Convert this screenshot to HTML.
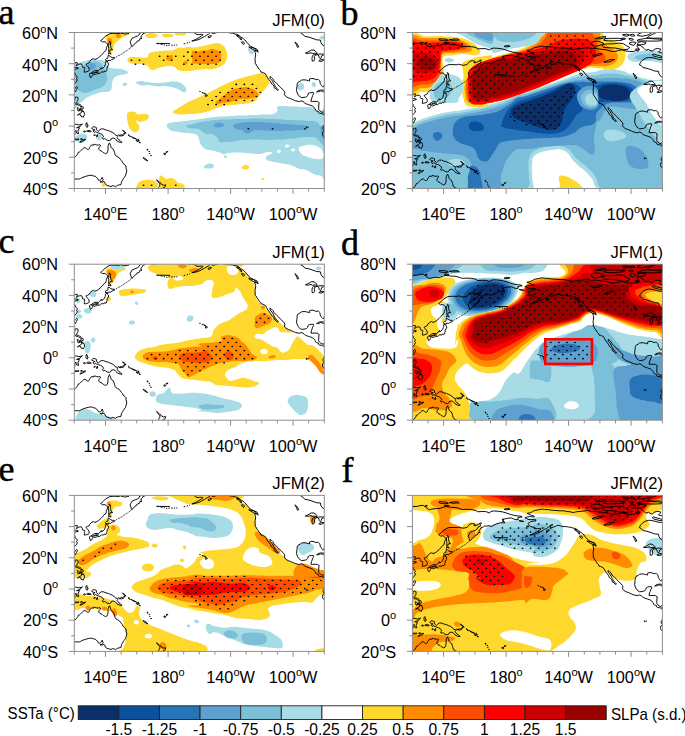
<!DOCTYPE html><html><head><meta charset="utf-8"><style>html,body{margin:0;padding:0;background:#fff;overflow:hidden}</style></head><body><svg width="685" height="736" viewBox="0 0 685 736" style="display:block">
<rect width="685" height="736" fill="#fff"/>
<defs>
<clipPath id="cpa"><rect x="74.3" y="32.5" width="250.0" height="156.0"/></clipPath>
<clipPath id="cpb"><rect x="412.4" y="32.5" width="250.0" height="156.0"/></clipPath>
<clipPath id="cpc"><rect x="74.3" y="264.2" width="250.0" height="156.0"/></clipPath>
<clipPath id="cpd"><rect x="412.4" y="264.2" width="250.0" height="156.0"/></clipPath>
<clipPath id="cpe"><rect x="74.3" y="495.4" width="250.0" height="156.0"/></clipPath>
<clipPath id="cpf"><rect x="412.4" y="495.4" width="250.0" height="156.0"/></clipPath>
</defs>
<g clip-path="url(#cpa)">
<path fill-rule="evenodd" fill="#ffd82e" d="M111.0,53.3L110.5,53.3L109.8,52.5L107.6,43.0L106.2,40.2L105.7,38.5L105.7,36.5L106.5,35.2L107.3,35.0L109.3,33.9L110.3,33.8L111.0,33.4L118.0,32.4L127.8,32.4L129.4,32.8L129.7,33.2L129.7,34.0L128.9,35.0L127.8,35.2L126.3,35.8L125.0,35.9L123.5,36.7L120.7,38.5L120.3,39.0L115.2,43.0L114.3,44.5L113.1,50.0L112.6,51.5L112.2,52.2L111.0,53.3ZM182.1,35.6L178.1,35.6L176.3,35.3L175.3,34.9L174.7,34.2L174.6,33.8L175.3,33.2L178.1,32.6L184.6,32.6L185.8,33.0L186.3,33.5L186.2,34.2L185.1,35.1L182.1,35.6ZM151.8,38.1L149.6,38.1L148.8,37.9L147.6,37.9L146.8,37.6L146.1,37.0L145.7,36.5L145.3,35.0L145.5,34.5L146.1,34.0L148.1,33.4L149.8,33.1L152.1,33.1L153.1,33.4L154.3,33.4L156.6,33.9L157.6,34.8L157.7,35.2L157.4,36.0L156.3,37.1L155.3,37.6L154.1,37.9L152.3,37.9L151.8,38.1ZM169.3,37.3L165.1,37.4L163.8,37.0L162.2,35.8L161.8,34.8L162.3,34.2L163.6,33.9L166.1,33.9L167.1,33.6L167.8,33.9L170.3,33.9L171.8,34.2L172.8,34.5L173.6,35.2L173.6,36.0L173.1,36.3L169.3,37.3ZM189.8,71.1L183.1,71.1L179.6,70.6L178.8,70.2L177.7,70.0L175.1,67.2L174.1,66.7L171.8,66.1L166.8,66.1L165.8,66.4L164.6,66.4L162.1,67.1L159.6,67.4L158.3,68.1L157.3,68.2L155.1,69.5L153.8,70.1L151.8,70.3L150.6,69.8L148.8,67.2L147.1,65.5L144.3,64.4L142.6,64.1L140.1,64.1L139.1,63.9L134.1,64.1L131.3,63.6L129.8,63.0L127.7,60.8L127.4,60.0L127.4,59.0L127.9,58.2L129.1,57.4L129.8,57.1L131.6,56.9L135.1,56.9L135.8,57.1L141.1,57.4L143.8,57.9L146.6,57.6L147.8,57.0L148.3,56.5L148.4,55.0L148.9,53.5L151.3,52.2L155.8,51.4L158.6,51.4L159.3,51.1L161.1,51.1L164.1,50.6L172.3,50.6L176.1,48.8L177.2,47.8L178.1,47.4L179.6,47.4L180.3,47.6L182.3,47.6L183.3,47.9L188.1,47.1L190.8,47.1L191.8,47.4L196.3,47.4L197.1,47.1L198.3,47.1L203.1,45.9L204.3,45.9L205.8,45.2L211.3,43.9L212.3,43.9L213.6,43.4L215.6,43.1L217.6,43.1L219.1,43.4L221.3,44.2L223.1,45.4L224.4,46.8L225.4,48.5L226.9,52.2L227.2,53.8L227.2,56.2L226.9,58.2L226.1,60.5L224.9,63.0L223.7,64.5L222.1,65.8L220.1,66.8L217.3,67.8L214.3,68.8L212.6,69.1L210.6,69.4L208.3,69.4L207.3,69.1L203.8,69.1L202.6,69.4L200.3,69.4L199.6,69.6L196.3,69.9L189.8,71.1ZM187.8,114.3L179.1,114.4L178.1,114.1L176.1,114.1L173.3,113.2L173.0,113.0L172.7,112.2L173.8,110.7L175.6,109.8L177.8,108.2L187.3,102.4L189.6,101.6L191.6,100.4L197.1,98.3L201.6,95.9L203.8,95.1L211.8,91.1L213.6,89.9L224.1,84.7L226.3,83.8L227.8,82.9L237.8,78.9L238.8,78.8L240.3,78.2L241.6,78.1L243.1,77.4L245.3,77.1L247.8,76.2L257.8,73.7L259.1,73.6L261.1,73.1L262.8,73.2L265.3,74.2L267.4,76.8L268.4,78.8L269.1,81.0L269.2,82.2L268.8,83.8L266.9,86.8L265.2,89.0L260.4,94.0L258.9,96.5L256.4,99.8L255.1,100.8L252.8,102.0L251.3,102.6L250.1,102.6L247.6,103.4L246.3,103.4L243.8,103.9L242.6,103.9L241.8,104.1L239.3,104.1L238.6,104.4L236.3,104.4L233.6,104.9L231.3,104.9L230.6,105.1L223.3,105.9L220.1,106.7L218.8,107.3L214.1,108.9L213.1,109.5L211.1,110.2L210.3,110.8L204.1,112.6L202.3,112.6L200.6,113.1L199.3,113.1L194.6,113.9L188.3,114.1L187.8,114.3ZM135.6,132.3L134.1,132.3L132.6,131.6L130.6,129.6L129.7,128.5L129.0,127.0L127.9,123.5L127.2,119.8L126.9,116.2L126.7,115.5L127.0,114.0L127.5,112.9L128.1,112.4L129.3,111.9L131.8,111.4L132.8,111.4L135.1,112.0L135.7,112.5L136.7,114.0L137.6,114.4L139.6,114.4L141.8,113.9L145.6,113.9L147.1,114.2L148.1,114.8L148.9,115.8L148.6,117.8L146.8,119.9L145.6,120.6L142.1,121.6L139.3,121.9L138.3,121.6L137.1,120.4L136.8,120.3L136.3,120.5L136.0,121.0L136.0,121.5L137.4,123.5L138.9,125.0L139.4,126.2L139.4,127.8L138.7,130.0L137.6,131.3L135.6,132.3ZM246.3,169.6L244.8,169.6L242.8,169.1L241.8,168.0L241.8,167.0L242.3,166.4L244.8,165.0L246.1,164.9L247.3,165.2L248.6,166.0L249.1,167.0L249.2,167.8L248.9,168.2L248.1,169.0L246.3,169.6ZM184.8,188.3L160.6,188.4L159.8,188.2L159.7,188.0L159.9,187.2L159.2,184.0L159.2,182.0L158.9,181.0L158.9,179.0L159.5,176.5L160.3,175.4L161.3,175.5L163.6,177.0L165.3,178.6L165.8,178.9L167.6,178.8L169.6,177.9L171.6,177.9L172.8,178.2L174.6,179.1L176.2,180.8L176.8,181.8L178.1,182.8L181.8,183.4L183.4,184.2L184.4,185.8L184.9,188.0L184.8,188.3ZM263.1,180.3L262.6,180.3L262.1,180.0L261.5,179.2L261.5,178.5L262.1,178.0L263.1,177.9L263.6,178.2L263.9,178.8L263.8,179.5L263.1,180.3ZM157.1,188.3L136.3,188.4L135.8,188.2L135.7,188.0L136.9,185.8L137.5,183.5L138.6,182.4L140.3,181.2L144.1,179.9L148.6,179.6L149.6,179.9L151.1,179.9L153.8,180.4L155.3,181.2L156.8,182.2L157.6,183.0L158.2,184.8L157.6,187.2L157.1,188.3ZM104.0,187.0L103.0,187.0L102.3,186.5L101.7,185.0L101.7,184.2L102.0,183.8L102.8,182.9L103.3,182.6L103.8,182.7L104.3,183.2L104.8,184.0L105.2,185.0L105.1,185.8L104.9,186.2L104.0,187.0ZM127.5,188.3L126.8,188.3L126.4,188.2L126.5,188.0L127.3,187.9L127.6,188.0L127.7,188.2L127.5,188.3Z"/>
<path fill-rule="evenodd" fill="#ff8c00" d="M119.3,38.1L117.8,38.1L117.0,37.8L115.5,35.8L115.5,34.8L116.0,34.4L117.3,34.1L118.5,34.1L120.3,34.5L121.0,35.0L121.3,35.5L120.8,37.0L120.1,37.8L119.3,38.1ZM111.0,45.0L110.0,45.1L109.5,44.9L108.7,44.0L108.0,42.5L107.4,40.2L107.4,39.2L107.7,38.8L108.5,38.0L109.8,37.9L110.8,38.2L112.1,39.8L112.4,41.0L112.4,43.0L111.8,44.3L111.0,45.0ZM213.8,64.1L202.3,64.1L201.3,63.9L194.3,63.6L192.1,63.3L191.8,62.8L192.4,62.0L192.6,61.2L191.7,56.8L191.7,52.2L192.0,51.5L192.6,50.9L193.3,50.6L194.3,50.7L195.1,51.5L196.1,51.9L196.8,51.6L198.1,51.6L202.8,50.6L207.3,50.4L209.3,49.8L210.8,49.0L211.3,48.9L213.1,48.9L214.3,49.2L215.6,49.8L218.6,50.7L219.6,51.5L220.6,52.8L221.2,55.2L221.2,58.2L220.9,59.8L219.6,62.0L218.3,62.8L216.3,63.6L215.1,63.6L213.8,64.1ZM170.3,61.1L169.3,61.1L167.1,60.1L165.8,59.1L165.7,58.5L166.6,57.2L167.3,56.4L169.3,55.4L170.6,55.1L172.1,55.2L172.7,55.8L172.9,56.2L172.8,58.8L171.6,60.3L170.3,61.1ZM185.8,64.8L185.3,64.9L184.0,64.5L183.5,64.0L183.2,63.0L183.2,62.5L183.7,61.8L184.6,61.2L185.6,60.9L187.3,61.7L187.7,62.5L186.9,64.0L185.8,64.8ZM218.8,104.3L217.8,104.4L216.3,103.8L215.8,103.0L215.7,102.5L216.3,101.4L220.6,98.2L226.8,92.9L228.6,91.7L230.6,90.8L232.3,89.7L236.1,88.4L240.1,87.9L241.6,87.4L243.1,87.4L243.8,87.1L246.3,87.1L249.1,87.7L253.3,89.2L255.4,90.5L257.3,92.2L258.4,94.5L258.4,95.8L258.1,96.2L257.3,96.8L253.8,98.1L252.6,98.1L250.8,98.6L249.3,98.6L247.6,99.1L239.6,99.1L232.3,101.6L226.8,102.6L225.3,102.6L221.8,103.1L219.3,104.0L218.8,104.3Z"/>
<path fill-rule="evenodd" fill="#a7dbe5" d="M323.6,39.3L321.6,39.4L320.8,39.1L320.0,38.2L319.8,37.0L320.8,36.2L321.6,35.9L322.6,35.8L323.8,36.0L324.2,36.5L324.2,38.8L323.6,39.3ZM252.1,54.3L251.3,54.4L250.3,54.0L249.2,52.8L248.0,50.2L247.7,49.2L248.0,48.5L248.6,48.0L250.3,47.6L252.1,48.2L253.2,49.0L254.1,50.2L254.2,52.0L253.8,53.2L253.3,53.8L252.1,54.3ZM75.0,109.0L74.5,109.0L74.2,108.0L74.3,59.8L74.6,60.0L75.2,63.0L75.5,63.6L76.0,63.8L78.3,63.3L79.3,62.7L81.5,62.1L82.8,61.4L89.0,59.9L90.3,59.9L91.3,59.6L96.5,59.6L97.5,59.9L100.8,59.9L102.0,60.1L104.2,61.2L105.4,62.5L108.2,66.2L110.0,68.0L113.3,68.6L116.8,68.4L121.5,69.1L123.5,69.8L124.5,69.9L126.8,70.9L127.6,71.5L128.1,72.2L127.9,73.0L126.3,74.1L120.3,74.9L117.5,75.7L115.5,76.7L113.9,78.0L113.0,79.8L112.4,81.5L111.7,85.5L111.7,88.0L111.4,89.5L110.6,90.8L109.9,91.2L107.5,92.1L102.5,91.9L100.5,92.2L96.8,93.4L95.8,94.0L94.5,94.2L90.3,95.7L87.0,97.4L84.8,99.1L81.9,102.0L77.8,104.4L75.9,108.0L75.0,109.0ZM184.8,92.5L183.6,92.3L182.3,91.8L178.3,89.2L177.1,88.7L174.1,87.7L172.1,87.1L171.1,87.1L169.1,86.4L165.1,85.9L164.1,86.1L161.8,86.1L161.1,86.4L157.1,86.4L156.3,86.1L154.1,86.1L148.6,85.1L147.1,85.1L144.6,85.6L142.6,85.6L140.8,85.3L139.8,84.9L138.8,84.8L136.5,83.5L135.7,82.5L136.1,82.0L137.3,81.4L139.8,81.1L141.6,81.1L145.6,81.9L147.6,81.9L149.3,82.4L150.6,82.4L153.6,82.9L162.3,82.9L163.1,82.6L166.3,82.4L168.1,81.9L170.3,81.9L171.3,81.6L176.6,81.6L178.3,81.9L179.3,82.2L182.1,83.8L185.4,87.0L186.4,89.0L186.4,90.2L185.8,91.6L184.8,92.5ZM314.3,87.3L313.8,87.3L312.6,86.6L311.7,84.5L311.8,83.5L312.3,82.5L313.6,81.9L314.3,81.9L314.8,82.1L315.9,83.8L315.9,85.2L315.6,86.2L315.1,87.0L314.3,87.3ZM125.0,86.1L123.8,86.0L123.2,85.5L122.7,84.8L123.0,83.5L124.0,82.7L125.8,82.7L127.1,83.5L127.1,84.5L126.5,85.3L125.0,86.1ZM301.6,90.3L299.8,90.4L299.0,90.0L297.8,89.1L297.6,88.5L297.0,87.8L296.7,86.8L296.7,85.5L297.2,84.8L298.6,83.4L300.6,82.6L302.6,83.3L303.6,84.2L303.9,84.8L304.4,87.2L303.8,89.1L301.6,90.3ZM324.1,180.1L323.8,180.0L323.2,179.0L322.6,176.8L322.1,176.2L320.1,175.6L315.8,175.1L311.8,173.0L309.3,171.4L307.1,170.4L304.6,169.6L299.8,169.0L298.8,168.4L296.8,167.8L294.3,166.4L288.6,164.4L285.6,163.9L282.1,163.6L280.3,163.1L279.1,163.1L275.3,162.1L273.8,162.1L270.8,161.2L269.6,161.1L267.1,160.2L265.8,158.5L265.7,157.2L265.9,156.8L266.6,156.2L272.1,153.6L272.5,153.2L272.6,153.0L271.8,152.4L270.3,152.1L266.8,152.1L264.3,153.1L260.3,153.9L257.8,154.0L254.6,153.9L253.8,153.6L249.3,153.4L248.6,153.1L246.8,153.1L246.1,152.9L244.3,152.9L241.1,152.4L234.6,152.4L233.6,152.6L231.8,152.6L231.1,152.9L227.6,153.1L224.8,154.3L223.8,154.4L222.6,154.0L221.8,153.5L220.6,153.0L219.6,152.4L217.8,152.1L216.6,151.4L209.6,150.1L208.1,150.1L206.3,149.6L203.7,148.0L201.7,146.0L199.5,141.5L199.2,140.5L199.1,139.2L198.4,137.0L197.6,135.7L196.6,134.7L192.6,133.6L191.3,133.6L188.6,133.1L186.1,133.1L185.3,132.9L178.1,132.1L175.8,131.6L174.1,131.6L173.1,131.2L171.8,131.0L171.1,130.5L170.0,130.0L167.8,128.0L167.0,126.8L166.7,125.8L166.7,125.0L167.2,124.2L167.8,123.7L169.3,122.9L171.8,122.4L175.3,122.1L176.1,121.9L178.3,121.9L179.1,121.6L180.3,121.6L181.1,121.4L182.3,121.4L183.1,121.1L184.3,121.1L185.1,120.9L186.3,120.9L187.1,120.6L188.3,120.6L189.1,120.4L190.3,120.4L191.1,120.1L192.3,120.1L201.1,118.9L202.6,118.9L205.6,118.1L207.1,118.1L209.1,117.6L211.3,117.6L213.8,117.1L217.1,117.1L219.8,116.6L223.3,116.6L224.1,116.4L227.3,116.4L228.1,116.1L231.3,116.1L232.1,115.9L235.6,115.9L236.3,115.6L241.3,115.6L242.3,115.4L247.1,115.4L247.8,115.1L252.3,115.1L253.3,114.9L259.1,114.9L260.3,114.6L266.6,114.6L267.6,114.4L271.3,114.4L273.1,114.1L275.1,113.2L276.3,112.3L277.3,111.0L277.7,109.5L276.5,107.5L276.6,107.2L277.8,106.4L279.6,106.1L286.8,106.1L287.8,106.4L293.6,106.4L294.3,106.6L297.8,106.6L298.8,106.9L307.6,106.9L308.6,107.1L310.6,107.1L314.1,108.2L316.1,110.1L319.8,111.9L320.3,111.8L320.7,111.5L322.7,109.0L323.6,108.8L324.1,109.2L324.2,109.8L324.2,179.0L324.1,180.1ZM81.8,143.1L80.5,143.1L79.3,142.8L77.5,141.9L75.5,139.5L74.8,138.0L75.0,137.0L76.3,135.7L77.8,134.9L80.8,133.9L83.0,133.6L85.0,134.0L86.7,135.2L87.1,136.2L86.6,139.0L85.7,140.2L84.3,141.6L83.0,142.5L81.8,143.1ZM99.3,140.3L98.5,140.4L97.5,140.0L96.8,139.2L96.2,137.2L96.3,135.5L97.2,134.5L98.3,133.9L99.8,134.0L101.0,134.7L101.8,135.5L102.2,136.5L101.9,138.2L101.3,139.3L100.3,140.1L99.3,140.3ZM287.4,147.5L288.1,147.2L288.9,146.5L289.2,146.0L289.1,145.2L288.8,145.0L287.6,144.4L286.6,144.4L285.8,144.9L284.9,145.8L284.8,146.5L285.8,147.3L287.4,147.5ZM319.2,159.2L321.1,159.1L323.1,158.0L323.7,156.2L323.7,155.0L323.1,152.5L322.1,150.2L320.9,148.5L318.6,146.9L317.6,146.4L316.1,146.1L315.1,145.5L314.1,145.2L309.3,144.6L307.1,144.9L301.3,146.2L299.3,147.2L298.7,147.8L298.6,148.2L298.7,149.2L299.5,151.2L300.7,153.2L303.1,155.3L308.8,157.6L314.8,159.1L317.6,159.1L318.3,159.4L319.2,159.2ZM293.7,151.2L294.3,150.9L295.1,150.0L295.1,149.2L294.6,148.9L293.6,148.6L292.3,148.7L291.3,149.4L290.8,150.0L290.9,150.8L291.8,151.3L293.7,151.2ZM279.2,153.0L279.9,152.8L280.6,152.1L280.9,151.2L280.8,150.8L280.3,150.2L279.6,149.9L278.6,149.8L277.8,150.0L277.2,150.5L276.7,151.2L276.9,152.2L277.6,152.8L278.8,153.1L279.2,153.0ZM226.1,158.3L225.1,158.1L224.3,157.5L223.8,156.8L223.9,156.2L225.1,155.5L226.1,155.5L226.8,156.0L227.1,156.5L226.8,157.8L226.1,158.3ZM211.3,168.6L207.6,168.6L205.3,168.3L204.6,168.0L204.1,167.6L203.8,166.2L204.6,165.4L207.3,163.9L209.6,163.6L212.3,163.9L213.1,164.4L213.8,165.2L213.9,166.2L213.1,167.6L211.3,168.6Z"/>
<path fill-rule="evenodd" fill="#7bbfd8" d="M87.3,92.8L85.8,93.0L84.5,92.9L79.8,91.3L78.8,90.8L77.8,90.0L77.0,88.8L74.2,80.2L74.3,69.2L76.0,68.2L78.3,67.8L83.5,66.1L88.3,62.7L89.8,61.9L92.0,61.4L95.0,61.4L98.5,61.9L99.5,62.4L100.8,63.4L101.9,65.0L103.0,66.2L105.6,71.0L106.7,74.0L106.9,77.2L107.2,78.0L106.9,81.0L105.5,83.6L103.6,86.0L102.5,86.8L101.0,87.6L100.3,87.7L99.3,88.3L94.0,89.9L89.8,92.1L87.3,92.8ZM324.1,146.8L323.6,146.6L321.4,143.5L320.6,142.8L319.7,141.5L317.1,138.6L314.8,137.4L313.6,137.1L303.6,137.1L301.6,137.6L299.6,137.6L297.6,138.1L295.8,138.1L295.1,138.4L293.3,138.4L292.6,138.6L290.8,138.6L287.6,139.1L284.6,139.1L283.6,139.4L279.6,139.4L278.6,139.6L274.8,139.6L273.8,139.9L267.8,140.0L262.3,139.9L261.3,139.6L248.6,139.6L247.8,139.9L244.3,139.9L243.6,140.1L242.1,140.1L241.3,140.4L238.3,140.6L236.6,141.1L235.3,141.1L230.6,141.9L228.3,141.9L227.3,142.1L224.1,142.1L223.1,142.4L220.1,142.1L219.6,141.9L219.0,141.2L218.3,138.8L217.2,137.2L213.3,134.4L211.3,133.9L208.6,133.9L207.6,134.1L205.8,134.1L204.2,133.0L200.8,130.2L198.8,129.2L196.6,128.6L194.1,128.6L193.3,128.4L189.8,128.1L186.8,127.1L186.2,126.8L185.8,126.2L186.1,125.8L187.1,125.4L192.6,124.3L193.6,124.1L194.8,123.4L201.1,121.9L202.3,121.9L203.3,121.4L206.3,120.9L208.6,120.9L210.3,120.4L214.8,120.1L215.6,119.9L222.8,119.6L223.8,119.4L231.3,119.4L232.3,119.1L239.3,119.1L240.6,118.9L249.6,118.9L250.8,118.6L264.8,118.6L265.8,118.9L272.6,118.9L273.3,119.1L282.6,119.4L285.8,119.9L290.3,119.9L291.1,120.1L301.1,120.4L301.8,120.6L305.8,120.6L306.8,120.9L311.8,120.9L313.6,121.1L315.1,121.5L317.6,122.6L318.8,123.9L320.0,126.0L320.6,126.6L321.5,125.8L322.8,125.0L323.8,124.9L324.2,125.2L324.2,146.0L324.1,146.8Z"/>
<path fill-rule="evenodd" fill="#5ea1d0" d="M91.5,70.1L90.3,69.8L89.3,69.2L88.2,67.5L87.9,65.5L88.7,64.2L89.8,63.4L91.0,62.9L93.0,62.9L94.5,63.4L95.5,64.2L95.7,66.5L94.8,68.8L93.0,69.8L91.5,70.1ZM248.8,133.3L247.1,133.4L245.8,133.1L245.1,132.6L242.9,130.5L241.1,129.7L239.1,129.4L237.3,129.4L235.3,128.8L234.3,128.1L233.5,127.2L233.0,126.2L233.2,125.5L234.2,124.5L235.6,123.9L239.1,122.9L240.3,122.9L241.8,122.4L245.1,122.4L246.1,122.1L262.3,122.1L263.3,122.4L267.1,122.4L267.8,122.6L270.1,122.6L270.8,122.9L274.6,122.9L275.3,123.1L280.6,123.4L282.8,123.9L288.3,124.1L289.1,124.4L291.3,124.4L292.1,124.6L294.3,124.6L295.1,124.9L302.6,125.1L305.1,125.7L307.1,126.4L307.6,127.0L308.1,128.2L307.8,129.1L307.1,129.6L306.1,129.9L304.3,129.9L303.6,130.1L297.6,130.1L296.3,130.4L289.6,130.4L288.6,130.6L284.8,130.6L284.1,130.9L280.3,130.9L279.3,131.1L268.1,131.1L265.8,130.6L263.3,130.6L259.6,129.9L256.3,129.9L254.6,130.2L253.3,130.7L249.8,133.0L248.8,133.3ZM220.6,127.6L217.6,127.6L214.8,127.0L213.8,125.8L213.8,124.2L215.1,123.4L217.1,122.9L218.8,122.6L222.6,123.2L224.1,124.4L224.1,125.5L223.3,126.6L221.8,126.9L220.6,127.6ZM324.1,140.3L323.6,140.1L322.5,138.5L321.5,136.2L321.2,134.2L321.2,132.5L320.4,129.8L320.3,127.8L320.5,127.0L321.2,126.0L323.1,124.9L324.0,125.0L324.2,125.5L324.1,140.3Z"/>
<path d="M74.0,84.8L74.6,83.7L75.9,82.3L76.8,81.3L77.3,79.5L76.2,78.7L77.3,77.7L77.3,76.8L75.9,75.6L75.2,74.3L74.8,72.7L73.4,71.8L73.7,70.6L74.8,69.8L75.9,69.0L78.2,68.4L78.2,67.8L76.6,67.4L75.1,67.3L74.0,67.9L72.7,68.1M74.0,63.9L75.9,62.5L77.6,62.9L76.8,64.6L76.2,65.6L77.1,65.3L78.2,64.5L79.9,64.0L81.0,63.9L81.8,64.3L82.4,65.4L82.0,66.4L83.0,67.3L84.5,67.4L84.8,68.4L84.3,69.6L84.6,70.6L84.1,72.1L85.5,72.1L86.8,71.7L88.4,71.3L89.0,70.7L89.1,69.3L89.0,68.2L87.9,66.8L87.3,65.9L86.0,64.8L86.2,64.0L87.6,63.5L89.5,62.5L89.6,61.4L91.0,60.1L92.0,59.2L93.5,58.7L94.9,59.5L97.0,58.7L98.7,57.5L100.9,55.6L102.7,53.7L103.7,52.3L105.9,50.6L106.3,48.9L106.3,47.5L107.7,45.3L107.6,44.0L106.6,43.0L104.9,41.7L102.4,41.9L101.2,41.1L100.6,40.5L101.8,40.0L102.9,38.7L105.4,36.2L108.0,34.7L109.9,33.6L112.9,33.4L115.7,33.4L118.8,33.6L120.5,33.0L123.2,33.7L124.8,34.1L127.7,33.6L129.0,33.3L129.6,32.5L131.8,30.0L134.5,29.5L137.1,30.2L137.0,30.9L135.7,31.4L137.6,31.6L140.7,30.0L142.3,28.8L143.5,29.2L141.8,30.3L142.7,31.6L139.9,33.1L139.1,34.8L137.4,36.1L134.5,37.2L132.1,38.3L130.9,40.3L130.1,42.0L131.0,44.5L131.6,46.7L133.0,45.8L134.6,43.7L136.5,42.6L136.8,41.5L139.6,40.3L139.9,38.7L142.0,38.4L140.9,37.5L141.2,35.9L142.4,35.0L142.7,33.9L145.4,32.7L146.5,31.9L148.5,32.0L151.6,31.6L153.2,32.5L156.0,30.9L158.7,29.7L162.6,28.6L166.8,28.8L166.5,27.8L164.1,26.9L165.9,25.8L164.1,25.2L166.2,24.9L168.1,24.5L170.4,24.1L173.5,23.9L176.6,25.3L179.0,25.6L180.6,25.0L179.3,23.9L181.8,23.1L184.1,23.0L182.9,22.2L179.0,21.7L175.1,21.1L171.2,19.9L168.1,18.8L164.1,17.7L159.5,17.1L155.6,16.9L152.9,17.4L151.5,18.8L147.7,17.5L143.8,17.4L139.1,17.7L138.2,16.4L133.7,15.5L129.0,15.2L124.3,15.5L121.6,14.6L118.0,13.5L113.4,13.2L107.9,12.5L105.5,13.0L100.9,14.6L97.7,14.4L93.8,15.0L91.5,15.7L89.1,14.6L88.4,13.0L86.8,12.4L85.2,11.4L82.1,11.4L79.8,12.2L75.9,12.4L73.5,12.2M89.5,74.2L90.2,77.3L91.0,77.7L91.6,77.1L92.3,75.6L93.0,74.3L92.6,73.7L91.5,73.2L90.6,73.2L89.6,73.7ZM93.8,74.3L94.6,75.1L95.5,74.0L96.6,74.2L97.3,73.4L97.0,72.7L95.4,72.4L94.5,72.9L93.7,73.8ZM91.3,73.1L91.8,72.4L93.5,71.3L94.9,70.6L97.0,70.6L98.4,70.7L99.3,70.1L100.6,68.5L101.3,67.6L101.2,68.7L102.9,68.2L104.5,66.5L105.2,64.8L105.5,63.4L105.4,62.8L106.0,61.8L107.1,61.8L107.7,61.5L107.9,62.8L108.7,64.2L108.2,65.4L107.9,66.4L107.1,66.8L107.1,68.4L106.6,69.5L107.0,70.4L106.0,71.2L105.4,71.7L105.1,71.0L104.3,71.2L103.7,72.1L102.9,72.0L101.5,72.0L100.6,72.6L99.8,73.2L99.0,73.8L98.0,73.4L97.9,72.6L98.4,72.0L96.8,71.8L95.2,72.3L93.7,72.6L92.9,73.2L91.8,73.2ZM105.5,61.4L106.2,60.7L107.0,60.9L107.4,60.9L109.1,60.3L110.7,60.6L111.6,59.5L113.2,59.0L114.3,58.6L113.8,58.1L113.8,57.3L112.3,57.5L110.7,56.8L109.1,55.6L108.2,55.3L108.0,56.8L107.7,58.1L107.4,58.7L106.3,58.6L105.4,59.6L105.9,60.3ZM108.5,54.3L108.8,53.4L109.6,53.4L111.0,54.2L110.5,52.9L109.5,52.0L110.2,49.7L112.6,49.7L111.0,47.8L110.5,45.6L110.5,43.9L110.7,42.6L109.8,41.4L109.1,41.5L109.6,42.5L108.4,43.9L108.2,45.9L108.8,48.1L108.7,49.7L108.7,51.5L108.8,52.8ZM114.1,58.1L115.3,57.5M116.2,57.0L117.1,56.4M117.9,55.9L118.7,55.6M119.3,55.3L120.3,54.8M121.2,54.3L122.0,53.7M122.7,53.2L123.6,52.7M124.3,52.3L125.3,51.5M126.2,50.9L126.9,50.5M127.6,50.1L128.4,49.5M129.0,49.0L129.7,48.3M130.2,47.8L130.8,47.4M74.5,90.2L74.8,91.0L75.5,91.9L75.9,90.8L76.6,89.6L77.3,87.9L77.4,87.1L76.6,86.6L75.9,87.1L75.2,87.9L74.6,89.1ZM75.2,97.2L76.2,97.1L77.7,97.2L78.1,99.3L77.7,100.8L76.8,101.5L76.8,103.3L77.3,104.3L78.4,103.9L79.5,104.4L80.4,104.6L80.9,105.8L80.5,106.4L79.6,105.8L78.4,105.2L77.4,104.7L76.5,104.7L75.7,104.4L75.2,103.5L75.1,102.9L74.1,101.5L74.0,100.7L74.9,100.2L74.9,98.6ZM81.0,106.6L82.1,106.4L83.2,107.1L83.2,108.8L82.4,108.9L81.6,110.2L82.1,110.5L82.7,110.8L81.8,111.7L81.0,109.4L81.2,108.0ZM77.3,107.5L78.4,108.2L79.3,108.8L79.1,109.7L78.8,111.1L77.9,110.7L77.4,109.7L77.4,108.5ZM79.6,109.1L80.5,108.6L80.5,109.9L79.8,111.1L79.3,110.2ZM77.4,115.2L78.7,114.2L79.9,113.9L80.4,113.0L81.8,112.2L82.9,111.1L84.0,111.7L84.3,113.2L84.6,114.7L83.8,116.0L83.0,117.4L82.4,116.6L81.0,116.4L80.7,114.9L79.6,114.4L78.7,114.7ZM73.5,134.7L74.9,134.7L74.8,131.6L75.9,130.3L76.6,133.1L78.7,133.7L77.9,131.2L79.5,127.7L76.6,127.7L79.0,126.9L81.2,125.5L82.4,123.8L81.3,124.5L78.7,124.9L75.7,124.1L74.3,125.2L74.6,127.7L73.5,126.9L74.0,125.6L72.7,130.0L72.4,130.8L73.5,131.6ZM86.0,123.3L86.8,122.5L86.8,123.9L87.9,124.4L87.1,125.2L88.2,125.6L87.1,127.5L86.3,126.7L85.9,125.2ZM86.6,131.2L87.7,130.5L89.6,130.5L91.3,131.4L90.7,131.7L87.7,131.6ZM83.7,131.1L84.9,130.9L85.5,131.7L84.6,132.0L83.7,131.9ZM79.8,142.2L81.2,140.9L82.4,140.1L85.1,139.2L85.7,139.4L84.0,140.5L82.3,141.5L80.5,142.3ZM74.0,139.8L75.5,139.0L77.4,139.2L79.0,139.0L78.5,139.7L76.6,139.8L75.1,140.0ZM72.4,139.8L73.0,139.4L72.7,138.9L71.6,139.2ZM80.5,139.2L82.1,138.6L82.3,139.2ZM93.7,135.3L94.9,134.5L95.5,135.1L94.3,135.5ZM96.5,135.5L97.4,134.5L97.6,136.4L96.5,136.7ZM91.5,128.1L92.4,127.3L93.8,126.7L95.4,127.2L96.3,127.5L96.5,129.5L97.1,130.3L98.2,131.4L99.3,130.3L101.2,128.9L103.4,128.9L105.2,129.7L107.0,130.2L108.5,130.6L110.2,131.4L112.1,132.2L113.7,133.1L114.6,134.2L115.9,135.3L117.4,135.5L117.7,136.6L116.8,137.5L118.0,138.6L119.0,140.1L120.1,140.5L120.9,141.7L122.1,142.3L120.7,142.5L119.0,142.0L117.1,141.1L116.3,140.0L115.1,138.7L113.1,138.0L111.3,138.6L110.7,140.1L109.5,140.6L107.1,140.3L105.5,139.0L104.3,138.7L103.2,139.2L102.4,137.8L103.7,136.7L102.4,134.7L100.6,133.7L98.5,133.0L96.5,132.2L95.5,131.6L94.3,132.5L93.2,130.6L95.1,129.8L93.7,129.5L92.0,128.6ZM118.5,134.8L119.6,135.3L121.6,134.7L122.6,134.7L123.7,133.7L124.9,132.8L124.1,134.4L123.5,135.5L121.2,135.9L119.1,135.8ZM122.4,130.3L124.1,131.1L125.2,132.0L126.0,133.3L125.4,133.1L124.6,132.2L123.4,131.2ZM128.4,134.5L129.9,135.9L130.4,136.7L129.3,136.2L128.5,135.3ZM131.3,136.4L132.9,137.5L134.1,138.0L136.5,139.0L136.6,139.4L135.2,138.7L133.2,138.0L131.5,136.9ZM136.2,140.5L137.4,140.5L138.1,141.4L136.8,141.4ZM137.7,139.2L138.4,139.2L139.1,140.9L138.7,141.1ZM138.8,142.0L140.1,142.3L140.4,142.9L139.1,142.5ZM147.1,149.0L148.0,149.7L147.9,150.4L147.3,150.1ZM149.0,151.1L149.6,151.5L149.3,152.0ZM149.5,153.4L150.1,153.6L149.8,154.0ZM150.9,155.1L151.3,155.6L151.0,156.1ZM143.1,157.6L144.6,158.2L146.8,159.8L147.7,160.9L146.8,160.7L145.1,159.6L143.5,158.4ZM163.8,153.4L164.9,153.1L165.9,153.9L165.4,154.5L164.0,154.3ZM165.9,152.0L167.3,151.5L168.1,151.4L167.0,152.3L166.2,152.5ZM73.5,157.5L75.1,157.0L76.6,155.4L77.9,153.6L78.2,152.3L79.5,152.0L80.2,151.4L81.2,150.3L82.6,148.9L83.8,147.9L85.1,147.6L86.5,148.6L87.1,149.3L88.4,149.3L89.3,148.7L89.5,147.6L90.2,146.7L90.9,145.4L92.0,145.0L94.0,145.1L94.0,144.2L95.4,144.5L96.8,145.0L98.2,145.1L99.3,144.8L100.6,145.3L99.9,146.7L99.1,147.5L98.7,149.2L99.8,150.4L102.0,151.4L103.1,152.5L104.5,153.2L105.5,153.7L106.8,153.2L107.7,151.4L108.0,149.5L108.0,147.2L108.2,145.6L108.8,143.9L109.5,142.8L109.9,143.9L110.5,145.3L111.2,147.6L112.0,148.4L113.5,149.3L114.0,150.9L114.5,152.5L115.2,154.8L115.9,155.9L117.4,156.7L119.1,157.6L120.4,159.3L121.6,160.9L122.4,161.7L123.0,163.4L124.9,164.8L126.0,166.0L126.0,168.2L126.8,170.6L126.2,173.4L125.4,175.9L124.3,177.3L123.2,178.8L122.6,180.1L121.5,181.6L121.2,183.5L121.0,184.6L118.4,185.1L117.1,185.5L115.4,186.9L114.1,185.8L113.1,186.0L112.4,185.7L111.0,186.6L109.1,186.0L107.1,185.5L105.5,184.4L105.1,183.2L104.5,181.9L103.2,181.6L102.7,180.7L103.1,179.6L102.1,177.3L101.5,179.1L100.7,179.9L99.1,180.4L98.2,179.8L98.0,178.7L96.5,177.6L95.4,176.3L93.4,176.0L91.8,175.2L88.4,175.6L85.2,176.5L82.1,177.6L80.5,178.5L79.5,179.0L77.4,179.0L75.1,179.0L73.5,179.1M100.2,181.8L101.8,181.6L102.6,181.9L101.5,182.3L100.2,182.1ZM156.6,179.8L157.7,180.7L159.1,181.8L159.9,182.7L161.0,183.2L161.6,184.4L163.4,185.2L165.7,184.9L165.4,186.2L164.8,187.3L163.2,187.7L162.7,189.0L162.0,190.1L160.7,191.0L159.8,190.5L160.2,189.1L159.0,187.9L158.4,187.3L159.6,186.3L159.9,184.8L159.5,183.5L159.0,182.7L157.3,181.2ZM156.6,189.3L157.4,190.1L159.1,190.4L158.7,191.5L157.1,193.2M205.7,96.5L207.4,95.7L207.0,95.1L205.7,94.6L205.4,95.4ZM204.5,93.5L205.6,93.8L204.8,94.0ZM202.0,92.4L202.9,92.9L202.3,92.9ZM199.6,91.6L200.4,91.5L200.1,91.9ZM203.5,93.0L204.5,93.2L203.8,93.2ZM324.3,112.4L323.7,113.2L324.3,114.2L323.7,114.7L322.7,114.1L321.6,113.6L319.8,113.5L318.5,112.7L318.7,111.6L317.0,111.1L316.3,110.7L315.2,109.9L315.4,108.9L314.1,107.7L312.6,106.0L311.0,105.5L309.5,105.0L307.7,104.4L305.9,103.8L304.6,102.9L303.0,101.5L301.2,100.8L299.3,101.6L297.0,101.1L295.4,100.7L293.4,99.9L290.7,98.6L288.8,98.0L287.1,97.2L285.4,96.0L284.3,94.3L284.9,92.9L284.3,91.3L282.9,89.8L281.3,88.0L279.3,86.3L278.4,85.1L276.6,83.4L275.4,82.4L274.0,80.9L272.9,78.8L271.5,77.4L269.9,76.6L270.2,78.4L272.0,80.4L273.0,82.1L274.3,84.6L275.6,86.8L276.8,88.3L278.4,89.9L277.4,90.4L275.9,88.7L274.1,87.7L274.0,85.9L272.4,84.3L271.0,83.2L270.7,81.8L268.5,79.1L267.3,77.3L266.3,75.4L265.4,73.8L264.0,73.1L262.6,72.4L260.9,72.1L260.5,70.7L258.8,69.0L257.9,67.1L257.1,66.4L255.9,64.0L254.9,63.1L255.4,61.2L254.9,59.3L255.2,57.8L255.6,55.1L255.6,53.9L255.2,52.3L254.5,50.6L255.9,50.9L257.4,51.2L258.1,52.3L257.4,49.8L256.8,49.0L254.8,48.3L253.1,47.5L250.6,46.5L249.5,45.3L248.5,43.9L246.5,42.2L245.9,40.8L244.6,39.8L243.1,38.4L240.7,36.9L238.7,35.3L237.1,34.2L235.2,34.1L232.4,33.1L230.6,33.0L228.2,32.5L225.1,32.5L222.7,31.9L220.4,31.3L218.4,31.6L217.1,32.5L215.2,33.0L213.4,33.6L212.1,33.3L212.6,31.6L214.8,30.6L213.1,30.9L211.0,32.2L209.5,33.4L208.4,34.4L206.3,35.3L204.3,36.7L202.0,37.8L200.1,38.9L197.7,39.8L195.4,40.5L193.1,40.9L191.8,41.1L193.8,40.3L196.2,39.1L198.5,37.8L201.3,36.2L203.1,34.8L201.6,34.4L199.3,34.5L196.6,34.7L195.9,33.3L193.1,32.5L191.2,31.6L190.7,30.5L189.9,29.4L191.8,28.1L192.6,27.5L195.4,27.0L197.7,26.9L197.7,25.6L194.9,25.6L192.3,25.5L189.6,25.3L189.0,24.2L186.8,23.8L189.1,22.8L192.3,22.4L194.6,22.8L196.5,22.7L195.4,21.7L193.4,21.3L190.7,20.0L188.8,19.4L192.3,18.6L194.6,17.5L196.3,16.4L200.1,15.7L204.0,14.9L206.3,15.3L210.2,15.5L214.1,16.1L218.1,16.4L222.0,16.7L225.9,16.7L229.0,17.4L232.1,17.7L235.2,18.5L237.6,17.8L239.9,17.5L242.3,17.4L244.6,17.1L247.0,16.7L249.3,16.3L250.9,16.6L253.2,17.8L254.8,17.4L257.9,17.2L261.0,17.8L264.9,18.3L268.1,18.6L271.2,19.6L274.3,20.3L277.4,20.0L280.6,19.4L283.7,18.6L286.8,19.6L291.5,20.3L295.4,20.3L297.7,19.4L300.1,19.9L301.6,18.5L300.1,16.4L298.5,15.0L300.9,13.9L302.7,14.6L304.8,16.1L306.3,17.5L307.9,19.2L310.2,18.1L311.8,19.2L314.1,20.0L316.5,18.0L319.6,17.2L322.7,18.0L322.0,19.2L320.4,20.8L324.3,21.9M324.3,28.1L321.2,28.4L318.1,27.4L314.9,26.7L312.6,26.3L310.2,26.3L307.6,27.0L304.8,28.6L303.2,30.2L302.1,31.7L301.3,33.6L303.2,34.4L304.8,36.4L307.9,36.9L311.0,37.8L314.1,38.9L316.5,39.8L320.4,40.1L320.9,42.6L322.0,44.5L324.3,46.1M324.3,84.4L324.1,85.9L323.5,86.8L322.6,86.8L321.6,85.7L321.0,84.6L320.1,83.2L320.1,82.0L319.6,80.7L318.5,79.5L317.3,79.3L315.9,79.8L314.1,78.7L311.8,78.5L309.8,78.8L309.3,80.1L309.8,80.9L308.4,80.7L306.3,80.1L304.0,79.8L301.6,80.1L300.1,81.2L298.1,82.3L297.3,83.5L297.1,85.5L296.8,87.9L296.5,90.5L297.0,92.1L297.7,94.0L298.8,95.7L300.1,96.8L301.6,97.7L304.0,97.4L305.6,97.1L306.6,96.8L307.6,95.7L308.1,93.7L309.5,92.9L311.8,92.6L313.4,92.6L313.7,93.7L312.6,95.5L312.1,97.2L311.5,98.8L310.9,101.3L312.6,101.5L314.9,101.3L317.3,101.5L319.1,102.7L318.8,105.0L318.7,108.2L318.5,109.1L319.6,110.5L320.9,111.7L322.0,112.4L323.5,111.9L324.3,111.6M324.3,90.4L322.7,90.1L320.6,90.1L318.8,90.4L316.6,91.9L317.4,91.9L319.3,91.6L320.7,90.8L322.4,91.3L323.5,91.8L324.3,91.9M305.4,53.2L307.9,53.4L311.0,52.8L312.6,53.6L314.9,53.2L317.1,53.6L316.8,52.5L315.7,51.4L314.0,50.1L311.3,50.0L309.5,51.2L307.4,52.2ZM312.1,61.0L313.7,61.0L314.5,59.8L314.6,58.2L314.1,56.5L315.5,55.4L316.8,54.7L315.7,54.5L313.4,54.8L312.4,56.1L312.0,57.8L312.1,59.6ZM320.6,59.0L321.2,57.5L321.6,55.9L323.5,55.1L324.3,54.3L322.0,54.0L318.7,54.2L317.1,54.5L319.0,55.9L319.1,57.5ZM318.8,61.0L321.2,61.4L323.5,60.4L324.3,59.8L322.0,59.6L319.6,60.3ZM297.4,47.3L298.8,46.9L297.9,45.0L296.5,43.1L294.9,42.0L296.2,44.2L297.0,46.1ZM265.7,30.9L268.1,31.1L272.0,30.5L274.3,29.1L276.6,28.3L273.5,28.4L270.4,28.8L268.1,30.0ZM327.4,114.4L328.2,116.0L328.5,117.5L328.4,119.9L328.5,120.6L327.4,122.0L326.0,123.6L324.6,124.5L324.1,125.6L323.7,126.9L322.9,127.8L323.2,129.1L324.0,130.2L324.6,130.0L323.8,131.4L322.9,131.7L322.3,133.3L322.7,134.4L322.6,135.3L323.5,135.9L324.8,137.3L325.9,139.0M306.2,126.6L306.8,127.0L307.1,127.7L306.5,127.7L306.2,127.2ZM307.7,126.9L308.4,127.0L308.1,127.3ZM177.4,45.0L176.3,45.1M175.1,45.1L173.9,45.2M172.7,45.3L171.2,45.2M169.6,45.1L168.4,45.4M167.3,45.8L166.1,45.4M164.9,45.1L163.8,44.8M162.6,44.5L160.6,44.1M158.7,43.7L157.5,43.6M156.3,43.4L170.0,43.7M183.7,43.9L185.2,43.5M186.8,43.1L188.0,42.8M189.1,42.5L189.9,42.1M208.7,37.8L211.0,36.7L211.3,35.6L209.5,35.9L207.9,36.9ZM188.5,32.3L190.6,32.7L190.4,31.9L189.0,31.9ZM243.1,41.9L244.6,43.0L243.5,44.7L242.3,43.4L241.5,42.0ZM256.5,50.6L254.5,50.3L252.6,49.3L250.6,48.1L248.7,46.9L250.6,47.2L253.2,47.8L255.6,49.2ZM239.1,37.2L237.1,36.4L236.5,35.3L238.7,35.6ZM241.5,40.0L240.1,39.1L239.6,37.5L241.2,38.3Z" fill="none" stroke="#000" stroke-width="0.95" stroke-linejoin="round"/>
<path fill="#000" d="M186.87,52.15a1,.8 0 1,0 2,0a1,.8 0 1,0 -2,0M194.94,52.15a1,.8 0 1,0 2,0a1,.8 0 1,0 -2,0M203.00,52.15a1,.8 0 1,0 2,0a1,.8 0 1,0 -2,0M211.06,52.15a1,.8 0 1,0 2,0a1,.8 0 1,0 -2,0M219.13,52.15a1,.8 0 1,0 2,0a1,.8 0 1,0 -2,0M158.64,56.18a1,.8 0 1,0 2,0a1,.8 0 1,0 -2,0M166.71,56.18a1,.8 0 1,0 2,0a1,.8 0 1,0 -2,0M174.78,56.18a1,.8 0 1,0 2,0a1,.8 0 1,0 -2,0M182.84,56.18a1,.8 0 1,0 2,0a1,.8 0 1,0 -2,0M190.91,56.18a1,.8 0 1,0 2,0a1,.8 0 1,0 -2,0M198.97,56.18a1,.8 0 1,0 2,0a1,.8 0 1,0 -2,0M207.03,56.18a1,.8 0 1,0 2,0a1,.8 0 1,0 -2,0M215.10,56.18a1,.8 0 1,0 2,0a1,.8 0 1,0 -2,0M130.41,60.22a1,.8 0 1,0 2,0a1,.8 0 1,0 -2,0M138.48,60.22a1,.8 0 1,0 2,0a1,.8 0 1,0 -2,0M162.67,60.22a1,.8 0 1,0 2,0a1,.8 0 1,0 -2,0M170.74,60.22a1,.8 0 1,0 2,0a1,.8 0 1,0 -2,0M186.87,60.22a1,.8 0 1,0 2,0a1,.8 0 1,0 -2,0M194.94,60.22a1,.8 0 1,0 2,0a1,.8 0 1,0 -2,0M203.00,60.22a1,.8 0 1,0 2,0a1,.8 0 1,0 -2,0M211.06,60.22a1,.8 0 1,0 2,0a1,.8 0 1,0 -2,0M219.13,60.22a1,.8 0 1,0 2,0a1,.8 0 1,0 -2,0M134.45,64.25a1,.8 0 1,0 2,0a1,.8 0 1,0 -2,0M142.51,64.25a1,.8 0 1,0 2,0a1,.8 0 1,0 -2,0M182.84,64.25a1,.8 0 1,0 2,0a1,.8 0 1,0 -2,0M190.91,64.25a1,.8 0 1,0 2,0a1,.8 0 1,0 -2,0M198.97,64.25a1,.8 0 1,0 2,0a1,.8 0 1,0 -2,0M207.03,64.25a1,.8 0 1,0 2,0a1,.8 0 1,0 -2,0M215.10,64.25a1,.8 0 1,0 2,0a1,.8 0 1,0 -2,0M235.26,84.42a1,.8 0 1,0 2,0a1,.8 0 1,0 -2,0M243.32,84.42a1,.8 0 1,0 2,0a1,.8 0 1,0 -2,0M251.39,84.42a1,.8 0 1,0 2,0a1,.8 0 1,0 -2,0M231.23,88.45a1,.8 0 1,0 2,0a1,.8 0 1,0 -2,0M239.29,88.45a1,.8 0 1,0 2,0a1,.8 0 1,0 -2,0M247.36,88.45a1,.8 0 1,0 2,0a1,.8 0 1,0 -2,0M255.43,88.45a1,.8 0 1,0 2,0a1,.8 0 1,0 -2,0M219.13,92.48a1,.8 0 1,0 2,0a1,.8 0 1,0 -2,0M227.19,92.48a1,.8 0 1,0 2,0a1,.8 0 1,0 -2,0M235.26,92.48a1,.8 0 1,0 2,0a1,.8 0 1,0 -2,0M243.32,92.48a1,.8 0 1,0 2,0a1,.8 0 1,0 -2,0M251.39,92.48a1,.8 0 1,0 2,0a1,.8 0 1,0 -2,0M259.45,92.48a1,.8 0 1,0 2,0a1,.8 0 1,0 -2,0M215.10,96.51a1,.8 0 1,0 2,0a1,.8 0 1,0 -2,0M223.16,96.51a1,.8 0 1,0 2,0a1,.8 0 1,0 -2,0M231.23,96.51a1,.8 0 1,0 2,0a1,.8 0 1,0 -2,0M239.29,96.51a1,.8 0 1,0 2,0a1,.8 0 1,0 -2,0M247.36,96.51a1,.8 0 1,0 2,0a1,.8 0 1,0 -2,0M255.43,96.51a1,.8 0 1,0 2,0a1,.8 0 1,0 -2,0M211.06,100.55a1,.8 0 1,0 2,0a1,.8 0 1,0 -2,0M219.13,100.55a1,.8 0 1,0 2,0a1,.8 0 1,0 -2,0M227.19,100.55a1,.8 0 1,0 2,0a1,.8 0 1,0 -2,0M235.26,100.55a1,.8 0 1,0 2,0a1,.8 0 1,0 -2,0M243.32,100.55a1,.8 0 1,0 2,0a1,.8 0 1,0 -2,0M251.39,100.55a1,.8 0 1,0 2,0a1,.8 0 1,0 -2,0M207.03,104.58a1,.8 0 1,0 2,0a1,.8 0 1,0 -2,0M215.10,104.58a1,.8 0 1,0 2,0a1,.8 0 1,0 -2,0M223.16,104.58a1,.8 0 1,0 2,0a1,.8 0 1,0 -2,0M247.36,128.78a1,.8 0 1,0 2,0a1,.8 0 1,0 -2,0M271.56,128.78a1,.8 0 1,0 2,0a1,.8 0 1,0 -2,0M303.81,128.78a1,.8 0 1,0 2,0a1,.8 0 1,0 -2,0M142.51,185.24a1,.8 0 1,0 2,0a1,.8 0 1,0 -2,0M150.58,185.24a1,.8 0 1,0 2,0a1,.8 0 1,0 -2,0M174.78,185.24a1,.8 0 1,0 2,0a1,.8 0 1,0 -2,0"/>
</g>
<rect x="74.3" y="32.5" width="250.0" height="156.0" fill="none" stroke="#8e8e8e" stroke-width="1.0"/>
<path d="M68.8,32.5H74.3M71.1,48.1H74.3M68.8,63.7H74.3M71.1,79.3H74.3M68.8,94.9H74.3M71.1,110.5H74.3M68.8,126.1H74.3M71.1,141.7H74.3M68.8,157.3H74.3M71.1,172.9H74.3M68.8,188.5H74.3M74.3,188.5V191.7M89.9,188.5V191.7M105.5,188.5V194.0M121.2,188.5V191.7M136.8,188.5V191.7M152.4,188.5V191.7M168.1,188.5V194.0M183.7,188.5V191.7M199.3,188.5V191.7M214.9,188.5V191.7M230.6,188.5V194.0M246.2,188.5V191.7M261.8,188.5V191.7M277.4,188.5V191.7M293.1,188.5V194.0M308.7,188.5V191.7M324.3,188.5V191.7" stroke="#8e8e8e" stroke-width="1.0" fill="none"/>
<text x="58.1" y="39.4" text-anchor="end" font-size="16.3" font-family="Liberation Sans, sans-serif">60<tspan font-size="11" dy="-6.9">o</tspan><tspan dy="6.9">N</tspan></text>
<text x="58.1" y="70.6" text-anchor="end" font-size="16.3" font-family="Liberation Sans, sans-serif">40<tspan font-size="11" dy="-6.9">o</tspan><tspan dy="6.9">N</tspan></text>
<text x="58.1" y="101.8" text-anchor="end" font-size="16.3" font-family="Liberation Sans, sans-serif">20<tspan font-size="11" dy="-6.9">o</tspan><tspan dy="6.9">N</tspan></text>
<text x="58.1" y="133.0" text-anchor="end" font-size="16.3" font-family="Liberation Sans, sans-serif">0<tspan font-size="11" dy="-6.9">o</tspan></text>
<text x="58.1" y="164.2" text-anchor="end" font-size="16.3" font-family="Liberation Sans, sans-serif">20<tspan font-size="11" dy="-6.9">o</tspan><tspan dy="6.9">S</tspan></text>
<text x="58.1" y="195.4" text-anchor="end" font-size="16.3" font-family="Liberation Sans, sans-serif">40<tspan font-size="11" dy="-6.9">o</tspan><tspan dy="6.9">S</tspan></text>
<text x="105.5" y="220.1" text-anchor="middle" font-size="16.3" font-family="Liberation Sans, sans-serif">140<tspan font-size="11" dy="-6.9">o</tspan><tspan dy="6.9">E</tspan></text>
<text x="168.1" y="220.1" text-anchor="middle" font-size="16.3" font-family="Liberation Sans, sans-serif">180<tspan font-size="11" dy="-6.9">o</tspan></text>
<text x="230.6" y="220.1" text-anchor="middle" font-size="16.3" font-family="Liberation Sans, sans-serif">140<tspan font-size="11" dy="-6.9">o</tspan><tspan dy="6.9">W</tspan></text>
<text x="293.1" y="220.1" text-anchor="middle" font-size="16.3" font-family="Liberation Sans, sans-serif">100<tspan font-size="11" dy="-6.9">o</tspan><tspan dy="6.9">W</tspan></text>
<text x="324.9" y="26.3" text-anchor="end" font-size="16.6" font-family="Liberation Sans, sans-serif">JFM(0)</text>
<g clip-path="url(#cpb)">
<path fill-rule="evenodd" fill="#ffd82e" d="M482.1,107.8L478.9,107.9L477.1,107.4L472.4,107.1L467.1,105.8L466.4,105.4L465.8,104.8L464.3,101.8L462.0,93.0L462.7,91.2L463.3,89.0L463.3,87.2L463.5,86.5L463.2,84.5L462.5,82.5L462.5,81.0L463.7,77.0L463.5,76.5L463.5,73.8L463.0,71.8L463.0,70.2L461.8,65.0L461.8,64.2L462.4,62.7L463.9,61.5L475.4,57.6L476.6,57.6L478.1,57.1L479.1,57.1L480.4,56.7L483.4,56.1L489.4,55.6L490.9,54.9L491.6,55.2L492.4,57.0L492.9,57.2L498.6,55.4L505.1,54.1L506.9,53.4L510.4,52.8L511.6,52.2L515.4,51.3L516.6,50.7L518.1,50.3L519.1,49.7L520.6,49.3L521.6,48.7L522.4,48.6L524.4,47.6L525.3,46.8L526.4,46.2L527.4,45.9L531.9,45.3L533.9,44.4L535.4,44.0L537.5,42.2L538.7,40.8L539.5,39.2L544.3,34.5L544.9,33.5L545.1,32.5L545.4,32.4L601.9,32.4L602.5,32.8L603.2,33.8L603.8,35.8L603.8,36.8L604.1,37.2L608.1,38.7L609.6,39.6L617.1,42.2L620.9,44.4L622.6,45.9L624.0,47.5L624.7,49.0L625.3,51.0L625.3,56.8L624.7,59.5L624.0,61.5L622.1,64.6L620.8,66.0L618.9,67.3L616.9,68.3L612.9,69.1L607.4,69.4L606.4,69.1L604.4,69.1L602.4,68.6L600.4,68.6L599.6,68.4L597.9,68.4L597.1,68.1L595.6,68.1L594.9,67.9L593.4,67.9L592.6,67.6L589.6,67.4L588.4,67.7L585.1,69.1L583.6,69.1L582.6,68.5L576.9,71.3L573.6,72.4L566.1,75.8L541.4,86.2L538.9,87.6L534.4,89.3L526.6,91.9L519.4,94.8L517.6,95.2L512.1,97.3L499.6,100.8L498.4,100.9L492.4,102.4L491.1,102.4L489.9,102.7L489.1,103.1L486.1,106.1L485.1,106.8L484.1,107.3L482.1,107.8ZM414.6,96.1L414.1,96.2L412.9,96.0L412.3,95.0L412.3,94.5L412.3,35.0L412.5,34.2L413.8,33.2L415.6,33.0L417.6,33.4L419.9,34.2L422.1,35.6L424.4,36.4L442.6,36.1L443.6,36.4L448.6,36.4L449.4,36.6L451.4,36.6L452.1,36.9L455.1,36.9L457.1,37.4L458.9,37.4L466.4,39.5L468.9,40.8L471.1,41.7L472.1,42.6L473.2,43.0L476.4,45.6L477.1,46.8L479.4,49.4L480.3,51.0L480.3,52.0L479.7,53.5L479.1,54.1L478.1,54.6L476.4,55.1L475.1,55.4L473.4,55.4L471.6,54.9L470.4,54.9L466.1,54.1L460.4,54.1L451.9,55.4L446.9,55.6L445.4,55.9L444.1,56.5L442.8,57.8L442.5,58.8L442.5,62.2L444.0,68.2L443.9,74.2L441.9,74.7L440.6,75.2L438.8,77.2L436.1,81.1L434.3,83.2L433.4,83.9L431.8,86.0L430.6,88.5L429.9,91.2L429.7,91.5L426.6,91.6L425.9,91.9L421.6,91.9L419.9,92.2L417.0,94.5L414.6,96.1ZM582.9,188.3L559.9,188.4L559.6,188.2L559.5,187.8L559.5,186.8L559.8,186.0L559.8,183.8L558.8,180.0L558.6,177.5L559.4,176.0L560.4,175.4L563.1,175.4L567.4,176.7L568.4,177.3L569.6,177.7L571.1,178.5L574.6,180.8L575.6,181.2L579.1,183.9L581.4,186.4L582.5,187.2L583.0,188.0L582.9,188.3Z"/>
<path fill-rule="evenodd" fill="#ff8c00" d="M482.1,105.1L476.9,105.1L476.1,104.9L474.6,104.9L470.4,103.8L468.6,102.8L467.4,101.8L466.3,99.5L465.5,96.5L465.5,95.5L465.0,93.8L465.0,92.5L464.8,91.8L464.8,89.8L464.5,89.0L464.8,88.2L464.8,86.2L465.5,83.5L465.6,82.0L466.2,80.8L466.8,78.5L468.5,75.2L469.1,72.5L470.8,69.0L471.5,68.0L473.6,65.9L474.6,65.2L480.9,62.2L482.6,61.8L488.6,59.7L491.4,59.0L493.1,58.2L496.4,57.3L498.6,56.4L504.6,55.1L508.6,53.7L514.6,52.2L516.1,52.1L519.1,51.3L525.4,49.1L527.4,47.9L529.1,47.3L532.6,45.0L535.4,44.0L537.1,42.6L538.6,40.8L539.5,39.2L544.3,34.5L544.9,33.5L545.1,32.5L545.4,32.4L600.4,32.4L600.7,32.8L600.0,34.5L600.0,36.5L600.5,38.8L600.6,42.6L610.7,47.8L614.1,50.4L616.4,52.6L617.7,55.0L617.8,57.2L617.0,60.2L616.2,61.8L615.4,62.6L613.6,63.8L610.6,65.3L605.1,66.4L603.1,66.4L601.6,66.1L599.6,66.1L598.4,66.4L596.6,65.9L587.6,65.7L584.6,67.6L576.9,71.3L573.6,72.4L566.1,75.8L541.4,86.2L538.9,87.6L534.4,89.3L526.6,91.9L519.4,94.8L517.6,95.2L512.1,97.3L499.6,100.8L498.4,100.9L492.4,102.4L491.1,102.4L488.6,103.1L487.4,103.1L486.1,103.4L483.1,104.8L482.1,105.1ZM414.6,91.8L414.1,92.0L412.9,91.8L412.3,91.0L412.3,90.5L412.3,37.0L412.4,36.5L413.1,35.4L413.6,35.1L414.9,35.0L416.6,35.4L420.9,37.6L422.4,38.1L439.1,38.1L440.1,38.4L444.9,38.4L445.9,38.6L449.6,38.6L450.4,38.9L452.9,38.9L455.1,39.4L457.1,39.4L460.6,40.2L461.9,40.8L463.4,41.2L467.6,43.5L468.6,44.1L469.8,45.2L470.7,46.5L471.2,47.5L471.7,48.8L471.8,49.5L471.7,50.0L471.2,51.0L469.6,51.8L465.9,52.6L464.1,52.6L463.1,52.4L460.1,52.4L459.1,52.6L455.6,52.6L454.9,52.9L449.9,52.9L448.9,53.1L446.6,53.1L443.9,53.7L442.4,54.4L441.6,55.5L441.3,56.8L441.3,61.2L441.0,62.2L441.3,63.5L441.3,70.5L441.5,71.5L441.6,74.8L440.6,75.2L440.0,75.8L438.6,77.4L436.1,81.1L434.3,83.2L433.4,83.9L431.1,87.0L427.1,87.9L421.1,88.1L419.6,88.5L415.5,91.5L414.6,91.8Z"/>
<path fill-rule="evenodd" fill="#ff4d00" d="M482.1,104.6L474.6,104.6L472.4,104.1L470.9,103.3L469.3,102.0L468.4,100.8L467.8,99.2L466.8,93.8L466.5,89.8L466.3,89.0L466.5,88.2L466.8,82.5L467.3,80.5L467.5,78.2L468.2,76.2L468.8,73.2L470.6,69.5L471.5,68.0L473.6,65.9L474.6,65.2L480.9,62.2L482.6,61.8L488.6,59.7L491.4,59.1L499.1,56.7L501.6,56.3L510.4,53.9L519.6,52.1L525.9,50.3L531.6,48.3L537.4,45.3L540.2,43.2L542.2,41.5L544.4,38.8L546.2,36.0L547.3,32.8L547.6,32.4L591.9,32.5L594.7,37.0L596.2,40.0L597.0,42.2L598.0,46.8L598.0,48.8L598.4,50.0L598.9,50.6L603.1,53.4L604.0,54.2L605.5,56.8L605.8,58.5L605.5,60.0L604.4,61.6L602.9,62.6L601.9,62.7L600.1,63.4L595.6,64.1L593.6,64.1L588.1,65.4L584.6,67.6L576.9,71.3L573.6,72.4L566.1,75.8L541.4,86.2L538.9,87.6L536.4,88.6L526.6,91.9L519.4,94.8L517.6,95.2L515.6,96.1L514.1,96.4L512.1,97.3L499.6,100.8L498.4,100.9L495.9,101.6L494.9,101.6L492.4,102.4L491.1,102.4L488.6,103.1L487.4,103.1L482.1,104.6ZM414.4,87.3L412.6,87.4L412.4,87.2L412.3,86.8L412.3,39.2L412.4,38.5L414.9,38.0L418.6,39.8L422.4,40.6L430.4,40.6L431.6,40.4L447.1,40.4L449.1,40.1L450.4,40.4L455.6,40.6L460.4,41.7L461.6,42.2L463.9,43.4L465.4,44.8L466.7,46.8L467.0,48.0L466.5,48.8L464.6,49.8L456.6,51.1L451.4,51.4L450.6,51.6L444.1,52.1L442.4,52.7L441.9,53.2L441.0,55.2L441.0,57.0L440.8,57.8L440.8,61.2L440.5,62.2L440.8,63.5L440.5,64.2L440.5,67.5L440.3,68.2L440.0,72.2L439.5,75.5L439.0,77.0L435.9,81.4L433.1,82.8L429.4,83.9L428.4,83.9L426.6,84.4L421.1,84.6L420.4,84.9L418.6,84.9L417.4,85.2L414.4,87.3Z"/>
<path fill-rule="evenodd" fill="#ff0000" d="M481.4,104.3L473.4,104.3L471.6,103.3L470.8,102.5L469.3,99.5L468.3,92.5L468.3,90.2L468.0,89.5L468.0,77.2L469.1,72.5L470.8,69.0L472.3,67.2L473.6,65.9L474.6,65.2L480.9,62.2L482.6,61.8L488.6,59.7L495.9,57.7L497.1,57.6L499.6,56.9L500.6,56.9L504.9,55.7L506.4,55.6L511.1,54.4L512.4,54.4L517.4,53.1L518.6,53.1L521.4,52.4L523.9,52.1L529.9,50.6L531.1,50.6L538.4,48.8L549.6,45.1L551.6,44.1L554.4,42.2L556.6,41.2L563.6,39.6L565.1,39.6L565.9,39.4L567.4,39.4L570.4,38.9L573.9,38.9L574.9,38.6L578.4,38.6L579.1,38.9L582.9,38.9L583.6,39.1L585.1,39.1L589.1,40.2L591.1,41.2L592.3,42.0L593.7,44.0L595.2,47.5L596.0,52.0L595.8,54.8L595.2,56.5L593.5,60.0L591.0,63.2L589.6,64.6L584.6,67.6L576.9,71.3L573.6,72.4L566.1,75.8L541.4,86.2L538.9,87.6L534.4,89.3L526.6,91.9L519.4,94.8L517.6,95.2L512.1,97.3L499.6,100.8L498.4,100.9L495.9,101.6L494.9,101.6L492.4,102.4L491.1,102.4L488.6,103.1L487.4,103.1L484.9,103.9L483.6,103.9L481.4,104.3ZM412.9,83.6L412.4,83.6L412.3,83.0L412.3,41.8L412.6,40.7L413.6,40.6L417.4,42.6L418.4,42.9L431.4,42.9L432.4,42.6L437.4,42.6L438.4,42.4L442.1,42.4L442.9,42.1L445.1,42.1L445.9,41.9L448.1,41.9L448.9,41.6L452.4,41.6L453.1,41.9L454.9,41.9L459.4,42.9L460.9,43.5L462.1,44.2L463.1,45.2L463.5,45.8L463.5,46.5L462.9,47.5L460.6,48.2L459.4,48.8L455.9,49.6L454.4,49.6L452.4,50.1L450.6,50.1L445.6,50.9L443.1,50.9L441.9,51.2L441.0,52.0L440.5,53.5L440.5,56.0L440.8,56.8L440.5,57.5L440.5,60.2L440.3,61.0L440.3,63.0L440.0,63.8L439.7,67.2L439.3,68.0L439.2,69.2L438.7,71.2L438.3,72.0L438.2,73.0L437.5,74.5L436.6,75.6L434.9,77.4L431.4,79.6L426.4,80.9L424.4,80.9L423.6,81.1L421.6,81.1L420.9,81.4L414.9,81.5L412.9,83.6Z"/>
<path fill-rule="evenodd" fill="#cc0000" d="M480.1,101.8L478.9,101.9L478.1,101.6L476.4,101.6L475.1,101.3L473.4,100.5L472.3,99.8L471.1,97.2L470.3,94.2L470.3,93.0L470.0,92.0L470.0,86.0L469.8,85.0L470.0,83.0L470.0,79.0L470.3,78.2L470.3,76.8L471.3,74.0L473.3,70.0L473.8,69.2L475.3,67.8L477.9,65.9L479.9,64.9L481.4,64.6L485.1,62.9L487.6,62.3L492.1,60.7L494.1,60.1L495.4,60.1L499.6,58.9L500.9,58.8L505.1,57.6L506.4,57.6L511.1,56.4L512.4,56.4L517.4,55.1L518.6,55.1L521.4,54.4L522.6,54.4L525.6,53.6L526.9,53.6L529.6,52.9L533.1,52.6L535.9,51.9L538.9,51.6L541.4,50.9L542.6,50.9L545.1,50.1L547.9,49.9L550.4,49.1L555.6,48.4L556.9,48.4L559.4,47.6L562.9,47.1L565.6,47.1L566.6,46.9L572.6,46.9L573.4,47.1L575.6,47.1L577.4,47.8L578.4,47.9L580.4,48.9L582.6,50.9L583.2,51.5L584.7,54.2L584.8,57.2L584.5,58.2L582.7,62.0L581.1,64.6L578.4,67.3L576.9,68.3L572.9,70.3L562.9,74.2L551.4,79.1L549.1,79.7L546.6,80.7L541.9,83.1L527.6,89.1L525.1,90.1L522.9,90.7L519.1,92.3L517.6,92.7L515.6,93.6L512.1,94.4L510.1,95.3L503.1,97.3L499.1,98.4L498.1,98.4L496.9,98.7L494.1,99.6L492.6,99.6L490.4,100.4L485.6,100.9L483.1,101.6L480.6,101.6L480.1,101.8ZM426.6,72.8L420.4,72.9L417.6,72.3L416.1,71.5L415.1,70.8L414.3,69.8L413.3,67.2L413.0,65.2L413.0,57.0L413.3,55.5L413.8,54.2L414.9,53.4L416.6,52.9L418.6,52.6L419.6,52.9L423.6,52.9L424.6,53.1L426.1,53.1L429.4,53.9L430.6,54.6L433.4,55.5L436.0,57.0L437.2,58.2L438.0,59.8L438.3,61.0L438.3,63.5L436.9,67.6L435.1,69.6L433.1,71.0L428.4,72.6L426.6,72.8Z"/>
<path fill-rule="evenodd" fill="#990000" d="M480.9,99.8L479.6,99.9L477.1,99.3L475.6,98.8L474.1,97.6L473.1,95.2L472.8,94.2L472.0,88.2L472.0,79.5L472.8,77.0L475.3,71.8L476.4,70.2L478.1,68.5L480.6,66.9L481.9,66.6L485.4,64.9L495.6,61.9L496.9,61.9L499.4,61.1L502.4,60.9L505.1,60.1L506.4,60.1L509.1,59.4L510.4,59.4L515.1,58.1L516.6,58.1L519.4,57.4L522.6,57.1L525.6,56.4L526.9,56.4L529.6,55.6L535.1,55.1L537.9,54.4L551.4,52.6L558.6,51.4L560.9,51.4L561.6,51.1L564.1,51.0L567.4,51.1L570.6,51.7L571.6,52.3L572.5,52.5L574.5,54.5L575.2,55.5L576.5,58.0L577.0,59.8L577.0,62.0L576.5,63.5L575.5,64.8L574.4,65.9L573.3,66.5L572.4,67.3L569.4,69.1L566.1,70.6L564.6,70.9L562.9,71.8L561.4,72.2L559.6,73.1L558.1,73.4L556.4,74.3L549.1,77.2L542.4,80.3L520.1,89.6L515.4,91.3L513.6,91.7L511.6,92.6L505.4,94.2L498.1,96.6L496.9,96.7L495.1,97.3L491.1,97.9L488.6,98.6L484.4,99.1L480.9,99.8ZM428.6,70.1L425.9,69.9L422.4,69.1L420.6,68.3L419.5,67.2L419.1,66.5L418.5,64.5L418.5,60.8L419.1,59.2L420.1,58.5L422.1,57.7L426.1,57.1L429.4,57.7L431.6,58.5L434.1,59.9L435.0,60.8L436.5,63.8L436.5,65.5L435.7,67.0L435.1,67.8L433.6,68.8L431.6,69.6L428.6,70.1Z"/>
<path fill-rule="evenodd" fill="#a7dbe5" d="M496.4,52.8L494.6,53.0L493.1,52.8L491.8,51.8L490.1,49.1L487.6,47.4L486.4,46.9L484.9,46.8L478.1,44.8L473.6,42.5L471.9,41.2L470.9,40.8L468.9,39.4L467.9,39.0L463.1,35.9L460.6,34.7L456.4,33.3L455.3,32.8L455.2,32.5L456.6,32.4L544.1,32.4L544.6,32.4L545.0,32.8L544.9,33.5L544.3,34.5L539.5,39.2L538.7,40.8L537.5,42.2L535.4,44.0L533.9,44.4L531.6,45.4L522.4,46.6L519.9,47.4L514.9,47.9L512.4,48.6L507.4,49.1L502.9,50.4L496.4,52.8ZM661.9,63.1L654.6,61.4L653.1,61.4L650.1,60.9L645.4,60.9L644.6,61.1L642.9,61.1L637.6,61.9L633.1,61.6L630.6,60.8L628.6,59.2L627.6,57.2L627.4,56.5L627.5,55.8L628.4,54.5L629.1,53.9L630.4,53.2L631.9,52.8L632.9,52.2L634.1,51.9L635.9,51.9L637.6,51.4L639.4,51.4L641.4,50.9L642.9,50.9L643.6,50.6L645.1,50.6L648.1,50.1L651.6,50.1L660.9,51.4L661.9,51.7L662.3,52.2L662.3,62.5L662.1,63.0L661.9,63.1ZM450.4,62.3L448.1,62.4L446.9,62.1L444.9,60.8L444.6,60.2L444.6,59.8L444.9,59.2L446.4,58.2L448.1,57.9L448.9,57.9L452.4,58.7L453.8,59.8L453.9,60.0L453.8,60.5L453.0,61.5L451.6,62.1L450.4,62.3ZM661.9,188.4L596.9,188.4L596.6,188.2L594.3,185.0L594.0,184.2L593.7,182.0L592.5,179.5L591.4,177.9L589.0,175.2L587.8,173.5L586.9,172.9L585.1,170.9L583.4,169.4L579.9,166.9L572.6,159.9L571.1,158.1L569.0,154.5L567.6,152.9L565.4,151.2L562.6,149.9L558.1,149.1L556.6,149.4L554.4,149.4L552.4,149.9L550.9,149.9L542.9,151.4L541.6,152.1L539.9,152.4L536.1,154.4L535.1,155.1L533.3,157.0L532.6,158.5L532.3,159.8L532.3,161.2L532.0,162.0L532.0,164.8L531.8,165.8L532.3,179.0L533.0,182.5L533.0,183.8L533.8,186.0L533.7,187.0L533.3,187.8L532.6,188.3L412.6,188.4L412.3,188.0L412.3,187.5L412.3,123.8L412.4,123.5L413.6,123.1L416.1,121.5L419.1,120.3L421.1,119.2L430.4,116.2L431.6,116.1L434.9,114.9L436.1,114.8L440.9,113.4L443.4,113.1L445.6,112.4L454.6,110.9L456.9,110.9L477.1,107.4L478.9,107.9L481.6,107.9L484.1,107.3L486.0,106.2L487.4,105.0L488.6,104.8L490.6,104.1L491.6,104.1L493.1,103.4L494.4,103.3L495.9,102.7L499.4,101.8L500.6,101.2L501.6,101.1L502.9,100.4L503.9,100.3L507.1,98.9L507.9,98.8L508.9,98.2L512.1,97.3L517.6,95.2L519.4,94.8L522.6,93.4L530.9,90.4L552.6,83.3L554.4,82.4L562.4,79.8L569.6,76.9L574.1,75.4L575.9,75.1L577.1,74.4L579.1,73.9L580.1,73.9L581.6,73.4L584.6,72.9L586.4,72.9L588.9,72.4L594.4,71.9L597.6,71.1L598.9,70.4L601.1,69.9L602.4,69.9L605.1,69.1L607.9,69.4L609.1,69.4L610.1,69.1L614.6,69.1L617.4,69.9L618.9,69.9L624.9,71.4L628.6,73.6L632.6,74.4L637.6,76.6L641.9,78.1L645.6,78.6L648.1,79.4L651.1,79.9L653.4,79.9L654.1,80.1L658.6,80.1L661.1,79.6L662.0,79.2L662.3,79.8L662.1,81.8L660.6,81.1L657.6,81.0L654.1,81.4L649.1,82.7L645.9,83.9L641.9,85.9L638.1,88.6L637.3,90.2L637.6,92.0L638.3,93.5L640.8,96.8L643.5,99.8L645.2,102.0L648.0,106.8L650.6,112.0L653.6,116.8L655.0,118.2L658.9,123.4L660.1,124.3L661.4,124.7L661.9,124.7L662.3,125.0L662.3,187.8L662.1,188.2L661.9,188.4ZM451.9,103.1L443.1,103.1L442.1,102.9L437.6,102.9L436.6,102.6L435.4,102.6L432.1,101.8L431.6,101.2L430.6,99.2L429.8,96.5L429.8,92.8L430.0,90.5L430.5,89.5L430.6,88.5L431.9,85.9L433.4,83.9L434.3,83.2L436.1,81.1L438.8,77.2L440.4,75.4L441.9,74.7L443.4,74.4L445.1,74.6L445.9,74.4L448.1,74.4L449.1,74.6L451.4,74.6L454.4,75.2L456.9,76.2L458.9,77.4L461.4,80.2L462.5,82.2L463.2,84.5L463.5,86.5L463.3,87.2L463.3,89.0L462.5,92.0L461.5,94.2L459.1,97.8L458.6,98.8L458.4,101.5L457.1,102.4L451.9,103.1Z"/>
<path fill-rule="evenodd" fill="#7bbfd8" d="M491.4,44.0L490.6,44.2L488.6,43.8L485.1,42.3L484.1,41.7L482.4,41.3L481.4,40.7L478.9,39.8L477.9,39.2L474.1,37.6L470.9,35.7L470.1,35.5L468.4,34.4L465.1,33.1L464.6,32.8L464.5,32.5L467.1,32.4L535.6,32.4L536.5,32.5L536.2,33.5L535.2,34.5L530.9,37.6L528.9,38.6L524.6,40.1L522.4,40.4L519.9,41.1L514.9,41.6L514.1,41.9L503.9,41.9L499.6,41.1L497.4,39.9L496.0,38.5L494.6,36.7L494.4,36.7L493.2,41.5L492.1,43.3L491.4,44.0ZM647.6,59.8L639.4,59.9L637.4,59.6L635.1,58.5L634.7,57.2L635.9,56.0L638.1,55.2L643.4,53.9L645.1,53.9L648.1,53.4L650.9,53.6L653.9,54.5L655.9,55.5L656.2,56.0L656.2,56.8L655.5,57.8L653.9,58.8L651.9,59.4L647.6,59.8ZM661.9,188.4L601.6,188.4L599.1,186.1L598.3,185.0L597.8,183.8L597.7,182.2L597.0,180.0L595.7,177.2L594.5,175.0L591.5,171.2L589.9,169.9L588.1,167.9L584.5,164.8L581.1,162.4L575.8,157.8L574.6,156.6L570.5,151.0L568.7,149.2L566.6,147.9L564.1,146.9L559.6,145.9L558.9,145.9L554.4,145.9L551.4,146.4L547.1,146.6L543.1,147.4L541.6,148.1L539.4,148.4L534.6,150.5L533.6,151.1L531.1,153.7L529.3,157.2L528.5,161.0L528.5,171.0L528.8,171.8L529.0,179.5L529.5,181.5L529.8,184.2L529.0,185.8L526.4,188.4L412.6,188.4L412.4,188.2L412.3,187.8L412.3,126.2L412.4,126.0L414.6,125.1L416.9,123.7L421.9,121.4L429.6,118.9L441.1,115.9L447.1,114.6L454.6,113.4L456.9,113.4L477.9,109.9L496.1,105.3L502.9,103.1L508.6,100.5L513.1,97.7L515.6,96.5L518.9,95.4L525.6,93.8L530.9,91.9L532.9,91.6L553.1,84.8L557.1,83.2L568.9,79.6L570.1,78.9L571.4,78.8L575.1,77.7L576.4,77.6L577.9,77.1L581.1,76.6L582.4,76.6L584.6,76.1L590.1,75.9L590.9,75.6L592.4,75.6L593.1,75.4L598.6,74.9L601.4,74.1L603.1,74.1L605.6,73.6L614.9,73.6L617.4,74.1L619.4,74.1L621.4,74.6L623.6,74.9L625.1,75.4L626.6,75.4L634.1,77.6L636.1,77.9L641.9,79.7L644.9,80.9L647.1,82.2L647.1,82.5L646.4,82.8L643.6,83.4L638.6,85.9L634.1,89.4L631.6,91.6L630.6,93.0L629.8,94.8L629.5,96.8L630.1,98.8L631.3,101.2L637.2,110.0L640.0,114.8L641.6,118.0L645.6,124.8L649.8,130.5L655.1,136.4L658.8,142.0L660.1,143.3L661.4,143.7L662.0,143.5L662.2,143.8L662.3,187.8L662.1,188.2L661.9,188.4ZM441.6,99.6L439.4,99.7L437.1,99.3L436.3,98.8L435.1,97.2L434.3,95.5L434.0,93.8L434.0,89.8L434.3,88.2L435.1,86.8L436.3,85.0L438.6,83.2L441.1,82.0L444.9,80.9L447.1,80.9L448.4,81.4L449.6,82.2L451.2,84.5L451.8,86.8L451.8,87.5L451.8,89.0L451.2,91.8L450.2,93.8L448.9,95.5L447.4,96.9L444.6,98.6L441.6,99.6ZM594.3,105.5L595.1,105.3L596.4,104.6L597.5,102.5L597.5,98.8L597.0,96.5L596.0,94.5L595.4,93.9L593.9,93.4L590.6,93.4L589.1,93.7L587.4,94.4L586.1,95.8L585.3,97.2L585.1,98.2L585.3,100.2L585.8,102.0L586.3,103.0L588.1,104.9L589.1,105.3L590.9,105.6L594.3,105.5ZM613.5,141.2L619.9,140.1L624.4,138.3L625.5,137.5L626.2,136.5L626.2,136.0L625.5,134.2L624.5,133.2L621.9,131.7L620.4,131.3L619.1,130.7L618.1,130.6L616.6,129.9L615.4,129.9L613.6,129.4L610.1,129.4L606.4,130.2L604.5,131.8L603.6,133.5L603.5,134.5L603.8,136.2L604.6,137.8L605.6,139.1L607.4,140.5L610.1,141.4L613.5,141.2ZM458.8,167.2L460.4,167.1L462.4,166.3L463.8,165.0L464.2,164.2L464.4,163.2L464.2,162.5L463.4,161.2L462.1,160.2L460.6,159.5L458.6,158.9L453.9,158.9L451.9,159.2L450.4,159.7L449.3,160.2L448.4,161.0L448.1,161.5L447.8,162.2L447.9,163.2L448.8,164.8L450.4,166.0L454.4,167.4L458.8,167.2Z"/>
<path fill-rule="evenodd" fill="#5ea1d0" d="M491.6,41.0L489.9,41.1L487.1,40.2L485.9,40.1L478.1,37.3L475.6,35.8L474.4,34.3L474.4,33.8L474.9,33.2L475.9,32.9L478.6,32.9L479.4,32.6L486.9,32.6L487.9,32.4L489.1,32.4L491.4,32.9L492.2,33.5L492.7,34.5L493.0,36.0L492.7,39.5L492.2,40.5L491.6,41.0ZM500.6,188.4L466.9,188.3L466.8,188.0L467.5,186.2L468.0,184.0L467.8,177.0L468.8,173.2L469.5,172.0L469.5,171.0L470.0,169.5L470.0,166.5L471.1,165.9L471.5,165.5L471.5,164.8L470.7,162.5L469.0,159.8L466.9,157.6L465.4,156.7L464.4,156.2L461.1,155.1L460.1,155.1L458.4,154.6L455.4,154.4L454.6,154.1L452.1,154.1L451.4,153.9L449.4,153.9L448.6,153.6L446.6,153.6L445.9,153.4L440.1,153.1L437.6,152.6L430.4,151.9L427.1,151.1L424.1,151.1L423.4,150.9L421.9,150.9L418.9,149.7L416.1,148.9L413.4,148.9L412.4,149.3L412.3,148.2L412.4,129.0L416.9,126.2L419.1,125.3L421.1,124.2L427.1,122.2L430.4,121.2L431.6,121.1L434.9,119.9L436.1,119.8L441.1,118.4L443.6,118.1L445.6,117.4L454.6,115.9L456.9,115.9L479.4,112.1L484.4,110.7L485.6,110.6L487.4,109.9L488.6,109.8L490.4,109.2L491.6,109.1L493.1,108.4L494.4,108.3L495.9,107.7L499.4,106.8L500.6,106.2L501.6,106.1L503.4,105.3L508.4,102.8L514.9,98.2L515.6,98.1L516.9,97.4L522.6,96.4L524.4,95.7L525.6,95.6L555.6,85.6L557.4,84.7L558.6,84.6L563.1,82.9L564.4,82.8L565.9,82.2L569.4,81.6L570.9,80.9L572.4,80.9L575.1,80.1L580.6,79.9L581.4,79.6L586.6,79.4L587.4,79.1L591.4,79.1L592.1,78.9L594.6,78.9L595.4,78.6L600.1,78.6L600.9,78.4L603.6,78.4L604.6,78.1L619.4,78.1L620.4,78.4L623.1,78.4L623.9,78.6L626.9,78.6L632.4,79.4L634.1,80.1L635.4,80.2L639.6,81.7L641.4,82.4L643.0,83.5L642.5,84.0L637.9,86.4L632.6,90.6L630.6,93.0L629.8,94.8L629.5,96.8L630.1,98.8L632.1,102.5L636.0,108.0L636.2,109.0L635.6,109.1L634.9,108.9L632.1,108.9L629.6,108.4L624.1,107.9L615.4,106.6L611.6,106.6L608.1,107.4L606.6,108.4L605.1,110.0L603.8,112.5L602.7,115.8L602.2,116.8L601.1,118.2L599.8,121.0L599.4,121.2L598.4,120.9L597.9,120.9L596.8,121.8L596.3,123.2L596.0,126.2L595.3,128.8L595.3,130.0L594.3,134.0L594.3,136.0L594.0,137.0L594.0,142.2L594.5,144.8L594.5,146.5L595.0,148.5L595.0,150.8L594.5,152.8L594.0,153.8L593.5,154.2L591.9,155.0L590.6,154.6L588.3,153.0L584.7,150.0L580.9,147.4L578.9,146.4L578.1,146.3L577.1,145.7L575.1,145.1L572.1,145.1L571.4,144.9L564.6,145.1L563.9,145.4L560.4,145.4L557.6,145.9L554.4,145.9L553.6,146.1L550.9,146.1L550.1,146.4L543.9,146.6L541.6,147.1L539.6,147.1L536.9,148.1L531.6,149.1L528.6,149.1L527.6,148.9L518.6,148.9L516.1,149.4L513.9,150.9L509.4,155.7L506.6,159.8L504.6,164.0L503.1,168.5L502.7,170.2L501.8,172.5L500.8,177.2L500.8,180.8L501.3,183.8L501.3,186.5L501.0,188.0L500.6,188.4ZM593.8,107.5L595.9,106.6L597.4,105.1L598.0,103.8L598.0,98.2L597.2,93.8L595.3,90.8L594.1,90.2L592.6,89.9L588.4,89.9L586.4,90.4L584.9,91.2L583.6,92.1L582.4,93.4L581.3,95.2L581.0,98.2L581.6,100.8L582.1,102.0L582.8,103.5L583.9,104.9L585.1,105.8L587.4,107.1L589.6,107.6L593.8,107.5ZM643.9,169.1L640.1,169.1L639.4,168.9L638.1,168.9L633.6,167.8L631.6,166.9L629.9,165.4L628.6,163.8L627.3,161.0L626.5,158.0L625.8,153.5L625.8,149.0L626.1,148.0L626.8,146.8L628.4,145.9L630.6,145.8L635.9,146.9L639.6,148.7L642.9,151.4L646.5,156.8L647.0,157.8L648.3,161.8L648.3,164.8L647.7,166.8L647.2,167.8L646.4,168.3L643.9,169.1Z"/>
<path fill-rule="evenodd" fill="#2874b9" d="M486.4,161.6L484.4,161.6L483.1,161.2L481.9,161.0L480.6,160.2L479.1,158.9L478.1,157.5L477.6,156.5L475.9,151.2L475.0,149.8L472.7,147.5L470.9,146.4L467.1,145.2L465.9,145.1L459.9,143.0L457.6,141.5L456.9,141.1L454.6,138.8L453.3,136.2L453.0,135.2L452.8,133.5L452.8,128.8L453.6,125.5L454.3,123.5L457.1,120.2L460.6,118.2L465.9,116.6L467.1,116.6L468.9,116.1L470.1,116.1L470.9,115.9L472.6,115.9L474.4,115.4L477.6,115.4L478.4,115.1L482.6,114.9L485.9,114.1L487.6,114.1L493.9,112.8L495.1,112.2L496.9,111.8L498.9,110.7L499.6,110.6L501.6,109.6L505.1,107.2L506.1,106.8L511.5,103.2L513.9,101.1L515.1,99.6L516.3,98.8L518.6,97.5L521.6,96.9L523.1,96.9L526.9,96.1L532.9,94.1L534.9,93.2L561.9,84.2L562.9,84.1L564.9,83.4L569.9,82.4L571.4,82.4L574.1,81.9L580.4,81.9L581.6,81.6L583.6,81.6L584.6,81.9L592.9,81.9L593.9,81.6L599.9,81.6L601.1,81.4L616.1,81.4L618.6,81.9L621.1,81.9L624.6,82.4L627.6,82.9L629.6,83.6L630.6,83.7L632.9,84.7L634.9,85.9L636.3,87.2L636.3,87.5L636.1,87.9L632.6,90.6L631.5,91.8L630.6,93.0L629.8,94.8L629.5,96.2L629.6,97.0L630.1,98.8L631.7,101.8L631.6,102.0L629.4,102.4L612.6,102.4L608.1,103.4L606.6,103.9L604.6,104.9L600.9,107.9L597.6,111.5L596.3,114.0L595.8,115.8L595.8,117.2L596.3,119.5L596.2,120.5L595.5,122.0L594.6,123.1L591.9,125.0L589.4,125.6L587.6,125.6L586.1,125.9L582.6,126.7L580.3,128.0L578.1,129.6L576.1,131.6L574.4,132.8L571.4,133.9L569.9,134.8L565.1,136.3L563.9,136.4L561.6,137.1L559.9,137.4L556.9,137.4L556.1,137.6L552.9,137.6L552.1,137.9L546.6,137.9L545.6,138.1L535.9,138.4L535.1,138.6L530.9,138.6L529.9,138.9L523.1,139.1L522.4,139.4L520.6,139.4L515.6,140.1L513.1,140.1L501.9,141.9L499.6,143.2L498.6,144.2L495.7,149.5L490.8,156.8L488.7,160.2L487.9,161.0L486.4,161.6ZM592.3,109.8L594.4,109.3L596.7,108.0L597.7,106.8L598.5,105.2L598.8,104.0L598.8,99.0L598.5,98.0L598.5,93.2L598.0,90.0L597.3,88.5L595.1,87.0L592.9,86.4L591.6,86.4L590.9,86.1L586.9,86.1L585.6,86.4L583.1,87.4L580.9,88.9L578.1,91.8L577.3,93.2L576.8,95.2L577.0,98.5L577.6,100.8L579.1,104.0L580.0,105.5L581.3,106.8L583.6,108.3L588.4,109.6L590.4,109.9L592.3,109.8ZM437.1,140.8L436.6,140.9L435.9,140.6L434.6,139.3L433.1,136.5L432.8,135.2L433.3,133.8L433.8,133.2L434.9,132.5L437.4,131.8L440.4,132.7L441.6,133.5L442.2,134.5L442.3,135.5L442.0,137.2L440.9,139.0L439.9,139.8L437.1,140.8ZM482.4,188.4L468.9,188.4L468.4,188.3L468.2,188.0L467.8,185.0L468.0,184.0L468.0,181.5L467.8,180.2L467.8,177.0L468.8,173.2L469.5,172.0L469.5,171.0L470.0,169.5L470.0,166.5L470.3,166.2L472.4,165.6L475.1,166.2L477.1,167.6L478.1,168.7L479.2,170.2L480.0,172.0L480.5,174.2L480.5,175.8L482.5,186.2L482.7,188.0L482.4,188.4Z"/>
<path fill-rule="evenodd" fill="#0b519d" d="M551.9,133.8L547.4,133.9L546.6,133.6L543.4,133.6L540.9,133.1L538.6,133.1L535.4,132.4L533.6,132.4L526.9,131.1L525.1,131.1L521.1,130.4L519.4,130.4L516.9,129.9L513.4,129.6L511.6,129.1L509.4,128.9L505.6,128.1L501.6,126.8L501.2,126.5L501.1,126.2L502.3,121.8L503.8,117.5L505.6,113.5L507.1,110.8L510.4,106.9L517.9,101.4L521.1,100.2L524.4,99.6L531.1,97.6L538.9,94.8L549.1,91.1L554.1,89.1L556.1,88.0L557.9,87.3L561.6,85.4L567.4,83.4L568.6,83.1L571.1,83.1L574.4,83.6L575.9,84.2L578.5,85.8L581.4,88.2L581.2,88.8L580.5,89.2L578.1,91.8L577.1,94.0L576.8,95.2L576.8,96.2L577.0,97.0L577.0,98.5L577.6,100.8L579.3,104.5L581.0,106.5L583.1,108.0L583.2,108.2L581.3,111.5L578.6,113.2L575.8,115.8L570.4,124.6L567.0,128.0L565.4,129.4L561.9,131.6L558.9,132.8L554.4,133.6L552.4,133.6L551.9,133.8ZM599.9,102.6L599.1,102.6L598.8,102.2L598.8,98.8L598.5,97.8L598.5,93.2L598.0,90.0L597.1,88.4L594.8,86.8L594.9,86.5L599.1,84.7L602.9,83.6L606.4,83.4L607.1,83.1L615.9,83.1L618.6,83.6L620.4,83.6L626.9,85.2L629.9,86.7L631.5,87.8L632.8,89.0L633.3,89.8L633.2,90.2L631.5,91.8L630.3,93.5L629.8,94.8L629.5,96.5L630.2,99.2L630.0,99.8L628.9,100.3L625.6,101.1L623.9,101.1L620.6,101.6L608.6,101.6L607.4,101.9L605.9,101.6L599.9,102.6ZM479.9,131.1L475.1,131.1L474.1,130.9L472.9,130.9L471.9,130.6L470.4,129.8L469.4,128.2L468.5,126.2L468.6,125.2L469.6,123.4L471.4,122.0L473.4,121.4L475.9,121.4L478.6,122.0L480.4,123.1L481.5,123.5L483.2,125.2L484.2,127.5L484.2,128.0L483.9,129.0L483.0,130.0L481.9,130.6L479.9,131.1Z"/>
<path fill-rule="evenodd" fill="#0a2f6b" d="M551.4,129.8L548.9,129.9L546.9,129.6L540.6,128.1L537.4,126.7L535.6,126.3L531.1,124.4L528.9,123.7L527.9,123.6L524.6,122.2L522.9,121.8L521.1,120.9L517.6,119.8L515.1,118.5L513.6,117.5L511.9,115.6L511.0,113.0L511.1,110.8L512.4,108.4L513.9,107.2L515.6,106.3L517.6,105.0L522.1,103.2L525.9,102.1L527.9,101.2L531.4,100.3L535.6,98.7L537.4,98.3L551.1,92.8L556.1,90.3L557.1,89.4L558.9,88.6L559.9,87.7L565.6,84.7L568.6,83.6L571.6,84.2L572.6,84.7L574.0,85.8L574.7,87.0L575.0,88.2L575.0,90.8L574.0,95.2L572.2,99.0L571.0,100.2L569.8,102.0L568.6,102.9L567.6,104.2L566.2,106.8L565.3,107.8L564.3,109.8L563.0,113.0L563.0,114.8L562.8,115.5L562.5,120.0L561.5,122.8L559.7,126.0L558.2,127.8L556.4,128.8L553.1,129.6L551.4,129.8ZM617.9,101.1L615.6,101.1L614.9,100.9L613.1,100.9L609.6,100.1L608.1,100.1L606.4,99.4L603.4,98.8L599.9,97.0L598.5,95.2L598.3,90.8L598.6,89.8L601.1,87.2L603.6,85.9L607.9,84.9L610.6,84.9L611.4,84.6L614.4,84.6L615.4,84.9L617.1,84.9L621.9,85.9L624.6,87.1L625.4,87.2L627.2,88.2L629.2,90.2L629.7,91.2L630.0,92.8L630.0,94.2L629.7,95.5L628.9,97.1L627.6,98.6L625.1,99.8L620.1,100.9L618.4,100.9L617.9,101.1Z"/>
<path d="M412.1,116.0L412.7,114.9L414.0,113.5L414.9,112.5L415.4,110.7L414.3,109.9L415.4,108.9L415.4,108.0L414.0,106.8L413.3,105.5L412.9,103.9L411.5,103.0L411.8,101.8L412.9,101.0L414.0,100.2L416.3,99.6L416.3,99.0L414.7,98.6L413.2,98.5L412.1,99.1L410.8,99.3M412.1,95.1L414.0,93.7L415.7,94.1L414.9,95.8L414.3,96.8L415.2,96.5L416.3,95.7L418.0,95.2L419.1,95.1L419.9,95.5L420.5,96.6L420.1,97.6L421.1,98.5L422.6,98.6L422.9,99.6L422.4,100.8L422.7,101.8L422.2,103.3L423.6,103.3L424.9,102.9L426.5,102.5L427.1,101.9L427.2,100.5L427.1,99.4L426.0,98.0L425.4,97.1L424.1,96.0L424.3,95.2L425.7,94.7L427.6,93.7L427.7,92.6L429.1,91.3L430.1,90.4L431.6,89.9L433.0,90.7L435.1,89.9L436.8,88.7L439.0,86.8L440.8,84.9L441.8,83.5L444.0,81.8L444.4,80.1L444.4,78.7L445.8,76.5L445.7,75.2L444.7,74.2L443.0,72.9L440.5,73.1L439.3,72.3L438.6,71.7L439.9,71.2L441.0,69.9L443.5,67.4L446.1,65.9L448.0,64.8L451.0,64.6L453.8,64.6L456.9,64.8L458.6,64.2L461.3,64.9L462.9,65.3L465.8,64.8L467.1,64.5L467.7,63.7L469.9,61.2L472.6,60.7L475.2,61.4L475.1,62.1L473.8,62.6L475.7,62.8L478.8,61.2L480.4,60.0L481.6,60.4L479.9,61.5L480.8,62.8L478.0,64.3L477.2,66.0L475.5,67.3L472.6,68.4L470.2,69.5L469.0,71.5L468.2,73.2L469.1,75.7L469.7,77.9L471.1,77.0L472.7,74.9L474.6,73.8L474.9,72.7L477.7,71.5L478.0,69.9L480.1,69.6L479.0,68.7L479.3,67.1L480.5,66.2L480.8,65.1L483.5,63.9L484.6,63.1L486.6,63.2L489.7,62.8L491.3,63.7L494.1,62.1L496.8,60.9L500.7,59.8L504.9,60.0L504.6,59.0L502.2,58.1L504.0,57.0L502.2,56.4L504.3,56.1L506.1,55.7L508.5,55.3L511.6,55.1L514.7,56.5L517.1,56.8L518.6,56.2L517.4,55.1L519.9,54.3L522.2,54.2L521.0,53.4L517.1,52.9L513.2,52.3L509.3,51.1L506.1,50.0L502.2,48.9L497.6,48.3L493.6,48.1L491.0,48.6L489.6,50.0L485.8,48.7L481.9,48.6L477.2,48.9L476.3,47.6L471.8,46.7L467.1,46.4L462.4,46.7L459.7,45.8L456.1,44.7L451.5,44.4L446.0,43.7L443.6,44.2L439.0,45.8L435.8,45.6L431.9,46.2L429.6,46.9L427.2,45.8L426.5,44.2L424.9,43.6L423.3,42.6L420.2,42.6L417.9,43.4L414.0,43.6L411.6,43.4M427.6,105.4L428.3,108.5L429.1,108.9L429.7,108.3L430.4,106.8L431.1,105.5L430.7,104.9L429.6,104.4L428.6,104.4L427.7,104.9ZM431.9,105.5L432.7,106.3L433.6,105.2L434.7,105.4L435.4,104.6L435.1,103.9L433.5,103.6L432.6,104.1L431.8,105.0ZM429.4,104.3L429.9,103.6L431.6,102.5L433.0,101.8L435.1,101.8L436.5,101.9L437.4,101.3L438.6,99.7L439.4,98.8L439.3,99.9L441.0,99.4L442.6,97.7L443.3,96.0L443.6,94.6L443.5,94.0L444.1,93.0L445.2,93.0L445.8,92.7L446.0,94.0L446.8,95.4L446.3,96.6L446.0,97.6L445.2,98.0L445.2,99.6L444.7,100.7L445.1,101.6L444.1,102.4L443.5,102.9L443.2,102.2L442.4,102.4L441.8,103.3L441.0,103.2L439.6,103.2L438.6,103.8L437.9,104.4L437.1,105.0L436.1,104.6L436.0,103.8L436.5,103.2L434.9,103.0L433.3,103.5L431.8,103.8L431.0,104.4L429.9,104.4ZM443.6,92.6L444.3,91.9L445.1,92.1L445.5,92.1L447.2,91.5L448.8,91.8L449.7,90.7L451.3,90.2L452.4,89.8L451.9,89.3L451.9,88.5L450.4,88.7L448.8,88.0L447.2,86.8L446.3,86.5L446.1,88.0L445.8,89.3L445.5,89.9L444.4,89.8L443.5,90.8L444.0,91.5ZM446.6,85.5L446.9,84.6L447.7,84.6L449.1,85.4L448.6,84.1L447.6,83.2L448.3,80.9L450.7,80.9L449.1,79.0L448.6,76.8L448.6,75.1L448.8,73.8L447.9,72.6L447.2,72.7L447.7,73.7L446.5,75.1L446.3,77.1L446.9,79.3L446.8,80.9L446.8,82.7L446.9,84.0ZM452.2,89.3L453.4,88.7M454.3,88.2L455.2,87.6M456.0,87.1L456.8,86.8M457.4,86.5L458.4,86.0M459.3,85.5L460.1,84.9M460.8,84.4L461.7,83.9M462.4,83.5L463.4,82.7M464.3,82.1L465.0,81.7M465.7,81.3L466.5,80.7M467.1,80.2L467.8,79.5M468.3,79.0L468.9,78.6M412.6,121.4L412.9,122.2L413.6,123.1L414.0,122.0L414.7,120.8L415.4,119.1L415.5,118.3L414.7,117.8L414.0,118.3L413.3,119.1L412.7,120.3ZM413.3,128.4L414.3,128.3L415.8,128.4L416.1,130.5L415.8,132.0L414.9,132.7L414.9,134.5L415.4,135.5L416.5,135.1L417.6,135.6L418.5,135.8L419.0,137.0L418.6,137.6L417.7,137.0L416.5,136.4L415.5,135.9L414.6,135.9L413.8,135.6L413.3,134.7L413.2,134.1L412.2,132.7L412.1,131.9L413.0,131.4L413.0,129.8ZM419.1,137.8L420.2,137.6L421.3,138.3L421.3,140.0L420.5,140.1L419.7,141.4L420.2,141.7L420.8,142.0L419.9,142.9L419.1,140.6L419.3,139.2ZM415.4,138.7L416.5,139.4L417.4,140.0L417.2,140.9L416.9,142.3L416.0,141.9L415.5,140.9L415.5,139.7ZM417.7,140.3L418.6,139.8L418.6,141.1L417.9,142.3L417.4,141.4ZM415.5,146.4L416.8,145.4L418.0,145.1L418.5,144.2L419.9,143.4L421.0,142.3L422.1,142.9L422.4,144.4L422.7,145.9L421.9,147.2L421.1,148.6L420.5,147.8L419.1,147.6L418.8,146.1L417.7,145.6L416.8,145.9ZM411.6,165.9L413.0,165.9L412.9,162.8L414.0,161.5L414.7,164.3L416.8,164.9L416.0,162.4L417.6,158.9L414.7,158.9L417.1,158.1L419.3,156.7L420.5,155.0L419.4,155.7L416.8,156.1L413.8,155.3L412.4,156.4L412.7,158.9L411.6,158.1L412.1,156.8L410.8,161.2L410.5,162.0L411.6,162.8ZM424.1,154.5L424.9,153.7L424.9,155.1L426.0,155.6L425.2,156.4L426.3,156.8L425.2,158.7L424.4,157.9L424.0,156.4ZM424.7,162.4L425.8,161.7L427.7,161.7L429.4,162.6L428.8,162.9L425.8,162.8ZM421.8,162.3L423.0,162.1L423.6,162.9L422.7,163.2L421.8,163.1ZM417.9,173.4L419.3,172.1L420.5,171.3L423.2,170.4L423.8,170.6L422.1,171.7L420.4,172.7L418.6,173.5ZM412.1,171.0L413.6,170.2L415.5,170.4L417.1,170.2L416.6,170.9L414.7,171.0L413.2,171.2ZM410.5,171.0L411.1,170.6L410.8,170.1L409.7,170.4ZM418.6,170.4L420.2,169.8L420.4,170.4ZM431.8,166.5L433.0,165.7L433.6,166.3L432.4,166.7ZM434.6,166.7L435.5,165.7L435.7,167.6L434.6,167.9ZM429.6,159.3L430.5,158.5L431.9,157.9L433.5,158.4L434.4,158.7L434.6,160.7L435.2,161.5L436.3,162.6L437.4,161.5L439.3,160.1L441.5,160.1L443.3,160.9L445.1,161.4L446.6,161.8L448.3,162.6L450.2,163.4L451.8,164.3L452.7,165.4L454.0,166.5L455.5,166.7L455.8,167.8L454.9,168.7L456.1,169.8L457.1,171.3L458.2,171.7L459.0,172.9L460.2,173.5L458.8,173.7L457.1,173.2L455.2,172.3L454.4,171.2L453.2,169.9L451.1,169.2L449.4,169.8L448.8,171.3L447.6,171.8L445.2,171.5L443.6,170.2L442.4,169.9L441.3,170.4L440.5,169.0L441.8,167.9L440.5,165.9L438.6,164.9L436.6,164.2L434.6,163.4L433.6,162.8L432.4,163.7L431.3,161.8L433.2,161.0L431.8,160.7L430.1,159.8ZM456.6,166.0L457.7,166.5L459.7,165.9L460.7,165.9L461.8,164.9L463.0,164.0L462.2,165.6L461.6,166.7L459.3,167.1L457.2,167.0ZM460.5,161.5L462.2,162.3L463.3,163.2L464.1,164.5L463.5,164.3L462.7,163.4L461.5,162.4ZM466.5,165.7L468.0,167.1L468.5,167.9L467.4,167.4L466.6,166.5ZM469.4,167.6L471.0,168.7L472.2,169.2L474.6,170.2L474.7,170.6L473.3,169.9L471.3,169.2L469.6,168.1ZM474.3,171.7L475.5,171.7L476.1,172.6L474.9,172.6ZM475.8,170.4L476.5,170.4L477.2,172.1L476.8,172.3ZM476.9,173.2L478.2,173.5L478.5,174.1L477.2,173.7ZM485.2,180.2L486.1,180.9L486.0,181.6L485.4,181.3ZM487.1,182.3L487.7,182.7L487.4,183.2ZM487.6,184.6L488.2,184.8L487.9,185.2ZM489.0,186.3L489.4,186.8L489.1,187.3ZM481.1,188.8L482.7,189.4L484.9,191.0L485.8,192.1L484.9,191.9L483.2,190.8L481.6,189.6ZM501.9,184.6L503.0,184.3L504.0,185.1L503.5,185.7L502.1,185.5ZM504.0,183.2L505.4,182.7L506.1,182.6L505.1,183.5L504.3,183.7ZM411.6,188.7L413.2,188.2L414.7,186.6L416.0,184.8L416.3,183.5L417.6,183.2L418.3,182.6L419.3,181.5L420.7,180.1L421.9,179.1L423.2,178.8L424.6,179.8L425.2,180.5L426.5,180.5L427.4,179.9L427.6,178.8L428.3,177.9L429.0,176.6L430.1,176.2L432.1,176.3L432.1,175.4L433.5,175.7L434.9,176.2L436.3,176.3L437.4,176.0L438.6,176.5L438.0,177.9L437.2,178.7L436.8,180.4L437.9,181.6L440.1,182.6L441.1,183.7L442.6,184.4L443.6,184.9L444.9,184.4L445.8,182.6L446.1,180.7L446.1,178.4L446.3,176.8L446.9,175.1L447.6,174.0L448.0,175.1L448.6,176.5L449.3,178.8L450.1,179.6L451.6,180.5L452.1,182.1L452.6,183.7L453.3,186.0L454.0,187.1L455.5,187.9L457.2,188.8L458.5,190.5L459.7,192.1L460.5,192.9L461.1,194.6L463.0,196.0L464.1,197.2L464.1,199.4L464.9,201.8L464.3,204.6L463.5,207.1L462.4,208.5L461.3,210.0L460.7,211.3L459.6,212.8L459.3,214.7L459.1,215.8L456.5,216.3L455.2,216.7L453.5,218.1L452.2,217.0L451.1,217.2L450.5,216.9L449.1,217.8L447.2,217.2L445.2,216.7L443.6,215.6L443.2,214.4L442.6,213.1L441.3,212.8L440.8,211.9L441.1,210.8L440.2,208.5L439.6,210.3L438.8,211.1L437.2,211.6L436.3,211.0L436.1,209.9L434.6,208.8L433.5,207.5L431.5,207.2L429.9,206.4L426.5,206.8L423.3,207.7L420.2,208.8L418.6,209.7L417.6,210.2L415.5,210.2L413.2,210.2L411.6,210.3M543.8,127.7L545.5,126.9L545.1,126.3L543.8,125.8L543.5,126.6ZM542.6,124.7L543.6,125.0L542.9,125.2ZM540.1,123.6L541.0,124.1L540.4,124.1ZM537.7,122.8L538.5,122.7L538.2,123.1ZM541.6,124.2L542.6,124.4L541.9,124.4ZM662.4,143.6L661.8,144.4L662.4,145.4L661.8,145.9L660.8,145.3L659.7,144.8L657.9,144.7L656.6,143.9L656.8,142.8L655.1,142.3L654.4,141.9L653.3,141.1L653.5,140.1L652.2,138.9L650.7,137.2L649.1,136.7L647.6,136.2L645.8,135.6L644.0,135.0L642.7,134.1L641.1,132.7L639.3,132.0L637.4,132.8L635.1,132.3L633.5,131.9L631.5,131.1L628.8,129.8L626.9,129.2L625.2,128.4L623.5,127.2L622.4,125.5L623.0,124.1L622.4,122.5L621.0,121.0L619.4,119.2L617.4,117.5L616.5,116.3L614.7,114.6L613.5,113.6L612.1,112.1L611.0,110.0L609.6,108.6L608.0,107.8L608.3,109.6L610.1,111.6L611.1,113.3L612.4,115.8L613.6,118.0L614.9,119.5L616.5,121.1L615.5,121.6L614.0,119.9L612.2,118.9L612.1,117.1L610.5,115.5L609.1,114.4L608.8,113.0L606.6,110.3L605.4,108.5L604.4,106.6L603.5,105.0L602.1,104.3L600.7,103.6L599.0,103.3L598.6,101.9L596.9,100.2L596.0,98.3L595.2,97.6L594.0,95.2L593.0,94.3L593.5,92.4L593.0,90.5L593.3,89.0L593.6,86.3L593.6,85.1L593.3,83.5L592.6,81.8L594.0,82.1L595.5,82.4L596.1,83.5L595.5,81.0L594.9,80.2L592.9,79.5L591.1,78.7L588.6,77.7L587.6,76.5L586.6,75.1L584.6,73.4L584.0,72.0L582.7,71.0L581.1,69.6L578.8,68.1L576.8,66.5L575.2,65.4L573.3,65.3L570.5,64.3L568.6,64.2L566.3,63.7L563.2,63.7L560.8,63.1L558.5,62.5L556.5,62.8L555.2,63.7L553.3,64.2L551.5,64.8L550.2,64.5L550.7,62.8L552.9,61.8L551.1,62.1L549.1,63.4L547.6,64.6L546.5,65.6L544.4,66.5L542.4,67.9L540.1,69.0L538.2,70.1L535.8,71.0L533.5,71.7L531.1,72.1L529.9,72.3L531.9,71.5L534.3,70.3L536.6,69.0L539.4,67.4L541.1,66.0L539.7,65.6L537.4,65.7L534.7,65.9L534.0,64.5L531.1,63.7L529.3,62.8L528.8,61.7L528.0,60.6L529.9,59.3L530.7,58.7L533.5,58.2L535.8,58.1L535.8,56.8L533.0,56.8L530.4,56.7L527.7,56.5L527.1,55.4L524.9,55.0L527.2,54.0L530.4,53.6L532.7,54.0L534.6,53.9L533.5,52.9L531.5,52.5L528.8,51.2L526.9,50.6L530.4,49.8L532.7,48.7L534.4,47.6L538.2,46.9L542.1,46.1L544.4,46.5L548.3,46.7L552.2,47.3L556.1,47.6L560.1,47.9L564.0,47.9L567.1,48.6L570.2,48.9L573.3,49.7L575.7,49.0L578.0,48.7L580.4,48.6L582.7,48.3L585.1,47.9L587.4,47.5L589.0,47.8L591.3,49.0L592.9,48.6L596.0,48.4L599.1,49.0L603.0,49.5L606.1,49.8L609.3,50.8L612.4,51.5L615.5,51.2L618.6,50.6L621.8,49.8L624.9,50.8L629.6,51.5L633.5,51.5L635.8,50.6L638.2,51.1L639.7,49.7L638.2,47.6L636.6,46.2L639.0,45.1L640.8,45.8L642.9,47.3L644.4,48.7L646.0,50.4L648.3,49.3L649.9,50.4L652.2,51.2L654.6,49.2L657.7,48.4L660.8,49.2L660.1,50.4L658.5,52.0L662.4,53.1M662.4,59.3L659.3,59.6L656.1,58.6L653.0,57.9L650.7,57.5L648.3,57.5L645.7,58.2L642.9,59.8L641.3,61.4L640.2,62.9L639.4,64.8L641.3,65.6L642.9,67.6L646.0,68.1L649.1,69.0L652.2,70.1L654.6,71.0L658.5,71.3L659.0,73.8L660.1,75.7L662.4,77.3M662.4,57.5L660.1,57.8L657.7,57.1L653.8,56.1L652.2,54.7L653.8,54.0L656.9,55.1L660.1,55.9L662.4,56.7ZM662.4,115.6L662.2,117.1L661.6,118.0L660.7,118.0L659.7,116.9L659.1,115.8L658.2,114.4L658.2,113.2L657.7,111.9L656.6,110.7L655.4,110.5L654.0,111.0L652.2,109.9L649.9,109.7L647.9,110.0L647.4,111.3L647.9,112.1L646.5,111.9L644.4,111.3L642.1,111.0L639.7,111.3L638.2,112.4L636.1,113.5L635.4,114.7L635.2,116.7L634.9,119.1L634.6,121.7L635.1,123.3L635.8,125.2L636.9,126.9L638.2,128.0L639.7,128.9L642.1,128.6L643.6,128.3L644.7,128.0L645.7,126.9L646.2,124.9L647.6,124.1L649.9,123.8L651.5,123.8L651.8,124.9L650.7,126.7L650.2,128.4L649.6,130.0L649.0,132.5L650.7,132.7L653.0,132.5L655.4,132.7L657.2,133.9L656.9,136.2L656.8,139.4L656.6,140.3L657.7,141.7L659.0,142.9L660.1,143.6L661.6,143.1L662.4,142.8M662.4,121.6L660.8,121.3L658.7,121.3L656.9,121.6L654.7,123.1L655.5,123.1L657.4,122.8L658.8,122.0L660.5,122.5L661.6,123.0L662.4,123.1M643.5,84.4L646.0,84.6L649.1,84.0L650.7,84.8L653.0,84.4L655.2,84.8L654.9,83.7L653.8,82.6L652.1,81.3L649.4,81.2L647.6,82.4L645.5,83.4ZM650.2,92.2L651.8,92.2L652.6,91.0L652.7,89.4L652.2,87.7L653.6,86.6L654.9,85.9L653.8,85.7L651.5,86.0L650.5,87.3L650.1,89.0L650.2,90.8ZM658.7,90.2L659.3,88.7L659.7,87.1L661.6,86.3L662.4,85.5L660.1,85.2L656.8,85.4L655.2,85.7L657.1,87.1L657.2,88.7ZM656.9,92.2L659.3,92.6L661.6,91.6L662.4,91.0L660.1,90.8L657.7,91.5ZM635.5,78.5L636.9,78.1L636.0,76.2L634.6,74.3L633.0,73.2L634.3,75.4L635.1,77.3ZM603.8,62.1L606.1,62.3L610.1,61.7L612.4,60.3L614.7,59.5L611.6,59.6L608.5,60.0L606.1,61.2ZM592.1,55.9L595.2,56.1L599.9,55.1L602.2,54.0L599.1,53.4L596.8,54.3L593.6,54.7ZM665.5,145.6L666.3,147.2L666.6,148.7L666.5,151.1L666.6,151.8L665.5,153.2L664.1,154.8L662.7,155.7L662.2,156.8L661.8,158.1L661.0,159.0L661.3,160.3L662.1,161.4L662.7,161.2L661.9,162.6L661.0,162.9L660.4,164.5L660.8,165.6L660.7,166.5L661.6,167.1L662.9,168.5L664.0,170.2M644.3,157.8L644.9,158.2L645.2,158.9L644.6,158.9L644.3,158.4ZM645.8,158.1L646.5,158.2L646.2,158.5ZM592.1,45.1L594.4,46.2L598.3,45.9L602.2,44.5L603.8,43.4L600.7,42.0L597.6,41.2L592.9,41.5L591.3,43.4ZM602.2,45.8L603.8,47.3L606.1,47.6L610.8,47.8L615.5,48.1L623.3,49.7L628.0,49.3L629.6,47.3L626.5,45.8L623.3,43.7L618.6,43.1L614.7,43.7L610.1,43.9L606.1,44.0L603.0,44.7ZM603.8,40.3L608.5,40.9L614.0,40.9L618.6,40.5L621.8,40.3L623.3,39.1L618.6,38.3L614.0,38.4L608.5,38.3L604.6,38.7ZM595.2,38.7L599.9,38.9L604.6,37.8L606.1,36.7L603.0,36.6L597.6,37.8ZM629.6,44.2L633.5,45.3L635.1,44.2L635.8,42.3L632.7,42.0L629.6,42.8ZM637.4,45.0L641.3,44.7L645.2,44.0L646.0,42.3L641.3,41.7L638.2,42.3ZM637.4,41.1L643.6,40.9L649.9,41.1L656.1,41.1L660.8,40.8L662.4,39.8L659.3,39.1L654.6,38.9L648.3,38.0L643.6,38.7L640.5,39.4L637.4,40.0ZM631.1,40.3L633.5,39.7L631.9,38.4L628.8,38.7L629.6,39.8ZM621.0,39.2L624.9,39.5L625.7,38.4L622.6,38.0ZM630.4,35.6L632.7,36.2L635.1,35.6L632.7,34.2L630.4,34.7ZM624.1,35.8L627.2,36.1L629.6,35.0L626.5,34.1L622.6,34.8ZM637.4,35.6L642.1,36.2L646.8,35.3L649.9,34.1L652.2,32.0L646.8,31.7L641.3,32.8L638.2,34.1ZM635.8,49.7L637.4,50.3L639.0,49.7L638.2,48.9L635.8,48.9ZM646.8,38.0L653.0,38.3L657.7,38.1L662.4,38.3L662.4,32.5L657.7,32.0L654.6,33.3L651.5,34.8L648.3,36.4ZM439.4,40.1L441.3,40.5L444.4,40.8L448.3,40.5L446.8,39.4L443.6,38.9L439.0,38.9ZM449.1,39.7L453.0,40.3L459.3,40.0L457.7,38.9L453.0,39.1ZM444.1,42.8L445.5,42.2L449.1,42.8L447.6,43.3ZM504.1,46.5L506.9,46.9L510.1,46.2L507.7,45.6L505.4,45.8ZM424.9,43.4L427.2,43.1L426.5,42.2ZM515.5,76.2L514.4,76.3M513.2,76.3L512.0,76.4M510.8,76.5L509.3,76.4M507.7,76.3L506.5,76.6M505.4,77.0L504.2,76.6M503.0,76.3L501.9,76.0M500.7,75.7L498.7,75.3M496.8,74.9L495.6,74.8M494.4,74.6L508.1,74.9M521.8,75.1L523.3,74.7M524.9,74.3L526.1,74.0M527.2,73.7L528.0,73.3M546.8,69.0L549.1,67.9L549.4,66.8L547.6,67.1L546.0,68.1ZM519.1,57.8L521.8,58.6L523.8,58.6L521.8,57.9ZM526.6,63.5L528.6,63.9L528.5,63.1L527.1,63.1ZM581.1,73.1L582.7,74.2L581.6,75.9L580.4,74.6L579.6,73.2ZM594.6,81.8L592.6,81.5L590.7,80.5L588.6,79.3L586.8,78.1L588.6,78.4L591.3,79.0L593.6,80.4ZM577.2,68.4L575.2,67.6L574.6,66.5L576.8,66.8ZM579.6,71.2L578.2,70.3L577.7,68.7L579.3,69.5Z" fill="none" stroke="#000" stroke-width="0.95" stroke-linejoin="round"/>
<path fill="#000" d="M549.79,36.02a1,.8 0 1,0 2,0a1,.8 0 1,0 -2,0M557.86,36.02a1,.8 0 1,0 2,0a1,.8 0 1,0 -2,0M565.92,36.02a1,.8 0 1,0 2,0a1,.8 0 1,0 -2,0M573.99,36.02a1,.8 0 1,0 2,0a1,.8 0 1,0 -2,0M582.05,36.02a1,.8 0 1,0 2,0a1,.8 0 1,0 -2,0M553.83,40.05a1,.8 0 1,0 2,0a1,.8 0 1,0 -2,0M561.89,40.05a1,.8 0 1,0 2,0a1,.8 0 1,0 -2,0M569.96,40.05a1,.8 0 1,0 2,0a1,.8 0 1,0 -2,0M578.02,40.05a1,.8 0 1,0 2,0a1,.8 0 1,0 -2,0M586.09,40.05a1,.8 0 1,0 2,0a1,.8 0 1,0 -2,0M412.69,44.08a1,.8 0 1,0 2,0a1,.8 0 1,0 -2,0M420.75,44.08a1,.8 0 1,0 2,0a1,.8 0 1,0 -2,0M428.82,44.08a1,.8 0 1,0 2,0a1,.8 0 1,0 -2,0M436.88,44.08a1,.8 0 1,0 2,0a1,.8 0 1,0 -2,0M444.95,44.08a1,.8 0 1,0 2,0a1,.8 0 1,0 -2,0M453.01,44.08a1,.8 0 1,0 2,0a1,.8 0 1,0 -2,0M461.08,44.08a1,.8 0 1,0 2,0a1,.8 0 1,0 -2,0M549.79,44.08a1,.8 0 1,0 2,0a1,.8 0 1,0 -2,0M557.86,44.08a1,.8 0 1,0 2,0a1,.8 0 1,0 -2,0M565.92,44.08a1,.8 0 1,0 2,0a1,.8 0 1,0 -2,0M573.99,44.08a1,.8 0 1,0 2,0a1,.8 0 1,0 -2,0M582.05,44.08a1,.8 0 1,0 2,0a1,.8 0 1,0 -2,0M590.12,44.08a1,.8 0 1,0 2,0a1,.8 0 1,0 -2,0M416.73,48.12a1,.8 0 1,0 2,0a1,.8 0 1,0 -2,0M424.79,48.12a1,.8 0 1,0 2,0a1,.8 0 1,0 -2,0M432.86,48.12a1,.8 0 1,0 2,0a1,.8 0 1,0 -2,0M440.92,48.12a1,.8 0 1,0 2,0a1,.8 0 1,0 -2,0M448.99,48.12a1,.8 0 1,0 2,0a1,.8 0 1,0 -2,0M457.05,48.12a1,.8 0 1,0 2,0a1,.8 0 1,0 -2,0M545.76,48.12a1,.8 0 1,0 2,0a1,.8 0 1,0 -2,0M553.83,48.12a1,.8 0 1,0 2,0a1,.8 0 1,0 -2,0M561.89,48.12a1,.8 0 1,0 2,0a1,.8 0 1,0 -2,0M569.96,48.12a1,.8 0 1,0 2,0a1,.8 0 1,0 -2,0M578.02,48.12a1,.8 0 1,0 2,0a1,.8 0 1,0 -2,0M586.09,48.12a1,.8 0 1,0 2,0a1,.8 0 1,0 -2,0M594.15,48.12a1,.8 0 1,0 2,0a1,.8 0 1,0 -2,0M412.69,52.15a1,.8 0 1,0 2,0a1,.8 0 1,0 -2,0M420.75,52.15a1,.8 0 1,0 2,0a1,.8 0 1,0 -2,0M428.82,52.15a1,.8 0 1,0 2,0a1,.8 0 1,0 -2,0M436.88,52.15a1,.8 0 1,0 2,0a1,.8 0 1,0 -2,0M541.73,52.15a1,.8 0 1,0 2,0a1,.8 0 1,0 -2,0M549.79,52.15a1,.8 0 1,0 2,0a1,.8 0 1,0 -2,0M557.86,52.15a1,.8 0 1,0 2,0a1,.8 0 1,0 -2,0M565.92,52.15a1,.8 0 1,0 2,0a1,.8 0 1,0 -2,0M573.99,52.15a1,.8 0 1,0 2,0a1,.8 0 1,0 -2,0M582.05,52.15a1,.8 0 1,0 2,0a1,.8 0 1,0 -2,0M590.12,52.15a1,.8 0 1,0 2,0a1,.8 0 1,0 -2,0M416.73,56.18a1,.8 0 1,0 2,0a1,.8 0 1,0 -2,0M424.79,56.18a1,.8 0 1,0 2,0a1,.8 0 1,0 -2,0M432.86,56.18a1,.8 0 1,0 2,0a1,.8 0 1,0 -2,0M529.63,56.18a1,.8 0 1,0 2,0a1,.8 0 1,0 -2,0M537.70,56.18a1,.8 0 1,0 2,0a1,.8 0 1,0 -2,0M545.76,56.18a1,.8 0 1,0 2,0a1,.8 0 1,0 -2,0M553.83,56.18a1,.8 0 1,0 2,0a1,.8 0 1,0 -2,0M561.89,56.18a1,.8 0 1,0 2,0a1,.8 0 1,0 -2,0M569.96,56.18a1,.8 0 1,0 2,0a1,.8 0 1,0 -2,0M578.02,56.18a1,.8 0 1,0 2,0a1,.8 0 1,0 -2,0M586.09,56.18a1,.8 0 1,0 2,0a1,.8 0 1,0 -2,0M594.15,56.18a1,.8 0 1,0 2,0a1,.8 0 1,0 -2,0M412.69,60.22a1,.8 0 1,0 2,0a1,.8 0 1,0 -2,0M420.75,60.22a1,.8 0 1,0 2,0a1,.8 0 1,0 -2,0M428.82,60.22a1,.8 0 1,0 2,0a1,.8 0 1,0 -2,0M436.88,60.22a1,.8 0 1,0 2,0a1,.8 0 1,0 -2,0M517.53,60.22a1,.8 0 1,0 2,0a1,.8 0 1,0 -2,0M525.60,60.22a1,.8 0 1,0 2,0a1,.8 0 1,0 -2,0M533.66,60.22a1,.8 0 1,0 2,0a1,.8 0 1,0 -2,0M541.73,60.22a1,.8 0 1,0 2,0a1,.8 0 1,0 -2,0M549.79,60.22a1,.8 0 1,0 2,0a1,.8 0 1,0 -2,0M557.86,60.22a1,.8 0 1,0 2,0a1,.8 0 1,0 -2,0M565.92,60.22a1,.8 0 1,0 2,0a1,.8 0 1,0 -2,0M573.99,60.22a1,.8 0 1,0 2,0a1,.8 0 1,0 -2,0M582.05,60.22a1,.8 0 1,0 2,0a1,.8 0 1,0 -2,0M416.73,64.25a1,.8 0 1,0 2,0a1,.8 0 1,0 -2,0M424.79,64.25a1,.8 0 1,0 2,0a1,.8 0 1,0 -2,0M432.86,64.25a1,.8 0 1,0 2,0a1,.8 0 1,0 -2,0M497.38,64.25a1,.8 0 1,0 2,0a1,.8 0 1,0 -2,0M505.44,64.25a1,.8 0 1,0 2,0a1,.8 0 1,0 -2,0M513.50,64.25a1,.8 0 1,0 2,0a1,.8 0 1,0 -2,0M521.57,64.25a1,.8 0 1,0 2,0a1,.8 0 1,0 -2,0M529.63,64.25a1,.8 0 1,0 2,0a1,.8 0 1,0 -2,0M537.70,64.25a1,.8 0 1,0 2,0a1,.8 0 1,0 -2,0M545.76,64.25a1,.8 0 1,0 2,0a1,.8 0 1,0 -2,0M553.83,64.25a1,.8 0 1,0 2,0a1,.8 0 1,0 -2,0M561.89,64.25a1,.8 0 1,0 2,0a1,.8 0 1,0 -2,0M412.69,68.28a1,.8 0 1,0 2,0a1,.8 0 1,0 -2,0M420.75,68.28a1,.8 0 1,0 2,0a1,.8 0 1,0 -2,0M428.82,68.28a1,.8 0 1,0 2,0a1,.8 0 1,0 -2,0M485.27,68.28a1,.8 0 1,0 2,0a1,.8 0 1,0 -2,0M493.34,68.28a1,.8 0 1,0 2,0a1,.8 0 1,0 -2,0M501.40,68.28a1,.8 0 1,0 2,0a1,.8 0 1,0 -2,0M509.47,68.28a1,.8 0 1,0 2,0a1,.8 0 1,0 -2,0M517.53,68.28a1,.8 0 1,0 2,0a1,.8 0 1,0 -2,0M525.60,68.28a1,.8 0 1,0 2,0a1,.8 0 1,0 -2,0M533.66,68.28a1,.8 0 1,0 2,0a1,.8 0 1,0 -2,0M541.73,68.28a1,.8 0 1,0 2,0a1,.8 0 1,0 -2,0M549.79,68.28a1,.8 0 1,0 2,0a1,.8 0 1,0 -2,0M416.73,72.32a1,.8 0 1,0 2,0a1,.8 0 1,0 -2,0M424.79,72.32a1,.8 0 1,0 2,0a1,.8 0 1,0 -2,0M432.86,72.32a1,.8 0 1,0 2,0a1,.8 0 1,0 -2,0M473.18,72.32a1,.8 0 1,0 2,0a1,.8 0 1,0 -2,0M481.25,72.32a1,.8 0 1,0 2,0a1,.8 0 1,0 -2,0M489.31,72.32a1,.8 0 1,0 2,0a1,.8 0 1,0 -2,0M497.38,72.32a1,.8 0 1,0 2,0a1,.8 0 1,0 -2,0M505.44,72.32a1,.8 0 1,0 2,0a1,.8 0 1,0 -2,0M513.50,72.32a1,.8 0 1,0 2,0a1,.8 0 1,0 -2,0M521.57,72.32a1,.8 0 1,0 2,0a1,.8 0 1,0 -2,0M529.63,72.32a1,.8 0 1,0 2,0a1,.8 0 1,0 -2,0M537.70,72.32a1,.8 0 1,0 2,0a1,.8 0 1,0 -2,0M545.76,72.32a1,.8 0 1,0 2,0a1,.8 0 1,0 -2,0M412.69,76.35a1,.8 0 1,0 2,0a1,.8 0 1,0 -2,0M420.75,76.35a1,.8 0 1,0 2,0a1,.8 0 1,0 -2,0M477.21,76.35a1,.8 0 1,0 2,0a1,.8 0 1,0 -2,0M485.27,76.35a1,.8 0 1,0 2,0a1,.8 0 1,0 -2,0M493.34,76.35a1,.8 0 1,0 2,0a1,.8 0 1,0 -2,0M501.40,76.35a1,.8 0 1,0 2,0a1,.8 0 1,0 -2,0M509.47,76.35a1,.8 0 1,0 2,0a1,.8 0 1,0 -2,0M517.53,76.35a1,.8 0 1,0 2,0a1,.8 0 1,0 -2,0M525.60,76.35a1,.8 0 1,0 2,0a1,.8 0 1,0 -2,0M533.66,76.35a1,.8 0 1,0 2,0a1,.8 0 1,0 -2,0M473.18,80.38a1,.8 0 1,0 2,0a1,.8 0 1,0 -2,0M481.25,80.38a1,.8 0 1,0 2,0a1,.8 0 1,0 -2,0M489.31,80.38a1,.8 0 1,0 2,0a1,.8 0 1,0 -2,0M497.38,80.38a1,.8 0 1,0 2,0a1,.8 0 1,0 -2,0M505.44,80.38a1,.8 0 1,0 2,0a1,.8 0 1,0 -2,0M513.50,80.38a1,.8 0 1,0 2,0a1,.8 0 1,0 -2,0M521.57,80.38a1,.8 0 1,0 2,0a1,.8 0 1,0 -2,0M469.14,84.42a1,.8 0 1,0 2,0a1,.8 0 1,0 -2,0M477.21,84.42a1,.8 0 1,0 2,0a1,.8 0 1,0 -2,0M485.27,84.42a1,.8 0 1,0 2,0a1,.8 0 1,0 -2,0M493.34,84.42a1,.8 0 1,0 2,0a1,.8 0 1,0 -2,0M501.40,84.42a1,.8 0 1,0 2,0a1,.8 0 1,0 -2,0M509.47,84.42a1,.8 0 1,0 2,0a1,.8 0 1,0 -2,0M473.18,88.45a1,.8 0 1,0 2,0a1,.8 0 1,0 -2,0M481.25,88.45a1,.8 0 1,0 2,0a1,.8 0 1,0 -2,0M489.31,88.45a1,.8 0 1,0 2,0a1,.8 0 1,0 -2,0M497.38,88.45a1,.8 0 1,0 2,0a1,.8 0 1,0 -2,0M569.96,88.45a1,.8 0 1,0 2,0a1,.8 0 1,0 -2,0M469.14,92.48a1,.8 0 1,0 2,0a1,.8 0 1,0 -2,0M477.21,92.48a1,.8 0 1,0 2,0a1,.8 0 1,0 -2,0M485.27,92.48a1,.8 0 1,0 2,0a1,.8 0 1,0 -2,0M493.34,92.48a1,.8 0 1,0 2,0a1,.8 0 1,0 -2,0M565.92,92.48a1,.8 0 1,0 2,0a1,.8 0 1,0 -2,0M573.99,92.48a1,.8 0 1,0 2,0a1,.8 0 1,0 -2,0M473.18,96.51a1,.8 0 1,0 2,0a1,.8 0 1,0 -2,0M481.25,96.51a1,.8 0 1,0 2,0a1,.8 0 1,0 -2,0M553.83,96.51a1,.8 0 1,0 2,0a1,.8 0 1,0 -2,0M561.89,96.51a1,.8 0 1,0 2,0a1,.8 0 1,0 -2,0M569.96,96.51a1,.8 0 1,0 2,0a1,.8 0 1,0 -2,0M469.14,100.55a1,.8 0 1,0 2,0a1,.8 0 1,0 -2,0M477.21,100.55a1,.8 0 1,0 2,0a1,.8 0 1,0 -2,0M485.27,100.55a1,.8 0 1,0 2,0a1,.8 0 1,0 -2,0M541.73,100.55a1,.8 0 1,0 2,0a1,.8 0 1,0 -2,0M549.79,100.55a1,.8 0 1,0 2,0a1,.8 0 1,0 -2,0M557.86,100.55a1,.8 0 1,0 2,0a1,.8 0 1,0 -2,0M565.92,100.55a1,.8 0 1,0 2,0a1,.8 0 1,0 -2,0M521.57,104.58a1,.8 0 1,0 2,0a1,.8 0 1,0 -2,0M529.63,104.58a1,.8 0 1,0 2,0a1,.8 0 1,0 -2,0M537.70,104.58a1,.8 0 1,0 2,0a1,.8 0 1,0 -2,0M545.76,104.58a1,.8 0 1,0 2,0a1,.8 0 1,0 -2,0M553.83,104.58a1,.8 0 1,0 2,0a1,.8 0 1,0 -2,0M561.89,104.58a1,.8 0 1,0 2,0a1,.8 0 1,0 -2,0M517.53,108.61a1,.8 0 1,0 2,0a1,.8 0 1,0 -2,0M525.60,108.61a1,.8 0 1,0 2,0a1,.8 0 1,0 -2,0M533.66,108.61a1,.8 0 1,0 2,0a1,.8 0 1,0 -2,0M541.73,108.61a1,.8 0 1,0 2,0a1,.8 0 1,0 -2,0M549.79,108.61a1,.8 0 1,0 2,0a1,.8 0 1,0 -2,0M557.86,108.61a1,.8 0 1,0 2,0a1,.8 0 1,0 -2,0M513.50,112.65a1,.8 0 1,0 2,0a1,.8 0 1,0 -2,0M521.57,112.65a1,.8 0 1,0 2,0a1,.8 0 1,0 -2,0M529.63,112.65a1,.8 0 1,0 2,0a1,.8 0 1,0 -2,0M537.70,112.65a1,.8 0 1,0 2,0a1,.8 0 1,0 -2,0M545.76,112.65a1,.8 0 1,0 2,0a1,.8 0 1,0 -2,0M553.83,112.65a1,.8 0 1,0 2,0a1,.8 0 1,0 -2,0M561.89,112.65a1,.8 0 1,0 2,0a1,.8 0 1,0 -2,0M509.47,116.68a1,.8 0 1,0 2,0a1,.8 0 1,0 -2,0M517.53,116.68a1,.8 0 1,0 2,0a1,.8 0 1,0 -2,0M525.60,116.68a1,.8 0 1,0 2,0a1,.8 0 1,0 -2,0M533.66,116.68a1,.8 0 1,0 2,0a1,.8 0 1,0 -2,0M541.73,116.68a1,.8 0 1,0 2,0a1,.8 0 1,0 -2,0M549.79,116.68a1,.8 0 1,0 2,0a1,.8 0 1,0 -2,0M557.86,116.68a1,.8 0 1,0 2,0a1,.8 0 1,0 -2,0M513.50,120.71a1,.8 0 1,0 2,0a1,.8 0 1,0 -2,0M521.57,120.71a1,.8 0 1,0 2,0a1,.8 0 1,0 -2,0M529.63,120.71a1,.8 0 1,0 2,0a1,.8 0 1,0 -2,0M537.70,120.71a1,.8 0 1,0 2,0a1,.8 0 1,0 -2,0M545.76,120.71a1,.8 0 1,0 2,0a1,.8 0 1,0 -2,0M553.83,120.71a1,.8 0 1,0 2,0a1,.8 0 1,0 -2,0M525.60,124.75a1,.8 0 1,0 2,0a1,.8 0 1,0 -2,0M533.66,124.75a1,.8 0 1,0 2,0a1,.8 0 1,0 -2,0M541.73,124.75a1,.8 0 1,0 2,0a1,.8 0 1,0 -2,0M549.79,124.75a1,.8 0 1,0 2,0a1,.8 0 1,0 -2,0M557.86,124.75a1,.8 0 1,0 2,0a1,.8 0 1,0 -2,0M545.76,128.78a1,.8 0 1,0 2,0a1,.8 0 1,0 -2,0M553.83,128.78a1,.8 0 1,0 2,0a1,.8 0 1,0 -2,0"/>
</g>
<rect x="412.4" y="32.5" width="250.0" height="156.0" fill="none" stroke="#8e8e8e" stroke-width="1.0"/>
<path d="M406.9,32.5H412.4M409.2,48.1H412.4M406.9,63.7H412.4M409.2,79.3H412.4M406.9,94.9H412.4M409.2,110.5H412.4M406.9,126.1H412.4M409.2,141.7H412.4M406.9,157.3H412.4M409.2,172.9H412.4M406.9,188.5H412.4M412.4,188.5V191.7M428.0,188.5V191.7M443.6,188.5V194.0M459.3,188.5V191.7M474.9,188.5V191.7M490.5,188.5V191.7M506.1,188.5V194.0M521.8,188.5V191.7M537.4,188.5V191.7M553.0,188.5V191.7M568.6,188.5V194.0M584.3,188.5V191.7M599.9,188.5V191.7M615.5,188.5V191.7M631.1,188.5V194.0M646.8,188.5V191.7M662.4,188.5V191.7" stroke="#8e8e8e" stroke-width="1.0" fill="none"/>
<text x="396.2" y="39.4" text-anchor="end" font-size="16.3" font-family="Liberation Sans, sans-serif">80<tspan font-size="11" dy="-6.9">o</tspan><tspan dy="6.9">N</tspan></text>
<text x="396.2" y="70.6" text-anchor="end" font-size="16.3" font-family="Liberation Sans, sans-serif">60<tspan font-size="11" dy="-6.9">o</tspan><tspan dy="6.9">N</tspan></text>
<text x="396.2" y="101.8" text-anchor="end" font-size="16.3" font-family="Liberation Sans, sans-serif">40<tspan font-size="11" dy="-6.9">o</tspan><tspan dy="6.9">N</tspan></text>
<text x="396.2" y="133.0" text-anchor="end" font-size="16.3" font-family="Liberation Sans, sans-serif">20<tspan font-size="11" dy="-6.9">o</tspan><tspan dy="6.9">N</tspan></text>
<text x="396.2" y="164.2" text-anchor="end" font-size="16.3" font-family="Liberation Sans, sans-serif">0<tspan font-size="11" dy="-6.9">o</tspan></text>
<text x="396.2" y="195.4" text-anchor="end" font-size="16.3" font-family="Liberation Sans, sans-serif">20<tspan font-size="11" dy="-6.9">o</tspan><tspan dy="6.9">S</tspan></text>
<text x="443.6" y="220.1" text-anchor="middle" font-size="16.3" font-family="Liberation Sans, sans-serif">140<tspan font-size="11" dy="-6.9">o</tspan><tspan dy="6.9">E</tspan></text>
<text x="506.1" y="220.1" text-anchor="middle" font-size="16.3" font-family="Liberation Sans, sans-serif">180<tspan font-size="11" dy="-6.9">o</tspan></text>
<text x="568.6" y="220.1" text-anchor="middle" font-size="16.3" font-family="Liberation Sans, sans-serif">140<tspan font-size="11" dy="-6.9">o</tspan><tspan dy="6.9">W</tspan></text>
<text x="631.1" y="220.1" text-anchor="middle" font-size="16.3" font-family="Liberation Sans, sans-serif">100<tspan font-size="11" dy="-6.9">o</tspan><tspan dy="6.9">W</tspan></text>
<text x="663.0" y="26.3" text-anchor="end" font-size="16.6" font-family="Liberation Sans, sans-serif">JFM(0)</text>
<g clip-path="url(#cpc)">
<path fill-rule="evenodd" fill="#ffd82e" d="M249.1,387.5L243.3,387.6L242.6,387.3L240.6,387.3L239.8,387.1L238.1,387.1L237.3,386.8L235.6,386.8L234.8,386.6L230.8,386.3L230.1,386.1L228.1,386.1L227.3,385.8L223.6,385.8L222.8,385.6L217.3,385.3L215.1,384.7L213.5,383.7L212.1,382.4L209.6,381.6L202.1,381.1L201.3,380.8L200.1,380.8L191.3,379.6L187.8,379.3L182.8,378.5L181.8,378.0L180.6,377.1L176.9,373.2L176.1,371.8L174.6,370.3L173.1,369.4L169.3,368.1L165.8,367.8L165.1,367.6L163.3,367.6L162.6,367.3L158.1,367.1L149.8,365.0L137.8,361.0L135.9,359.2L135.0,357.9L134.8,356.7L135.5,354.7L136.7,352.9L137.6,352.1L139.8,350.4L141.1,350.0L142.1,349.4L144.8,348.8L146.1,348.1L149.1,347.6L150.8,347.6L152.3,347.3L156.8,346.3L158.1,345.6L159.8,345.1L161.3,345.1L164.1,344.3L165.3,344.3L166.1,344.1L168.3,344.1L169.1,343.8L178.3,342.8L189.1,340.1L190.3,340.1L195.1,339.1L200.3,338.6L202.1,338.1L209.1,337.6L210.6,337.0L211.6,336.0L212.1,334.9L213.0,331.4L213.5,330.2L214.9,328.2L218.1,325.1L219.8,323.9L222.8,322.4L225.8,321.8L229.1,320.3L238.3,313.7L239.3,313.3L240.6,312.4L241.3,312.3L244.8,310.5L245.6,309.9L246.9,308.7L247.7,306.9L247.6,304.7L242.7,296.9L240.4,291.7L237.8,288.8L236.6,288.1L235.5,288.2L235.2,288.7L234.9,290.4L234.4,291.4L233.8,292.0L232.8,292.5L227.3,294.1L220.8,296.8L216.6,297.8L214.6,298.1L212.7,297.9L212.0,297.2L211.7,296.2L211.7,293.2L212.7,287.7L213.7,284.7L213.9,282.4L213.1,280.9L211.3,280.1L207.6,280.1L205.6,281.1L203.1,283.2L201.8,284.0L193.6,286.1L183.3,286.1L182.6,286.3L179.3,286.6L174.8,287.6L173.6,288.3L170.3,289.1L169.8,289.0L168.7,288.4L168.2,287.7L167.7,285.7L167.4,283.7L167.7,280.9L168.4,279.7L169.6,278.7L169.6,277.4L166.8,276.1L159.8,275.0L153.8,273.0L151.6,272.0L149.8,271.0L148.2,268.7L147.8,266.9L148.1,266.4L148.7,265.7L150.6,264.9L150.7,264.7L150.4,264.2L151.6,264.1L244.1,264.2L244.2,264.4L243.8,265.1L240.3,267.2L240.0,267.9L241.2,269.4L243.1,270.8L244.1,272.1L247.9,275.4L252.6,280.9L253.6,282.9L254.7,286.7L254.7,290.2L254.9,290.9L254.9,292.2L255.4,293.9L255.4,295.2L256.0,297.4L256.7,299.4L257.8,301.3L261.8,305.7L263.1,305.4L264.6,306.1L265.2,307.2L265.0,308.2L265.1,308.5L269.7,312.4L271.6,314.6L280.1,323.1L286.2,328.2L290.6,330.9L292.6,332.4L292.6,332.7L286.8,332.6L285.8,332.3L280.3,332.2L279.5,331.4L278.8,328.9L277.8,327.9L277.1,327.4L275.1,327.1L273.3,327.7L272.3,328.3L271.6,328.4L267.8,330.4L265.6,332.1L264.1,333.4L262.8,334.2L260.3,334.3L258.3,333.8L257.3,333.8L255.7,334.4L254.8,335.4L254.5,336.2L254.5,336.7L254.9,337.7L256.1,338.5L257.6,338.8L259.8,338.8L261.3,339.4L263.1,340.4L266.8,343.2L268.8,344.1L270.8,345.5L272.3,346.2L276.3,347.4L277.8,348.1L278.9,349.4L280.1,351.5L282.3,352.8L283.1,352.8L286.3,351.7L289.1,349.7L289.9,348.4L291.1,345.9L291.7,344.2L293.0,341.9L296.8,336.4L297.3,336.3L300.3,338.3L306.6,344.1L307.6,344.8L308.3,345.1L311.3,345.1L313.1,345.4L315.4,346.9L317.7,349.2L319.8,351.8L321.6,353.3L322.6,354.6L323.4,355.2L324.1,356.2L324.2,374.2L324.1,375.0L323.8,375.0L322.8,374.1L321.3,373.5L320.7,372.9L319.0,370.7L316.4,366.7L315.1,365.1L312.5,362.7L311.6,361.7L310.6,360.9L308.8,360.1L303.6,359.1L294.6,359.1L293.8,359.3L292.1,359.3L290.1,359.8L288.3,359.8L287.3,360.1L275.8,360.1L275.1,360.3L273.3,360.3L272.6,360.6L270.8,360.6L270.1,360.8L268.3,360.8L267.3,361.1L254.6,361.1L253.8,361.3L249.6,361.6L247.6,362.1L246.1,362.1L240.3,363.6L238.0,365.2L237.1,366.2L235.8,367.0L234.1,367.8L232.1,368.1L230.8,368.8L229.8,368.9L228.3,369.6L225.7,372.2L224.9,373.9L224.9,374.9L225.3,375.9L227.7,379.2L228.8,380.3L229.6,380.8L232.3,380.8L234.3,380.1L236.3,379.8L238.1,378.9L241.1,377.9L243.8,377.8L245.6,378.1L248.1,379.0L249.1,379.1L251.1,379.7L252.1,380.3L255.6,381.5L257.1,381.6L258.3,382.2L258.8,382.9L258.8,383.7L258.3,384.4L255.8,386.0L251.1,387.3L249.6,387.3L249.1,387.5ZM234.9,274.9L236.3,274.3L237.9,272.4L238.2,271.2L238.2,269.2L237.3,267.2L235.8,266.1L232.3,265.7L229.6,265.9L227.3,266.9L226.7,267.9L226.7,269.2L227.2,271.2L228.4,273.7L230.1,274.5L232.1,275.1L234.9,274.9ZM111.3,284.2L110.8,284.1L109.8,282.9L109.7,279.2L109.3,277.7L108.1,275.7L107.0,274.4L106.2,272.9L106.1,271.9L105.7,270.9L105.7,269.9L106.0,269.4L106.8,268.6L108.3,267.9L110.5,267.4L111.8,268.8L113.3,269.8L115.0,270.1L117.5,270.1L118.3,269.8L119.8,269.8L121.5,269.5L122.8,269.0L123.4,268.4L124.0,266.9L124.5,266.7L125.0,266.9L125.4,267.7L125.4,268.9L124.8,270.0L124.0,270.5L119.5,272.1L117.7,273.9L116.5,275.4L113.1,282.4L112.0,283.8L111.3,284.2ZM179.2,280.4L181.8,280.0L182.4,279.7L183.2,278.4L182.9,277.4L181.6,276.6L178.1,276.1L174.1,277.1L172.8,277.9L173.3,279.0L175.3,280.3L176.8,280.6L179.2,280.4ZM123.8,296.3L122.0,296.3L121.0,296.1L120.0,295.2L119.0,293.4L118.7,292.4L118.7,291.9L119.2,290.9L120.5,290.1L123.8,289.3L127.3,289.1L128.1,288.8L130.3,288.8L131.3,288.6L136.3,288.6L137.3,288.8L139.8,288.8L140.6,289.1L143.3,289.1L145.3,289.6L146.1,290.2L146.2,290.7L145.8,291.4L144.4,292.7L143.3,293.3L140.1,293.8L138.3,293.8L123.8,296.3ZM109.8,301.2L108.5,301.3L107.8,301.0L107.0,300.3L106.7,299.4L106.8,297.9L107.7,296.7L108.5,296.2L109.8,296.6L110.9,298.2L110.9,299.2L110.6,300.2L109.8,301.2ZM263.9,354.2L265.8,354.0L267.2,353.2L267.6,352.4L267.9,351.2L267.4,349.9L266.3,349.4L264.1,349.0L262.6,349.1L260.3,350.4L260.3,351.7L261.3,353.3L262.3,354.0L263.6,354.3L263.9,354.2Z"/>
<path fill-rule="evenodd" fill="#ff8c00" d="M183.3,268.5L180.8,268.0L178.8,266.9L178.0,265.9L177.7,265.4L177.8,264.9L178.6,264.4L179.8,264.1L184.6,264.1L186.1,264.7L186.9,265.7L186.8,266.2L186.3,266.9L184.8,268.0L183.3,268.5ZM194.1,272.8L191.6,272.6L190.6,272.2L189.3,271.3L188.8,270.4L188.8,269.9L189.6,269.4L192.6,268.4L194.1,268.1L197.6,268.6L198.3,268.9L198.8,269.4L198.8,270.2L197.6,271.4L195.3,272.5L194.1,272.8ZM112.3,280.0L111.8,280.0L111.0,279.4L109.5,278.0L108.7,276.9L107.0,273.2L106.7,272.2L107.0,271.4L107.5,270.7L108.5,270.1L109.5,269.8L110.3,269.8L111.5,269.8L112.5,270.1L114.9,271.4L116.1,272.9L116.4,274.7L115.6,276.9L114.3,278.7L113.0,279.7L112.3,280.0ZM132.6,293.5L131.3,293.2L130.3,292.2L130.3,291.4L131.6,290.2L132.1,290.1L132.6,290.4L133.8,291.7L133.8,292.5L133.1,293.2L132.6,293.5ZM263.8,309.2L262.1,309.3L261.5,308.9L261.0,308.2L260.9,307.2L261.2,306.4L262.8,305.4L263.3,305.4L264.3,305.9L265.1,306.9L265.2,307.4L264.9,308.2L263.8,309.2ZM257.6,328.3L256.6,328.3L255.3,327.5L254.2,325.2L254.2,324.7L255.2,322.7L254.7,320.2L254.7,318.2L255.4,316.7L256.3,315.7L258.6,314.4L261.6,313.1L262.8,312.8L264.8,312.8L266.1,313.4L268.1,315.0L269.1,315.4L271.3,316.9L272.0,318.2L271.9,319.4L270.9,321.9L269.6,323.6L267.8,324.5L266.8,324.6L264.3,325.8L263.3,325.9L259.8,327.5L257.6,328.3ZM189.1,377.0L187.8,377.0L187.2,376.4L186.7,375.7L186.6,374.9L185.4,373.4L181.6,369.8L179.1,365.1L177.1,363.4L175.3,363.1L172.1,363.1L166.6,362.1L156.1,362.1L155.3,361.8L150.8,361.6L149.1,361.1L148.1,361.1L146.6,360.5L143.8,359.0L143.0,357.7L142.7,356.7L142.7,355.9L143.8,354.2L144.8,353.4L146.6,352.6L148.8,352.1L151.3,352.1L152.3,351.8L162.1,351.8L163.1,351.6L165.3,351.6L166.1,351.3L167.3,351.3L169.1,350.8L170.3,350.8L180.1,348.3L181.3,348.3L182.1,348.1L184.3,348.1L185.1,347.8L186.3,347.8L193.1,346.8L194.6,346.8L195.3,346.6L200.6,346.5L201.5,346.2L201.5,345.9L197.8,344.5L197.6,344.2L197.8,343.9L200.6,343.3L205.3,343.3L206.3,343.1L209.6,343.1L210.6,342.8L212.8,342.8L221.1,341.3L221.8,340.8L222.1,340.2L221.6,339.2L220.8,338.2L221.0,337.4L221.8,336.6L223.3,335.9L224.8,335.6L226.6,335.3L230.3,335.3L235.6,336.7L238.8,338.3L242.0,341.9L243.9,342.9L245.3,344.2L247.6,347.2L251.9,353.9L253.1,354.8L254.8,355.4L256.3,356.3L256.9,356.9L256.9,357.7L256.1,358.8L254.6,359.7L252.8,360.3L249.6,360.6L248.8,360.8L246.3,360.8L245.3,361.1L234.8,361.1L231.6,361.6L229.6,361.6L227.6,362.1L225.8,362.1L219.3,363.4L217.8,364.0L216.1,364.4L212.3,365.9L210.3,367.0L208.6,367.6L195.8,373.9L193.6,375.3L190.1,376.8L189.1,377.0ZM323.8,374.5L321.3,373.5L320.8,373.1L319.0,370.7L316.6,366.9L315.2,365.2L312.5,362.7L311.8,361.8L310.8,361.1L308.4,358.4L307.8,357.2L308.3,355.9L309.3,355.2L310.3,354.8L311.6,354.8L312.6,355.2L315.2,357.4L316.8,359.8L318.2,361.2L318.8,362.3L319.9,363.4L322.4,367.7L323.4,369.7L324.2,372.7L324.2,373.9L323.8,374.5ZM273.3,358.3L270.8,358.4L269.3,358.3L268.3,357.7L268.2,357.4L268.8,356.6L270.8,355.6L272.1,355.3L274.6,355.3L276.0,355.9L275.9,356.7L275.3,357.3L274.3,358.0L273.3,358.3Z"/>
<path fill-rule="evenodd" fill="#ff4d00" d="M199.8,363.0L192.6,363.0L192.2,362.9L192.3,362.7L194.6,362.6L195.0,362.2L186.1,362.1L183.6,361.5L181.8,360.8L180.8,359.9L179.8,358.2L179.4,356.7L179.5,355.4L180.1,354.6L181.6,353.7L185.3,352.8L187.6,352.6L189.6,352.6L190.6,352.8L194.3,352.8L195.1,352.6L196.3,352.6L197.1,352.3L204.7,351.4L204.6,351.2L201.6,350.5L201.4,350.2L201.6,350.1L203.3,350.1L206.6,350.6L209.8,350.6L210.5,350.9L210.1,351.3L208.3,351.3L207.0,351.7L207.1,352.0L207.8,352.5L208.9,352.9L211.1,354.8L211.9,356.2L212.0,357.4L211.8,358.4L210.3,360.5L207.8,362.0L206.1,362.5L204.6,362.6L203.8,362.8L200.3,362.8L199.8,363.0ZM230.6,360.0L228.1,360.1L226.8,359.5L226.2,358.9L224.7,356.9L224.4,355.7L224.5,353.2L226.1,351.6L227.8,350.9L229.1,350.8L230.6,351.4L232.6,353.4L233.4,354.9L233.7,356.4L233.4,357.9L232.9,358.9L232.1,359.5L230.6,360.0ZM156.3,360.0L154.6,360.1L153.6,359.6L152.7,358.4L152.7,357.7L152.9,357.2L154.3,356.4L155.3,356.1L156.3,356.4L157.3,357.1L157.8,357.7L157.8,358.4L156.3,360.0Z"/>
<path fill-rule="evenodd" fill="#a7dbe5" d="M117.8,270.0L114.8,270.1L112.8,269.5L111.8,268.8L111.0,267.9L110.8,266.9L111.0,266.2L112.0,265.4L113.3,264.9L115.0,264.6L116.8,264.6L117.8,264.8L122.0,265.1L123.3,265.7L123.8,266.4L123.9,267.4L123.4,268.4L122.8,269.0L121.3,269.6L117.8,270.0ZM318.8,270.3L318.1,270.3L316.6,269.8L315.8,268.7L315.7,268.2L315.9,267.7L317.1,266.9L318.3,266.6L319.3,266.6L320.8,267.3L321.6,268.2L321.4,268.9L320.6,269.7L318.8,270.3ZM94.8,297.0L92.5,297.1L90.5,296.1L89.7,294.4L89.7,293.2L89.9,292.7L90.5,292.1L91.8,291.6L93.3,291.3L94.9,291.7L96.0,292.9L96.4,294.4L95.6,296.4L94.8,297.0ZM78.8,303.2L78.0,303.3L77.0,302.9L76.0,301.9L75.7,300.9L75.8,299.4L76.5,298.6L77.8,298.1L78.3,298.2L79.4,298.9L80.4,300.4L80.4,300.9L79.9,302.2L78.8,303.2ZM137.1,305.1L136.6,305.1L135.8,304.6L135.0,303.4L134.8,302.9L135.2,302.2L136.3,301.3L136.8,301.4L137.6,301.9L138.4,303.4L137.8,304.5L137.1,305.1ZM89.3,313.5L86.8,313.6L85.3,313.1L84.2,311.9L83.7,311.2L83.7,310.2L84.0,309.4L86.0,308.4L87.5,308.1L89.5,308.6L90.5,309.2L91.6,310.2L91.6,311.4L91.3,312.3L90.5,313.1L89.3,313.5ZM79.5,313.3L78.3,313.3L77.5,313.0L77.2,312.4L76.9,311.7L76.9,310.4L77.8,309.7L78.8,309.3L79.5,309.4L80.3,309.9L81.1,311.2L81.1,311.7L80.8,312.3L79.5,313.3ZM80.3,318.5L78.8,318.6L76.3,317.8L76.0,317.4L75.7,316.4L75.6,315.9L75.7,315.4L77.0,314.6L78.0,314.5L79.0,314.1L80.9,314.4L82.3,315.9L82.4,316.7L82.2,317.2L81.3,318.1L80.3,318.5ZM189.3,321.8L187.8,321.5L186.8,320.4L186.7,318.9L187.3,317.9L187.8,316.2L188.6,315.6L189.6,315.3L190.3,315.4L192.6,316.1L193.7,317.7L193.6,318.2L192.6,320.2L191.6,321.2L189.3,321.8ZM133.1,324.5L130.6,324.6L129.6,324.2L128.7,323.2L128.8,322.2L130.1,321.1L131.8,320.6L132.6,320.6L134.3,321.1L135.1,321.9L134.8,323.2L133.8,324.2L133.1,324.5ZM93.5,342.5L92.5,342.5L91.5,341.9L91.0,341.4L90.7,340.4L90.8,339.4L91.5,338.4L93.3,337.3L93.8,337.4L94.6,337.9L95.1,338.7L95.6,339.9L94.8,341.7L93.5,342.5ZM88.5,353.2L87.5,353.4L86.5,353.3L86.0,353.0L85.5,351.9L84.9,349.9L84.4,347.2L84.4,342.7L84.9,341.7L86.0,340.8L87.8,340.8L89.5,341.4L90.7,343.7L90.4,348.7L90.2,349.9L89.6,351.4L88.5,353.2ZM219.1,413.0L216.8,413.1L216.1,412.8L211.8,412.6L209.8,412.1L205.3,411.8L204.6,411.6L202.3,411.6L201.6,411.3L199.6,411.3L198.1,411.0L197.9,410.7L201.3,410.0L201.3,409.7L199.6,409.1L192.3,407.6L191.1,407.6L190.3,407.3L188.1,407.3L187.3,407.1L186.1,407.1L185.3,406.8L184.1,406.8L183.3,406.6L182.1,406.6L181.3,406.3L180.1,406.3L179.3,406.1L178.1,406.1L177.3,405.8L176.1,405.8L175.3,405.6L162.1,404.1L159.6,403.3L156.8,402.0L156.0,400.9L155.7,399.9L155.7,399.2L156.2,397.2L157.3,395.2L159.1,394.1L160.1,393.8L161.3,393.8L163.1,393.3L164.1,392.8L168.7,387.9L169.3,387.6L169.9,387.9L170.4,388.7L171.0,391.2L171.7,392.7L172.1,393.0L173.3,393.5L175.8,393.6L176.8,393.8L181.1,393.8L182.1,393.6L184.3,393.6L185.1,393.3L187.3,393.3L188.1,393.1L190.3,393.1L191.1,392.8L196.3,392.8L197.6,393.1L199.8,393.1L200.6,393.3L204.6,393.6L206.6,394.1L208.8,394.3L211.6,395.3L214.1,395.6L218.1,397.0L220.3,397.4L221.8,398.0L224.1,398.4L225.6,399.0L231.6,400.1L233.6,400.8L236.8,401.4L238.1,402.0L238.8,402.2L239.6,402.6L241.2,403.9L241.6,404.7L241.9,406.2L241.3,407.5L239.6,409.0L237.8,410.0L227.6,412.1L225.8,412.1L223.8,412.6L222.1,412.6L219.1,413.0ZM153.3,396.8L152.3,396.8L151.1,396.5L149.9,395.7L149.0,394.2L149.0,393.4L149.8,392.4L151.8,391.4L152.6,391.3L154.3,391.9L155.4,392.4L156.1,393.4L155.9,394.7L155.2,395.9L154.3,396.5L153.3,396.8ZM302.3,415.0L300.1,415.1L299.1,414.7L298.1,414.1L296.6,412.8L292.9,409.2L290.1,405.8L288.7,403.9L287.7,401.7L287.7,399.9L288.9,397.9L291.1,396.2L293.8,395.3L295.3,395.3L296.1,395.1L297.6,395.1L298.3,395.3L301.6,395.6L305.6,396.7L306.4,397.2L307.1,398.2L307.6,399.2L308.2,401.4L308.2,404.4L307.9,405.7L307.9,407.7L307.1,410.9L306.6,411.9L305.6,413.3L304.6,414.0L302.3,415.0ZM115.0,420.0L75.8,420.1L75.3,420.0L75.2,419.7L76.0,416.9L77.2,413.9L78.2,412.4L79.5,411.1L81.8,409.8L84.0,409.3L87.3,409.3L90.3,410.2L92.8,411.8L94.5,412.4L95.5,413.0L97.5,413.4L100.0,414.3L107.8,416.1L109.0,416.8L111.8,417.6L114.4,418.9L115.2,419.7L115.2,419.9L115.0,420.0Z"/>
<path fill-rule="evenodd" fill="#7bbfd8" d="M208.6,409.5L206.3,409.6L205.6,409.3L204.1,409.3L201.6,408.8L199.6,407.8L199.0,406.9L198.9,405.9L199.3,405.5L200.3,405.1L202.6,404.8L204.3,404.3L207.3,404.1L208.3,404.3L212.6,404.6L213.3,404.8L219.1,404.8L220.1,405.1L222.8,405.1L224.3,405.6L224.7,406.2L224.6,406.8L223.6,407.7L221.8,408.3L220.6,408.3L218.8,408.8L216.8,408.8L213.6,409.3L209.3,409.3L208.6,409.5Z"/>
<path d="M74.0,316.5L74.6,315.4L75.9,314.0L76.8,313.0L77.3,311.2L76.2,310.4L77.3,309.4L77.3,308.5L75.9,307.3L75.2,306.0L74.8,304.4L73.4,303.5L73.7,302.3L74.8,301.5L75.9,300.7L78.2,300.1L78.2,299.5L76.6,299.1L75.1,299.0L74.0,299.6L72.7,299.8M74.0,295.6L75.9,294.2L77.6,294.6L76.8,296.3L76.2,297.3L77.1,297.0L78.2,296.2L79.9,295.7L81.0,295.6L81.8,296.0L82.4,297.1L82.0,298.1L83.0,299.0L84.5,299.1L84.8,300.1L84.3,301.3L84.6,302.3L84.1,303.8L85.5,303.8L86.8,303.4L88.4,303.0L89.0,302.4L89.1,301.0L89.0,299.9L87.9,298.5L87.3,297.6L86.0,296.5L86.2,295.7L87.6,295.2L89.5,294.2L89.6,293.1L91.0,291.8L92.0,290.9L93.5,290.4L94.9,291.2L97.0,290.4L98.7,289.2L100.9,287.3L102.7,285.4L103.7,284.0L105.9,282.3L106.3,280.6L106.3,279.2L107.7,277.0L107.6,275.7L106.6,274.7L104.9,273.4L102.4,273.6L101.2,272.8L100.6,272.2L101.8,271.7L102.9,270.4L105.4,267.9L108.0,266.4L109.9,265.3L112.9,265.1L115.7,265.1L118.8,265.3L120.5,264.7L123.2,265.4L124.8,265.8L127.7,265.3L129.0,265.0L129.6,264.2L131.8,261.7L134.5,261.2L137.1,261.9L137.0,262.6L135.7,263.1L137.6,263.3L140.7,261.7L142.3,260.5L143.5,260.9L141.8,262.0L142.7,263.3L139.9,264.8L139.1,266.5L137.4,267.8L134.5,268.9L132.1,270.0L130.9,272.0L130.1,273.7L131.0,276.2L131.6,278.4L133.0,277.5L134.6,275.4L136.5,274.3L136.8,273.2L139.6,272.0L139.9,270.4L142.0,270.1L140.9,269.2L141.2,267.6L142.4,266.7L142.7,265.6L145.4,264.4L146.5,263.6L148.5,263.7L151.6,263.3L153.2,264.2L156.0,262.6L158.7,261.4L162.6,260.3L166.8,260.5L166.5,259.5L164.1,258.6L165.9,257.5L164.1,256.9L166.2,256.6L168.1,256.2L170.4,255.8L173.5,255.6L176.6,257.0L179.0,257.3L180.6,256.7L179.3,255.6L181.8,254.8L184.1,254.7L182.9,253.9L179.0,253.4L175.1,252.8L171.2,251.6L168.1,250.5L164.1,249.4L159.5,248.8L155.6,248.6L152.9,249.1L151.5,250.5L147.7,249.2L143.8,249.1L139.1,249.4L138.2,248.1L133.7,247.2L129.0,246.9L124.3,247.2L121.6,246.3L118.0,245.2L113.4,244.9L107.9,244.2L105.5,244.7L100.9,246.3L97.7,246.1L93.8,246.7L91.5,247.4L89.1,246.3L88.4,244.7L86.8,244.1L85.2,243.1L82.1,243.1L79.8,243.9L75.9,244.1L73.5,243.9M89.5,305.9L90.2,309.0L91.0,309.4L91.6,308.8L92.3,307.3L93.0,306.0L92.6,305.4L91.5,304.9L90.6,304.9L89.6,305.4ZM93.8,306.0L94.6,306.8L95.5,305.7L96.6,305.9L97.3,305.1L97.0,304.4L95.4,304.1L94.5,304.6L93.7,305.5ZM91.3,304.8L91.8,304.1L93.5,303.0L94.9,302.3L97.0,302.3L98.4,302.4L99.3,301.8L100.6,300.2L101.3,299.3L101.2,300.4L102.9,299.9L104.5,298.2L105.2,296.5L105.5,295.1L105.4,294.5L106.0,293.5L107.1,293.5L107.7,293.2L107.9,294.5L108.7,295.9L108.2,297.1L107.9,298.1L107.1,298.5L107.1,300.1L106.6,301.2L107.0,302.1L106.0,302.9L105.4,303.4L105.1,302.7L104.3,302.9L103.7,303.8L102.9,303.7L101.5,303.7L100.6,304.3L99.8,304.9L99.0,305.5L98.0,305.1L97.9,304.3L98.4,303.7L96.8,303.5L95.2,304.0L93.7,304.3L92.9,304.9L91.8,304.9ZM105.5,293.1L106.2,292.4L107.0,292.6L107.4,292.6L109.1,292.0L110.7,292.3L111.6,291.2L113.2,290.7L114.3,290.3L113.8,289.8L113.8,289.0L112.3,289.2L110.7,288.5L109.1,287.3L108.2,287.0L108.0,288.5L107.7,289.8L107.4,290.4L106.3,290.3L105.4,291.3L105.9,292.0ZM108.5,286.0L108.8,285.1L109.6,285.1L111.0,285.9L110.5,284.6L109.5,283.7L110.2,281.4L112.6,281.4L111.0,279.5L110.5,277.3L110.5,275.6L110.7,274.3L109.8,273.1L109.1,273.2L109.6,274.2L108.4,275.6L108.2,277.6L108.8,279.8L108.7,281.4L108.7,283.2L108.8,284.5ZM114.1,289.8L115.3,289.2M116.2,288.7L117.1,288.1M117.9,287.6L118.7,287.3M119.3,287.0L120.3,286.5M121.2,286.0L122.0,285.4M122.7,284.9L123.6,284.4M124.3,284.0L125.3,283.2M126.2,282.6L126.9,282.2M127.6,281.8L128.4,281.2M129.0,280.7L129.7,280.0M130.2,279.5L130.8,279.1M74.5,321.9L74.8,322.7L75.5,323.6L75.9,322.5L76.6,321.3L77.3,319.6L77.4,318.8L76.6,318.3L75.9,318.8L75.2,319.6L74.6,320.8ZM75.2,328.9L76.2,328.8L77.7,328.9L78.1,331.0L77.7,332.5L76.8,333.2L76.8,335.0L77.3,336.0L78.4,335.6L79.5,336.1L80.4,336.3L80.9,337.5L80.5,338.1L79.6,337.5L78.4,336.9L77.4,336.4L76.5,336.4L75.7,336.1L75.2,335.2L75.1,334.6L74.1,333.2L74.0,332.4L74.9,331.9L74.9,330.3ZM81.0,338.3L82.1,338.1L83.2,338.8L83.2,340.5L82.4,340.6L81.6,341.9L82.1,342.2L82.7,342.5L81.8,343.4L81.0,341.1L81.2,339.7ZM77.3,339.2L78.4,339.9L79.3,340.5L79.1,341.4L78.8,342.8L77.9,342.4L77.4,341.4L77.4,340.2ZM79.6,340.8L80.5,340.3L80.5,341.6L79.8,342.8L79.3,341.9ZM77.4,346.9L78.7,345.9L79.9,345.6L80.4,344.7L81.8,343.9L82.9,342.8L84.0,343.4L84.3,344.9L84.6,346.4L83.8,347.7L83.0,349.1L82.4,348.3L81.0,348.1L80.7,346.6L79.6,346.1L78.7,346.4ZM73.5,366.4L74.9,366.4L74.8,363.3L75.9,362.0L76.6,364.8L78.7,365.4L77.9,362.9L79.5,359.4L76.6,359.4L79.0,358.6L81.2,357.2L82.4,355.5L81.3,356.2L78.7,356.6L75.7,355.8L74.3,356.9L74.6,359.4L73.5,358.6L74.0,357.3L72.7,361.7L72.4,362.5L73.5,363.3ZM86.0,355.0L86.8,354.2L86.8,355.6L87.9,356.1L87.1,356.9L88.2,357.3L87.1,359.2L86.3,358.4L85.9,356.9ZM86.6,362.9L87.7,362.2L89.6,362.2L91.3,363.1L90.7,363.4L87.7,363.3ZM83.7,362.8L84.9,362.6L85.5,363.4L84.6,363.7L83.7,363.6ZM79.8,373.9L81.2,372.6L82.4,371.8L85.1,370.9L85.7,371.1L84.0,372.2L82.3,373.2L80.5,374.0ZM74.0,371.5L75.5,370.7L77.4,370.9L79.0,370.7L78.5,371.4L76.6,371.5L75.1,371.7ZM72.4,371.5L73.0,371.1L72.7,370.6L71.6,370.9ZM80.5,370.9L82.1,370.3L82.3,370.9ZM93.7,367.0L94.9,366.2L95.5,366.8L94.3,367.2ZM96.5,367.2L97.4,366.2L97.6,368.1L96.5,368.4ZM91.5,359.8L92.4,359.0L93.8,358.4L95.4,358.9L96.3,359.2L96.5,361.2L97.1,362.0L98.2,363.1L99.3,362.0L101.2,360.6L103.4,360.6L105.2,361.4L107.0,361.9L108.5,362.3L110.2,363.1L112.1,363.9L113.7,364.8L114.6,365.9L115.9,367.0L117.4,367.2L117.7,368.3L116.8,369.2L118.0,370.3L119.0,371.8L120.1,372.2L120.9,373.4L122.1,374.0L120.7,374.2L119.0,373.7L117.1,372.8L116.3,371.7L115.1,370.4L113.1,369.7L111.3,370.3L110.7,371.8L109.5,372.3L107.1,372.0L105.5,370.7L104.3,370.4L103.2,370.9L102.4,369.5L103.7,368.4L102.4,366.4L100.6,365.4L98.5,364.7L96.5,363.9L95.5,363.3L94.3,364.2L93.2,362.3L95.1,361.5L93.7,361.2L92.0,360.3ZM118.5,366.5L119.6,367.0L121.6,366.4L122.6,366.4L123.7,365.4L124.9,364.5L124.1,366.1L123.5,367.2L121.2,367.6L119.1,367.5ZM122.4,362.0L124.1,362.8L125.2,363.7L126.0,365.0L125.4,364.8L124.6,363.9L123.4,362.9ZM128.4,366.2L129.9,367.6L130.4,368.4L129.3,367.9L128.5,367.0ZM131.3,368.1L132.9,369.2L134.1,369.7L136.5,370.7L136.6,371.1L135.2,370.4L133.2,369.7L131.5,368.6ZM136.2,372.2L137.4,372.2L138.1,373.1L136.8,373.1ZM137.7,370.9L138.4,370.9L139.1,372.6L138.7,372.8ZM138.8,373.7L140.1,374.0L140.4,374.6L139.1,374.2ZM147.1,380.7L148.0,381.4L147.9,382.1L147.3,381.8ZM149.0,382.8L149.6,383.2L149.3,383.7ZM149.5,385.1L150.1,385.3L149.8,385.7ZM150.9,386.8L151.3,387.3L151.0,387.8ZM143.1,389.3L144.6,389.9L146.8,391.5L147.7,392.6L146.8,392.4L145.1,391.3L143.5,390.1ZM163.8,385.1L164.9,384.8L165.9,385.6L165.4,386.2L164.0,386.0ZM165.9,383.7L167.3,383.2L168.1,383.1L167.0,384.0L166.2,384.2ZM73.5,389.2L75.1,388.7L76.6,387.1L77.9,385.3L78.2,384.0L79.5,383.7L80.2,383.1L81.2,382.0L82.6,380.6L83.8,379.6L85.1,379.3L86.5,380.3L87.1,381.0L88.4,381.0L89.3,380.4L89.5,379.3L90.2,378.4L90.9,377.1L92.0,376.7L94.0,376.8L94.0,375.9L95.4,376.2L96.8,376.7L98.2,376.8L99.3,376.5L100.6,377.0L99.9,378.4L99.1,379.2L98.7,380.9L99.8,382.1L102.0,383.1L103.1,384.2L104.5,384.9L105.5,385.4L106.8,384.9L107.7,383.1L108.0,381.2L108.0,378.9L108.2,377.3L108.8,375.6L109.5,374.5L109.9,375.6L110.5,377.0L111.2,379.3L112.0,380.1L113.5,381.0L114.0,382.6L114.5,384.2L115.2,386.5L115.9,387.6L117.4,388.4L119.1,389.3L120.4,391.0L121.6,392.6L122.4,393.4L123.0,395.1L124.9,396.5L126.0,397.7L126.0,399.9L126.8,402.3L126.2,405.1L125.4,407.6L124.3,409.0L123.2,410.5L122.6,411.8L121.5,413.3L121.2,415.2L121.0,416.3L118.4,416.8L117.1,417.2L115.4,418.6L114.1,417.5L113.1,417.7L112.4,417.4L111.0,418.3L109.1,417.7L107.1,417.2L105.5,416.1L105.1,414.9L104.5,413.6L103.2,413.3L102.7,412.4L103.1,411.3L102.1,409.0L101.5,410.8L100.7,411.6L99.1,412.1L98.2,411.5L98.0,410.4L96.5,409.3L95.4,408.0L93.4,407.7L91.8,406.9L88.4,407.3L85.2,408.2L82.1,409.3L80.5,410.2L79.5,410.7L77.4,410.7L75.1,410.7L73.5,410.8M100.2,413.5L101.8,413.3L102.6,413.6L101.5,414.0L100.2,413.8ZM156.6,411.5L157.7,412.4L159.1,413.5L159.9,414.4L161.0,414.9L161.6,416.1L163.4,416.9L165.7,416.6L165.4,417.9L164.8,419.0L163.2,419.4L162.7,420.7L162.0,421.8L160.7,422.7L159.8,422.2L160.2,420.8L159.0,419.6L158.4,419.0L159.6,418.0L159.9,416.5L159.5,415.2L159.0,414.4L157.3,412.9ZM156.6,421.0L157.4,421.8L159.1,422.1L158.7,423.2L157.1,424.9M205.7,328.2L207.4,327.4L207.0,326.8L205.7,326.3L205.4,327.1ZM204.5,325.2L205.6,325.5L204.8,325.7ZM202.0,324.1L202.9,324.6L202.3,324.6ZM199.6,323.3L200.4,323.2L200.1,323.6ZM203.5,324.7L204.5,324.9L203.8,324.9ZM324.3,344.1L323.7,344.9L324.3,345.9L323.7,346.4L322.7,345.8L321.6,345.3L319.8,345.2L318.5,344.4L318.7,343.3L317.0,342.8L316.3,342.4L315.2,341.6L315.4,340.6L314.1,339.4L312.6,337.7L311.0,337.2L309.5,336.7L307.7,336.1L305.9,335.5L304.6,334.6L303.0,333.2L301.2,332.5L299.3,333.3L297.0,332.8L295.4,332.4L293.4,331.6L290.7,330.3L288.8,329.7L287.1,328.9L285.4,327.7L284.3,326.0L284.9,324.6L284.3,323.0L282.9,321.5L281.3,319.7L279.3,318.0L278.4,316.8L276.6,315.1L275.4,314.1L274.0,312.6L272.9,310.5L271.5,309.1L269.9,308.3L270.2,310.1L272.0,312.1L273.0,313.8L274.3,316.3L275.6,318.5L276.8,320.0L278.4,321.6L277.4,322.1L275.9,320.4L274.1,319.4L274.0,317.6L272.4,316.0L271.0,314.9L270.7,313.5L268.5,310.8L267.3,309.0L266.3,307.1L265.4,305.5L264.0,304.8L262.6,304.1L260.9,303.8L260.5,302.4L258.8,300.7L257.9,298.8L257.1,298.1L255.9,295.7L254.9,294.8L255.4,292.9L254.9,291.0L255.2,289.5L255.6,286.8L255.6,285.6L255.2,284.0L254.5,282.3L255.9,282.6L257.4,282.9L258.1,284.0L257.4,281.5L256.8,280.7L254.8,280.0L253.1,279.2L250.6,278.2L249.5,277.0L248.5,275.6L246.5,273.9L245.9,272.5L244.6,271.5L243.1,270.1L240.7,268.6L238.7,267.0L237.1,265.9L235.2,265.8L232.4,264.8L230.6,264.7L228.2,264.2L225.1,264.2L222.7,263.6L220.4,263.0L218.4,263.3L217.1,264.2L215.2,264.7L213.4,265.3L212.1,265.0L212.6,263.3L214.8,262.3L213.1,262.6L211.0,263.9L209.5,265.1L208.4,266.1L206.3,267.0L204.3,268.4L202.0,269.5L200.1,270.6L197.7,271.5L195.4,272.2L193.1,272.6L191.8,272.8L193.8,272.0L196.2,270.8L198.5,269.5L201.3,267.9L203.1,266.5L201.6,266.1L199.3,266.2L196.6,266.4L195.9,265.0L193.1,264.2L191.2,263.3L190.7,262.2L189.9,261.1L191.8,259.8L192.6,259.2L195.4,258.7L197.7,258.6L197.7,257.3L194.9,257.3L192.3,257.2L189.6,257.0L189.0,255.9L186.8,255.5L189.1,254.5L192.3,254.1L194.6,254.5L196.5,254.4L195.4,253.4L193.4,253.0L190.7,251.7L188.8,251.1L192.3,250.3L194.6,249.2L196.3,248.1L200.1,247.4L204.0,246.6L206.3,247.0L210.2,247.2L214.1,247.8L218.1,248.1L222.0,248.4L225.9,248.4L229.0,249.1L232.1,249.4L235.2,250.2L237.6,249.5L239.9,249.2L242.3,249.1L244.6,248.8L247.0,248.4L249.3,248.0L250.9,248.3L253.2,249.5L254.8,249.1L257.9,248.9L261.0,249.5L264.9,250.0L268.1,250.3L271.2,251.3L274.3,252.0L277.4,251.7L280.6,251.1L283.7,250.3L286.8,251.3L291.5,252.0L295.4,252.0L297.7,251.1L300.1,251.6L301.6,250.2L300.1,248.1L298.5,246.7L300.9,245.6L302.7,246.3L304.8,247.8L306.3,249.2L307.9,250.9L310.2,249.8L311.8,250.9L314.1,251.7L316.5,249.7L319.6,248.9L322.7,249.7L322.0,250.9L320.4,252.5L324.3,253.6M324.3,259.8L321.2,260.1L318.1,259.1L314.9,258.4L312.6,258.0L310.2,258.0L307.6,258.7L304.8,260.3L303.2,261.9L302.1,263.4L301.3,265.3L303.2,266.1L304.8,268.1L307.9,268.6L311.0,269.5L314.1,270.6L316.5,271.5L320.4,271.8L320.9,274.3L322.0,276.2L324.3,277.8M324.3,316.1L324.1,317.6L323.5,318.5L322.6,318.5L321.6,317.4L321.0,316.3L320.1,314.9L320.1,313.7L319.6,312.4L318.5,311.2L317.3,311.0L315.9,311.5L314.1,310.4L311.8,310.2L309.8,310.5L309.3,311.8L309.8,312.6L308.4,312.4L306.3,311.8L304.0,311.5L301.6,311.8L300.1,312.9L298.1,314.0L297.3,315.2L297.1,317.2L296.8,319.6L296.5,322.2L297.0,323.8L297.7,325.7L298.8,327.4L300.1,328.5L301.6,329.4L304.0,329.1L305.6,328.8L306.6,328.5L307.6,327.4L308.1,325.4L309.5,324.6L311.8,324.3L313.4,324.3L313.7,325.4L312.6,327.2L312.1,328.9L311.5,330.5L310.9,333.0L312.6,333.2L314.9,333.0L317.3,333.2L319.1,334.4L318.8,336.7L318.7,339.9L318.5,340.8L319.6,342.2L320.9,343.4L322.0,344.1L323.5,343.6L324.3,343.3M324.3,322.1L322.7,321.8L320.6,321.8L318.8,322.1L316.6,323.6L317.4,323.6L319.3,323.3L320.7,322.5L322.4,323.0L323.5,323.5L324.3,323.6M305.4,284.9L307.9,285.1L311.0,284.5L312.6,285.3L314.9,284.9L317.1,285.3L316.8,284.2L315.7,283.1L314.0,281.8L311.3,281.7L309.5,282.9L307.4,283.9ZM312.1,292.7L313.7,292.7L314.5,291.5L314.6,289.9L314.1,288.2L315.5,287.1L316.8,286.4L315.7,286.2L313.4,286.5L312.4,287.8L312.0,289.5L312.1,291.3ZM320.6,290.7L321.2,289.2L321.6,287.6L323.5,286.8L324.3,286.0L322.0,285.7L318.7,285.9L317.1,286.2L319.0,287.6L319.1,289.2ZM318.8,292.7L321.2,293.1L323.5,292.1L324.3,291.5L322.0,291.3L319.6,292.0ZM297.4,279.0L298.8,278.6L297.9,276.7L296.5,274.8L294.9,273.7L296.2,275.9L297.0,277.8ZM265.7,262.6L268.1,262.8L272.0,262.2L274.3,260.8L276.6,260.0L273.5,260.1L270.4,260.5L268.1,261.7ZM327.4,346.1L328.2,347.7L328.5,349.2L328.4,351.6L328.5,352.3L327.4,353.7L326.0,355.3L324.6,356.2L324.1,357.3L323.7,358.6L322.9,359.5L323.2,360.8L324.0,361.9L324.6,361.7L323.8,363.1L322.9,363.4L322.3,365.0L322.7,366.1L322.6,367.0L323.5,367.6L324.8,369.0L325.9,370.7M306.2,358.3L306.8,358.7L307.1,359.4L306.5,359.4L306.2,358.9ZM307.7,358.6L308.4,358.7L308.1,359.0ZM177.4,276.7L176.3,276.8M175.1,276.8L173.9,276.9M172.7,277.0L171.2,276.9M169.6,276.8L168.4,277.1M167.3,277.5L166.1,277.1M164.9,276.8L163.8,276.5M162.6,276.2L160.6,275.8M158.7,275.4L157.5,275.3M156.3,275.1L170.0,275.4M183.7,275.6L185.2,275.2M186.8,274.8L188.0,274.5M189.1,274.2L189.9,273.8M208.7,269.5L211.0,268.4L211.3,267.3L209.5,267.6L207.9,268.6ZM188.5,264.0L190.6,264.4L190.4,263.6L189.0,263.6ZM243.1,273.6L244.6,274.7L243.5,276.4L242.3,275.1L241.5,273.7ZM256.5,282.3L254.5,282.0L252.6,281.0L250.6,279.8L248.7,278.6L250.6,278.9L253.2,279.5L255.6,280.9ZM239.1,268.9L237.1,268.1L236.5,267.0L238.7,267.3ZM241.5,271.7L240.1,270.8L239.6,269.2L241.2,270.0Z" fill="none" stroke="#000" stroke-width="0.95" stroke-linejoin="round"/>
<path fill="#000" d="M263.49,314.30a1,.8 0 1,0 2,0a1,.8 0 1,0 -2,0M259.45,318.33a1,.8 0 1,0 2,0a1,.8 0 1,0 -2,0M267.52,318.33a1,.8 0 1,0 2,0a1,.8 0 1,0 -2,0M255.43,322.36a1,.8 0 1,0 2,0a1,.8 0 1,0 -2,0M263.49,322.36a1,.8 0 1,0 2,0a1,.8 0 1,0 -2,0M223.16,338.49a1,.8 0 1,0 2,0a1,.8 0 1,0 -2,0M231.23,338.49a1,.8 0 1,0 2,0a1,.8 0 1,0 -2,0M219.13,342.53a1,.8 0 1,0 2,0a1,.8 0 1,0 -2,0M227.19,342.53a1,.8 0 1,0 2,0a1,.8 0 1,0 -2,0M235.26,342.53a1,.8 0 1,0 2,0a1,.8 0 1,0 -2,0M207.03,346.56a1,.8 0 1,0 2,0a1,.8 0 1,0 -2,0M215.10,346.56a1,.8 0 1,0 2,0a1,.8 0 1,0 -2,0M223.16,346.56a1,.8 0 1,0 2,0a1,.8 0 1,0 -2,0M231.23,346.56a1,.8 0 1,0 2,0a1,.8 0 1,0 -2,0M239.29,346.56a1,.8 0 1,0 2,0a1,.8 0 1,0 -2,0M178.81,350.59a1,.8 0 1,0 2,0a1,.8 0 1,0 -2,0M186.87,350.59a1,.8 0 1,0 2,0a1,.8 0 1,0 -2,0M194.94,350.59a1,.8 0 1,0 2,0a1,.8 0 1,0 -2,0M203.00,350.59a1,.8 0 1,0 2,0a1,.8 0 1,0 -2,0M211.06,350.59a1,.8 0 1,0 2,0a1,.8 0 1,0 -2,0M219.13,350.59a1,.8 0 1,0 2,0a1,.8 0 1,0 -2,0M227.19,350.59a1,.8 0 1,0 2,0a1,.8 0 1,0 -2,0M235.26,350.59a1,.8 0 1,0 2,0a1,.8 0 1,0 -2,0M243.32,350.59a1,.8 0 1,0 2,0a1,.8 0 1,0 -2,0M150.58,354.63a1,.8 0 1,0 2,0a1,.8 0 1,0 -2,0M158.64,354.63a1,.8 0 1,0 2,0a1,.8 0 1,0 -2,0M166.71,354.63a1,.8 0 1,0 2,0a1,.8 0 1,0 -2,0M174.78,354.63a1,.8 0 1,0 2,0a1,.8 0 1,0 -2,0M182.84,354.63a1,.8 0 1,0 2,0a1,.8 0 1,0 -2,0M190.91,354.63a1,.8 0 1,0 2,0a1,.8 0 1,0 -2,0M198.97,354.63a1,.8 0 1,0 2,0a1,.8 0 1,0 -2,0M207.03,354.63a1,.8 0 1,0 2,0a1,.8 0 1,0 -2,0M215.10,354.63a1,.8 0 1,0 2,0a1,.8 0 1,0 -2,0M223.16,354.63a1,.8 0 1,0 2,0a1,.8 0 1,0 -2,0M231.23,354.63a1,.8 0 1,0 2,0a1,.8 0 1,0 -2,0M239.29,354.63a1,.8 0 1,0 2,0a1,.8 0 1,0 -2,0M247.36,354.63a1,.8 0 1,0 2,0a1,.8 0 1,0 -2,0M146.54,358.66a1,.8 0 1,0 2,0a1,.8 0 1,0 -2,0M154.61,358.66a1,.8 0 1,0 2,0a1,.8 0 1,0 -2,0M162.67,358.66a1,.8 0 1,0 2,0a1,.8 0 1,0 -2,0M170.74,358.66a1,.8 0 1,0 2,0a1,.8 0 1,0 -2,0M178.81,358.66a1,.8 0 1,0 2,0a1,.8 0 1,0 -2,0M186.87,358.66a1,.8 0 1,0 2,0a1,.8 0 1,0 -2,0M194.94,358.66a1,.8 0 1,0 2,0a1,.8 0 1,0 -2,0M203.00,358.66a1,.8 0 1,0 2,0a1,.8 0 1,0 -2,0M211.06,358.66a1,.8 0 1,0 2,0a1,.8 0 1,0 -2,0M219.13,358.66a1,.8 0 1,0 2,0a1,.8 0 1,0 -2,0M227.19,358.66a1,.8 0 1,0 2,0a1,.8 0 1,0 -2,0M235.26,358.66a1,.8 0 1,0 2,0a1,.8 0 1,0 -2,0M243.32,358.66a1,.8 0 1,0 2,0a1,.8 0 1,0 -2,0M251.39,358.66a1,.8 0 1,0 2,0a1,.8 0 1,0 -2,0M174.78,362.69a1,.8 0 1,0 2,0a1,.8 0 1,0 -2,0M182.84,362.69a1,.8 0 1,0 2,0a1,.8 0 1,0 -2,0M190.91,362.69a1,.8 0 1,0 2,0a1,.8 0 1,0 -2,0M198.97,362.69a1,.8 0 1,0 2,0a1,.8 0 1,0 -2,0M207.03,362.69a1,.8 0 1,0 2,0a1,.8 0 1,0 -2,0M215.10,362.69a1,.8 0 1,0 2,0a1,.8 0 1,0 -2,0M223.16,362.69a1,.8 0 1,0 2,0a1,.8 0 1,0 -2,0M186.87,366.73a1,.8 0 1,0 2,0a1,.8 0 1,0 -2,0M194.94,366.73a1,.8 0 1,0 2,0a1,.8 0 1,0 -2,0M203.00,366.73a1,.8 0 1,0 2,0a1,.8 0 1,0 -2,0M182.84,370.76a1,.8 0 1,0 2,0a1,.8 0 1,0 -2,0M190.91,370.76a1,.8 0 1,0 2,0a1,.8 0 1,0 -2,0M198.97,370.76a1,.8 0 1,0 2,0a1,.8 0 1,0 -2,0M186.87,374.79a1,.8 0 1,0 2,0a1,.8 0 1,0 -2,0"/>
</g>
<rect x="74.3" y="264.2" width="250.0" height="156.0" fill="none" stroke="#8e8e8e" stroke-width="1.0"/>
<path d="M68.8,264.2H74.3M71.1,279.8H74.3M68.8,295.4H74.3M71.1,311.0H74.3M68.8,326.6H74.3M71.1,342.2H74.3M68.8,357.8H74.3M71.1,373.4H74.3M68.8,389.0H74.3M71.1,404.6H74.3M68.8,420.2H74.3M74.3,420.2V423.4M89.9,420.2V423.4M105.5,420.2V425.7M121.2,420.2V423.4M136.8,420.2V423.4M152.4,420.2V423.4M168.1,420.2V425.7M183.7,420.2V423.4M199.3,420.2V423.4M214.9,420.2V423.4M230.6,420.2V425.7M246.2,420.2V423.4M261.8,420.2V423.4M277.4,420.2V423.4M293.1,420.2V425.7M308.7,420.2V423.4M324.3,420.2V423.4" stroke="#8e8e8e" stroke-width="1.0" fill="none"/>
<text x="58.1" y="270.4" text-anchor="end" font-size="16.3" font-family="Liberation Sans, sans-serif">60<tspan font-size="11" dy="-6.9">o</tspan><tspan dy="6.9">N</tspan></text>
<text x="58.1" y="301.6" text-anchor="end" font-size="16.3" font-family="Liberation Sans, sans-serif">40<tspan font-size="11" dy="-6.9">o</tspan><tspan dy="6.9">N</tspan></text>
<text x="58.1" y="332.8" text-anchor="end" font-size="16.3" font-family="Liberation Sans, sans-serif">20<tspan font-size="11" dy="-6.9">o</tspan><tspan dy="6.9">N</tspan></text>
<text x="58.1" y="364.0" text-anchor="end" font-size="16.3" font-family="Liberation Sans, sans-serif">0<tspan font-size="11" dy="-6.9">o</tspan></text>
<text x="58.1" y="395.2" text-anchor="end" font-size="16.3" font-family="Liberation Sans, sans-serif">20<tspan font-size="11" dy="-6.9">o</tspan><tspan dy="6.9">S</tspan></text>
<text x="58.1" y="426.4" text-anchor="end" font-size="16.3" font-family="Liberation Sans, sans-serif">40<tspan font-size="11" dy="-6.9">o</tspan><tspan dy="6.9">S</tspan></text>
<text x="105.5" y="451.8" text-anchor="middle" font-size="16.3" font-family="Liberation Sans, sans-serif">140<tspan font-size="11" dy="-6.9">o</tspan><tspan dy="6.9">E</tspan></text>
<text x="168.1" y="451.8" text-anchor="middle" font-size="16.3" font-family="Liberation Sans, sans-serif">180<tspan font-size="11" dy="-6.9">o</tspan></text>
<text x="230.6" y="451.8" text-anchor="middle" font-size="16.3" font-family="Liberation Sans, sans-serif">140<tspan font-size="11" dy="-6.9">o</tspan><tspan dy="6.9">W</tspan></text>
<text x="293.1" y="451.8" text-anchor="middle" font-size="16.3" font-family="Liberation Sans, sans-serif">100<tspan font-size="11" dy="-6.9">o</tspan><tspan dy="6.9">W</tspan></text>
<text x="324.9" y="258.0" text-anchor="end" font-size="16.6" font-family="Liberation Sans, sans-serif">JFM(1)</text>
<g clip-path="url(#cpd)">
<path fill-rule="evenodd" fill="#ffd82e" d="M471.6,420.0L413.1,420.1L412.6,420.1L412.3,419.7L412.3,286.7L412.4,286.0L414.1,285.8L417.4,284.3L419.6,282.9L421.6,282.3L423.4,281.4L424.4,281.3L425.9,280.6L426.9,280.5L428.4,279.9L429.4,279.8L430.9,279.1L431.9,279.0L435.4,277.8L439.1,277.6L440.1,277.3L446.6,277.3L447.4,277.6L451.1,277.8L452.4,278.1L453.1,278.4L454.6,279.4L455.3,281.2L455.3,282.4L454.9,283.7L452.6,285.2L450.9,286.6L449.6,289.2L448.2,293.7L444.0,298.9L441.9,301.2L442.1,301.6L443.6,301.9L445.4,302.6L445.8,302.9L445.7,303.2L444.1,303.8L442.9,303.6L440.4,303.6L438.9,303.9L435.9,306.0L433.1,306.7L431.5,308.2L430.8,309.4L430.8,311.2L431.4,313.7L432.9,315.9L436.1,319.1L436.7,319.9L437.3,321.7L437.3,326.4L438.3,328.4L439.2,329.7L439.5,332.2L439.0,333.9L438.1,334.8L431.6,336.9L430.6,337.5L429.4,337.9L427.3,339.4L426.5,340.9L426.6,342.7L427.1,343.7L428.0,344.9L430.6,346.7L432.4,347.5L434.6,348.1L436.6,348.1L437.4,348.3L440.6,348.3L441.6,348.6L446.1,348.6L447.1,348.8L450.4,348.8L453.6,348.3L455.6,347.4L456.9,345.9L457.7,344.2L458.0,342.2L458.0,340.7L457.6,339.9L457.1,339.7L456.8,339.9L456.3,341.2L455.7,344.7L455.6,344.9L455.3,344.7L455.3,339.7L455.5,338.7L455.8,333.2L456.1,331.4L457.0,329.4L457.5,327.2L457.6,323.0L457.9,323.2L458.4,325.2L458.6,325.3L460.8,322.4L462.1,321.2L467.4,317.7L469.6,316.6L471.1,316.3L474.1,314.9L475.1,314.8L476.6,314.1L477.9,314.0L479.4,313.4L482.9,312.8L484.4,312.1L487.1,311.6L488.9,311.6L491.4,311.1L499.6,309.0L507.6,305.0L508.9,304.1L512.9,302.0L514.8,300.4L515.9,299.8L519.3,296.2L521.0,293.7L523.1,288.9L524.1,287.2L528.1,282.2L528.9,281.4L530.4,280.4L535.1,278.9L540.4,277.8L542.4,277.8L543.4,277.6L549.9,277.6L550.9,277.3L553.9,277.3L554.6,277.1L558.1,277.1L561.1,276.5L562.9,275.8L564.5,274.4L565.7,272.2L565.7,271.7L565.3,270.9L564.0,269.7L562.1,268.3L560.1,266.3L559.6,265.2L559.9,264.2L560.1,264.1L661.4,264.1L662.1,264.2L662.3,265.2L662.3,336.9L662.1,337.7L661.6,337.9L660.4,337.1L657.3,333.2L656.1,332.4L654.1,332.1L651.4,332.1L648.1,331.3L646.1,331.3L643.9,330.6L641.4,330.3L638.1,329.1L636.9,329.0L627.9,325.8L626.1,324.9L621.9,323.3L618.6,321.6L617.4,321.3L614.1,319.6L612.9,319.3L608.1,317.1L605.1,316.3L603.4,315.4L600.4,314.4L596.1,313.6L591.1,313.6L587.6,314.6L584.8,316.2L582.9,318.1L581.8,320.2L579.9,321.7L578.4,322.1L576.4,323.0L575.4,323.1L573.4,323.8L571.1,324.1L564.1,326.4L562.1,327.3L559.1,328.1L555.6,329.5L545.9,332.4L541.1,334.9L539.6,335.9L536.0,338.9L533.4,340.8L529.4,344.8L527.6,346.1L515.0,358.7L514.1,359.3L511.4,362.1L510.8,362.9L505.4,368.6L501.9,371.0L499.9,372.0L494.9,373.1L489.9,373.4L484.9,373.1L479.9,372.0L475.1,369.8L471.6,367.3L467.4,363.3L466.6,363.4L464.4,364.6L461.3,366.9L459.8,368.4L459.3,369.2L457.9,370.4L456.3,372.9L455.3,375.2L455.0,376.9L455.0,379.7L455.8,381.7L458.3,385.4L459.9,387.3L461.0,388.2L463.4,391.1L464.3,392.7L465.2,393.7L466.7,396.7L469.0,402.7L470.0,406.9L470.0,409.9L469.8,410.7L469.8,411.9L469.0,414.7L469.0,416.2L469.6,417.4L471.7,419.7L471.6,420.0ZM442.9,323.1L442.4,323.0L442.1,322.7L441.5,320.4L441.5,319.7L442.1,318.2L442.9,317.2L443.1,317.1L444.1,318.3L445.3,319.2L444.7,320.4L442.9,323.1ZM456.6,319.7L456.0,318.9L455.0,318.2L455.1,317.9L455.9,317.4L456.2,317.4L456.5,318.2L456.8,319.4L456.6,319.7Z"/>
<path fill-rule="evenodd" fill="#ff8c00" d="M491.1,367.0L486.1,367.1L482.9,366.6L479.4,365.5L475.9,363.8L472.4,361.3L468.3,357.2L466.3,354.2L464.8,351.2L462.3,344.4L461.5,341.4L460.2,338.4L458.9,336.7L458.8,334.2L459.1,332.4L461.3,326.7L462.8,323.9L464.9,321.8L467.6,319.7L469.9,318.1L474.6,315.9L476.9,315.1L477.9,315.0L480.1,314.1L483.4,313.5L485.1,312.8L491.6,311.8L499.9,309.8L508.1,305.8L509.4,304.9L513.4,302.8L517.8,299.4L519.0,298.2L522.1,294.3L523.1,290.4L524.1,288.2L524.8,287.2L526.6,285.2L528.6,283.3L529.9,282.4L531.4,281.6L535.6,280.4L541.1,279.3L543.1,279.3L544.1,279.1L550.4,279.1L555.4,278.3L558.4,278.3L561.4,277.8L564.4,276.5L565.9,275.3L567.1,273.8L568.0,272.4L568.3,271.2L568.0,269.7L567.5,268.7L566.4,266.9L564.6,264.7L564.6,264.1L661.4,264.1L662.1,264.2L662.3,265.2L662.3,290.9L662.1,291.7L661.1,291.8L659.4,291.5L655.6,291.6L654.6,291.8L652.9,291.8L652.1,292.1L650.4,292.1L647.9,292.7L646.4,293.4L645.8,293.9L645.5,294.7L645.8,295.7L647.9,298.3L649.6,299.5L651.1,300.2L651.9,300.4L652.9,301.0L654.6,301.4L655.9,302.0L656.6,302.1L662.1,304.4L662.3,304.7L662.3,333.2L662.1,333.8L661.6,333.7L658.9,331.4L656.9,330.4L655.4,330.3L654.6,330.1L651.4,330.1L647.6,329.3L646.4,329.3L643.6,328.6L641.4,328.3L638.9,327.4L637.6,327.3L628.4,324.3L627.1,323.6L617.9,320.3L614.9,318.9L610.4,317.3L608.6,316.4L605.4,315.5L603.6,314.6L600.6,313.6L596.6,312.8L594.9,312.8L594.1,312.6L591.6,312.6L587.9,313.6L585.4,314.9L582.3,317.4L581.1,319.3L579.4,320.7L577.9,321.1L575.9,322.0L574.9,322.1L573.1,322.8L570.9,323.1L569.4,323.8L564.4,325.1L561.4,326.3L559.6,326.6L556.4,327.8L544.9,330.6L539.9,332.9L538.1,333.9L536.2,335.4L531.6,338.6L528.6,341.3L524.6,344.3L513.6,353.8L511.3,355.4L506.9,359.1L506.4,359.7L503.6,361.8L501.9,363.5L499.9,364.8L497.1,366.0L493.1,366.8L491.6,366.8L491.1,367.0ZM412.6,325.0L412.4,325.1L412.3,324.9L412.3,323.7L412.3,288.2L412.4,287.7L412.9,286.9L413.4,286.4L415.1,285.6L418.1,285.3L418.9,285.1L423.4,285.1L425.4,284.4L426.4,284.3L427.9,283.6L432.9,282.8L437.9,282.8L442.6,284.2L444.0,284.9L444.6,285.6L445.7,287.2L446.0,287.9L446.0,289.2L445.2,291.7L444.1,293.7L443.5,295.7L442.6,297.3L441.5,298.4L438.1,300.1L433.9,303.0L427.1,305.3L425.9,305.4L423.4,306.1L420.9,307.6L419.6,309.2L417.6,312.7L415.0,319.9L413.1,323.4L412.6,325.0ZM414.9,412.0L413.1,412.0L412.6,411.4L412.3,410.4L412.4,346.4L413.1,345.4L414.9,345.2L416.6,345.6L421.1,348.0L423.4,348.8L428.1,348.8L430.4,349.3L432.6,349.3L434.9,349.8L437.1,349.8L446.4,351.3L449.9,352.6L453.1,354.8L454.6,356.6L456.0,359.2L456.3,360.4L456.2,361.4L455.1,363.3L453.4,364.6L450.6,367.1L448.6,369.9L447.8,371.4L447.5,372.9L445.7,376.4L443.3,380.2L442.6,381.7L442.0,383.7L442.0,386.9L443.1,390.2L444.3,392.7L445.8,394.7L448.9,398.1L451.0,401.4L452.3,404.7L452.2,405.4L451.5,406.9L449.6,408.3L447.4,409.5L444.4,410.3L439.1,410.3L438.1,410.1L436.1,410.1L430.4,409.1L428.1,408.3L426.4,408.1L422.6,408.1L418.6,410.1L416.6,411.5L414.9,412.0Z"/>
<path fill-rule="evenodd" fill="#ff4d00" d="M487.4,360.8L483.9,360.6L482.4,360.3L480.1,359.5L476.1,357.5L472.9,355.1L470.6,352.8L468.3,349.4L465.3,343.7L462.0,335.2L462.3,333.2L463.7,329.7L464.1,327.9L465.3,325.4L466.5,323.7L469.1,320.8L471.4,319.1L474.9,317.1L477.1,316.1L478.1,316.0L480.4,315.1L483.4,314.5L485.1,313.9L487.4,313.3L493.4,312.3L500.4,310.5L506.9,307.5L514.1,303.5L518.4,300.3L521.8,296.9L523.1,295.3L523.8,294.2L523.8,290.9L524.1,289.4L524.6,288.4L526.9,286.1L529.4,284.4L532.6,282.9L538.1,281.6L541.1,281.1L543.1,281.1L544.1,280.8L548.4,280.8L549.1,280.6L553.1,280.3L555.4,279.8L557.4,279.8L561.9,279.0L564.1,278.3L567.5,276.4L570.7,273.4L572.7,270.2L573.8,265.7L573.8,264.4L574.1,264.1L661.4,264.1L662.1,264.2L662.3,265.2L662.3,287.4L662.1,288.2L661.9,288.3L659.9,287.8L659.1,287.8L656.6,288.3L655.4,288.3L653.6,288.8L649.4,289.1L646.4,289.6L644.4,290.4L643.1,291.2L641.8,292.4L641.5,293.2L642.1,294.9L642.8,296.2L644.9,298.3L647.1,300.0L650.6,301.5L656.1,303.1L660.6,305.3L662.1,305.7L662.3,306.7L662.3,328.9L662.1,329.5L661.9,329.6L658.1,328.3L656.4,328.1L651.4,328.1L647.9,327.3L646.6,327.3L638.9,325.4L637.6,325.3L626.1,321.8L621.6,320.3L619.6,319.4L617.9,319.0L611.9,316.6L605.4,314.5L602.6,313.4L596.6,311.8L595.1,311.8L594.4,311.6L591.4,311.6L587.4,312.9L584.6,314.4L581.9,316.6L580.3,318.4L579.0,319.4L575.9,320.8L572.6,321.8L570.6,322.1L569.1,322.8L565.6,323.8L563.6,324.1L561.1,325.0L556.1,326.3L544.1,328.6L539.6,330.4L536.1,332.1L529.6,336.4L525.5,339.7L522.8,341.4L518.1,345.0L509.4,351.0L502.6,355.1L501.6,356.0L499.6,357.1L497.4,358.8L495.4,359.8L492.6,360.3L491.4,360.3L490.6,360.6L487.9,360.6L487.4,360.8ZM413.4,305.5L412.6,305.6L412.3,305.2L412.3,291.2L415.1,288.6L419.6,287.1L422.4,286.6L423.4,286.6L427.9,285.3L429.4,285.1L432.1,285.1L433.1,284.8L434.4,285.1L436.9,285.1L437.9,285.5L439.6,285.9L441.6,286.7L442.6,287.3L443.5,288.2L444.3,290.7L444.3,292.7L444.0,293.9L443.5,295.7L442.7,297.2L441.4,298.5L434.9,301.8L431.6,302.8L427.6,303.6L422.6,303.8L413.4,305.5ZM413.9,399.5L412.6,399.6L412.4,399.4L412.3,398.9L412.3,352.4L412.4,352.0L412.6,351.8L414.9,351.6L420.4,353.5L423.4,354.1L425.4,354.1L426.9,354.3L432.1,355.9L437.1,358.1L440.2,360.2L441.4,361.1L441.6,361.4L441.5,362.7L440.8,365.7L440.5,367.7L439.5,371.9L434.3,383.2L432.6,387.7L430.4,394.5L429.6,395.0L428.6,395.3L419.9,396.9L415.4,399.0L413.9,399.5Z"/>
<path fill-rule="evenodd" fill="#ff0000" d="M488.6,354.3L484.4,354.3L482.6,354.0L480.1,353.3L476.6,351.5L472.5,348.2L470.9,346.3L468.1,342.2L466.8,339.7L465.8,336.9L465.5,335.4L465.5,333.9L466.5,331.7L467.6,327.4L469.1,324.4L470.5,322.2L472.9,319.8L474.6,318.6L477.6,317.1L479.6,316.4L481.6,316.0L483.1,315.4L486.1,314.8L487.9,314.1L489.4,314.1L492.4,313.5L500.6,311.3L504.4,309.8L509.9,307.0L512.1,305.6L513.6,305.0L518.7,301.4L520.7,299.7L521.4,298.8L523.5,296.9L525.6,294.3L525.7,293.4L524.8,291.4L524.8,289.4L525.3,288.4L526.9,287.1L530.4,285.4L532.4,284.6L536.6,283.6L543.4,282.6L549.4,282.3L550.1,282.1L553.4,281.8L555.4,281.3L558.6,281.1L561.4,280.3L562.6,280.3L566.6,279.0L570.6,277.0L576.6,273.1L579.0,270.9L581.5,267.4L584.1,264.7L585.1,264.1L661.4,264.1L662.1,264.2L662.3,264.7L662.3,283.7L662.1,284.4L661.6,284.6L660.9,284.3L658.4,284.3L651.9,285.8L648.6,285.8L646.9,286.3L645.6,286.3L643.1,286.9L635.9,289.4L635.1,289.9L635.0,290.7L635.0,291.9L635.4,293.7L636.1,294.8L638.6,297.3L641.4,299.3L644.6,301.0L647.1,302.0L655.4,304.1L659.6,306.2L662.1,307.0L662.3,307.4L662.3,325.4L662.1,326.2L661.1,326.3L660.4,326.1L656.4,326.1L655.6,325.9L654.6,326.1L651.6,326.1L643.4,324.6L636.6,323.0L617.9,317.8L610.4,315.3L609.1,314.6L605.9,313.8L603.1,312.6L601.4,312.3L600.6,311.9L594.6,310.6L591.1,310.6L588.4,311.4L585.9,312.6L583.3,314.2L579.9,317.3L578.1,318.5L573.1,320.5L571.1,320.9L568.9,321.8L559.6,324.1L557.1,324.6L556.1,324.6L554.4,325.1L551.4,325.3L550.6,325.6L549.1,325.6L543.9,326.6L538.1,328.4L534.9,329.9L527.6,334.1L524.4,336.5L518.9,340.0L507.4,346.5L503.4,348.5L501.6,349.2L494.1,353.0L492.1,353.8L488.6,354.3ZM428.9,302.0L426.1,302.1L425.4,301.8L421.9,301.6L419.9,301.0L418.1,300.1L416.6,298.4L415.1,295.2L415.1,292.9L416.1,291.4L419.9,289.4L422.9,288.1L428.1,286.8L432.4,286.8L433.4,287.1L435.1,287.1L436.1,287.4L437.4,288.0L439.1,288.4L441.5,289.7L443.4,291.6L444.0,292.9L444.0,294.2L442.7,297.2L441.5,298.4L440.4,298.9L439.1,299.7L435.9,301.0L434.6,301.3L433.4,301.3L431.6,301.8L429.4,301.8L428.9,302.0ZM412.9,387.8L412.4,387.8L412.3,387.2L412.3,358.4L412.4,357.7L413.6,357.5L414.6,357.6L419.1,358.8L422.9,359.1L425.1,359.6L426.4,360.3L427.1,360.4L428.7,361.4L430.5,362.9L431.5,364.4L432.0,365.9L432.3,367.7L432.0,368.4L432.0,369.9L431.0,374.2L430.5,375.2L428.9,377.8L428.0,378.4L426.8,380.2L424.0,382.7L423.4,382.9L421.9,384.0L420.6,384.4L419.6,385.0L415.4,386.1L412.9,387.8Z"/>
<path fill-rule="evenodd" fill="#cc0000" d="M486.1,348.0L484.9,348.1L484.1,347.8L482.4,347.8L480.9,347.5L478.9,346.8L475.9,345.3L474.6,344.4L473.1,343.2L470.1,339.7L468.8,336.9L468.8,334.9L469.7,332.2L470.5,327.9L471.0,326.9L471.4,324.9L472.3,322.9L474.4,320.3L477.9,318.2L483.1,316.4L486.4,315.8L487.6,315.1L494.1,314.0L495.6,313.4L497.9,313.0L499.4,312.4L501.1,312.0L503.1,311.1L504.6,310.8L510.6,307.8L512.4,306.6L514.4,305.8L518.2,303.2L521.1,300.8L523.3,298.9L527.6,294.5L528.0,293.9L527.9,293.4L525.8,291.2L525.3,289.9L525.4,289.4L525.8,288.9L527.6,287.7L533.6,285.9L534.9,285.6L535.9,285.6L537.6,285.1L542.6,284.6L543.4,284.3L548.9,284.1L550.9,283.6L552.1,283.6L555.4,282.8L556.9,282.8L567.1,280.5L572.6,278.6L573.6,278.5L574.9,277.9L579.9,276.3L581.2,275.4L583.1,273.9L585.9,272.8L587.1,272.6L588.9,272.6L589.6,272.8L591.4,272.8L593.0,273.2L593.2,272.9L590.8,268.7L590.3,266.7L590.6,264.9L591.9,264.1L661.4,264.1L662.1,264.2L662.3,265.2L662.1,280.8L659.9,280.6L658.9,280.8L657.6,280.8L651.1,282.8L647.9,282.3L645.6,282.3L645.3,282.4L644.9,283.0L644.1,283.3L642.6,283.3L640.6,283.8L638.9,283.8L638.1,284.1L634.4,284.1L631.9,284.6L630.6,285.1L629.6,286.1L629.1,287.4L629.0,288.2L629.0,289.4L629.5,292.2L630.6,295.4L632.0,297.7L634.4,299.2L638.6,301.3L643.9,303.0L654.9,305.1L659.4,307.5L661.9,308.2L662.1,308.4L662.3,322.4L662.1,323.2L660.9,323.6L657.6,323.6L656.9,323.8L654.9,323.8L653.9,324.1L651.9,324.1L648.4,323.3L647.4,323.3L635.4,320.8L632.4,319.9L626.9,318.8L620.9,317.3L620.1,316.9L615.9,316.0L611.4,314.4L610.4,314.3L606.6,312.9L605.6,312.8L602.9,311.6L601.6,311.5L598.6,310.4L594.9,309.6L591.1,309.6L588.4,310.4L587.4,311.0L586.1,311.4L583.4,313.2L582.4,313.7L581.6,314.6L579.2,316.4L576.9,317.8L572.6,319.5L571.6,319.6L568.6,320.8L561.9,322.1L558.1,323.1L555.9,323.1L553.9,323.6L547.6,323.8L544.4,324.6L543.4,324.6L540.6,325.1L535.1,326.9L529.6,329.7L527.9,330.8L525.4,331.9L522.4,334.0L517.4,336.7L514.4,338.3L511.9,339.1L508.6,340.8L502.4,343.3L497.1,344.9L495.9,345.5L494.1,345.9L492.9,346.5L489.9,347.5L486.1,348.0ZM434.9,298.0L433.4,298.1L432.1,297.8L431.1,297.2L430.1,295.4L429.6,293.9L429.6,292.4L430.4,290.9L432.6,289.9L434.9,289.8L437.4,290.7L438.8,291.7L439.5,292.7L439.5,294.2L439.2,295.4L438.8,296.2L438.1,296.8L436.6,297.5L434.9,298.0Z"/>
<path fill-rule="evenodd" fill="#990000" d="M482.6,342.5L481.1,342.6L479.6,342.3L475.9,341.0L473.6,339.3L472.5,338.2L471.6,336.4L471.6,335.9L472.2,334.9L472.8,332.9L473.3,325.4L473.8,323.7L475.0,321.4L475.9,320.6L478.6,318.9L479.4,318.8L480.4,318.2L482.4,317.8L483.6,317.1L486.9,316.5L488.1,315.9L494.1,314.8L495.9,314.1L498.1,313.8L499.6,313.1L501.4,312.8L503.4,311.9L505.1,311.5L511.1,308.5L512.9,307.4L514.9,306.5L518.6,304.0L521.9,301.6L522.9,300.6L524.6,299.3L529.0,295.2L529.7,293.9L529.4,292.9L528.5,291.9L526.1,290.5L525.8,289.7L525.9,289.4L527.1,288.7L530.6,287.8L532.4,287.8L535.1,287.1L536.4,287.1L538.1,286.6L539.4,286.6L544.1,285.8L549.4,285.6L551.1,285.1L552.4,285.1L556.1,284.1L557.4,284.1L562.1,282.8L563.4,282.8L566.1,282.1L567.4,282.1L570.1,281.3L571.4,281.3L576.1,280.3L577.6,280.3L579.4,279.8L580.6,279.8L582.4,279.3L584.9,277.9L586.1,277.8L588.6,278.7L591.1,280.0L591.9,280.2L592.9,280.8L594.1,281.1L596.6,282.5L597.6,282.6L598.9,283.3L603.1,284.1L608.4,284.3L609.4,284.6L628.1,284.6L630.4,284.9L630.6,284.9L630.5,285.2L629.3,286.7L629.0,287.7L628.9,288.9L627.9,289.9L626.1,292.9L626.0,294.9L627.6,298.3L629.5,300.4L631.6,302.2L635.6,304.3L636.6,304.4L638.1,305.0L639.6,305.3L644.9,305.6L645.6,305.8L650.9,305.8L654.9,305.2L659.4,307.5L661.9,308.2L662.3,308.7L662.1,320.4L660.6,321.0L659.1,321.3L653.1,322.1L651.1,322.1L648.4,321.3L647.1,321.3L645.4,320.8L615.9,315.0L614.4,314.4L613.4,314.3L611.9,313.6L610.9,313.5L609.4,312.9L605.9,312.0L603.1,310.9L601.9,310.8L599.1,309.6L595.4,308.8L592.9,308.6L590.4,308.8L587.9,309.6L585.9,310.6L583.1,312.5L582.1,312.9L581.2,313.9L578.4,315.8L573.6,318.0L572.4,318.5L570.6,318.9L568.6,319.8L557.9,321.8L554.4,321.8L553.4,322.1L546.9,322.1L544.6,322.6L542.9,322.6L537.4,323.6L535.9,324.3L534.1,324.6L528.6,327.1L526.6,328.3L523.9,329.4L520.4,331.5L513.1,334.8L510.6,335.4L507.9,336.5L501.1,338.5L499.9,338.6L494.1,340.1L492.9,340.1L491.1,340.8L482.6,342.5Z"/>
<path fill-rule="evenodd" fill="#a7dbe5" d="M414.1,285.8L412.9,285.9L412.4,285.7L412.3,285.4L412.3,264.7L412.4,264.2L412.6,264.1L546.4,264.1L547.1,264.2L547.4,264.7L546.2,267.2L545.1,268.8L543.0,270.7L539.9,272.0L535.6,272.8L533.4,272.8L532.4,273.1L527.4,273.1L525.6,272.7L521.4,273.3L519.1,274.1L514.6,274.8L512.4,274.8L511.4,275.1L509.9,274.8L507.6,274.8L506.9,274.6L504.6,274.6L502.4,274.1L500.1,274.1L499.4,273.8L491.4,273.8L490.1,273.6L485.1,273.6L484.4,273.3L482.1,273.3L481.4,273.1L474.6,273.1L473.4,272.8L462.6,272.8L461.6,273.1L458.4,273.1L457.6,273.3L455.9,273.3L455.1,273.6L453.6,273.6L451.6,274.1L449.9,274.1L443.6,275.3L441.9,276.0L439.6,276.4L438.1,277.0L436.4,277.4L434.4,278.3L433.4,278.4L431.9,279.0L430.9,279.1L429.4,279.8L428.4,279.9L426.9,280.5L425.9,280.6L424.4,281.3L422.6,281.6L420.1,282.6L417.4,284.3L414.1,285.8ZM450.1,320.5L448.9,320.6L446.6,320.0L444.6,318.7L443.6,317.7L442.6,315.9L442.0,313.2L442.0,307.9L442.6,305.7L443.4,304.3L445.9,303.1L448.6,302.2L448.9,301.9L447.8,298.7L447.8,295.7L448.1,293.9L449.6,289.2L450.8,286.7L453.4,284.6L458.6,282.1L459.6,282.0L462.6,280.9L463.9,280.8L467.4,279.6L468.4,279.6L476.6,278.1L480.4,278.1L481.1,277.8L484.9,277.8L485.9,277.6L493.9,277.6L494.9,277.8L497.1,277.8L497.9,278.1L500.4,278.1L507.9,279.4L510.4,280.4L513.4,281.9L515.4,283.3L516.5,284.4L517.2,285.4L517.8,286.7L518.0,288.2L518.0,289.9L517.7,291.9L516.2,295.4L515.0,297.9L512.0,301.9L510.6,303.3L508.9,304.1L507.6,305.0L499.6,309.0L491.4,311.1L488.9,311.6L487.1,311.6L484.4,312.1L482.9,312.8L479.4,313.4L477.9,314.0L476.6,314.1L475.1,314.8L474.1,314.9L470.9,316.3L467.4,316.3L465.6,316.1L460.1,315.1L458.4,314.4L458.1,314.5L457.0,316.2L454.2,318.7L452.1,320.0L450.1,320.5ZM661.9,420.1L472.4,420.1L471.9,419.8L469.8,417.7L469.0,416.2L469.0,414.7L469.8,411.9L469.8,410.7L470.0,409.7L470.0,406.9L469.3,404.2L469.9,403.1L472.1,401.7L474.1,401.8L474.9,402.1L476.9,402.1L480.6,401.3L486.6,400.6L488.9,400.0L491.9,398.8L495.9,396.1L496.6,395.1L497.8,394.2L499.5,391.9L502.0,387.9L505.1,381.2L506.4,379.4L508.3,377.2L513.1,372.6L513.9,372.2L514.4,372.3L515.1,373.0L516.9,373.8L518.1,373.9L519.4,373.1L520.3,372.2L521.7,370.2L526.8,361.4L532.6,353.8L535.1,350.1L537.3,347.9L538.8,345.9L541.4,343.6L543.1,342.4L545.6,341.1L548.9,340.0L550.4,339.1L551.6,338.8L553.4,337.9L554.9,337.5L556.6,336.6L558.1,336.3L560.1,335.4L561.9,335.0L564.1,334.1L566.1,333.8L568.9,332.9L571.1,332.5L573.6,331.6L575.9,331.3L578.1,330.4L579.9,330.0L582.9,328.5L587.4,325.4L589.1,325.1L594.6,325.1L602.4,326.9L605.9,328.0L607.9,328.4L613.6,330.1L616.4,331.3L626.1,334.1L631.1,335.1L632.9,335.1L636.1,335.8L642.9,336.3L646.1,337.1L647.9,337.1L657.4,338.8L659.4,338.8L660.1,339.1L662.1,339.2L662.3,339.9L662.3,419.2L662.3,419.7L661.9,420.1ZM572.0,409.2L575.6,408.8L576.9,408.3L577.8,407.7L578.5,406.4L578.8,404.9L578.4,403.9L577.4,402.8L573.9,401.4L571.1,401.1L569.1,401.4L566.6,402.4L564.6,404.4L564.1,406.2L564.6,407.4L565.4,408.0L567.4,408.8L568.9,409.1L570.6,409.1L571.4,409.3L572.0,409.2Z"/>
<path fill-rule="evenodd" fill="#7bbfd8" d="M414.1,283.0L412.9,283.2L412.4,283.0L412.3,282.7L412.3,264.7L412.4,264.2L412.6,264.1L462.1,264.1L463.0,264.2L462.8,264.7L459.9,267.5L454.1,270.5L452.9,270.9L450.4,272.3L449.6,272.4L446.6,273.8L444.4,274.4L441.9,275.5L439.9,275.9L436.9,277.0L435.1,277.4L431.9,278.5L425.4,279.8L422.6,280.1L419.9,280.9L415.9,282.5L414.1,283.0ZM513.9,271.5L503.9,271.6L502.9,271.3L498.9,271.3L498.1,271.1L496.1,271.1L495.4,270.8L489.4,270.8L487.9,270.6L485.9,270.0L482.4,267.6L481.1,266.2L480.6,265.2L480.5,264.4L480.9,264.1L481.6,264.1L534.6,264.1L535.1,264.2L535.3,264.4L535.0,265.2L533.5,266.7L528.9,269.5L523.9,270.6L521.9,270.6L519.6,271.1L517.4,271.1L516.6,271.3L514.4,271.3L513.9,271.5ZM450.9,315.8L449.6,315.8L448.4,315.6L447.1,314.9L445.6,311.7L445.0,309.2L445.1,306.9L445.9,305.4L447.1,304.7L449.6,303.8L451.1,304.1L452.1,303.9L452.2,303.7L450.8,300.4L450.3,298.4L450.3,294.9L450.8,293.2L452.1,289.9L453.0,288.2L454.4,286.9L457.4,284.9L459.4,283.9L463.1,282.4L468.1,280.9L476.6,279.3L477.9,279.3L478.6,279.1L480.9,279.1L481.6,278.8L484.9,278.8L485.9,278.6L494.1,278.6L494.9,278.8L500.1,279.1L505.6,280.1L507.4,280.6L509.6,281.7L512.6,283.6L514.6,285.6L515.5,287.2L515.8,288.9L515.5,291.7L514.2,295.2L512.1,298.8L510.5,300.9L506.9,304.6L503.6,307.0L499.6,309.0L491.4,311.1L484.6,312.1L482.9,312.8L479.6,313.3L477.9,314.0L474.9,314.6L471.4,314.6L470.4,314.3L467.9,314.3L463.9,313.5L459.9,312.3L456.6,310.4L456.3,310.7L456.0,312.2L455.6,312.9L454.4,314.3L452.1,315.5L450.9,315.8ZM661.9,420.1L588.9,420.1L588.6,419.7L588.8,418.4L589.1,417.9L590.1,417.7L590.9,417.3L592.1,416.3L593.5,414.9L594.5,412.9L595.0,410.2L595.0,399.7L594.8,398.4L594.8,387.9L594.5,386.9L594.5,384.2L594.0,381.7L593.8,375.9L592.8,373.4L592.3,371.4L591.5,366.9L592.1,364.9L592.5,364.2L593.6,363.0L595.4,362.5L595.6,362.2L594.4,362.1L591.9,364.0L587.9,365.3L584.6,365.6L582.1,366.1L579.4,366.1L578.6,366.3L576.1,366.3L575.1,366.6L561.6,366.6L560.6,366.3L558.1,366.3L557.4,366.1L554.6,366.1L551.4,365.6L551.0,365.9L551.0,366.4L551.3,367.4L551.3,369.7L551.5,370.4L551.5,372.4L551.3,373.2L551.3,375.4L551.0,376.2L551.0,377.4L550.5,379.7L550.0,380.9L549.2,381.7L547.9,382.1L547.1,382.1L545.4,381.8L540.6,380.1L534.1,379.3L532.6,378.5L531.9,377.7L531.6,377.7L531.3,378.2L530.9,380.1L530.6,380.0L529.8,376.4L529.8,368.9L530.0,367.9L530.0,365.4L530.8,361.7L531.3,360.9L531.9,360.6L533.6,360.8L534.9,360.6L540.9,360.5L539.8,358.2L538.8,353.4L538.8,352.4L539.3,349.4L540.1,346.9L540.6,345.9L542.4,343.6L544.9,341.9L549.1,340.6L554.6,339.6L556.6,339.6L557.6,339.3L565.6,336.0L572.1,332.1L573.6,331.6L575.9,331.3L578.1,330.4L579.9,330.0L582.9,328.5L587.6,325.3L589.1,325.1L594.6,325.1L604.1,327.4L605.3,328.4L609.5,333.4L613.0,337.2L615.5,340.7L617.5,342.4L619.0,344.2L620.5,346.7L621.6,349.4L622.6,350.3L632.1,354.0L641.1,355.8L643.1,355.8L645.4,356.3L647.6,356.3L648.4,356.6L650.6,356.6L651.4,356.8L654.6,356.8L657.9,356.3L661.1,355.3L661.9,355.3L662.2,355.4L662.3,419.2L662.3,419.7L661.9,420.1ZM615.2,367.9L615.9,367.4L617.6,366.8L622.9,366.1L625.4,366.1L627.6,365.3L630.1,365.0L630.9,364.7L631.1,364.4L624.4,362.3L621.4,360.8L618.9,359.0L618.4,359.3L617.8,360.2L615.9,362.0L615.1,362.5L611.7,363.7L613.2,365.4L614.4,368.0L614.6,368.2L615.2,367.9ZM554.4,420.0L472.4,420.1L471.9,419.8L469.8,417.7L469.0,416.2L469.0,414.7L469.8,411.9L469.8,410.7L470.0,409.9L470.0,406.9L469.6,405.2L470.9,403.1L471.8,401.9L472.1,401.7L474.1,401.8L474.9,402.1L476.9,402.1L482.4,401.1L484.4,401.6L485.6,401.6L486.6,401.8L493.6,401.6L495.9,401.1L500.9,400.8L503.1,400.3L505.4,400.3L507.6,399.8L509.9,399.8L519.6,398.1L521.9,398.1L522.6,397.8L528.1,397.8L530.1,398.3L532.4,398.3L535.1,398.8L539.1,398.8L541.9,398.1L543.1,398.1L543.9,397.8L547.1,398.1L549.0,398.7L550.2,400.2L551.5,402.2L554.5,407.9L555.7,411.2L556.3,414.4L556.3,415.4L555.7,418.2L554.4,420.0Z"/>
<path fill-rule="evenodd" fill="#5ea1d0" d="M414.1,280.5L412.9,280.5L412.3,279.9L412.3,264.7L412.4,264.2L412.6,264.1L454.1,264.1L454.6,264.2L454.8,264.4L454.7,265.2L453.3,266.9L452.1,268.1L450.6,269.1L449.2,270.7L446.4,272.8L440.6,275.5L438.9,275.9L436.9,276.8L434.6,277.1L433.1,277.8L430.4,278.3L428.6,278.3L425.4,278.8L422.4,278.8L419.1,279.4L417.1,280.1L416.1,280.1L414.1,280.5ZM510.9,268.0L505.6,268.1L504.6,267.8L502.4,267.8L501.6,267.6L499.6,267.5L497.9,267.0L495.1,265.5L494.3,264.7L494.3,264.2L495.9,264.1L523.9,264.1L524.8,264.2L524.4,264.8L523.4,265.5L519.9,267.0L517.1,267.6L514.6,267.6L513.9,267.8L511.4,267.8L510.9,268.0ZM475.4,312.8L468.9,312.3L464.4,311.3L460.1,309.5L458.1,308.1L455.8,305.7L454.1,302.2L453.1,299.4L452.8,297.9L452.8,295.4L453.6,292.9L455.1,289.9L456.9,288.1L458.6,286.6L462.1,284.7L465.6,283.1L469.1,282.3L469.9,281.9L470.9,281.8L473.6,281.1L476.6,280.6L478.4,280.6L482.1,279.8L484.9,279.8L485.9,279.6L493.9,279.6L494.9,279.8L496.9,279.8L497.6,280.1L499.9,280.1L501.4,280.3L504.1,280.9L506.9,281.9L509.4,283.4L510.7,284.4L512.7,286.9L513.3,288.2L513.3,290.9L512.7,293.4L511.2,296.7L509.0,299.9L505.9,303.1L503.1,305.3L500.9,306.8L498.4,308.0L495.1,309.5L492.1,310.5L486.1,311.8L482.9,312.3L480.9,312.3L479.9,312.6L475.9,312.6L475.4,312.8ZM575.6,366.5L568.4,366.7L561.6,366.6L560.6,366.3L558.1,366.3L557.4,366.1L554.6,366.1L552.1,365.6L549.1,365.3L544.9,364.0L542.4,362.1L540.9,360.3L540.1,358.9L539.3,356.4L538.8,353.4L538.8,352.4L539.3,349.2L540.6,345.9L542.6,343.4L544.9,341.9L546.4,341.4L549.1,340.6L554.6,339.6L557.4,339.6L558.1,339.3L560.6,339.3L561.6,339.1L575.1,339.1L576.1,339.3L578.6,339.3L579.4,339.6L582.1,339.6L587.6,340.6L590.4,341.4L591.9,341.9L594.4,343.6L596.2,345.9L596.7,346.9L597.5,349.4L597.5,350.9L597.8,351.9L597.8,354.2L597.5,354.9L597.5,356.2L597.0,358.2L596.5,359.4L594.8,361.7L591.9,364.0L587.9,365.3L584.6,365.6L582.1,366.1L579.4,366.1L578.6,366.3L576.1,366.3L575.6,366.5ZM661.9,420.1L620.9,420.1L620.4,420.0L620.1,419.7L618.8,416.7L616.8,407.7L616.5,405.9L616.5,404.2L616.3,403.2L616.3,398.9L616.0,397.9L616.0,393.4L615.8,392.7L615.8,390.9L615.5,390.2L615.3,387.2L614.3,383.2L613.8,380.2L613.5,375.9L613.3,375.2L613.3,371.7L613.6,370.4L614.6,368.4L615.9,367.4L617.6,366.8L620.9,366.3L622.1,366.3L622.9,366.1L625.4,366.1L627.6,365.3L630.1,365.0L630.9,364.7L631.1,364.4L623.9,362.0L621.4,360.8L619.9,359.8L617.5,357.7L615.1,354.4L613.8,351.9L613.3,349.4L613.3,347.2L613.3,346.7L613.9,345.9L614.4,345.7L615.1,345.9L619.6,348.8L622.1,350.0L631.4,353.8L639.6,355.6L641.1,355.8L643.1,355.8L645.4,356.3L647.6,356.3L648.4,356.6L650.6,356.6L651.4,356.8L654.6,356.8L657.9,356.3L661.1,355.3L661.9,355.3L662.2,355.4L662.3,419.2L662.3,419.7L661.9,420.1ZM553.9,420.0L553.1,420.1L492.1,420.1L491.6,419.9L491.3,418.7L491.6,417.2L493.4,413.9L496.6,410.1L499.4,408.4L504.6,406.9L506.1,406.8L508.1,406.1L515.6,404.8L520.9,404.8L530.6,406.4L535.1,407.9L537.1,409.0L537.9,409.1L539.4,409.8L544.6,409.8L546.1,409.6L549.1,410.2L550.0,410.9L552.1,413.6L553.7,416.4L554.3,418.2L554.3,419.2L553.9,420.0Z"/>
<path fill-rule="evenodd" fill="#2874b9" d="M412.9,276.5L412.4,276.5L412.3,276.2L412.3,264.7L412.4,264.2L412.9,264.1L434.4,264.1L435.1,264.2L435.2,264.7L434.7,265.7L432.0,268.9L430.0,270.7L428.4,271.7L425.9,273.0L416.1,275.4L414.9,276.0L412.9,276.5ZM479.9,311.0L475.6,311.1L474.6,310.8L472.4,310.8L468.1,310.1L466.4,309.4L465.4,309.3L461.4,307.3L458.3,304.4L456.1,300.9L455.3,298.4L455.0,296.2L455.6,294.4L457.3,291.2L458.0,290.2L459.9,288.3L462.1,286.6L465.1,284.9L466.4,284.4L468.4,284.0L470.4,283.1L471.6,283.0L474.9,282.1L482.6,280.8L484.9,280.8L485.6,280.6L494.1,280.6L494.9,280.8L499.6,281.1L502.4,281.6L504.9,282.4L506.9,283.4L507.9,284.1L509.3,285.4L510.5,287.4L511.0,288.9L511.0,291.7L510.5,293.9L509.0,296.9L508.1,297.9L507.5,298.9L502.9,303.3L500.1,305.3L494.6,308.0L491.9,309.0L490.6,309.1L488.6,309.8L482.6,310.8L480.4,310.8L479.9,311.0ZM563.9,353.3L561.9,353.3L560.9,353.1L558.1,353.1L554.1,351.8L553.1,351.2L552.1,350.3L551.6,349.4L551.6,348.2L552.1,347.4L554.1,346.2L555.9,345.4L561.6,344.1L563.4,344.1L564.4,343.8L571.4,343.8L575.1,344.4L578.1,345.4L579.2,346.2L579.9,347.4L580.0,348.2L579.2,349.4L576.9,351.0L567.6,353.1L564.4,353.1L563.9,353.3ZM661.9,403.8L658.1,403.3L654.9,402.1L651.9,401.6L649.6,401.6L646.4,401.0L644.4,400.3L641.9,400.0L636.1,398.3L632.4,396.6L630.8,394.7L630.3,393.4L630.0,392.2L630.0,389.7L629.3,384.7L629.3,381.4L629.8,379.9L630.8,378.4L632.1,377.4L633.9,376.4L640.9,374.8L649.4,374.8L651.4,375.3L653.1,375.3L655.4,375.8L657.6,375.8L660.9,375.3L661.6,375.4L662.1,375.7L662.3,376.4L662.3,403.2L662.1,403.7L661.9,403.8ZM535.4,420.1L518.9,420.1L518.4,419.9L518.3,419.7L519.6,416.4L520.4,415.7L521.9,414.9L524.1,414.3L527.4,414.1L529.4,414.3L531.6,414.9L533.5,415.7L534.7,417.2L535.5,418.7L535.7,419.7L535.4,420.1Z"/>
<path fill-rule="evenodd" fill="#0b519d" d="M412.6,270.2L412.4,270.2L412.3,269.7L412.3,264.7L412.4,264.2L421.6,264.1L422.4,264.2L422.5,264.7L422.0,265.7L420.9,267.3L419.9,268.0L418.9,268.5L415.1,269.8L412.6,270.2ZM479.1,309.3L476.9,309.3L475.9,309.1L474.4,309.1L472.9,308.8L469.6,307.5L468.3,306.7L465.8,304.4L464.6,302.9L463.3,300.4L462.8,298.4L462.8,296.9L463.8,294.4L466.5,290.9L469.6,288.1L470.9,287.1L473.6,285.6L478.1,283.9L483.4,282.8L484.9,282.8L487.4,282.3L496.4,282.3L498.4,282.8L499.6,282.9L502.1,283.6L504.1,284.6L505.1,285.3L506.5,286.7L507.7,288.9L508.0,289.9L508.0,291.7L507.7,293.2L507.2,294.7L505.5,297.9L504.1,299.6L501.9,301.6L499.6,303.3L493.6,306.3L486.6,308.3L483.9,308.8L479.6,309.1L479.1,309.3Z"/>
<path fill-rule="evenodd" fill="#0a2f6b" d="M478.4,307.5L475.1,307.3L473.8,306.9L471.0,304.9L470.3,303.7L469.8,301.9L469.8,299.9L470.6,296.7L471.3,294.7L473.6,289.9L474.5,289.2L475.1,288.4L479.4,285.9L489.1,283.8L495.9,283.8L500.1,284.9L501.1,285.4L503.3,286.9L504.2,288.4L505.0,290.7L505.0,292.7L504.2,295.4L503.5,296.9L502.6,298.3L501.4,299.6L500.3,300.2L498.4,301.7L493.9,304.0L491.4,305.0L490.4,305.1L486.4,306.5L483.6,307.1L481.6,307.1L480.9,307.3L478.9,307.3L478.4,307.5Z"/>
<path d="M412.1,347.7L412.7,346.6L414.0,345.2L414.9,344.2L415.4,342.4L414.3,341.6L415.4,340.6L415.4,339.7L414.0,338.5L413.3,337.2L412.9,335.6L411.5,334.7L411.8,333.5L412.9,332.7L414.0,331.9L416.3,331.3L416.3,330.7L414.7,330.3L413.2,330.2L412.1,330.8L410.8,331.0M412.1,326.8L414.0,325.4L415.7,325.8L414.9,327.5L414.3,328.5L415.2,328.2L416.3,327.4L418.0,326.9L419.1,326.8L419.9,327.2L420.5,328.3L420.1,329.3L421.1,330.2L422.6,330.3L422.9,331.3L422.4,332.5L422.7,333.5L422.2,335.0L423.6,335.0L424.9,334.6L426.5,334.2L427.1,333.6L427.2,332.2L427.1,331.1L426.0,329.7L425.4,328.8L424.1,327.7L424.3,326.9L425.7,326.4L427.6,325.4L427.7,324.3L429.1,323.0L430.1,322.1L431.6,321.6L433.0,322.4L435.1,321.6L436.8,320.4L439.0,318.5L440.8,316.6L441.8,315.2L444.0,313.5L444.4,311.8L444.4,310.4L445.8,308.2L445.7,306.9L444.7,305.9L443.0,304.6L440.5,304.8L439.3,304.0L438.6,303.4L439.9,302.9L441.0,301.6L443.5,299.1L446.1,297.6L448.0,296.5L451.0,296.3L453.8,296.3L456.9,296.5L458.6,295.9L461.3,296.6L462.9,297.0L465.8,296.5L467.1,296.2L467.7,295.4L469.9,292.9L472.6,292.4L475.2,293.1L475.1,293.8L473.8,294.3L475.7,294.5L478.8,292.9L480.4,291.7L481.6,292.1L479.9,293.2L480.8,294.5L478.0,296.0L477.2,297.7L475.5,299.0L472.6,300.1L470.2,301.2L469.0,303.2L468.2,304.9L469.1,307.4L469.7,309.6L471.1,308.7L472.7,306.6L474.6,305.5L474.9,304.4L477.7,303.2L478.0,301.6L480.1,301.3L479.0,300.4L479.3,298.8L480.5,297.9L480.8,296.8L483.5,295.6L484.6,294.8L486.6,294.9L489.7,294.5L491.3,295.4L494.1,293.8L496.8,292.6L500.7,291.5L504.9,291.7L504.6,290.7L502.2,289.8L504.0,288.7L502.2,288.1L504.3,287.8L506.1,287.4L508.5,287.0L511.6,286.8L514.7,288.2L517.1,288.5L518.6,287.9L517.4,286.8L519.9,286.0L522.2,285.9L521.0,285.1L517.1,284.6L513.2,284.0L509.3,282.8L506.1,281.7L502.2,280.6L497.6,280.0L493.6,279.8L491.0,280.3L489.6,281.7L485.8,280.4L481.9,280.3L477.2,280.6L476.3,279.3L471.8,278.4L467.1,278.1L462.4,278.4L459.7,277.5L456.1,276.4L451.5,276.1L446.0,275.4L443.6,275.9L439.0,277.5L435.8,277.3L431.9,277.9L429.6,278.6L427.2,277.5L426.5,275.9L424.9,275.3L423.3,274.3L420.2,274.3L417.9,275.1L414.0,275.3L411.6,275.1M427.6,337.1L428.3,340.2L429.1,340.6L429.7,340.0L430.4,338.5L431.1,337.2L430.7,336.6L429.6,336.1L428.6,336.1L427.7,336.6ZM431.9,337.2L432.7,338.0L433.6,336.9L434.7,337.1L435.4,336.3L435.1,335.6L433.5,335.3L432.6,335.8L431.8,336.7ZM429.4,336.0L429.9,335.3L431.6,334.2L433.0,333.5L435.1,333.5L436.5,333.6L437.4,333.0L438.6,331.4L439.4,330.5L439.3,331.6L441.0,331.1L442.6,329.4L443.3,327.7L443.6,326.3L443.5,325.7L444.1,324.7L445.2,324.7L445.8,324.4L446.0,325.7L446.8,327.1L446.3,328.3L446.0,329.3L445.2,329.7L445.2,331.3L444.7,332.4L445.1,333.3L444.1,334.1L443.5,334.6L443.2,333.9L442.4,334.1L441.8,335.0L441.0,334.9L439.6,334.9L438.6,335.5L437.9,336.1L437.1,336.7L436.1,336.3L436.0,335.5L436.5,334.9L434.9,334.7L433.3,335.2L431.8,335.5L431.0,336.1L429.9,336.1ZM443.6,324.3L444.3,323.6L445.1,323.8L445.5,323.8L447.2,323.2L448.8,323.5L449.7,322.4L451.3,321.9L452.4,321.5L451.9,321.0L451.9,320.2L450.4,320.4L448.8,319.7L447.2,318.5L446.3,318.2L446.1,319.7L445.8,321.0L445.5,321.6L444.4,321.5L443.5,322.5L444.0,323.2ZM446.6,317.2L446.9,316.3L447.7,316.3L449.1,317.1L448.6,315.8L447.6,314.9L448.3,312.6L450.7,312.6L449.1,310.7L448.6,308.5L448.6,306.8L448.8,305.5L447.9,304.3L447.2,304.4L447.7,305.4L446.5,306.8L446.3,308.8L446.9,311.0L446.8,312.6L446.8,314.4L446.9,315.7ZM452.2,321.0L453.4,320.4M454.3,319.9L455.2,319.3M456.0,318.8L456.8,318.5M457.4,318.2L458.4,317.7M459.3,317.2L460.1,316.6M460.8,316.1L461.7,315.6M462.4,315.2L463.4,314.4M464.3,313.8L465.0,313.4M465.7,313.0L466.5,312.4M467.1,311.9L467.8,311.2M468.3,310.7L468.9,310.3M412.6,353.1L412.9,353.9L413.6,354.8L414.0,353.7L414.7,352.5L415.4,350.8L415.5,350.0L414.7,349.5L414.0,350.0L413.3,350.8L412.7,352.0ZM413.3,360.1L414.3,360.0L415.8,360.1L416.1,362.2L415.8,363.7L414.9,364.4L414.9,366.2L415.4,367.2L416.5,366.8L417.6,367.3L418.5,367.5L419.0,368.7L418.6,369.3L417.7,368.7L416.5,368.1L415.5,367.6L414.6,367.6L413.8,367.3L413.3,366.4L413.2,365.8L412.2,364.4L412.1,363.6L413.0,363.1L413.0,361.5ZM419.1,369.5L420.2,369.3L421.3,370.0L421.3,371.7L420.5,371.8L419.7,373.1L420.2,373.4L420.8,373.7L419.9,374.6L419.1,372.3L419.3,370.9ZM415.4,370.4L416.5,371.1L417.4,371.7L417.2,372.6L416.9,374.0L416.0,373.6L415.5,372.6L415.5,371.4ZM417.7,372.0L418.6,371.5L418.6,372.8L417.9,374.0L417.4,373.1ZM415.5,378.1L416.8,377.1L418.0,376.8L418.5,375.9L419.9,375.1L421.0,374.0L422.1,374.6L422.4,376.1L422.7,377.6L421.9,378.9L421.1,380.3L420.5,379.5L419.1,379.3L418.8,377.8L417.7,377.3L416.8,377.6ZM411.6,397.6L413.0,397.6L412.9,394.5L414.0,393.2L414.7,396.0L416.8,396.6L416.0,394.1L417.6,390.6L414.7,390.6L417.1,389.8L419.3,388.4L420.5,386.7L419.4,387.4L416.8,387.8L413.8,387.0L412.4,388.1L412.7,390.6L411.6,389.8L412.1,388.5L410.8,392.9L410.5,393.7L411.6,394.5ZM424.1,386.2L424.9,385.4L424.9,386.8L426.0,387.3L425.2,388.1L426.3,388.5L425.2,390.4L424.4,389.6L424.0,388.1ZM424.7,394.1L425.8,393.4L427.7,393.4L429.4,394.3L428.8,394.6L425.8,394.5ZM421.8,394.0L423.0,393.8L423.6,394.6L422.7,394.9L421.8,394.8ZM417.9,405.1L419.3,403.8L420.5,403.0L423.2,402.1L423.8,402.3L422.1,403.4L420.4,404.4L418.6,405.2ZM412.1,402.7L413.6,401.9L415.5,402.1L417.1,401.9L416.6,402.6L414.7,402.7L413.2,402.9ZM410.5,402.7L411.1,402.3L410.8,401.8L409.7,402.1ZM418.6,402.1L420.2,401.5L420.4,402.1ZM431.8,398.2L433.0,397.4L433.6,398.0L432.4,398.4ZM434.6,398.4L435.5,397.4L435.7,399.3L434.6,399.6ZM429.6,391.0L430.5,390.2L431.9,389.6L433.5,390.1L434.4,390.4L434.6,392.4L435.2,393.2L436.3,394.3L437.4,393.2L439.3,391.8L441.5,391.8L443.3,392.6L445.1,393.1L446.6,393.5L448.3,394.3L450.2,395.1L451.8,396.0L452.7,397.1L454.0,398.2L455.5,398.4L455.8,399.5L454.9,400.4L456.1,401.5L457.1,403.0L458.2,403.4L459.0,404.6L460.2,405.2L458.8,405.4L457.1,404.9L455.2,404.0L454.4,402.9L453.2,401.6L451.1,400.9L449.4,401.5L448.8,403.0L447.6,403.5L445.2,403.2L443.6,401.9L442.4,401.6L441.3,402.1L440.5,400.7L441.8,399.6L440.5,397.6L438.6,396.6L436.6,395.9L434.6,395.1L433.6,394.5L432.4,395.4L431.3,393.5L433.2,392.7L431.8,392.4L430.1,391.5ZM456.6,397.7L457.7,398.2L459.7,397.6L460.7,397.6L461.8,396.6L463.0,395.7L462.2,397.3L461.6,398.4L459.3,398.8L457.2,398.7ZM460.5,393.2L462.2,394.0L463.3,394.9L464.1,396.2L463.5,396.0L462.7,395.1L461.5,394.1ZM466.5,397.4L468.0,398.8L468.5,399.6L467.4,399.1L466.6,398.2ZM469.4,399.3L471.0,400.4L472.2,400.9L474.6,401.9L474.7,402.3L473.3,401.6L471.3,400.9L469.6,399.8ZM474.3,403.4L475.5,403.4L476.1,404.3L474.9,404.3ZM475.8,402.1L476.5,402.1L477.2,403.8L476.8,404.0ZM476.9,404.9L478.2,405.2L478.5,405.8L477.2,405.4ZM485.2,411.9L486.1,412.6L486.0,413.3L485.4,413.0ZM487.1,414.0L487.7,414.4L487.4,414.9ZM487.6,416.3L488.2,416.5L487.9,416.9ZM489.0,418.0L489.4,418.5L489.1,419.0ZM481.1,420.5L482.7,421.1L484.9,422.7L485.8,423.8L484.9,423.6L483.2,422.5L481.6,421.3ZM501.9,416.3L503.0,416.0L504.0,416.8L503.5,417.4L502.1,417.2ZM504.0,414.9L505.4,414.4L506.1,414.3L505.1,415.2L504.3,415.4ZM411.6,420.4L413.2,419.9L414.7,418.3L416.0,416.5L416.3,415.2L417.6,414.9L418.3,414.3L419.3,413.2L420.7,411.8L421.9,410.8L423.2,410.5L424.6,411.5L425.2,412.2L426.5,412.2L427.4,411.6L427.6,410.5L428.3,409.6L429.0,408.3L430.1,407.9L432.1,408.0L432.1,407.1L433.5,407.4L434.9,407.9L436.3,408.0L437.4,407.7L438.6,408.2L438.0,409.6L437.2,410.4L436.8,412.1L437.9,413.3L440.1,414.3L441.1,415.4L442.6,416.1L443.6,416.6L444.9,416.1L445.8,414.3L446.1,412.4L446.1,410.1L446.3,408.5L446.9,406.8L447.6,405.7L448.0,406.8L448.6,408.2L449.3,410.5L450.1,411.3L451.6,412.2L452.1,413.8L452.6,415.4L453.3,417.7L454.0,418.8L455.5,419.6L457.2,420.5L458.5,422.2L459.7,423.8L460.5,424.6L461.1,426.3L463.0,427.7L464.1,428.9L464.1,431.1L464.9,433.5L464.3,436.3L463.5,438.8L462.4,440.2L461.3,441.7L460.7,443.0L459.6,444.5L459.3,446.4L459.1,447.5L456.5,448.0L455.2,448.4L453.5,449.8L452.2,448.7L451.1,448.9L450.5,448.6L449.1,449.5L447.2,448.9L445.2,448.4L443.6,447.3L443.2,446.1L442.6,444.8L441.3,444.5L440.8,443.6L441.1,442.5L440.2,440.2L439.6,442.0L438.8,442.8L437.2,443.3L436.3,442.7L436.1,441.6L434.6,440.5L433.5,439.2L431.5,438.9L429.9,438.1L426.5,438.5L423.3,439.4L420.2,440.5L418.6,441.4L417.6,441.9L415.5,441.9L413.2,441.9L411.6,442.0M543.8,359.4L545.5,358.6L545.1,358.0L543.8,357.5L543.5,358.3ZM542.6,356.4L543.6,356.7L542.9,356.9ZM540.1,355.3L541.0,355.8L540.4,355.8ZM537.7,354.5L538.5,354.4L538.2,354.8ZM541.6,355.9L542.6,356.1L541.9,356.1ZM662.4,375.3L661.8,376.1L662.4,377.1L661.8,377.6L660.8,377.0L659.7,376.5L657.9,376.4L656.6,375.6L656.8,374.5L655.1,374.0L654.4,373.6L653.3,372.8L653.5,371.8L652.2,370.6L650.7,368.9L649.1,368.4L647.6,367.9L645.8,367.3L644.0,366.7L642.7,365.8L641.1,364.4L639.3,363.7L637.4,364.5L635.1,364.0L633.5,363.6L631.5,362.8L628.8,361.5L626.9,360.9L625.2,360.1L623.5,358.9L622.4,357.2L623.0,355.8L622.4,354.2L621.0,352.7L619.4,350.9L617.4,349.2L616.5,348.0L614.7,346.3L613.5,345.3L612.1,343.8L611.0,341.7L609.6,340.3L608.0,339.5L608.3,341.3L610.1,343.3L611.1,345.0L612.4,347.5L613.6,349.7L614.9,351.2L616.5,352.8L615.5,353.3L614.0,351.6L612.2,350.6L612.1,348.8L610.5,347.2L609.1,346.1L608.8,344.7L606.6,342.0L605.4,340.2L604.4,338.3L603.5,336.7L602.1,336.0L600.7,335.3L599.0,335.0L598.6,333.6L596.9,331.9L596.0,330.0L595.2,329.3L594.0,326.9L593.0,326.0L593.5,324.1L593.0,322.2L593.3,320.7L593.6,318.0L593.6,316.8L593.3,315.2L592.6,313.5L594.0,313.8L595.5,314.1L596.1,315.2L595.5,312.7L594.9,311.9L592.9,311.2L591.1,310.4L588.6,309.4L587.6,308.2L586.6,306.8L584.6,305.1L584.0,303.7L582.7,302.7L581.1,301.3L578.8,299.8L576.8,298.2L575.2,297.1L573.3,297.0L570.5,296.0L568.6,295.9L566.3,295.4L563.2,295.4L560.8,294.8L558.5,294.2L556.5,294.5L555.2,295.4L553.3,295.9L551.5,296.5L550.2,296.2L550.7,294.5L552.9,293.5L551.1,293.8L549.1,295.1L547.6,296.3L546.5,297.3L544.4,298.2L542.4,299.6L540.1,300.7L538.2,301.8L535.8,302.7L533.5,303.4L531.1,303.8L529.9,304.0L531.9,303.2L534.3,302.0L536.6,300.7L539.4,299.1L541.1,297.7L539.7,297.3L537.4,297.4L534.7,297.6L534.0,296.2L531.1,295.4L529.3,294.5L528.8,293.4L528.0,292.3L529.9,291.0L530.7,290.4L533.5,289.9L535.8,289.8L535.8,288.5L533.0,288.5L530.4,288.4L527.7,288.2L527.1,287.1L524.9,286.7L527.2,285.7L530.4,285.3L532.7,285.7L534.6,285.6L533.5,284.6L531.5,284.2L528.8,282.9L526.9,282.3L530.4,281.5L532.7,280.4L534.4,279.3L538.2,278.6L542.1,277.8L544.4,278.2L548.3,278.4L552.2,279.0L556.1,279.3L560.1,279.6L564.0,279.6L567.1,280.3L570.2,280.6L573.3,281.4L575.7,280.7L578.0,280.4L580.4,280.3L582.7,280.0L585.1,279.6L587.4,279.2L589.0,279.5L591.3,280.7L592.9,280.3L596.0,280.1L599.1,280.7L603.0,281.2L606.1,281.5L609.3,282.5L612.4,283.2L615.5,282.9L618.6,282.3L621.8,281.5L624.9,282.5L629.6,283.2L633.5,283.2L635.8,282.3L638.2,282.8L639.7,281.4L638.2,279.3L636.6,277.9L639.0,276.8L640.8,277.5L642.9,279.0L644.4,280.4L646.0,282.1L648.3,281.0L649.9,282.1L652.2,282.9L654.6,280.9L657.7,280.1L660.8,280.9L660.1,282.1L658.5,283.7L662.4,284.8M662.4,291.0L659.3,291.3L656.1,290.3L653.0,289.6L650.7,289.2L648.3,289.2L645.7,289.9L642.9,291.5L641.3,293.1L640.2,294.6L639.4,296.5L641.3,297.3L642.9,299.3L646.0,299.8L649.1,300.7L652.2,301.8L654.6,302.7L658.5,303.0L659.0,305.5L660.1,307.4L662.4,309.0M662.4,289.2L660.1,289.5L657.7,288.8L653.8,287.8L652.2,286.4L653.8,285.7L656.9,286.8L660.1,287.6L662.4,288.4ZM662.4,347.3L662.2,348.8L661.6,349.7L660.7,349.7L659.7,348.6L659.1,347.5L658.2,346.1L658.2,344.9L657.7,343.6L656.6,342.4L655.4,342.2L654.0,342.7L652.2,341.6L649.9,341.4L647.9,341.7L647.4,343.0L647.9,343.8L646.5,343.6L644.4,343.0L642.1,342.7L639.7,343.0L638.2,344.1L636.1,345.2L635.4,346.4L635.2,348.4L634.9,350.8L634.6,353.4L635.1,355.0L635.8,356.9L636.9,358.6L638.2,359.7L639.7,360.6L642.1,360.3L643.6,360.0L644.7,359.7L645.7,358.6L646.2,356.6L647.6,355.8L649.9,355.5L651.5,355.5L651.8,356.6L650.7,358.4L650.2,360.1L649.6,361.7L649.0,364.2L650.7,364.4L653.0,364.2L655.4,364.4L657.2,365.6L656.9,367.9L656.8,371.1L656.6,372.0L657.7,373.4L659.0,374.6L660.1,375.3L661.6,374.8L662.4,374.5M662.4,353.3L660.8,353.0L658.7,353.0L656.9,353.3L654.7,354.8L655.5,354.8L657.4,354.5L658.8,353.7L660.5,354.2L661.6,354.7L662.4,354.8M643.5,316.1L646.0,316.3L649.1,315.7L650.7,316.5L653.0,316.1L655.2,316.5L654.9,315.4L653.8,314.3L652.1,313.0L649.4,312.9L647.6,314.1L645.5,315.1ZM650.2,323.9L651.8,323.9L652.6,322.7L652.7,321.1L652.2,319.4L653.6,318.3L654.9,317.6L653.8,317.4L651.5,317.7L650.5,319.0L650.1,320.7L650.2,322.5ZM658.7,321.9L659.3,320.4L659.7,318.8L661.6,318.0L662.4,317.2L660.1,316.9L656.8,317.1L655.2,317.4L657.1,318.8L657.2,320.4ZM656.9,323.9L659.3,324.3L661.6,323.3L662.4,322.7L660.1,322.5L657.7,323.2ZM635.5,310.2L636.9,309.8L636.0,307.9L634.6,306.0L633.0,304.9L634.3,307.1L635.1,309.0ZM603.8,293.8L606.1,294.0L610.1,293.4L612.4,292.0L614.7,291.2L611.6,291.3L608.5,291.7L606.1,292.9ZM592.1,287.6L595.2,287.8L599.9,286.8L602.2,285.7L599.1,285.1L596.8,286.0L593.6,286.4ZM665.5,377.3L666.3,378.9L666.6,380.4L666.5,382.8L666.6,383.5L665.5,384.9L664.1,386.5L662.7,387.4L662.2,388.5L661.8,389.8L661.0,390.7L661.3,392.0L662.1,393.1L662.7,392.9L661.9,394.3L661.0,394.6L660.4,396.2L660.8,397.3L660.7,398.2L661.6,398.8L662.9,400.2L664.0,401.9M644.3,389.5L644.9,389.9L645.2,390.6L644.6,390.6L644.3,390.1ZM645.8,389.8L646.5,389.9L646.2,390.2ZM592.1,276.8L594.4,277.9L598.3,277.6L602.2,276.2L603.8,275.1L600.7,273.7L597.6,272.9L592.9,273.2L591.3,275.1ZM602.2,277.5L603.8,279.0L606.1,279.3L610.8,279.5L615.5,279.8L623.3,281.4L628.0,281.0L629.6,279.0L626.5,277.5L623.3,275.4L618.6,274.8L614.7,275.4L610.1,275.6L606.1,275.7L603.0,276.4ZM603.8,272.0L608.5,272.6L614.0,272.6L618.6,272.2L621.8,272.0L623.3,270.8L618.6,270.0L614.0,270.1L608.5,270.0L604.6,270.4ZM595.2,270.4L599.9,270.6L604.6,269.5L606.1,268.4L603.0,268.3L597.6,269.5ZM629.6,275.9L633.5,277.0L635.1,275.9L635.8,274.0L632.7,273.7L629.6,274.5ZM637.4,276.7L641.3,276.4L645.2,275.7L646.0,274.0L641.3,273.4L638.2,274.0ZM637.4,272.8L643.6,272.6L649.9,272.8L656.1,272.8L660.8,272.5L662.4,271.5L659.3,270.8L654.6,270.6L648.3,269.7L643.6,270.4L640.5,271.1L637.4,271.7ZM631.1,272.0L633.5,271.4L631.9,270.1L628.8,270.4L629.6,271.5ZM621.0,270.9L624.9,271.2L625.7,270.1L622.6,269.7ZM630.4,267.3L632.7,267.9L635.1,267.3L632.7,265.9L630.4,266.4ZM624.1,267.5L627.2,267.8L629.6,266.7L626.5,265.8L622.6,266.5ZM637.4,267.3L642.1,267.9L646.8,267.0L649.9,265.8L652.2,263.7L646.8,263.4L641.3,264.5L638.2,265.8ZM635.8,281.4L637.4,282.0L639.0,281.4L638.2,280.6L635.8,280.6ZM646.8,269.7L653.0,270.0L657.7,269.8L662.4,270.0L662.4,264.2L657.7,263.7L654.6,265.0L651.5,266.5L648.3,268.1ZM439.4,271.8L441.3,272.2L444.4,272.5L448.3,272.2L446.8,271.1L443.6,270.6L439.0,270.6ZM449.1,271.4L453.0,272.0L459.3,271.7L457.7,270.6L453.0,270.8ZM444.1,274.5L445.5,273.9L449.1,274.5L447.6,275.0ZM504.1,278.2L506.9,278.6L510.1,277.9L507.7,277.3L505.4,277.5ZM424.9,275.1L427.2,274.8L426.5,273.9ZM515.5,307.9L514.4,308.0M513.2,308.0L512.0,308.1M510.8,308.2L509.3,308.1M507.7,308.0L506.5,308.3M505.4,308.7L504.2,308.3M503.0,308.0L501.9,307.7M500.7,307.4L498.7,307.0M496.8,306.6L495.6,306.5M494.4,306.3L508.1,306.6M521.8,306.8L523.3,306.4M524.9,306.0L526.1,305.7M527.2,305.4L528.0,305.0M546.8,300.7L549.1,299.6L549.4,298.5L547.6,298.8L546.0,299.8ZM519.1,289.5L521.8,290.3L523.8,290.3L521.8,289.6ZM526.6,295.2L528.6,295.6L528.5,294.8L527.1,294.8ZM581.1,304.8L582.7,305.9L581.6,307.6L580.4,306.3L579.6,304.9ZM594.6,313.5L592.6,313.2L590.7,312.2L588.6,311.0L586.8,309.8L588.6,310.1L591.3,310.7L593.6,312.1ZM577.2,300.1L575.2,299.3L574.6,298.2L576.8,298.5ZM579.6,302.9L578.2,302.0L577.7,300.4L579.3,301.2Z" fill="none" stroke="#000" stroke-width="0.95" stroke-linejoin="round"/>
<path fill="#000" d="M569.96,282.03a1,.8 0 1,0 2,0a1,.8 0 1,0 -2,0M578.02,282.03a1,.8 0 1,0 2,0a1,.8 0 1,0 -2,0M586.09,282.03a1,.8 0 1,0 2,0a1,.8 0 1,0 -2,0M477.21,286.07a1,.8 0 1,0 2,0a1,.8 0 1,0 -2,0M485.27,286.07a1,.8 0 1,0 2,0a1,.8 0 1,0 -2,0M493.34,286.07a1,.8 0 1,0 2,0a1,.8 0 1,0 -2,0M501.40,286.07a1,.8 0 1,0 2,0a1,.8 0 1,0 -2,0M549.79,286.07a1,.8 0 1,0 2,0a1,.8 0 1,0 -2,0M557.86,286.07a1,.8 0 1,0 2,0a1,.8 0 1,0 -2,0M565.92,286.07a1,.8 0 1,0 2,0a1,.8 0 1,0 -2,0M573.99,286.07a1,.8 0 1,0 2,0a1,.8 0 1,0 -2,0M582.05,286.07a1,.8 0 1,0 2,0a1,.8 0 1,0 -2,0M590.12,286.07a1,.8 0 1,0 2,0a1,.8 0 1,0 -2,0M598.18,286.07a1,.8 0 1,0 2,0a1,.8 0 1,0 -2,0M606.25,286.07a1,.8 0 1,0 2,0a1,.8 0 1,0 -2,0M614.31,286.07a1,.8 0 1,0 2,0a1,.8 0 1,0 -2,0M622.38,286.07a1,.8 0 1,0 2,0a1,.8 0 1,0 -2,0M630.44,286.07a1,.8 0 1,0 2,0a1,.8 0 1,0 -2,0M473.18,290.10a1,.8 0 1,0 2,0a1,.8 0 1,0 -2,0M481.25,290.10a1,.8 0 1,0 2,0a1,.8 0 1,0 -2,0M489.31,290.10a1,.8 0 1,0 2,0a1,.8 0 1,0 -2,0M497.38,290.10a1,.8 0 1,0 2,0a1,.8 0 1,0 -2,0M537.70,290.10a1,.8 0 1,0 2,0a1,.8 0 1,0 -2,0M545.76,290.10a1,.8 0 1,0 2,0a1,.8 0 1,0 -2,0M553.83,290.10a1,.8 0 1,0 2,0a1,.8 0 1,0 -2,0M561.89,290.10a1,.8 0 1,0 2,0a1,.8 0 1,0 -2,0M569.96,290.10a1,.8 0 1,0 2,0a1,.8 0 1,0 -2,0M578.02,290.10a1,.8 0 1,0 2,0a1,.8 0 1,0 -2,0M586.09,290.10a1,.8 0 1,0 2,0a1,.8 0 1,0 -2,0M594.15,290.10a1,.8 0 1,0 2,0a1,.8 0 1,0 -2,0M602.22,290.10a1,.8 0 1,0 2,0a1,.8 0 1,0 -2,0M610.28,290.10a1,.8 0 1,0 2,0a1,.8 0 1,0 -2,0M618.35,290.10a1,.8 0 1,0 2,0a1,.8 0 1,0 -2,0M626.41,290.10a1,.8 0 1,0 2,0a1,.8 0 1,0 -2,0M469.14,294.13a1,.8 0 1,0 2,0a1,.8 0 1,0 -2,0M477.21,294.13a1,.8 0 1,0 2,0a1,.8 0 1,0 -2,0M485.27,294.13a1,.8 0 1,0 2,0a1,.8 0 1,0 -2,0M493.34,294.13a1,.8 0 1,0 2,0a1,.8 0 1,0 -2,0M501.40,294.13a1,.8 0 1,0 2,0a1,.8 0 1,0 -2,0M533.66,294.13a1,.8 0 1,0 2,0a1,.8 0 1,0 -2,0M541.73,294.13a1,.8 0 1,0 2,0a1,.8 0 1,0 -2,0M549.79,294.13a1,.8 0 1,0 2,0a1,.8 0 1,0 -2,0M557.86,294.13a1,.8 0 1,0 2,0a1,.8 0 1,0 -2,0M565.92,294.13a1,.8 0 1,0 2,0a1,.8 0 1,0 -2,0M573.99,294.13a1,.8 0 1,0 2,0a1,.8 0 1,0 -2,0M582.05,294.13a1,.8 0 1,0 2,0a1,.8 0 1,0 -2,0M590.12,294.13a1,.8 0 1,0 2,0a1,.8 0 1,0 -2,0M598.18,294.13a1,.8 0 1,0 2,0a1,.8 0 1,0 -2,0M606.25,294.13a1,.8 0 1,0 2,0a1,.8 0 1,0 -2,0M614.31,294.13a1,.8 0 1,0 2,0a1,.8 0 1,0 -2,0M622.38,294.13a1,.8 0 1,0 2,0a1,.8 0 1,0 -2,0M473.18,298.16a1,.8 0 1,0 2,0a1,.8 0 1,0 -2,0M481.25,298.16a1,.8 0 1,0 2,0a1,.8 0 1,0 -2,0M489.31,298.16a1,.8 0 1,0 2,0a1,.8 0 1,0 -2,0M497.38,298.16a1,.8 0 1,0 2,0a1,.8 0 1,0 -2,0M529.63,298.16a1,.8 0 1,0 2,0a1,.8 0 1,0 -2,0M537.70,298.16a1,.8 0 1,0 2,0a1,.8 0 1,0 -2,0M545.76,298.16a1,.8 0 1,0 2,0a1,.8 0 1,0 -2,0M553.83,298.16a1,.8 0 1,0 2,0a1,.8 0 1,0 -2,0M561.89,298.16a1,.8 0 1,0 2,0a1,.8 0 1,0 -2,0M569.96,298.16a1,.8 0 1,0 2,0a1,.8 0 1,0 -2,0M578.02,298.16a1,.8 0 1,0 2,0a1,.8 0 1,0 -2,0M586.09,298.16a1,.8 0 1,0 2,0a1,.8 0 1,0 -2,0M594.15,298.16a1,.8 0 1,0 2,0a1,.8 0 1,0 -2,0M602.22,298.16a1,.8 0 1,0 2,0a1,.8 0 1,0 -2,0M610.28,298.16a1,.8 0 1,0 2,0a1,.8 0 1,0 -2,0M618.35,298.16a1,.8 0 1,0 2,0a1,.8 0 1,0 -2,0M469.14,302.20a1,.8 0 1,0 2,0a1,.8 0 1,0 -2,0M477.21,302.20a1,.8 0 1,0 2,0a1,.8 0 1,0 -2,0M485.27,302.20a1,.8 0 1,0 2,0a1,.8 0 1,0 -2,0M493.34,302.20a1,.8 0 1,0 2,0a1,.8 0 1,0 -2,0M525.60,302.20a1,.8 0 1,0 2,0a1,.8 0 1,0 -2,0M533.66,302.20a1,.8 0 1,0 2,0a1,.8 0 1,0 -2,0M541.73,302.20a1,.8 0 1,0 2,0a1,.8 0 1,0 -2,0M549.79,302.20a1,.8 0 1,0 2,0a1,.8 0 1,0 -2,0M557.86,302.20a1,.8 0 1,0 2,0a1,.8 0 1,0 -2,0M565.92,302.20a1,.8 0 1,0 2,0a1,.8 0 1,0 -2,0M573.99,302.20a1,.8 0 1,0 2,0a1,.8 0 1,0 -2,0M582.05,302.20a1,.8 0 1,0 2,0a1,.8 0 1,0 -2,0M590.12,302.20a1,.8 0 1,0 2,0a1,.8 0 1,0 -2,0M598.18,302.20a1,.8 0 1,0 2,0a1,.8 0 1,0 -2,0M606.25,302.20a1,.8 0 1,0 2,0a1,.8 0 1,0 -2,0M614.31,302.20a1,.8 0 1,0 2,0a1,.8 0 1,0 -2,0M622.38,302.20a1,.8 0 1,0 2,0a1,.8 0 1,0 -2,0M473.18,306.23a1,.8 0 1,0 2,0a1,.8 0 1,0 -2,0M481.25,306.23a1,.8 0 1,0 2,0a1,.8 0 1,0 -2,0M489.31,306.23a1,.8 0 1,0 2,0a1,.8 0 1,0 -2,0M521.57,306.23a1,.8 0 1,0 2,0a1,.8 0 1,0 -2,0M529.63,306.23a1,.8 0 1,0 2,0a1,.8 0 1,0 -2,0M537.70,306.23a1,.8 0 1,0 2,0a1,.8 0 1,0 -2,0M545.76,306.23a1,.8 0 1,0 2,0a1,.8 0 1,0 -2,0M553.83,306.23a1,.8 0 1,0 2,0a1,.8 0 1,0 -2,0M561.89,306.23a1,.8 0 1,0 2,0a1,.8 0 1,0 -2,0M569.96,306.23a1,.8 0 1,0 2,0a1,.8 0 1,0 -2,0M578.02,306.23a1,.8 0 1,0 2,0a1,.8 0 1,0 -2,0M586.09,306.23a1,.8 0 1,0 2,0a1,.8 0 1,0 -2,0M594.15,306.23a1,.8 0 1,0 2,0a1,.8 0 1,0 -2,0M602.22,306.23a1,.8 0 1,0 2,0a1,.8 0 1,0 -2,0M610.28,306.23a1,.8 0 1,0 2,0a1,.8 0 1,0 -2,0M618.35,306.23a1,.8 0 1,0 2,0a1,.8 0 1,0 -2,0M626.41,306.23a1,.8 0 1,0 2,0a1,.8 0 1,0 -2,0M517.53,310.26a1,.8 0 1,0 2,0a1,.8 0 1,0 -2,0M525.60,310.26a1,.8 0 1,0 2,0a1,.8 0 1,0 -2,0M533.66,310.26a1,.8 0 1,0 2,0a1,.8 0 1,0 -2,0M541.73,310.26a1,.8 0 1,0 2,0a1,.8 0 1,0 -2,0M549.79,310.26a1,.8 0 1,0 2,0a1,.8 0 1,0 -2,0M557.86,310.26a1,.8 0 1,0 2,0a1,.8 0 1,0 -2,0M565.92,310.26a1,.8 0 1,0 2,0a1,.8 0 1,0 -2,0M573.99,310.26a1,.8 0 1,0 2,0a1,.8 0 1,0 -2,0M582.05,310.26a1,.8 0 1,0 2,0a1,.8 0 1,0 -2,0M606.25,310.26a1,.8 0 1,0 2,0a1,.8 0 1,0 -2,0M614.31,310.26a1,.8 0 1,0 2,0a1,.8 0 1,0 -2,0M622.38,310.26a1,.8 0 1,0 2,0a1,.8 0 1,0 -2,0M630.44,310.26a1,.8 0 1,0 2,0a1,.8 0 1,0 -2,0M513.50,314.30a1,.8 0 1,0 2,0a1,.8 0 1,0 -2,0M521.57,314.30a1,.8 0 1,0 2,0a1,.8 0 1,0 -2,0M529.63,314.30a1,.8 0 1,0 2,0a1,.8 0 1,0 -2,0M537.70,314.30a1,.8 0 1,0 2,0a1,.8 0 1,0 -2,0M545.76,314.30a1,.8 0 1,0 2,0a1,.8 0 1,0 -2,0M553.83,314.30a1,.8 0 1,0 2,0a1,.8 0 1,0 -2,0M561.89,314.30a1,.8 0 1,0 2,0a1,.8 0 1,0 -2,0M569.96,314.30a1,.8 0 1,0 2,0a1,.8 0 1,0 -2,0M618.35,314.30a1,.8 0 1,0 2,0a1,.8 0 1,0 -2,0M626.41,314.30a1,.8 0 1,0 2,0a1,.8 0 1,0 -2,0M634.48,314.30a1,.8 0 1,0 2,0a1,.8 0 1,0 -2,0M642.54,314.30a1,.8 0 1,0 2,0a1,.8 0 1,0 -2,0M501.40,318.33a1,.8 0 1,0 2,0a1,.8 0 1,0 -2,0M509.47,318.33a1,.8 0 1,0 2,0a1,.8 0 1,0 -2,0M517.53,318.33a1,.8 0 1,0 2,0a1,.8 0 1,0 -2,0M525.60,318.33a1,.8 0 1,0 2,0a1,.8 0 1,0 -2,0M533.66,318.33a1,.8 0 1,0 2,0a1,.8 0 1,0 -2,0M541.73,318.33a1,.8 0 1,0 2,0a1,.8 0 1,0 -2,0M549.79,318.33a1,.8 0 1,0 2,0a1,.8 0 1,0 -2,0M489.31,322.36a1,.8 0 1,0 2,0a1,.8 0 1,0 -2,0M497.38,322.36a1,.8 0 1,0 2,0a1,.8 0 1,0 -2,0M505.44,322.36a1,.8 0 1,0 2,0a1,.8 0 1,0 -2,0M513.50,322.36a1,.8 0 1,0 2,0a1,.8 0 1,0 -2,0M521.57,322.36a1,.8 0 1,0 2,0a1,.8 0 1,0 -2,0M529.63,322.36a1,.8 0 1,0 2,0a1,.8 0 1,0 -2,0M537.70,322.36a1,.8 0 1,0 2,0a1,.8 0 1,0 -2,0M485.27,326.40a1,.8 0 1,0 2,0a1,.8 0 1,0 -2,0M493.34,326.40a1,.8 0 1,0 2,0a1,.8 0 1,0 -2,0M501.40,326.40a1,.8 0 1,0 2,0a1,.8 0 1,0 -2,0M509.47,326.40a1,.8 0 1,0 2,0a1,.8 0 1,0 -2,0M517.53,326.40a1,.8 0 1,0 2,0a1,.8 0 1,0 -2,0M525.60,326.40a1,.8 0 1,0 2,0a1,.8 0 1,0 -2,0M481.25,330.43a1,.8 0 1,0 2,0a1,.8 0 1,0 -2,0M489.31,330.43a1,.8 0 1,0 2,0a1,.8 0 1,0 -2,0M497.38,330.43a1,.8 0 1,0 2,0a1,.8 0 1,0 -2,0M505.44,330.43a1,.8 0 1,0 2,0a1,.8 0 1,0 -2,0M513.50,330.43a1,.8 0 1,0 2,0a1,.8 0 1,0 -2,0M477.21,334.46a1,.8 0 1,0 2,0a1,.8 0 1,0 -2,0M485.27,334.46a1,.8 0 1,0 2,0a1,.8 0 1,0 -2,0M493.34,334.46a1,.8 0 1,0 2,0a1,.8 0 1,0 -2,0M501.40,334.46a1,.8 0 1,0 2,0a1,.8 0 1,0 -2,0M481.25,338.49a1,.8 0 1,0 2,0a1,.8 0 1,0 -2,0M489.31,338.49a1,.8 0 1,0 2,0a1,.8 0 1,0 -2,0M485.27,342.53a1,.8 0 1,0 2,0a1,.8 0 1,0 -2,0M549.79,342.53a1,.8 0 1,0 2,0a1,.8 0 1,0 -2,0M557.86,342.53a1,.8 0 1,0 2,0a1,.8 0 1,0 -2,0M565.92,342.53a1,.8 0 1,0 2,0a1,.8 0 1,0 -2,0M573.99,342.53a1,.8 0 1,0 2,0a1,.8 0 1,0 -2,0M545.76,346.56a1,.8 0 1,0 2,0a1,.8 0 1,0 -2,0M553.83,346.56a1,.8 0 1,0 2,0a1,.8 0 1,0 -2,0M561.89,346.56a1,.8 0 1,0 2,0a1,.8 0 1,0 -2,0M569.96,346.56a1,.8 0 1,0 2,0a1,.8 0 1,0 -2,0M578.02,346.56a1,.8 0 1,0 2,0a1,.8 0 1,0 -2,0M586.09,346.56a1,.8 0 1,0 2,0a1,.8 0 1,0 -2,0M549.79,350.59a1,.8 0 1,0 2,0a1,.8 0 1,0 -2,0M557.86,350.59a1,.8 0 1,0 2,0a1,.8 0 1,0 -2,0M565.92,350.59a1,.8 0 1,0 2,0a1,.8 0 1,0 -2,0M573.99,350.59a1,.8 0 1,0 2,0a1,.8 0 1,0 -2,0M582.05,350.59a1,.8 0 1,0 2,0a1,.8 0 1,0 -2,0M545.76,354.63a1,.8 0 1,0 2,0a1,.8 0 1,0 -2,0M553.83,354.63a1,.8 0 1,0 2,0a1,.8 0 1,0 -2,0M561.89,354.63a1,.8 0 1,0 2,0a1,.8 0 1,0 -2,0M569.96,354.63a1,.8 0 1,0 2,0a1,.8 0 1,0 -2,0M578.02,354.63a1,.8 0 1,0 2,0a1,.8 0 1,0 -2,0M586.09,354.63a1,.8 0 1,0 2,0a1,.8 0 1,0 -2,0M549.79,358.66a1,.8 0 1,0 2,0a1,.8 0 1,0 -2,0M557.86,358.66a1,.8 0 1,0 2,0a1,.8 0 1,0 -2,0M565.92,358.66a1,.8 0 1,0 2,0a1,.8 0 1,0 -2,0M573.99,358.66a1,.8 0 1,0 2,0a1,.8 0 1,0 -2,0M582.05,358.66a1,.8 0 1,0 2,0a1,.8 0 1,0 -2,0"/>
</g>
<rect x="545.3" y="339.3" width="46.6" height="24.6" fill="none" stroke="#ff0000" stroke-width="2.6"/>
<rect x="412.4" y="264.2" width="250.0" height="156.0" fill="none" stroke="#8e8e8e" stroke-width="1.0"/>
<path d="M406.9,264.2H412.4M409.2,279.8H412.4M406.9,295.4H412.4M409.2,311.0H412.4M406.9,326.6H412.4M409.2,342.2H412.4M406.9,357.8H412.4M409.2,373.4H412.4M406.9,389.0H412.4M409.2,404.6H412.4M406.9,420.2H412.4M412.4,420.2V423.4M428.0,420.2V423.4M443.6,420.2V425.7M459.3,420.2V423.4M474.9,420.2V423.4M490.5,420.2V423.4M506.1,420.2V425.7M521.8,420.2V423.4M537.4,420.2V423.4M553.0,420.2V423.4M568.6,420.2V425.7M584.3,420.2V423.4M599.9,420.2V423.4M615.5,420.2V423.4M631.1,420.2V425.7M646.8,420.2V423.4M662.4,420.2V423.4" stroke="#8e8e8e" stroke-width="1.0" fill="none"/>
<text x="396.2" y="270.4" text-anchor="end" font-size="16.3" font-family="Liberation Sans, sans-serif">80<tspan font-size="11" dy="-6.9">o</tspan><tspan dy="6.9">N</tspan></text>
<text x="396.2" y="301.6" text-anchor="end" font-size="16.3" font-family="Liberation Sans, sans-serif">60<tspan font-size="11" dy="-6.9">o</tspan><tspan dy="6.9">N</tspan></text>
<text x="396.2" y="332.8" text-anchor="end" font-size="16.3" font-family="Liberation Sans, sans-serif">40<tspan font-size="11" dy="-6.9">o</tspan><tspan dy="6.9">N</tspan></text>
<text x="396.2" y="364.0" text-anchor="end" font-size="16.3" font-family="Liberation Sans, sans-serif">20<tspan font-size="11" dy="-6.9">o</tspan><tspan dy="6.9">N</tspan></text>
<text x="396.2" y="395.2" text-anchor="end" font-size="16.3" font-family="Liberation Sans, sans-serif">0<tspan font-size="11" dy="-6.9">o</tspan></text>
<text x="396.2" y="426.4" text-anchor="end" font-size="16.3" font-family="Liberation Sans, sans-serif">20<tspan font-size="11" dy="-6.9">o</tspan><tspan dy="6.9">S</tspan></text>
<text x="443.6" y="451.8" text-anchor="middle" font-size="16.3" font-family="Liberation Sans, sans-serif">140<tspan font-size="11" dy="-6.9">o</tspan><tspan dy="6.9">E</tspan></text>
<text x="506.1" y="451.8" text-anchor="middle" font-size="16.3" font-family="Liberation Sans, sans-serif">180<tspan font-size="11" dy="-6.9">o</tspan></text>
<text x="568.6" y="451.8" text-anchor="middle" font-size="16.3" font-family="Liberation Sans, sans-serif">140<tspan font-size="11" dy="-6.9">o</tspan><tspan dy="6.9">W</tspan></text>
<text x="631.1" y="451.8" text-anchor="middle" font-size="16.3" font-family="Liberation Sans, sans-serif">100<tspan font-size="11" dy="-6.9">o</tspan><tspan dy="6.9">W</tspan></text>
<text x="663.0" y="258.0" text-anchor="end" font-size="16.6" font-family="Liberation Sans, sans-serif">JFM(1)</text>
<g clip-path="url(#cpe)">
<path fill-rule="evenodd" fill="#ffd82e" d="M261.1,620.0L257.3,620.0L256.6,619.8L254.3,619.8L250.6,619.0L248.1,619.0L247.1,618.8L243.6,618.8L242.8,618.5L237.6,618.3L234.3,617.7L232.3,617.0L231.3,617.0L228.1,615.8L226.8,615.7L224.8,615.0L199.3,610.8L196.6,610.8L193.8,610.3L189.3,610.2L188.9,609.9L197.7,609.6L197.6,609.4L195.8,609.0L191.1,608.8L190.3,608.5L187.1,608.3L176.8,605.7L175.6,605.1L172.8,604.2L170.6,603.1L169.8,603.0L162.6,600.1L153.8,598.0L135.8,591.9L132.3,589.0L131.7,587.9L131.7,586.9L132.5,585.4L133.3,584.3L134.6,583.3L136.6,582.1L138.1,581.7L139.1,581.1L150.8,577.2L154.1,575.7L156.6,574.0L159.6,571.0L161.2,569.6L162.6,568.9L166.3,567.6L167.6,567.5L170.8,565.9L175.3,564.5L177.8,564.5L181.1,565.1L182.8,565.8L184.6,568.0L185.3,568.3L186.6,568.2L188.6,567.1L192.8,563.8L194.3,562.3L195.1,561.1L196.5,558.4L197.6,557.0L200.3,555.4L202.8,554.7L203.6,554.1L203.3,553.8L199.9,553.1L199.8,552.9L200.3,552.6L201.8,552.1L209.3,550.5L211.1,550.5L211.8,550.3L213.6,550.3L214.3,550.0L216.1,550.0L219.3,549.5L222.3,549.5L223.1,549.3L227.3,549.0L229.3,548.5L231.3,548.5L236.6,547.5L239.4,545.9L242.7,542.6L244.9,538.6L245.7,535.4L245.7,530.1L244.9,526.4L244.5,525.6L243.4,521.4L242.4,518.9L240.7,515.9L237.6,512.8L235.3,511.3L229.6,509.1L227.3,508.7L225.1,508.0L224.1,508.0L221.3,507.3L220.1,507.3L215.3,506.5L213.8,506.5L210.6,505.8L209.1,505.8L208.3,505.5L204.3,505.5L199.3,504.8L192.1,504.5L191.3,504.3L189.3,504.3L186.6,503.7L183.3,502.3L182.6,502.2L178.8,500.3L177.3,499.9L172.6,497.3L167.3,495.7L167.1,495.4L169.3,495.3L243.1,495.4L243.4,495.6L243.6,496.4L243.3,497.0L241.2,499.4L240.9,500.1L241.0,500.9L242.6,502.5L247.1,506.0L249.8,508.5L251.3,509.5L253.1,511.4L254.4,513.9L254.7,514.9L254.7,520.6L255.4,525.9L256.2,528.4L257.2,530.4L258.3,531.9L260.9,533.4L263.5,535.6L267.1,538.3L272.4,543.1L277.2,548.1L278.7,549.4L279.9,550.9L280.2,551.6L279.9,552.6L279.9,553.1L281.6,554.8L287.2,559.6L291.1,562.5L293.1,563.5L294.3,563.8L295.6,563.8L299.1,564.6L303.1,563.8L304.6,563.8L307.8,564.8L312.1,567.0L312.8,567.1L314.6,568.0L316.1,568.3L319.3,569.7L320.3,570.0L323.1,570.0L324.1,570.4L324.2,571.1L324.2,593.9L324.0,594.6L320.1,594.9L318.6,596.0L317.9,596.9L313.3,601.8L312.6,602.2L310.8,602.8L305.3,602.0L300.8,602.0L299.8,602.3L297.6,602.3L294.3,602.8L292.1,602.8L289.8,603.3L287.6,603.3L285.8,603.5L280.6,604.5L274.8,605.3L270.3,606.4L268.4,607.9L267.9,608.9L268.0,609.6L269.9,613.4L269.9,615.4L269.4,616.6L268.6,617.5L266.3,618.7L261.1,620.0ZM164.6,500.5L160.6,500.5L159.6,500.3L158.1,500.3L154.1,499.2L152.1,498.2L151.9,497.9L152.1,497.6L153.8,496.8L158.3,496.3L160.1,496.3L161.1,496.5L164.6,496.5L167.1,497.1L168.4,497.6L168.5,497.9L168.3,498.6L167.6,499.4L166.3,500.2L164.6,500.5ZM111.3,515.4L110.3,515.4L109.8,514.9L109.2,512.6L108.9,510.1L106.5,505.1L106.5,503.6L107.2,502.1L109.3,500.8L111.5,500.5L115.8,500.5L117.3,500.8L121.1,502.1L121.9,502.9L122.2,503.4L122.1,504.4L121.3,505.6L120.3,506.3L116.0,506.8L114.4,507.9L112.7,510.1L112.1,514.4L111.3,515.4ZM313.6,523.2L312.3,523.2L311.5,522.6L311.0,522.1L310.4,520.9L310.2,519.4L310.2,516.9L311.0,515.9L312.1,515.5L313.6,515.8L314.6,516.4L315.6,518.1L315.4,519.9L315.1,520.9L314.4,522.4L313.6,523.2ZM100.5,528.7L99.5,528.8L98.5,528.5L97.3,527.4L96.8,526.1L97.2,525.1L101.7,521.1L102.8,520.3L104.8,519.3L106.3,518.8L107.5,518.8L109.0,519.6L109.9,520.9L109.9,522.6L109.1,524.4L108.2,525.6L107.0,526.7L105.5,527.5L103.3,528.2L100.5,528.7ZM84.8,578.0L78.5,578.0L77.8,577.8L76.0,577.8L74.8,577.5L74.3,577.1L74.2,553.6L74.3,552.9L75.0,552.8L76.0,553.0L77.5,553.0L81.5,551.2L86.5,548.5L92.8,544.3L101.3,540.2L104.4,538.1L106.3,536.5L107.1,535.4L107.7,532.9L107.9,528.1L108.2,526.9L108.8,525.9L109.8,525.1L111.8,524.8L114.3,524.8L116.0,525.1L117.3,525.6L118.5,526.4L119.3,527.3L119.9,528.6L120.2,531.1L119.4,532.6L117.0,534.4L117.0,534.9L118.0,535.5L124.3,537.0L132.6,537.5L134.3,538.0L136.8,538.3L139.1,538.8L140.3,539.5L142.8,540.1L144.1,540.7L146.1,541.1L148.3,542.3L149.3,543.4L149.4,544.6L148.9,545.9L148.1,546.8L147.3,547.2L138.6,549.3L130.1,550.8L118.8,553.8L117.5,553.8L116.3,554.1L115.0,554.7L114.0,554.8L112.8,555.5L111.8,555.6L109.0,556.6L107.5,557.5L104.5,558.6L98.3,561.6L93.0,564.6L90.2,566.6L87.9,568.9L87.0,570.0L85.9,570.9L85.9,571.1L86.8,571.5L89.8,571.9L91.0,572.8L91.2,573.6L90.4,575.6L88.8,577.0L86.8,577.7L84.8,578.0ZM155.8,547.5L154.6,547.5L152.8,547.0L151.8,545.9L151.8,544.9L152.3,544.3L154.3,543.5L155.3,543.6L157.1,544.4L157.8,545.1L157.8,545.9L157.1,546.6L155.8,547.5ZM184.6,549.4L184.1,549.3L183.2,548.1L182.8,546.6L182.8,546.3L183.2,545.9L184.3,545.5L184.8,545.6L185.6,546.0L186.4,547.4L186.2,548.1L184.6,549.4ZM265.9,566.9L268.8,566.2L270.3,565.4L271.6,564.5L272.4,562.9L272.4,561.9L271.4,559.4L270.3,557.8L268.9,556.6L266.6,555.1L260.1,552.9L259.5,552.1L259.0,550.9L258.9,549.9L258.2,548.6L257.3,548.1L254.3,547.1L252.8,547.0L250.3,547.6L247.7,548.9L245.6,551.1L243.7,554.6L243.0,556.6L242.7,558.1L242.7,558.9L243.0,559.6L244.0,560.6L246.3,562.2L248.3,563.2L253.6,565.5L259.8,566.8L261.8,566.8L262.8,567.0L265.9,566.9ZM209.9,568.9L211.8,568.2L213.1,567.3L214.1,565.4L214.1,563.1L213.4,561.4L212.6,560.4L211.4,559.4L210.1,558.6L207.8,557.8L206.6,557.7L204.6,558.1L202.1,559.3L200.3,561.1L199.7,562.4L200.0,563.6L201.2,565.6L203.8,567.9L207.1,569.0L209.9,568.9ZM182.3,562.2L181.8,562.2L180.6,561.3L179.8,560.1L179.9,559.6L180.7,558.9L182.1,558.4L183.3,558.9L184.4,560.4L183.6,561.5L182.3,562.2ZM149.3,571.2L147.6,571.3L146.8,571.0L145.6,571.0L143.8,570.5L142.8,569.9L141.7,567.6L141.7,566.9L142.3,565.9L144.1,564.6L146.8,563.5L151.1,564.0L152.4,564.6L153.6,566.1L153.9,567.1L153.8,568.4L153.1,569.6L152.1,570.5L150.8,571.0L149.3,571.2ZM206.8,651.2L120.0,651.3L118.1,651.1L118.3,650.9L121.5,649.7L122.5,649.0L123.4,647.9L124.6,644.9L125.6,641.4L126.2,638.1L126.2,634.9L124.7,628.9L124.7,627.6L123.9,624.9L123.9,623.4L123.4,621.9L123.4,620.6L122.8,617.6L118.5,615.4L117.3,614.6L116.8,614.8L116.6,615.6L116.0,616.2L114.5,616.2L113.8,615.8L113.0,614.6L112.1,612.4L111.8,612.0L108.8,610.8L107.3,610.5L104.5,610.8L103.3,610.5L101.5,609.6L99.5,609.3L93.8,608.8L91.8,608.3L90.8,608.3L90.5,608.4L89.5,610.2L88.5,610.5L87.5,610.5L86.4,609.9L85.5,608.1L83.0,608.0L80.3,608.5L79.5,609.4L78.3,610.0L77.5,610.0L76.5,609.6L74.5,611.2L74.3,611.2L74.2,593.4L74.3,593.1L74.8,593.0L77.3,593.5L78.3,593.5L84.5,595.7L86.3,596.0L94.5,596.3L101.3,597.5L102.3,597.5L104.3,598.2L105.5,598.3L108.5,599.3L112.5,600.8L117.9,603.4L121.8,606.3L124.9,609.4L126.3,611.3L127.3,612.0L129.3,612.8L130.6,612.8L131.8,612.4L133.4,611.4L134.4,610.1L136.1,606.6L136.8,605.8L137.8,605.6L139.1,606.4L139.9,607.6L139.9,609.4L138.9,612.9L139.0,615.1L140.4,618.1L143.1,621.0L144.8,622.2L150.1,625.0L152.8,626.2L154.8,626.8L183.1,638.2L184.8,638.6L188.1,640.0L189.8,640.3L191.3,641.0L192.3,641.0L194.1,641.7L197.6,642.3L200.1,643.5L201.1,643.6L205.1,645.6L206.6,646.8L207.4,647.9L207.7,648.6L207.6,649.9L206.8,651.2ZM137.2,624.4L137.9,624.1L138.6,623.4L139.1,622.6L139.1,621.6L138.4,620.9L137.1,620.1L136.3,620.0L134.8,620.6L133.8,621.9L133.7,622.4L134.0,623.4L134.6,624.0L135.3,624.5L137.2,624.4ZM148.7,638.4L150.6,638.2L151.4,637.6L151.9,636.9L152.1,635.6L151.6,634.8L150.8,634.3L148.6,633.8L147.3,633.9L145.5,634.9L144.8,635.9L144.7,636.4L145.1,637.2L145.8,638.0L148.1,638.5L148.7,638.4ZM323.8,651.3L315.6,651.3L315.1,651.1L315.0,650.9L315.7,649.9L317.8,649.1L322.6,648.3L323.6,648.3L324.0,648.4L324.2,648.6L324.2,650.9L323.8,651.3Z"/>
<path fill-rule="evenodd" fill="#ff8c00" d="M226.8,501.0L224.1,501.0L223.3,500.8L222.1,500.8L219.3,500.0L215.3,499.8L211.6,499.2L210.3,498.7L208.8,497.8L207.8,496.6L207.8,495.9L208.3,495.4L208.8,495.3L234.6,495.3L235.3,495.4L235.1,496.1L233.9,498.1L232.4,499.4L226.8,501.0ZM110.0,505.7L109.3,505.9L108.0,505.6L107.2,504.6L106.9,503.9L107.0,503.4L107.8,502.3L109.5,501.6L110.7,502.4L111.2,503.6L110.8,504.9L110.0,505.7ZM313.6,523.2L312.3,523.2L311.5,522.6L311.0,522.1L310.4,520.9L310.2,519.4L310.2,516.9L311.0,515.9L312.1,515.5L313.6,515.8L314.6,516.4L315.6,518.1L315.4,519.9L315.1,520.9L314.4,522.4L313.6,523.2ZM114.3,530.2L113.0,530.3L112.0,529.9L111.7,529.6L111.2,528.4L111.2,527.4L111.5,526.6L112.0,526.0L112.8,525.6L113.9,525.6L115.1,526.6L115.6,527.6L115.6,528.4L115.1,529.4L114.3,530.2ZM278.1,553.5L276.1,553.5L274.6,552.7L270.1,549.1L263.1,544.5L260.6,542.4L259.6,541.8L257.6,539.7L255.7,536.6L254.9,534.9L254.8,533.9L255.0,532.9L255.8,532.1L256.6,531.8L257.6,531.8L259.1,532.3L260.9,533.4L263.5,535.6L267.1,538.3L269.3,540.3L271.6,542.5L272.6,543.3L277.4,548.4L278.7,549.4L279.9,550.9L280.3,551.9L279.8,552.6L278.1,553.5ZM82.5,565.2L81.8,565.4L81.0,565.3L79.5,564.7L78.4,563.6L78.0,562.9L77.8,561.6L78.8,559.9L79.8,558.8L80.9,558.1L82.0,557.1L84.8,555.3L93.3,551.2L95.8,549.7L96.7,548.9L99.8,546.8L100.8,546.3L101.5,546.2L103.8,545.1L105.8,544.7L107.0,544.1L109.3,543.5L111.5,542.3L112.8,542.2L116.0,541.3L117.3,541.3L119.3,540.8L122.5,540.8L126.8,542.1L128.3,543.1L129.1,544.4L129.1,545.4L128.1,546.8L124.8,548.7L107.0,553.1L105.8,553.7L101.0,555.3L94.3,558.6L87.0,563.4L85.5,564.2L82.5,565.2ZM228.1,613.0L224.1,613.0L221.1,612.5L219.1,611.8L218.1,611.7L212.8,610.0L197.8,607.5L192.6,607.0L188.3,606.2L188.0,606.1L188.0,605.9L188.8,605.5L191.8,605.5L192.8,605.3L198.8,605.3L199.6,605.0L201.3,605.0L201.6,604.9L201.6,604.6L200.1,604.0L196.6,603.5L193.3,602.8L186.8,602.2L168.8,597.7L162.6,595.1L154.6,593.2L152.3,592.2L150.7,590.9L150.0,589.9L149.7,589.1L149.7,587.9L150.8,586.1L153.6,583.0L155.1,581.9L158.8,580.1L161.8,579.5L163.6,578.8L166.1,578.3L168.1,578.3L171.6,577.5L173.8,577.5L174.6,577.3L176.8,577.3L177.6,577.0L179.8,577.0L180.6,576.8L182.8,576.8L183.6,576.5L189.1,576.3L189.8,576.0L192.1,576.0L192.5,575.6L188.0,575.4L188.0,575.1L188.3,575.1L193.3,575.0L194.6,574.8L201.3,574.8L201.7,574.9L201.6,575.4L202.8,575.8L232.1,575.8L233.1,575.5L239.6,575.5L241.1,575.3L254.8,575.3L255.8,575.5L262.3,575.5L263.6,575.8L292.1,575.8L294.2,575.4L293.5,574.1L293.2,572.6L294.0,569.9L295.7,566.9L297.3,565.6L299.3,564.6L303.3,563.8L304.6,563.8L305.8,564.1L307.1,564.7L307.8,564.8L312.1,567.0L312.8,567.1L314.6,568.0L316.1,568.3L320.1,570.0L323.1,570.0L324.0,570.4L324.2,570.6L324.2,587.9L324.1,588.4L323.8,588.5L322.6,589.0L319.6,589.5L317.6,589.5L315.1,590.1L312.8,591.2L312.1,591.3L311.1,591.9L310.3,592.1L309.1,592.7L306.6,593.3L247.1,605.1L245.8,605.7L244.1,606.1L241.8,607.2L241.1,607.3L236.1,609.8L233.8,611.2L233.1,611.3L231.8,612.0L228.1,613.0ZM88.8,610.5L87.5,610.5L86.8,610.2L86.2,609.6L85.7,608.4L85.7,607.6L86.0,606.6L87.5,605.6L88.3,605.6L89.3,606.1L89.9,606.6L90.4,607.4L90.4,608.6L89.8,609.9L89.5,610.2L88.8,610.5ZM105.5,610.7L104.5,610.8L103.3,610.5L102.7,610.1L102.0,609.5L101.7,608.4L101.8,607.9L102.7,606.9L104.3,606.4L105.5,606.8L107.0,608.1L107.1,609.1L106.3,610.2L105.5,610.7ZM116.0,616.2L114.5,616.2L113.7,615.6L112.5,613.6L111.7,611.4L111.7,610.1L112.0,609.4L113.5,608.3L114.5,608.3L115.4,608.6L116.9,611.4L117.2,613.4L116.6,615.6L116.0,616.2ZM164.8,649.2L163.8,649.3L162.6,649.0L161.0,648.1L160.0,646.1L159.7,645.1L159.8,643.9L160.6,642.8L162.3,642.3L163.8,642.6L165.4,643.6L166.1,644.4L166.4,645.1L166.4,645.9L166.1,647.6L165.7,648.4L164.8,649.2Z"/>
<path fill-rule="evenodd" fill="#ff4d00" d="M319.8,578.0L313.8,578.0L311.1,577.5L309.8,577.5L308.6,577.2L308.4,576.9L315.3,576.8L316.1,576.5L319.6,576.5L320.3,576.3L323.1,576.3L323.8,576.1L324.2,576.4L324.2,577.1L323.8,577.5L319.8,578.0ZM219.1,605.0L216.8,605.0L211.6,604.0L209.8,603.3L199.3,601.2L198.9,600.9L200.5,600.6L200.3,600.4L197.3,599.5L193.8,599.0L177.6,594.8L171.1,594.3L162.6,592.2L160.3,591.2L158.7,589.9L158.0,588.9L157.7,588.1L157.7,586.9L158.8,585.6L161.1,584.1L163.3,583.5L164.3,582.9L166.6,582.3L168.1,582.3L171.6,581.5L173.6,581.5L174.3,581.3L176.8,581.3L177.6,581.0L179.8,581.0L180.6,580.8L182.8,580.8L183.6,580.5L186.1,580.5L186.8,580.3L189.1,580.3L189.8,580.0L192.1,580.0L192.8,579.8L194.8,579.8L195.6,579.5L198.3,579.5L198.7,579.1L190.1,578.9L190.6,578.6L192.3,578.5L193.1,578.3L198.3,578.3L199.1,578.0L201.6,578.0L202.6,577.8L210.1,577.8L210.8,578.0L215.1,578.0L218.3,578.5L222.6,578.5L224.1,578.8L232.1,578.8L233.1,578.5L237.3,578.5L240.6,578.0L244.8,578.0L245.6,577.8L252.3,577.8L253.3,578.0L257.6,578.0L260.8,578.5L270.3,578.8L271.3,579.0L275.6,579.0L276.6,579.3L280.8,579.3L281.6,579.5L285.6,579.5L286.3,579.8L289.6,579.8L290.3,580.0L294.8,580.0L295.6,580.3L297.6,580.3L299.1,580.6L300.6,581.1L301.4,582.1L301.4,582.9L301.1,583.6L299.1,585.7L292.3,589.2L286.6,591.5L280.1,592.8L278.3,592.8L276.3,593.3L272.3,593.5L271.6,593.8L268.3,593.8L267.6,594.0L262.6,594.3L261.8,594.5L259.3,594.5L258.6,594.8L256.3,594.8L254.1,595.3L251.8,595.3L245.8,596.3L242.3,597.6L235.8,601.0L229.1,602.7L225.8,603.3L224.3,604.0L219.1,605.0Z"/>
<path fill-rule="evenodd" fill="#ff0000" d="M201.8,595.9L199.6,596.0L196.8,595.5L192.8,595.5L189.6,595.0L188.3,595.3L186.6,595.3L185.3,595.0L183.7,594.1L183.1,592.9L182.6,592.6L178.8,592.2L176.1,591.5L171.8,590.0L170.3,588.9L169.5,587.6L169.5,587.1L169.8,586.8L172.1,585.8L174.3,585.3L176.1,585.3L179.6,584.5L181.6,584.5L182.3,584.3L184.8,584.3L185.6,584.0L187.8,584.0L188.6,583.8L191.1,583.8L191.8,583.5L195.3,583.4L195.5,583.1L195.1,583.1L188.2,582.9L188.3,582.6L189.6,582.3L191.3,582.3L193.6,581.8L196.6,581.8L202.3,582.8L204.8,582.8L207.3,582.5L209.1,582.0L210.3,582.0L211.1,581.8L213.8,581.8L214.8,582.0L216.6,582.0L218.6,582.5L222.8,582.8L224.8,583.3L226.6,583.3L227.3,583.5L229.1,583.5L230.1,583.8L234.1,583.8L236.1,583.3L237.8,583.3L239.8,582.8L242.6,582.8L247.4,584.4L249.3,586.1L250.2,588.1L249.6,589.4L247.6,590.7L245.8,591.5L243.6,592.0L242.1,592.0L241.1,592.3L239.6,592.0L232.3,592.0L231.1,592.3L228.1,592.3L226.1,592.8L224.3,592.8L213.6,595.0L200.6,595.1L200.8,595.4L201.8,595.6L201.8,595.9ZM272.8,590.2L270.1,590.3L269.1,589.7L268.4,589.1L268.0,588.4L267.7,587.4L267.8,586.9L269.6,585.6L271.1,585.3L272.8,585.3L274.4,585.9L275.6,586.8L276.0,587.6L275.9,587.9L274.8,589.5L272.8,590.2Z"/>
<path fill-rule="evenodd" fill="#cc0000" d="M188.6,595.2L186.6,595.3L185.3,595.0L183.7,594.1L183.2,593.4L182.7,591.1L182.7,588.1L183.5,585.6L184.6,584.9L186.1,584.3L188.1,584.3L189.1,584.0L190.6,584.3L196.3,584.5L200.6,586.1L202.1,587.6L202.9,589.4L202.9,590.4L201.9,592.4L201.1,593.1L199.8,593.9L197.1,594.8L194.6,594.8L193.6,595.0L189.1,595.0L188.6,595.2Z"/>
<path fill-rule="evenodd" fill="#a7dbe5" d="M216.6,538.0L212.8,538.0L212.1,537.8L207.8,537.5L205.8,537.0L204.1,537.0L203.3,536.8L201.8,536.8L201.1,536.5L199.6,536.5L196.1,536.0L195.1,535.7L192.1,534.1L191.3,534.0L189.6,533.1L186.6,532.1L175.8,529.5L174.6,528.8L171.3,528.0L167.3,528.0L166.6,528.3L165.3,528.3L163.6,528.8L160.3,529.0L157.6,529.8L156.3,529.8L155.6,530.0L153.3,530.0L149.1,528.7L147.4,527.6L146.6,526.7L146.0,525.6L145.7,524.1L145.9,522.9L146.2,521.9L147.9,518.6L148.2,517.1L149.3,515.1L151.3,514.1L152.6,513.8L154.1,513.8L155.8,513.3L158.6,513.3L159.6,513.0L160.8,513.3L163.8,513.3L164.6,513.5L166.3,513.5L169.6,514.0L171.6,514.0L173.6,514.5L175.3,514.5L176.3,514.8L188.3,514.8L189.1,514.5L192.3,514.5L196.8,513.5L208.6,514.0L210.6,514.5L212.3,514.5L214.3,515.0L216.3,515.0L222.8,516.3L224.1,517.0L225.1,517.1L226.6,517.8L230.4,520.1L232.1,522.4L232.6,523.4L232.9,524.6L232.9,527.6L232.6,528.9L231.9,530.9L230.8,533.0L228.9,534.9L226.6,536.2L221.3,537.5L219.6,537.5L216.6,538.0ZM303.1,555.0L301.8,555.0L300.8,554.4L299.2,552.1L297.4,547.6L297.5,546.4L297.9,545.6L298.7,544.9L300.3,543.9L304.1,542.8L305.8,542.7L310.1,543.0L311.8,543.9L312.8,544.5L313.6,545.6L314.2,546.9L314.1,548.4L313.4,549.6L312.3,550.7L310.1,552.0L306.8,553.3L305.6,554.2L303.1,555.0ZM198.1,623.2L197.6,623.4L197.1,623.3L195.8,623.0L194.8,622.5L193.8,621.2L193.8,620.9L194.5,620.1L195.8,619.5L197.6,620.1L198.7,620.9L199.2,621.6L199.1,622.2L198.1,623.2ZM280.6,648.5L278.8,648.5L275.8,648.0L273.1,648.0L272.3,647.8L268.1,647.5L265.8,647.0L264.1,647.0L263.3,646.8L260.3,646.8L259.6,646.5L255.3,646.3L252.1,645.5L250.3,645.5L246.6,644.8L244.8,644.1L243.8,644.0L230.6,638.6L228.8,638.2L227.6,637.6L226.8,637.5L218.6,633.1L216.3,632.5L212.6,632.3L212.1,632.6L211.3,633.7L210.3,634.0L209.6,634.0L207.9,633.1L206.5,630.4L205.7,627.6L205.8,625.4L206.6,624.5L207.3,624.1L208.6,623.8L209.6,623.8L210.8,624.3L211.6,625.2L213.6,626.0L215.8,626.3L219.1,627.3L220.3,627.3L222.3,627.8L225.8,627.8L226.6,627.5L228.3,627.5L230.3,627.0L232.1,627.0L232.8,626.8L236.1,626.8L236.8,627.0L238.6,627.0L240.6,627.5L242.3,627.5L243.1,627.8L244.8,627.8L245.6,628.0L247.3,628.0L248.1,628.3L249.8,628.3L250.6,628.5L252.3,628.5L255.6,629.0L258.8,629.0L259.6,629.3L261.3,629.3L266.1,630.3L267.3,631.0L270.1,631.8L272.8,633.3L277.4,636.4L279.2,637.9L279.9,638.1L281.2,639.4L281.9,640.6L282.7,643.6L282.7,646.6L282.1,647.8L280.6,648.5ZM188.6,627.5L188.1,627.5L187.6,627.2L187.0,626.4L186.8,625.6L186.8,625.3L187.3,624.8L188.3,624.3L189.1,624.5L190.2,625.6L190.4,626.1L189.9,626.9L188.6,627.5Z"/>
<path fill-rule="evenodd" fill="#7bbfd8" d="M212.1,531.5L209.1,531.3L207.8,531.0L206.1,530.5L202.8,528.8L201.8,528.7L200.6,528.1L198.3,527.5L195.8,527.5L195.1,527.3L193.1,527.3L191.8,527.0L188.3,525.1L184.1,524.0L182.6,523.3L181.1,523.3L179.3,522.8L172.6,522.7L170.1,521.5L169.5,520.9L169.5,520.1L169.8,519.8L171.1,519.3L172.3,519.0L174.1,519.0L175.8,518.5L177.3,518.5L180.1,518.0L187.3,517.8L190.3,517.3L197.1,517.3L198.1,517.5L200.6,517.5L202.3,518.0L204.6,518.0L206.8,518.6L209.3,519.8L212.6,522.4L213.3,523.3L214.1,523.8L215.9,526.4L216.1,527.6L215.9,528.6L215.3,529.7L214.3,530.7L213.3,531.2L212.1,531.5ZM235.3,638.2L230.1,638.3L226.3,637.2L225.0,636.1L224.5,635.1L224.0,633.6L224.2,632.9L225.1,631.6L228.1,630.3L230.6,630.3L232.1,630.8L233.3,630.9L234.1,631.4L235.9,632.4L237.8,634.4L238.0,635.4L237.6,636.6L236.8,637.5L235.3,638.2ZM259.3,645.0L253.1,645.0L252.1,644.8L250.1,644.8L245.8,644.0L243.8,643.0L242.5,641.1L241.7,639.1L241.7,637.4L241.4,636.6L241.8,634.9L242.8,633.9L245.1,633.1L246.6,633.0L249.1,632.5L253.3,632.5L254.3,632.8L258.8,632.8L259.6,633.0L261.1,633.0L263.8,633.9L265.7,635.4L266.4,636.6L266.9,638.4L266.9,640.1L266.6,641.1L265.7,642.6L263.8,643.9L259.3,645.0Z"/>
<path d="M74.0,547.7L74.6,546.6L75.9,545.2L76.8,544.2L77.3,542.4L76.2,541.6L77.3,540.6L77.3,539.7L75.9,538.5L75.2,537.2L74.8,535.6L73.4,534.7L73.7,533.5L74.8,532.7L75.9,531.9L78.2,531.3L78.2,530.7L76.6,530.3L75.1,530.2L74.0,530.8L72.7,531.0M74.0,526.8L75.9,525.4L77.6,525.8L76.8,527.5L76.2,528.5L77.1,528.2L78.2,527.4L79.9,526.9L81.0,526.8L81.8,527.2L82.4,528.3L82.0,529.3L83.0,530.2L84.5,530.3L84.8,531.3L84.3,532.5L84.6,533.5L84.1,535.0L85.5,535.0L86.8,534.6L88.4,534.2L89.0,533.6L89.1,532.2L89.0,531.1L87.9,529.7L87.3,528.8L86.0,527.7L86.2,526.9L87.6,526.4L89.5,525.4L89.6,524.3L91.0,523.0L92.0,522.1L93.5,521.6L94.9,522.4L97.0,521.6L98.7,520.4L100.9,518.5L102.7,516.6L103.7,515.2L105.9,513.5L106.3,511.8L106.3,510.4L107.7,508.2L107.6,506.9L106.6,505.9L104.9,504.6L102.4,504.8L101.2,504.0L100.6,503.4L101.8,502.9L102.9,501.6L105.4,499.1L108.0,497.6L109.9,496.5L112.9,496.3L115.7,496.3L118.8,496.5L120.5,495.9L123.2,496.6L124.8,497.0L127.7,496.5L129.0,496.2L129.6,495.4L131.8,492.9L134.5,492.4L137.1,493.1L137.0,493.8L135.7,494.3L137.6,494.5L140.7,492.9L142.3,491.7L143.5,492.1L141.8,493.2L142.7,494.5L139.9,496.0L139.1,497.7L137.4,499.0L134.5,500.1L132.1,501.2L130.9,503.2L130.1,504.9L131.0,507.4L131.6,509.6L133.0,508.7L134.6,506.6L136.5,505.5L136.8,504.4L139.6,503.2L139.9,501.6L142.0,501.3L140.9,500.4L141.2,498.8L142.4,497.9L142.7,496.8L145.4,495.6L146.5,494.8L148.5,494.9L151.6,494.5L153.2,495.4L156.0,493.8L158.7,492.6L162.6,491.5L166.8,491.7L166.5,490.7L164.1,489.8L165.9,488.7L164.1,488.1L166.2,487.8L168.1,487.4L170.4,487.0L173.5,486.8L176.6,488.2L179.0,488.5L180.6,487.9L179.3,486.8L181.8,486.0L184.1,485.9L182.9,485.1L179.0,484.6L175.1,484.0L171.2,482.8L168.1,481.7L164.1,480.6L159.5,480.0L155.6,479.8L152.9,480.3L151.5,481.7L147.7,480.4L143.8,480.3L139.1,480.6L138.2,479.3L133.7,478.4L129.0,478.1L124.3,478.4L121.6,477.5L118.0,476.4L113.4,476.1L107.9,475.4L105.5,475.9L100.9,477.5L97.7,477.3L93.8,477.9L91.5,478.6L89.1,477.5L88.4,475.9L86.8,475.3L85.2,474.3L82.1,474.3L79.8,475.1L75.9,475.3L73.5,475.1M89.5,537.1L90.2,540.2L91.0,540.6L91.6,540.0L92.3,538.5L93.0,537.2L92.6,536.6L91.5,536.1L90.6,536.1L89.6,536.6ZM93.8,537.2L94.6,538.0L95.5,536.9L96.6,537.1L97.3,536.3L97.0,535.6L95.4,535.3L94.5,535.8L93.7,536.7ZM91.3,536.0L91.8,535.3L93.5,534.2L94.9,533.5L97.0,533.5L98.4,533.6L99.3,533.0L100.6,531.4L101.3,530.5L101.2,531.6L102.9,531.1L104.5,529.4L105.2,527.7L105.5,526.3L105.4,525.7L106.0,524.7L107.1,524.7L107.7,524.4L107.9,525.7L108.7,527.1L108.2,528.3L107.9,529.3L107.1,529.7L107.1,531.3L106.6,532.4L107.0,533.3L106.0,534.1L105.4,534.6L105.1,533.9L104.3,534.1L103.7,535.0L102.9,534.9L101.5,534.9L100.6,535.5L99.8,536.1L99.0,536.7L98.0,536.3L97.9,535.5L98.4,534.9L96.8,534.7L95.2,535.2L93.7,535.5L92.9,536.1L91.8,536.1ZM105.5,524.3L106.2,523.6L107.0,523.8L107.4,523.8L109.1,523.2L110.7,523.5L111.6,522.4L113.2,521.9L114.3,521.5L113.8,521.0L113.8,520.2L112.3,520.4L110.7,519.7L109.1,518.5L108.2,518.2L108.0,519.7L107.7,521.0L107.4,521.6L106.3,521.5L105.4,522.5L105.9,523.2ZM108.5,517.2L108.8,516.3L109.6,516.3L111.0,517.1L110.5,515.8L109.5,514.9L110.2,512.6L112.6,512.6L111.0,510.7L110.5,508.5L110.5,506.8L110.7,505.5L109.8,504.3L109.1,504.4L109.6,505.4L108.4,506.8L108.2,508.8L108.8,511.0L108.7,512.6L108.7,514.4L108.8,515.7ZM114.1,521.0L115.3,520.4M116.2,519.9L117.1,519.3M117.9,518.8L118.7,518.5M119.3,518.2L120.3,517.7M121.2,517.2L122.0,516.6M122.7,516.1L123.6,515.6M124.3,515.2L125.3,514.4M126.2,513.8L126.9,513.4M127.6,513.0L128.4,512.4M129.0,511.9L129.7,511.2M130.2,510.7L130.8,510.3M74.5,553.1L74.8,553.9L75.5,554.8L75.9,553.7L76.6,552.5L77.3,550.8L77.4,550.0L76.6,549.5L75.9,550.0L75.2,550.8L74.6,552.0ZM75.2,560.1L76.2,560.0L77.7,560.1L78.1,562.2L77.7,563.7L76.8,564.4L76.8,566.2L77.3,567.2L78.4,566.8L79.5,567.3L80.4,567.5L80.9,568.7L80.5,569.3L79.6,568.7L78.4,568.1L77.4,567.6L76.5,567.6L75.7,567.3L75.2,566.4L75.1,565.8L74.1,564.4L74.0,563.6L74.9,563.1L74.9,561.5ZM81.0,569.5L82.1,569.3L83.2,570.0L83.2,571.7L82.4,571.8L81.6,573.1L82.1,573.4L82.7,573.7L81.8,574.6L81.0,572.3L81.2,570.9ZM77.3,570.4L78.4,571.1L79.3,571.7L79.1,572.6L78.8,574.0L77.9,573.6L77.4,572.6L77.4,571.4ZM79.6,572.0L80.5,571.5L80.5,572.8L79.8,574.0L79.3,573.1ZM77.4,578.1L78.7,577.1L79.9,576.8L80.4,575.9L81.8,575.1L82.9,574.0L84.0,574.6L84.3,576.1L84.6,577.6L83.8,578.9L83.0,580.3L82.4,579.5L81.0,579.3L80.7,577.8L79.6,577.3L78.7,577.6ZM73.5,597.6L74.9,597.6L74.8,594.5L75.9,593.2L76.6,596.0L78.7,596.6L77.9,594.1L79.5,590.6L76.6,590.6L79.0,589.8L81.2,588.4L82.4,586.7L81.3,587.4L78.7,587.8L75.7,587.0L74.3,588.1L74.6,590.6L73.5,589.8L74.0,588.5L72.7,592.9L72.4,593.7L73.5,594.5ZM86.0,586.2L86.8,585.4L86.8,586.8L87.9,587.3L87.1,588.1L88.2,588.5L87.1,590.4L86.3,589.6L85.9,588.1ZM86.6,594.1L87.7,593.4L89.6,593.4L91.3,594.3L90.7,594.6L87.7,594.5ZM83.7,594.0L84.9,593.8L85.5,594.6L84.6,594.9L83.7,594.8ZM79.8,605.1L81.2,603.8L82.4,603.0L85.1,602.1L85.7,602.3L84.0,603.4L82.3,604.4L80.5,605.2ZM74.0,602.7L75.5,601.9L77.4,602.1L79.0,601.9L78.5,602.6L76.6,602.7L75.1,602.9ZM72.4,602.7L73.0,602.3L72.7,601.8L71.6,602.1ZM80.5,602.1L82.1,601.5L82.3,602.1ZM93.7,598.2L94.9,597.4L95.5,598.0L94.3,598.4ZM96.5,598.4L97.4,597.4L97.6,599.3L96.5,599.6ZM91.5,591.0L92.4,590.2L93.8,589.6L95.4,590.1L96.3,590.4L96.5,592.4L97.1,593.2L98.2,594.3L99.3,593.2L101.2,591.8L103.4,591.8L105.2,592.6L107.0,593.1L108.5,593.5L110.2,594.3L112.1,595.1L113.7,596.0L114.6,597.1L115.9,598.2L117.4,598.4L117.7,599.5L116.8,600.4L118.0,601.5L119.0,603.0L120.1,603.4L120.9,604.6L122.1,605.2L120.7,605.4L119.0,604.9L117.1,604.0L116.3,602.9L115.1,601.6L113.1,600.9L111.3,601.5L110.7,603.0L109.5,603.5L107.1,603.2L105.5,601.9L104.3,601.6L103.2,602.1L102.4,600.7L103.7,599.6L102.4,597.6L100.6,596.6L98.5,595.9L96.5,595.1L95.5,594.5L94.3,595.4L93.2,593.5L95.1,592.7L93.7,592.4L92.0,591.5ZM118.5,597.7L119.6,598.2L121.6,597.6L122.6,597.6L123.7,596.6L124.9,595.7L124.1,597.3L123.5,598.4L121.2,598.8L119.1,598.7ZM122.4,593.2L124.1,594.0L125.2,594.9L126.0,596.2L125.4,596.0L124.6,595.1L123.4,594.1ZM128.4,597.4L129.9,598.8L130.4,599.6L129.3,599.1L128.5,598.2ZM131.3,599.3L132.9,600.4L134.1,600.9L136.5,601.9L136.6,602.3L135.2,601.6L133.2,600.9L131.5,599.8ZM136.2,603.4L137.4,603.4L138.1,604.3L136.8,604.3ZM137.7,602.1L138.4,602.1L139.1,603.8L138.7,604.0ZM138.8,604.9L140.1,605.2L140.4,605.8L139.1,605.4ZM147.1,611.9L148.0,612.6L147.9,613.3L147.3,613.0ZM149.0,614.0L149.6,614.4L149.3,614.9ZM149.5,616.3L150.1,616.5L149.8,616.9ZM150.9,618.0L151.3,618.5L151.0,619.0ZM143.1,620.5L144.6,621.1L146.8,622.7L147.7,623.8L146.8,623.6L145.1,622.5L143.5,621.3ZM163.8,616.3L164.9,616.0L165.9,616.8L165.4,617.4L164.0,617.2ZM165.9,614.9L167.3,614.4L168.1,614.3L167.0,615.2L166.2,615.4ZM73.5,620.4L75.1,619.9L76.6,618.3L77.9,616.5L78.2,615.2L79.5,614.9L80.2,614.3L81.2,613.2L82.6,611.8L83.8,610.8L85.1,610.5L86.5,611.5L87.1,612.2L88.4,612.2L89.3,611.6L89.5,610.5L90.2,609.6L90.9,608.3L92.0,607.9L94.0,608.0L94.0,607.1L95.4,607.4L96.8,607.9L98.2,608.0L99.3,607.7L100.6,608.2L99.9,609.6L99.1,610.4L98.7,612.1L99.8,613.3L102.0,614.3L103.1,615.4L104.5,616.1L105.5,616.6L106.8,616.1L107.7,614.3L108.0,612.4L108.0,610.1L108.2,608.5L108.8,606.8L109.5,605.7L109.9,606.8L110.5,608.2L111.2,610.5L112.0,611.3L113.5,612.2L114.0,613.8L114.5,615.4L115.2,617.7L115.9,618.8L117.4,619.6L119.1,620.5L120.4,622.2L121.6,623.8L122.4,624.6L123.0,626.3L124.9,627.7L126.0,628.9L126.0,631.1L126.8,633.5L126.2,636.3L125.4,638.8L124.3,640.2L123.2,641.7L122.6,643.0L121.5,644.5L121.2,646.4L121.0,647.5L118.4,648.0L117.1,648.4L115.4,649.8L114.1,648.7L113.1,648.9L112.4,648.6L111.0,649.5L109.1,648.9L107.1,648.4L105.5,647.3L105.1,646.1L104.5,644.8L103.2,644.5L102.7,643.6L103.1,642.5L102.1,640.2L101.5,642.0L100.7,642.8L99.1,643.3L98.2,642.7L98.0,641.6L96.5,640.5L95.4,639.2L93.4,638.9L91.8,638.1L88.4,638.5L85.2,639.4L82.1,640.5L80.5,641.4L79.5,641.9L77.4,641.9L75.1,641.9L73.5,642.0M100.2,644.7L101.8,644.5L102.6,644.8L101.5,645.2L100.2,645.0ZM156.6,642.7L157.7,643.6L159.1,644.7L159.9,645.6L161.0,646.1L161.6,647.3L163.4,648.1L165.7,647.8L165.4,649.1L164.8,650.2L163.2,650.6L162.7,651.9L162.0,653.0L160.7,653.9L159.8,653.4L160.2,652.0L159.0,650.8L158.4,650.2L159.6,649.2L159.9,647.7L159.5,646.4L159.0,645.6L157.3,644.1ZM156.6,652.2L157.4,653.0L159.1,653.3L158.7,654.4L157.1,656.1M205.7,559.4L207.4,558.6L207.0,558.0L205.7,557.5L205.4,558.3ZM204.5,556.4L205.6,556.7L204.8,556.9ZM202.0,555.3L202.9,555.8L202.3,555.8ZM199.6,554.5L200.4,554.4L200.1,554.8ZM203.5,555.9L204.5,556.1L203.8,556.1ZM324.3,575.3L323.7,576.1L324.3,577.1L323.7,577.6L322.7,577.0L321.6,576.5L319.8,576.4L318.5,575.6L318.7,574.5L317.0,574.0L316.3,573.6L315.2,572.8L315.4,571.8L314.1,570.6L312.6,568.9L311.0,568.4L309.5,567.9L307.7,567.3L305.9,566.7L304.6,565.8L303.0,564.4L301.2,563.7L299.3,564.5L297.0,564.0L295.4,563.6L293.4,562.8L290.7,561.5L288.8,560.9L287.1,560.1L285.4,558.9L284.3,557.2L284.9,555.8L284.3,554.2L282.9,552.7L281.3,550.9L279.3,549.2L278.4,548.0L276.6,546.3L275.4,545.3L274.0,543.8L272.9,541.7L271.5,540.3L269.9,539.5L270.2,541.3L272.0,543.3L273.0,545.0L274.3,547.5L275.6,549.7L276.8,551.2L278.4,552.8L277.4,553.3L275.9,551.6L274.1,550.6L274.0,548.8L272.4,547.2L271.0,546.1L270.7,544.7L268.5,542.0L267.3,540.2L266.3,538.3L265.4,536.7L264.0,536.0L262.6,535.3L260.9,535.0L260.5,533.6L258.8,531.9L257.9,530.0L257.1,529.3L255.9,526.9L254.9,526.0L255.4,524.1L254.9,522.2L255.2,520.7L255.6,518.0L255.6,516.8L255.2,515.2L254.5,513.5L255.9,513.8L257.4,514.1L258.1,515.2L257.4,512.7L256.8,511.9L254.8,511.2L253.1,510.4L250.6,509.4L249.5,508.2L248.5,506.8L246.5,505.1L245.9,503.7L244.6,502.7L243.1,501.3L240.7,499.8L238.7,498.2L237.1,497.1L235.2,497.0L232.4,496.0L230.6,495.9L228.2,495.4L225.1,495.4L222.7,494.8L220.4,494.2L218.4,494.5L217.1,495.4L215.2,495.9L213.4,496.5L212.1,496.2L212.6,494.5L214.8,493.5L213.1,493.8L211.0,495.1L209.5,496.3L208.4,497.3L206.3,498.2L204.3,499.6L202.0,500.7L200.1,501.8L197.7,502.7L195.4,503.4L193.1,503.8L191.8,504.0L193.8,503.2L196.2,502.0L198.5,500.7L201.3,499.1L203.1,497.7L201.6,497.3L199.3,497.4L196.6,497.6L195.9,496.2L193.1,495.4L191.2,494.5L190.7,493.4L189.9,492.3L191.8,491.0L192.6,490.4L195.4,489.9L197.7,489.8L197.7,488.5L194.9,488.5L192.3,488.4L189.6,488.2L189.0,487.1L186.8,486.7L189.1,485.7L192.3,485.3L194.6,485.7L196.5,485.6L195.4,484.6L193.4,484.2L190.7,482.9L188.8,482.3L192.3,481.5L194.6,480.4L196.3,479.3L200.1,478.6L204.0,477.8L206.3,478.2L210.2,478.4L214.1,479.0L218.1,479.3L222.0,479.6L225.9,479.6L229.0,480.3L232.1,480.6L235.2,481.4L237.6,480.7L239.9,480.4L242.3,480.3L244.6,480.0L247.0,479.6L249.3,479.2L250.9,479.5L253.2,480.7L254.8,480.3L257.9,480.1L261.0,480.7L264.9,481.2L268.1,481.5L271.2,482.5L274.3,483.2L277.4,482.9L280.6,482.3L283.7,481.5L286.8,482.5L291.5,483.2L295.4,483.2L297.7,482.3L300.1,482.8L301.6,481.4L300.1,479.3L298.5,477.9L300.9,476.8L302.7,477.5L304.8,479.0L306.3,480.4L307.9,482.1L310.2,481.0L311.8,482.1L314.1,482.9L316.5,480.9L319.6,480.1L322.7,480.9L322.0,482.1L320.4,483.7L324.3,484.8M324.3,491.0L321.2,491.3L318.1,490.3L314.9,489.6L312.6,489.2L310.2,489.2L307.6,489.9L304.8,491.5L303.2,493.1L302.1,494.6L301.3,496.5L303.2,497.3L304.8,499.3L307.9,499.8L311.0,500.7L314.1,501.8L316.5,502.7L320.4,503.0L320.9,505.5L322.0,507.4L324.3,509.0M324.3,547.3L324.1,548.8L323.5,549.7L322.6,549.7L321.6,548.6L321.0,547.5L320.1,546.1L320.1,544.9L319.6,543.6L318.5,542.4L317.3,542.2L315.9,542.7L314.1,541.6L311.8,541.4L309.8,541.7L309.3,543.0L309.8,543.8L308.4,543.6L306.3,543.0L304.0,542.7L301.6,543.0L300.1,544.1L298.1,545.2L297.3,546.4L297.1,548.4L296.8,550.8L296.5,553.4L297.0,555.0L297.7,556.9L298.8,558.6L300.1,559.7L301.6,560.6L304.0,560.3L305.6,560.0L306.6,559.7L307.6,558.6L308.1,556.6L309.5,555.8L311.8,555.5L313.4,555.5L313.7,556.6L312.6,558.4L312.1,560.1L311.5,561.7L310.9,564.2L312.6,564.4L314.9,564.2L317.3,564.4L319.1,565.6L318.8,567.9L318.7,571.1L318.5,572.0L319.6,573.4L320.9,574.6L322.0,575.3L323.5,574.8L324.3,574.5M324.3,553.3L322.7,553.0L320.6,553.0L318.8,553.3L316.6,554.8L317.4,554.8L319.3,554.5L320.7,553.7L322.4,554.2L323.5,554.7L324.3,554.8M305.4,516.1L307.9,516.3L311.0,515.7L312.6,516.5L314.9,516.1L317.1,516.5L316.8,515.4L315.7,514.3L314.0,513.0L311.3,512.9L309.5,514.1L307.4,515.1ZM312.1,523.9L313.7,523.9L314.5,522.7L314.6,521.1L314.1,519.4L315.5,518.3L316.8,517.6L315.7,517.4L313.4,517.7L312.4,519.0L312.0,520.7L312.1,522.5ZM320.6,521.9L321.2,520.4L321.6,518.8L323.5,518.0L324.3,517.2L322.0,516.9L318.7,517.1L317.1,517.4L319.0,518.8L319.1,520.4ZM318.8,523.9L321.2,524.3L323.5,523.3L324.3,522.7L322.0,522.5L319.6,523.2ZM297.4,510.2L298.8,509.8L297.9,507.9L296.5,506.0L294.9,504.9L296.2,507.1L297.0,509.0ZM265.7,493.8L268.1,494.0L272.0,493.4L274.3,492.0L276.6,491.2L273.5,491.3L270.4,491.7L268.1,492.9ZM327.4,577.3L328.2,578.9L328.5,580.4L328.4,582.8L328.5,583.5L327.4,584.9L326.0,586.5L324.6,587.4L324.1,588.5L323.7,589.8L322.9,590.7L323.2,592.0L324.0,593.1L324.6,592.9L323.8,594.3L322.9,594.6L322.3,596.2L322.7,597.3L322.6,598.2L323.5,598.8L324.8,600.2L325.9,601.9M306.2,589.5L306.8,589.9L307.1,590.6L306.5,590.6L306.2,590.1ZM307.7,589.8L308.4,589.9L308.1,590.2ZM177.4,507.9L176.3,508.0M175.1,508.0L173.9,508.1M172.7,508.2L171.2,508.1M169.6,508.0L168.4,508.3M167.3,508.7L166.1,508.3M164.9,508.0L163.8,507.7M162.6,507.4L160.6,507.0M158.7,506.6L157.5,506.5M156.3,506.3L170.0,506.6M183.7,506.8L185.2,506.4M186.8,506.0L188.0,505.7M189.1,505.4L189.9,505.0M208.7,500.7L211.0,499.6L211.3,498.5L209.5,498.8L207.9,499.8ZM188.5,495.2L190.6,495.6L190.4,494.8L189.0,494.8ZM243.1,504.8L244.6,505.9L243.5,507.6L242.3,506.3L241.5,504.9ZM256.5,513.5L254.5,513.2L252.6,512.2L250.6,511.0L248.7,509.8L250.6,510.1L253.2,510.7L255.6,512.1ZM239.1,500.1L237.1,499.3L236.5,498.2L238.7,498.5ZM241.5,502.9L240.1,502.0L239.6,500.4L241.2,501.2Z" fill="none" stroke="#000" stroke-width="0.95" stroke-linejoin="round"/>
<path fill="#000" d="M114.28,544.18a1,.8 0 1,0 2,0a1,.8 0 1,0 -2,0M102.19,548.21a1,.8 0 1,0 2,0a1,.8 0 1,0 -2,0M110.25,548.21a1,.8 0 1,0 2,0a1,.8 0 1,0 -2,0M98.16,552.24a1,.8 0 1,0 2,0a1,.8 0 1,0 -2,0M94.12,556.28a1,.8 0 1,0 2,0a1,.8 0 1,0 -2,0M82.03,560.31a1,.8 0 1,0 2,0a1,.8 0 1,0 -2,0M194.94,576.44a1,.8 0 1,0 2,0a1,.8 0 1,0 -2,0M203.00,576.44a1,.8 0 1,0 2,0a1,.8 0 1,0 -2,0M211.06,576.44a1,.8 0 1,0 2,0a1,.8 0 1,0 -2,0M219.13,576.44a1,.8 0 1,0 2,0a1,.8 0 1,0 -2,0M227.19,576.44a1,.8 0 1,0 2,0a1,.8 0 1,0 -2,0M235.26,576.44a1,.8 0 1,0 2,0a1,.8 0 1,0 -2,0M243.32,576.44a1,.8 0 1,0 2,0a1,.8 0 1,0 -2,0M166.71,580.47a1,.8 0 1,0 2,0a1,.8 0 1,0 -2,0M174.78,580.47a1,.8 0 1,0 2,0a1,.8 0 1,0 -2,0M182.84,580.47a1,.8 0 1,0 2,0a1,.8 0 1,0 -2,0M190.91,580.47a1,.8 0 1,0 2,0a1,.8 0 1,0 -2,0M198.97,580.47a1,.8 0 1,0 2,0a1,.8 0 1,0 -2,0M207.03,580.47a1,.8 0 1,0 2,0a1,.8 0 1,0 -2,0M215.10,580.47a1,.8 0 1,0 2,0a1,.8 0 1,0 -2,0M223.16,580.47a1,.8 0 1,0 2,0a1,.8 0 1,0 -2,0M231.23,580.47a1,.8 0 1,0 2,0a1,.8 0 1,0 -2,0M239.29,580.47a1,.8 0 1,0 2,0a1,.8 0 1,0 -2,0M247.36,580.47a1,.8 0 1,0 2,0a1,.8 0 1,0 -2,0M255.43,580.47a1,.8 0 1,0 2,0a1,.8 0 1,0 -2,0M263.49,580.47a1,.8 0 1,0 2,0a1,.8 0 1,0 -2,0M271.56,580.47a1,.8 0 1,0 2,0a1,.8 0 1,0 -2,0M279.62,580.47a1,.8 0 1,0 2,0a1,.8 0 1,0 -2,0M287.69,580.47a1,.8 0 1,0 2,0a1,.8 0 1,0 -2,0M295.75,580.47a1,.8 0 1,0 2,0a1,.8 0 1,0 -2,0M303.81,580.47a1,.8 0 1,0 2,0a1,.8 0 1,0 -2,0M311.88,580.47a1,.8 0 1,0 2,0a1,.8 0 1,0 -2,0M319.94,580.47a1,.8 0 1,0 2,0a1,.8 0 1,0 -2,0M162.67,584.51a1,.8 0 1,0 2,0a1,.8 0 1,0 -2,0M170.74,584.51a1,.8 0 1,0 2,0a1,.8 0 1,0 -2,0M178.81,584.51a1,.8 0 1,0 2,0a1,.8 0 1,0 -2,0M186.87,584.51a1,.8 0 1,0 2,0a1,.8 0 1,0 -2,0M194.94,584.51a1,.8 0 1,0 2,0a1,.8 0 1,0 -2,0M203.00,584.51a1,.8 0 1,0 2,0a1,.8 0 1,0 -2,0M211.06,584.51a1,.8 0 1,0 2,0a1,.8 0 1,0 -2,0M219.13,584.51a1,.8 0 1,0 2,0a1,.8 0 1,0 -2,0M227.19,584.51a1,.8 0 1,0 2,0a1,.8 0 1,0 -2,0M235.26,584.51a1,.8 0 1,0 2,0a1,.8 0 1,0 -2,0M243.32,584.51a1,.8 0 1,0 2,0a1,.8 0 1,0 -2,0M251.39,584.51a1,.8 0 1,0 2,0a1,.8 0 1,0 -2,0M259.45,584.51a1,.8 0 1,0 2,0a1,.8 0 1,0 -2,0M267.52,584.51a1,.8 0 1,0 2,0a1,.8 0 1,0 -2,0M275.58,584.51a1,.8 0 1,0 2,0a1,.8 0 1,0 -2,0M283.65,584.51a1,.8 0 1,0 2,0a1,.8 0 1,0 -2,0M291.71,584.51a1,.8 0 1,0 2,0a1,.8 0 1,0 -2,0M299.78,584.51a1,.8 0 1,0 2,0a1,.8 0 1,0 -2,0M307.84,584.51a1,.8 0 1,0 2,0a1,.8 0 1,0 -2,0M315.91,584.51a1,.8 0 1,0 2,0a1,.8 0 1,0 -2,0M158.64,588.54a1,.8 0 1,0 2,0a1,.8 0 1,0 -2,0M166.71,588.54a1,.8 0 1,0 2,0a1,.8 0 1,0 -2,0M174.78,588.54a1,.8 0 1,0 2,0a1,.8 0 1,0 -2,0M182.84,588.54a1,.8 0 1,0 2,0a1,.8 0 1,0 -2,0M190.91,588.54a1,.8 0 1,0 2,0a1,.8 0 1,0 -2,0M198.97,588.54a1,.8 0 1,0 2,0a1,.8 0 1,0 -2,0M207.03,588.54a1,.8 0 1,0 2,0a1,.8 0 1,0 -2,0M215.10,588.54a1,.8 0 1,0 2,0a1,.8 0 1,0 -2,0M223.16,588.54a1,.8 0 1,0 2,0a1,.8 0 1,0 -2,0M231.23,588.54a1,.8 0 1,0 2,0a1,.8 0 1,0 -2,0M239.29,588.54a1,.8 0 1,0 2,0a1,.8 0 1,0 -2,0M247.36,588.54a1,.8 0 1,0 2,0a1,.8 0 1,0 -2,0M255.43,588.54a1,.8 0 1,0 2,0a1,.8 0 1,0 -2,0M263.49,588.54a1,.8 0 1,0 2,0a1,.8 0 1,0 -2,0M271.56,588.54a1,.8 0 1,0 2,0a1,.8 0 1,0 -2,0M279.62,588.54a1,.8 0 1,0 2,0a1,.8 0 1,0 -2,0M287.69,588.54a1,.8 0 1,0 2,0a1,.8 0 1,0 -2,0M295.75,588.54a1,.8 0 1,0 2,0a1,.8 0 1,0 -2,0M303.81,588.54a1,.8 0 1,0 2,0a1,.8 0 1,0 -2,0M311.88,588.54a1,.8 0 1,0 2,0a1,.8 0 1,0 -2,0M162.67,592.57a1,.8 0 1,0 2,0a1,.8 0 1,0 -2,0M170.74,592.57a1,.8 0 1,0 2,0a1,.8 0 1,0 -2,0M178.81,592.57a1,.8 0 1,0 2,0a1,.8 0 1,0 -2,0M186.87,592.57a1,.8 0 1,0 2,0a1,.8 0 1,0 -2,0M194.94,592.57a1,.8 0 1,0 2,0a1,.8 0 1,0 -2,0M203.00,592.57a1,.8 0 1,0 2,0a1,.8 0 1,0 -2,0M211.06,592.57a1,.8 0 1,0 2,0a1,.8 0 1,0 -2,0M219.13,592.57a1,.8 0 1,0 2,0a1,.8 0 1,0 -2,0M227.19,592.57a1,.8 0 1,0 2,0a1,.8 0 1,0 -2,0M235.26,592.57a1,.8 0 1,0 2,0a1,.8 0 1,0 -2,0M243.32,592.57a1,.8 0 1,0 2,0a1,.8 0 1,0 -2,0M251.39,592.57a1,.8 0 1,0 2,0a1,.8 0 1,0 -2,0M259.45,592.57a1,.8 0 1,0 2,0a1,.8 0 1,0 -2,0M267.52,592.57a1,.8 0 1,0 2,0a1,.8 0 1,0 -2,0M275.58,592.57a1,.8 0 1,0 2,0a1,.8 0 1,0 -2,0M283.65,592.57a1,.8 0 1,0 2,0a1,.8 0 1,0 -2,0M291.71,592.57a1,.8 0 1,0 2,0a1,.8 0 1,0 -2,0M299.78,592.57a1,.8 0 1,0 2,0a1,.8 0 1,0 -2,0M174.78,596.61a1,.8 0 1,0 2,0a1,.8 0 1,0 -2,0M182.84,596.61a1,.8 0 1,0 2,0a1,.8 0 1,0 -2,0M190.91,596.61a1,.8 0 1,0 2,0a1,.8 0 1,0 -2,0M198.97,596.61a1,.8 0 1,0 2,0a1,.8 0 1,0 -2,0M207.03,596.61a1,.8 0 1,0 2,0a1,.8 0 1,0 -2,0M215.10,596.61a1,.8 0 1,0 2,0a1,.8 0 1,0 -2,0M223.16,596.61a1,.8 0 1,0 2,0a1,.8 0 1,0 -2,0M231.23,596.61a1,.8 0 1,0 2,0a1,.8 0 1,0 -2,0M239.29,596.61a1,.8 0 1,0 2,0a1,.8 0 1,0 -2,0M247.36,596.61a1,.8 0 1,0 2,0a1,.8 0 1,0 -2,0M255.43,596.61a1,.8 0 1,0 2,0a1,.8 0 1,0 -2,0M263.49,596.61a1,.8 0 1,0 2,0a1,.8 0 1,0 -2,0M271.56,596.61a1,.8 0 1,0 2,0a1,.8 0 1,0 -2,0M194.94,600.64a1,.8 0 1,0 2,0a1,.8 0 1,0 -2,0M203.00,600.64a1,.8 0 1,0 2,0a1,.8 0 1,0 -2,0M211.06,600.64a1,.8 0 1,0 2,0a1,.8 0 1,0 -2,0M219.13,600.64a1,.8 0 1,0 2,0a1,.8 0 1,0 -2,0M227.19,600.64a1,.8 0 1,0 2,0a1,.8 0 1,0 -2,0M235.26,600.64a1,.8 0 1,0 2,0a1,.8 0 1,0 -2,0M243.32,600.64a1,.8 0 1,0 2,0a1,.8 0 1,0 -2,0M198.97,604.67a1,.8 0 1,0 2,0a1,.8 0 1,0 -2,0M207.03,604.67a1,.8 0 1,0 2,0a1,.8 0 1,0 -2,0M215.10,604.67a1,.8 0 1,0 2,0a1,.8 0 1,0 -2,0M223.16,604.67a1,.8 0 1,0 2,0a1,.8 0 1,0 -2,0M231.23,604.67a1,.8 0 1,0 2,0a1,.8 0 1,0 -2,0M219.13,608.71a1,.8 0 1,0 2,0a1,.8 0 1,0 -2,0M227.19,608.71a1,.8 0 1,0 2,0a1,.8 0 1,0 -2,0"/>
</g>
<rect x="74.3" y="495.4" width="250.0" height="156.0" fill="none" stroke="#8e8e8e" stroke-width="1.0"/>
<path d="M68.8,495.4H74.3M71.1,511.0H74.3M68.8,526.6H74.3M71.1,542.2H74.3M68.8,557.8H74.3M71.1,573.4H74.3M68.8,589.0H74.3M71.1,604.6H74.3M68.8,620.2H74.3M71.1,635.8H74.3M68.8,651.4H74.3M74.3,651.4V654.6M89.9,651.4V654.6M105.5,651.4V656.9M121.2,651.4V654.6M136.8,651.4V654.6M152.4,651.4V654.6M168.1,651.4V656.9M183.7,651.4V654.6M199.3,651.4V654.6M214.9,651.4V654.6M230.6,651.4V656.9M246.2,651.4V654.6M261.8,651.4V654.6M277.4,651.4V654.6M293.1,651.4V656.9M308.7,651.4V654.6M324.3,651.4V654.6" stroke="#8e8e8e" stroke-width="1.0" fill="none"/>
<text x="58.1" y="501.5" text-anchor="end" font-size="16.3" font-family="Liberation Sans, sans-serif">60<tspan font-size="11" dy="-6.9">o</tspan><tspan dy="6.9">N</tspan></text>
<text x="58.1" y="532.7" text-anchor="end" font-size="16.3" font-family="Liberation Sans, sans-serif">40<tspan font-size="11" dy="-6.9">o</tspan><tspan dy="6.9">N</tspan></text>
<text x="58.1" y="563.9" text-anchor="end" font-size="16.3" font-family="Liberation Sans, sans-serif">20<tspan font-size="11" dy="-6.9">o</tspan><tspan dy="6.9">N</tspan></text>
<text x="58.1" y="595.1" text-anchor="end" font-size="16.3" font-family="Liberation Sans, sans-serif">0<tspan font-size="11" dy="-6.9">o</tspan></text>
<text x="58.1" y="626.3" text-anchor="end" font-size="16.3" font-family="Liberation Sans, sans-serif">20<tspan font-size="11" dy="-6.9">o</tspan><tspan dy="6.9">S</tspan></text>
<text x="58.1" y="657.5" text-anchor="end" font-size="16.3" font-family="Liberation Sans, sans-serif">40<tspan font-size="11" dy="-6.9">o</tspan><tspan dy="6.9">S</tspan></text>
<text x="105.5" y="683.0" text-anchor="middle" font-size="16.3" font-family="Liberation Sans, sans-serif">140<tspan font-size="11" dy="-6.9">o</tspan><tspan dy="6.9">E</tspan></text>
<text x="168.1" y="683.0" text-anchor="middle" font-size="16.3" font-family="Liberation Sans, sans-serif">180<tspan font-size="11" dy="-6.9">o</tspan></text>
<text x="230.6" y="683.0" text-anchor="middle" font-size="16.3" font-family="Liberation Sans, sans-serif">140<tspan font-size="11" dy="-6.9">o</tspan><tspan dy="6.9">W</tspan></text>
<text x="293.1" y="683.0" text-anchor="middle" font-size="16.3" font-family="Liberation Sans, sans-serif">100<tspan font-size="11" dy="-6.9">o</tspan><tspan dy="6.9">W</tspan></text>
<text x="324.9" y="489.2" text-anchor="end" font-size="16.6" font-family="Liberation Sans, sans-serif">JFM(2)</text>
<g clip-path="url(#cpf)">
<path fill-rule="evenodd" fill="#ffd82e" d="M550.1,651.2L413.1,651.3L412.4,651.1L412.3,650.4L412.3,590.6L412.6,590.3L415.4,590.3L418.4,590.8L424.1,591.0L425.1,590.8L430.4,590.5L432.1,590.0L433.1,590.0L437.7,588.6L439.9,586.7L441.0,584.4L440.4,583.4L439.4,582.5L436.9,581.6L433.6,581.0L426.9,580.8L425.9,581.0L421.1,581.0L420.4,581.3L418.4,581.3L417.6,581.5L413.6,581.8L412.9,582.0L412.4,581.9L412.3,581.6L412.3,543.1L412.6,542.8L414.9,542.5L417.1,541.1L419.4,540.1L424.1,539.0L427.1,537.5L428.3,536.6L431.0,533.4L432.5,530.1L433.2,528.1L434.3,522.1L434.0,518.9L433.5,516.9L432.3,514.6L431.5,513.9L429.9,512.8L427.6,511.8L422.1,510.8L419.1,510.8L415.9,510.0L414.6,509.9L413.1,510.3L412.4,510.1L412.3,496.1L412.4,495.4L413.1,495.3L661.1,495.3L662.1,495.4L662.3,496.4L662.1,509.6L660.6,509.8L655.6,512.2L653.6,513.0L649.1,513.0L646.9,513.6L646.1,514.1L645.8,514.6L645.8,515.9L646.6,518.4L649.8,524.4L649.9,524.9L649.8,525.1L648.1,526.8L644.4,529.5L640.9,531.2L640.1,531.3L638.4,532.2L636.1,532.8L626.9,534.3L612.9,534.3L608.9,533.5L606.6,533.5L604.6,532.8L601.1,532.3L596.9,531.2L594.4,530.2L590.9,527.8L589.9,526.5L588.9,525.8L586.5,523.4L585.3,521.6L582.9,519.3L579.9,517.8L575.9,516.5L566.1,515.0L562.9,515.0L559.9,514.5L551.9,514.3L550.9,514.0L542.6,514.0L541.4,513.8L535.1,513.8L534.1,513.5L529.1,513.5L528.1,513.3L525.4,513.3L523.1,512.7L522.4,512.3L517.1,511.3L511.4,510.5L501.6,508.8L499.4,508.8L498.6,508.5L496.4,508.5L495.4,508.3L492.6,508.3L491.6,508.5L487.4,508.5L483.1,509.3L480.4,509.3L478.4,509.6L476.1,510.3L473.1,510.5L470.9,511.2L469.6,511.3L464.4,513.0L462.9,513.1L461.1,514.0L458.4,514.8L455.4,516.1L452.9,517.3L450.1,519.3L449.6,520.4L449.5,521.1L450.4,522.7L452.4,523.7L456.4,525.1L457.4,525.7L459.1,526.3L460.4,527.2L461.4,527.5L461.7,527.4L462.1,526.1L463.6,524.6L465.4,523.6L466.1,523.5L467.4,522.8L470.9,522.3L472.9,522.3L477.6,523.4L480.0,524.9L481.2,526.6L481.7,527.6L482.0,529.9L481.5,532.6L480.7,535.1L478.7,539.1L476.9,541.5L475.1,542.9L475.0,543.1L475.1,543.4L479.6,545.2L481.9,546.0L482.9,546.1L484.1,546.7L485.1,546.8L486.6,547.5L487.9,547.6L489.4,548.2L491.1,548.6L513.1,557.5L514.1,557.6L515.6,558.2L516.6,558.3L520.9,559.8L533.4,562.3L538.1,562.6L538.4,562.6L538.5,562.9L535.4,563.0L534.6,563.3L530.6,563.3L529.6,563.5L527.1,563.5L526.6,563.6L526.5,563.9L528.6,564.5L531.6,564.5L532.4,564.8L535.6,564.8L537.1,565.0L540.6,565.0L541.4,564.8L546.9,564.5L553.1,563.2L554.4,562.6L555.1,562.4L558.9,560.5L563.7,556.9L566.0,554.9L567.9,552.7L572.2,546.6L578.6,536.1L579.6,535.1L582.4,534.0L587.1,534.0L592.6,535.3L594.9,536.5L596.1,536.8L597.6,538.0L601.9,540.0L605.4,541.2L609.1,542.1L610.6,542.7L633.9,547.3L638.4,549.1L642.9,551.8L644.9,553.6L646.0,555.4L646.5,557.1L646.5,558.9L646.2,559.9L645.7,560.9L645.1,561.4L644.1,561.8L642.9,561.8L641.6,562.3L640.3,563.1L639.6,564.1L637.6,567.9L636.3,571.9L636.3,573.6L636.6,574.9L637.8,575.9L637.9,576.4L637.6,577.0L636.2,578.1L633.1,579.9L632.1,580.1L630.4,580.8L624.4,580.8L617.9,579.5L616.6,578.8L613.9,578.0L611.1,576.5L608.1,573.3L606.4,572.1L605.6,571.8L605.1,571.8L603.9,572.5L601.9,574.8L600.5,575.9L599.6,577.1L598.8,578.6L598.8,579.1L598.8,581.6L599.5,584.6L599.5,585.9L601.0,591.9L601.0,594.1L600.5,595.4L598.4,597.0L596.9,597.7L595.9,597.8L589.6,600.7L575.9,605.8L570.6,608.6L569.5,609.6L568.5,611.6L568.5,613.6L568.8,614.9L569.6,616.6L570.6,618.2L573.8,621.4L574.7,622.9L576.0,626.6L575.7,629.1L574.5,631.6L571.8,634.9L565.6,641.0L563.9,642.5L561.1,643.9L559.2,645.4L558.6,645.6L557.2,646.9L556.3,647.4L551.7,650.9L550.1,651.2ZM549.2,650.4L550.1,649.7L551.0,648.1L551.3,646.9L551.3,643.4L551.0,641.9L550.0,639.9L549.2,639.1L548.1,638.6L547.1,638.5L545.4,637.8L542.4,637.5L541.4,637.1L540.1,637.0L526.4,632.3L525.1,632.2L523.1,631.5L522.1,631.5L515.6,630.3L510.6,630.3L508.6,630.8L506.9,630.8L505.6,631.5L503.9,631.8L502.4,632.6L500.3,633.9L499.9,634.4L499.8,635.4L500.3,636.1L501.1,636.9L503.9,639.0L505.9,640.0L508.1,640.7L509.4,641.0L511.4,641.0L514.6,641.8L516.9,642.0L518.6,642.7L522.4,643.3L524.9,644.2L526.1,644.3L533.6,646.8L536.9,648.2L537.9,648.3L539.9,649.0L541.1,649.1L542.6,649.7L547.1,650.5L549.2,650.4Z"/>
<path fill-rule="evenodd" fill="#ff8c00" d="M412.6,619.7L412.4,619.6L412.3,619.1L412.4,610.9L413.9,609.0L414.5,607.9L416.1,606.4L417.6,605.7L422.1,603.1L426.6,601.6L427.9,601.5L432.6,600.1L433.9,600.0L436.1,599.3L437.4,599.3L440.1,598.5L441.4,598.5L444.4,597.8L445.6,597.8L448.6,597.0L449.6,597.0L452.4,596.3L453.4,596.3L457.4,595.1L458.9,595.0L461.9,594.0L464.4,592.9L466.5,591.4L468.2,589.1L469.3,586.9L469.5,583.9L469.3,583.1L469.3,581.9L468.3,577.9L469.4,574.6L469.2,573.9L468.6,573.3L466.9,572.3L463.6,571.8L461.9,571.8L461.1,571.5L459.6,571.5L456.9,571.0L455.4,571.0L454.6,570.8L449.4,570.3L444.9,569.5L441.6,569.5L440.9,569.3L437.6,569.3L436.6,569.0L421.9,569.0L415.4,570.1L412.6,571.2L412.3,570.9L412.3,546.4L412.4,545.8L413.6,545.8L415.4,545.2L419.4,543.1L420.1,543.3L422.5,546.4L424.0,549.9L424.6,552.1L428.1,558.4L428.8,559.4L432.6,562.1L432.9,561.9L433.1,560.9L433.4,560.3L434.1,559.4L435.4,558.4L436.1,558.2L437.1,557.6L440.6,556.7L444.4,555.3L446.6,552.1L449.8,548.6L451.2,546.6L452.5,543.4L452.8,541.6L452.8,539.9L452.5,539.1L451.6,538.1L447.9,536.6L446.4,536.5L441.4,535.1L438.9,534.7L438.1,534.3L436.5,532.6L435.1,530.9L435.1,530.4L436.3,526.4L436.3,524.4L436.8,523.6L438.9,521.6L439.5,519.6L439.5,517.1L439.0,514.4L438.3,512.9L437.0,507.4L436.6,507.1L434.9,506.7L433.1,505.9L431.9,505.1L430.9,504.0L430.3,502.9L430.6,501.9L431.4,501.1L433.4,500.1L437.1,499.3L440.4,498.8L443.4,498.8L444.4,498.5L456.4,498.5L457.6,498.8L468.4,498.8L469.4,499.0L472.9,499.0L473.6,499.3L474.9,499.2L475.4,499.5L475.8,499.4L475.6,499.1L474.9,499.1L474.6,498.9L467.9,497.0L466.5,496.1L466.6,495.6L467.4,495.3L661.4,495.3L662.1,495.4L662.3,496.4L662.1,499.6L656.9,501.3L653.1,503.9L651.4,505.3L646.5,510.1L640.0,518.9L638.4,520.8L634.7,524.4L631.6,526.2L629.1,527.2L621.9,528.8L620.1,528.8L619.4,529.0L614.9,529.0L608.1,527.7L606.9,527.1L605.9,527.0L604.6,526.3L603.6,526.2L599.9,524.2L597.1,522.4L589.1,516.4L586.1,513.5L583.4,511.6L579.9,510.3L574.9,509.8L574.1,509.5L572.6,509.5L571.9,509.3L568.4,509.3L565.4,508.8L556.4,508.5L555.4,508.3L551.1,508.3L550.4,508.0L546.1,508.0L545.1,507.8L538.4,507.8L537.1,507.5L521.4,507.5L518.4,508.0L514.6,508.0L513.4,507.8L508.1,507.8L505.4,507.3L501.9,507.3L497.6,506.5L495.1,506.5L490.6,505.8L488.9,505.1L487.9,505.0L485.6,504.2L483.6,503.2L481.3,501.6L480.6,500.8L479.9,500.6L479.6,500.6L480.5,501.9L480.5,503.1L480.2,504.4L479.8,505.1L477.6,506.7L473.1,508.7L468.1,509.8L466.4,509.8L465.4,510.0L458.9,510.0L458.1,509.8L455.1,509.8L452.6,509.3L451.7,509.4L451.2,512.4L449.4,519.4L449.6,520.1L449.6,521.4L450.4,522.6L450.9,523.0L452.4,523.7L456.4,525.1L457.4,525.7L458.6,526.1L461.4,527.6L461.5,528.1L461.3,529.1L461.3,531.1L462.0,535.9L463.1,539.6L463.8,541.1L463.8,541.4L462.6,542.7L460.9,543.6L459.1,545.0L455.6,546.9L455.4,547.4L455.8,547.6L458.1,548.5L459.4,548.5L460.1,548.8L463.1,548.8L470.6,547.3L473.1,547.3L473.9,547.0L478.9,547.0L479.9,546.8L481.4,546.8L482.4,547.0L485.9,547.1L486.6,547.5L487.9,547.6L489.4,548.2L491.1,548.6L508.6,555.6L509.6,556.3L513.1,559.8L515.1,562.1L525.4,567.4L529.4,566.8L544.9,566.8L545.9,567.0L548.1,567.0L548.9,567.3L551.1,567.3L551.9,567.5L554.4,567.5L556.1,567.8L561.6,568.8L563.6,569.4L565.3,570.6L566.1,571.9L567.9,572.6L568.2,573.1L568.0,574.1L567.4,575.0L566.1,575.6L562.9,578.0L561.2,579.6L557.1,582.4L554.0,584.9L553.3,586.1L552.8,587.6L552.7,589.1L552.5,590.1L551.9,591.1L551.8,592.6L550.7,596.4L549.6,598.3L548.4,599.2L546.6,600.0L544.6,600.1L542.4,600.0L541.6,599.8L539.9,599.8L536.4,599.0L532.1,599.0L529.6,600.1L528.6,600.8L527.0,602.4L525.9,603.0L525.4,602.7L525.1,602.1L524.7,600.4L524.4,599.9L522.6,599.8L521.6,600.0L519.9,600.0L519.1,600.3L517.4,600.3L516.6,600.5L514.9,600.5L514.1,600.8L512.4,600.8L511.6,601.0L509.9,601.0L509.1,601.3L507.4,601.3L506.6,601.5L504.9,601.5L504.1,601.8L499.9,601.8L499.1,602.0L497.4,602.0L494.1,602.5L489.9,602.5L489.1,602.8L484.9,602.8L483.9,603.0L477.6,603.0L476.6,603.3L472.4,603.3L471.6,603.5L467.4,603.5L466.6,603.8L464.6,603.8L463.9,604.0L459.6,604.0L458.9,604.3L457.1,604.3L456.4,604.5L454.6,604.5L453.9,604.8L447.9,605.3L447.1,605.5L445.9,605.5L445.1,605.8L443.9,605.8L443.1,606.0L441.9,606.0L441.1,606.3L439.9,606.3L434.6,607.0L432.4,607.7L431.1,607.8L429.4,608.5L428.1,608.6L426.4,609.2L425.4,609.3L423.9,610.0L422.9,610.1L420.9,611.2L420.1,611.3L417.1,612.9L416.3,613.6L415.6,614.6L413.7,618.4L412.6,619.7ZM471.1,538.5L470.4,538.5L469.6,538.2L469.1,537.9L468.6,537.2L467.3,535.1L467.0,534.1L467.0,532.6L468.4,531.3L469.1,530.8L470.6,530.3L471.9,530.3L474.1,531.3L474.7,531.9L475.3,533.1L475.0,534.9L473.6,537.0L472.9,537.7L471.1,538.5ZM627.9,568.0L626.1,568.0L622.4,567.2L620.4,566.3L618.1,565.6L617.1,565.5L615.1,564.6L613.4,564.2L611.4,563.3L609.6,563.0L607.9,562.3L603.9,561.5L595.4,561.3L593.4,560.8L591.6,560.8L586.6,559.4L585.4,558.5L584.3,557.1L583.8,555.9L583.5,554.4L583.5,553.6L583.8,552.6L584.3,551.9L585.9,550.6L588.9,549.1L595.6,547.8L598.6,547.7L601.6,547.8L606.1,548.5L608.1,549.2L609.4,549.3L615.4,551.5L616.6,551.6L622.9,554.1L626.5,556.6L629.5,560.1L631.0,562.1L632.2,564.6L632.3,565.1L632.0,565.9L631.6,566.4L630.4,567.2L627.9,568.0ZM459.1,626.7L457.1,626.8L455.3,626.1L454.1,624.6L453.8,623.6L453.9,622.9L455.4,621.9L456.6,621.5L457.4,621.6L459.2,622.4L460.8,623.6L461.0,624.4L461.0,624.9L460.1,626.2L459.1,626.7ZM431.4,651.3L413.1,651.3L412.4,651.1L412.3,650.4L412.4,635.8L413.1,635.3L415.1,634.8L424.6,634.8L425.6,634.5L429.4,634.5L430.4,634.3L435.6,634.3L436.4,634.5L438.6,634.5L441.1,635.0L443.4,635.0L446.4,635.5L452.4,636.8L454.4,637.6L455.1,638.1L454.9,638.9L454.1,639.8L452.6,640.7L451.9,641.0L448.1,641.5L444.6,641.5L443.9,641.8L442.4,641.8L440.4,642.3L438.6,643.1L437.9,643.7L436.8,644.1L433.3,647.1L431.8,649.1L431.8,650.9L431.4,651.3Z"/>
<path fill-rule="evenodd" fill="#ff4d00" d="M619.1,527.2L615.1,527.3L613.4,527.0L610.1,526.2L604.6,524.0L600.9,522.0L597.1,519.5L586.4,511.1L583.6,509.6L580.1,508.6L578.1,508.3L575.9,508.3L573.1,507.8L569.6,507.8L568.9,507.5L566.1,507.5L565.4,507.3L556.4,507.0L555.4,506.8L549.4,506.8L548.4,506.5L541.9,506.5L540.9,506.3L537.4,506.3L536.4,506.0L531.1,506.0L530.1,505.8L523.1,505.8L518.1,506.5L515.4,506.5L513.4,506.0L511.6,506.0L507.1,505.2L505.4,504.6L501.1,503.7L495.4,501.8L491.6,501.3L485.6,499.7L483.4,498.7L481.3,497.1L480.6,496.5L480.1,495.4L481.1,495.3L661.1,495.3L662.1,495.4L662.3,497.9L661.9,498.4L656.6,499.8L652.4,501.8L651.3,502.6L645.5,509.1L639.0,517.9L636.9,520.3L634.5,522.4L632.9,523.5L630.4,524.7L624.9,526.3L621.1,527.0L619.6,527.0L619.1,527.2ZM452.9,535.7L447.1,535.8L444.6,535.0L443.9,534.5L442.6,533.1L442.0,531.6L442.1,530.6L443.9,529.6L445.6,529.0L447.1,528.8L450.6,528.8L454.6,529.3L457.4,530.3L458.3,531.1L458.7,531.9L458.8,532.4L458.4,533.4L457.6,534.4L456.1,535.2L452.9,535.7ZM496.4,593.2L489.9,593.3L488.9,593.0L482.9,592.8L475.1,591.5L472.6,590.3L470.4,588.0L469.3,585.9L469.5,584.1L469.3,583.1L469.3,581.9L468.3,578.1L469.4,574.9L469.0,573.6L468.4,573.1L466.6,572.3L463.6,571.8L461.9,571.8L461.1,571.5L457.6,571.3L456.4,571.0L453.9,569.0L452.8,567.6L452.0,565.9L452.3,563.9L452.7,562.9L452.9,561.9L455.0,557.9L457.9,555.0L460.4,553.3L462.1,552.6L466.4,551.5L470.6,551.3L471.4,551.0L476.6,551.0L477.6,551.3L481.4,551.3L482.1,551.5L484.1,551.5L486.1,552.0L488.1,552.0L491.9,552.8L495.1,554.2L496.9,554.6L497.9,555.2L499.1,555.3L500.4,555.1L503.9,556.6L519.4,564.5L522.9,566.1L525.1,567.4L525.1,567.6L523.9,568.5L522.1,570.6L521.6,571.6L521.3,572.9L522.5,575.1L521.8,577.9L521.8,579.6L521.5,580.4L521.5,583.6L521.8,584.4L521.8,586.6L522.0,587.4L521.7,587.9L516.6,589.7L514.6,590.3L513.6,590.3L511.9,591.0L510.6,591.1L508.6,591.8L502.6,592.8L500.4,592.8L499.6,593.0L496.9,593.0L496.4,593.2ZM618.4,559.2L615.9,559.3L614.6,559.0L613.1,558.0L612.6,556.9L611.8,554.4L611.8,553.4L612.3,552.6L614.1,551.8L615.6,551.8L617.6,552.6L619.5,554.1L620.0,554.9L620.3,556.4L619.2,558.6L618.4,559.2ZM526.4,588.0L525.9,588.0L525.1,587.5L524.5,585.9L524.0,582.1L524.1,576.1L524.6,575.9L528.4,576.5L531.9,576.6L532.0,579.9L530.7,584.9L530.3,585.6L529.5,586.4L527.9,587.4L526.4,588.0Z"/>
<path fill-rule="evenodd" fill="#ff0000" d="M618.6,525.5L614.1,525.5L610.4,524.2L604.9,521.5L603.6,520.6L601.9,519.7L598.1,517.1L594.1,514.1L591.5,511.9L588.9,510.5L587.9,509.6L584.1,507.8L581.9,507.5L579.9,506.8L576.6,506.8L573.9,506.3L566.1,506.0L565.1,505.8L560.1,505.8L558.9,505.5L550.4,505.5L549.1,505.3L542.4,505.3L541.6,505.0L538.1,505.0L537.4,504.8L535.1,504.8L534.4,504.5L531.9,504.5L529.4,504.0L523.6,504.0L518.1,505.0L516.1,505.0L512.1,504.2L509.1,503.1L508.1,503.0L502.4,500.5L499.4,499.0L498.1,498.1L496.9,497.6L492.1,496.8L489.1,496.0L486.6,495.7L486.2,495.4L489.9,495.3L661.1,495.3L662.1,495.4L662.3,496.4L662.1,496.9L651.9,499.8L649.9,501.0L642.1,511.3L639.6,515.0L636.1,519.0L634.4,520.5L632.9,521.5L629.6,523.0L628.6,523.1L625.4,524.3L620.6,525.3L619.1,525.3L618.6,525.5ZM495.4,585.2L489.4,585.3L485.4,584.5L481.9,583.2L478.9,581.3L476.6,579.0L476.1,577.9L475.9,577.1L476.1,576.9L476.9,577.1L480.1,578.7L480.9,578.7L480.5,577.9L475.5,572.9L471.9,570.3L470.6,569.9L468.6,568.6L467.6,568.2L466.1,567.1L465.6,566.9L464.4,566.0L463.6,565.1L462.6,563.1L462.3,561.9L462.3,560.4L463.5,558.6L464.8,557.4L467.1,555.9L470.9,554.8L473.4,554.8L474.4,554.5L479.9,554.5L480.6,554.8L482.6,554.8L489.6,556.3L492.6,557.7L493.4,557.9L496.9,559.8L500.0,561.9L505.4,567.3L510.4,571.3L512.4,573.3L513.1,573.8L514.2,575.1L514.7,576.1L514.9,576.6L514.7,577.4L513.2,580.6L511.5,582.9L509.9,583.9L506.4,584.8L503.1,584.8L502.1,585.0L496.1,585.0L495.4,585.2Z"/>
<path fill-rule="evenodd" fill="#cc0000" d="M616.9,523.2L613.9,523.0L609.9,521.5L605.1,518.4L595.6,511.3L591.6,508.8L588.4,507.1L585.1,505.6L584.1,505.3L579.6,504.5L576.6,504.5L575.9,504.3L564.4,504.0L563.1,503.8L558.1,503.8L556.9,503.5L550.4,503.5L549.1,503.3L542.4,503.3L541.6,503.0L538.1,503.0L537.4,502.8L535.1,502.8L534.4,502.5L531.9,502.5L529.4,502.0L523.6,502.0L518.9,503.0L516.1,503.0L514.9,502.7L513.1,501.9L510.8,500.1L509.7,498.9L508.1,498.1L501.6,496.7L499.9,496.2L498.6,495.7L498.5,495.4L501.9,495.3L651.4,495.3L653.8,495.4L653.6,495.7L652.6,496.0L643.6,498.1L642.1,498.9L633.3,511.9L632.5,513.6L631.0,515.9L629.3,517.6L625.1,520.4L621.9,522.0L616.9,523.2ZM481.4,564.5L478.1,564.3L476.1,563.5L474.9,562.1L474.9,560.6L475.9,559.8L477.9,559.0L481.4,559.0L484.1,559.8L485.2,561.1L485.2,562.4L484.1,563.5L482.6,564.2L481.4,564.5Z"/>
<path fill-rule="evenodd" fill="#990000" d="M583.9,502.0L575.9,502.0L574.9,501.8L573.1,501.8L572.4,501.5L566.4,501.5L565.1,501.3L557.9,501.3L556.6,501.0L547.1,501.0L545.9,500.8L539.9,500.8L538.9,500.5L535.1,500.5L534.4,500.3L531.9,500.3L530.9,500.0L522.9,500.0L521.1,500.5L518.6,500.6L517.4,500.5L515.6,499.9L513.6,498.7L512.6,497.8L511.6,497.3L508.6,496.5L507.1,495.6L507.0,495.4L509.6,495.3L595.9,495.3L597.1,495.4L596.7,495.9L596.1,496.2L590.1,498.8L588.5,500.4L587.1,501.2L583.9,502.0Z"/>
<path fill-rule="evenodd" fill="#a7dbe5" d="M542.9,557.0L538.9,557.0L535.4,556.5L533.4,555.7L532.7,553.6L531.6,552.8L510.6,548.7L509.1,548.1L505.6,547.2L502.9,546.1L501.9,546.0L500.4,545.3L499.4,545.2L497.6,544.6L496.6,544.5L495.1,543.8L494.1,543.7L490.6,542.3L488.9,542.0L487.6,541.3L486.9,541.2L485.1,540.3L483.9,539.0L483.1,537.6L482.8,535.6L482.8,534.1L483.1,533.1L484.6,530.3L486.1,528.3L487.6,527.1L490.9,525.1L492.6,524.7L494.1,524.1L496.9,523.5L498.9,523.5L509.4,521.3L525.6,518.5L528.4,518.5L529.1,518.3L531.6,518.3L532.4,518.0L534.4,518.0L536.1,517.8L536.6,517.5L536.9,516.9L537.4,516.8L541.1,516.8L542.1,517.0L544.9,517.0L553.9,518.5L555.4,518.8L556.9,519.5L557.9,519.6L559.7,520.6L561.0,521.9L562.5,525.1L563.0,528.6L563.0,533.9L562.0,539.4L560.8,542.6L560.5,544.4L558.7,547.9L557.4,549.7L554.0,552.6L548.9,555.5L545.9,556.5L544.4,556.5L542.9,557.0ZM661.9,556.3L660.4,556.3L658.1,555.8L656.6,555.1L654.9,554.7L652.6,553.5L650.3,551.6L648.3,549.1L646.8,546.4L646.1,544.6L645.8,543.6L645.8,542.9L646.4,541.6L648.1,540.3L650.9,539.1L655.1,538.0L660.1,537.8L662.1,537.1L662.3,555.6L662.1,556.1L661.9,556.3Z"/>
<path fill-rule="evenodd" fill="#7bbfd8" d="M542.6,551.2L534.6,551.2L533.9,550.9L533.8,550.4L534.8,549.4L535.6,549.0L536.0,548.4L535.7,547.9L534.9,547.6L531.9,547.0L525.6,546.3L510.6,543.8L497.4,541.0L493.1,539.7L492.1,539.1L490.9,538.7L490.1,537.9L489.8,536.9L490.4,535.8L491.9,534.3L494.9,532.3L499.1,530.3L500.1,530.2L502.1,529.5L508.9,528.3L511.1,528.3L512.1,528.0L515.9,528.0L516.6,527.8L518.9,527.8L519.6,527.5L523.6,527.5L524.4,527.3L529.4,527.0L530.9,526.7L535.1,524.3L536.9,523.8L538.9,523.8L541.1,524.3L542.1,524.3L544.4,525.0L545.6,525.1L551.1,527.4L554.1,529.5L556.3,531.6L557.0,532.9L557.7,535.4L557.8,537.9L557.2,540.1L556.2,542.9L555.3,543.9L554.3,545.6L552.1,547.8L551.1,548.5L548.1,550.0L542.6,551.2Z"/>
<path fill-rule="evenodd" fill="#5ea1d0" d="M539.6,547.5L534.0,547.4L534.1,547.1L535.1,547.0L538.9,546.2L539.1,545.9L538.9,545.8L537.1,545.8L536.1,546.0L534.6,546.0L533.6,545.3L531.4,545.3L528.1,544.5L526.6,544.5L522.6,543.4L520.8,541.9L520.1,540.6L519.8,539.6L519.8,538.1L520.3,536.9L520.6,536.4L521.9,535.6L524.6,534.6L526.1,534.5L526.9,534.3L530.6,534.3L531.6,534.0L532.6,533.2L533.8,531.1L534.4,530.5L536.1,529.8L539.4,530.3L543.6,531.8L547.6,533.6L549.4,534.8L550.5,535.9L551.2,537.4L551.3,540.4L550.7,542.6L550.2,543.6L549.1,544.8L547.4,545.9L542.4,547.3L540.1,547.3L539.6,547.5Z"/>
<path fill-rule="evenodd" fill="#2874b9" d="M536.4,545.9L534.5,545.9L534.9,545.6L536.6,545.6L537.1,545.3L538.6,545.3L539.1,544.9L535.9,544.8L535.1,544.5L532.6,544.5L529.9,544.0L528.6,543.3L527.9,543.2L526.6,542.5L524.4,540.5L524.3,539.9L524.4,539.4L525.4,538.6L527.9,537.6L529.1,537.3L530.4,537.3L531.4,537.0L538.6,537.0L539.1,536.9L539.4,536.6L538.9,536.2L538.1,536.2L537.4,535.7L536.9,535.6L536.7,535.4L536.9,535.4L538.9,536.1L539.6,536.1L540.9,536.3L543.4,537.6L544.9,538.8L546.0,541.1L545.5,542.9L544.4,544.0L542.9,544.9L541.9,545.2L539.1,545.8L536.6,545.7L536.4,545.9Z"/>
<path d="M412.1,578.9L412.7,577.8L414.0,576.4L414.9,575.4L415.4,573.6L414.3,572.8L415.4,571.8L415.4,570.9L414.0,569.7L413.3,568.4L412.9,566.8L411.5,565.9L411.8,564.7L412.9,563.9L414.0,563.1L416.3,562.5L416.3,561.9L414.7,561.5L413.2,561.4L412.1,562.0L410.8,562.2M412.1,558.0L414.0,556.6L415.7,557.0L414.9,558.7L414.3,559.7L415.2,559.4L416.3,558.6L418.0,558.1L419.1,558.0L419.9,558.4L420.5,559.5L420.1,560.5L421.1,561.4L422.6,561.5L422.9,562.5L422.4,563.7L422.7,564.7L422.2,566.2L423.6,566.2L424.9,565.8L426.5,565.4L427.1,564.8L427.2,563.4L427.1,562.3L426.0,560.9L425.4,560.0L424.1,558.9L424.3,558.1L425.7,557.6L427.6,556.6L427.7,555.5L429.1,554.2L430.1,553.3L431.6,552.8L433.0,553.6L435.1,552.8L436.8,551.6L439.0,549.7L440.8,547.8L441.8,546.4L444.0,544.7L444.4,543.0L444.4,541.6L445.8,539.4L445.7,538.1L444.7,537.1L443.0,535.8L440.5,536.0L439.3,535.2L438.6,534.6L439.9,534.1L441.0,532.8L443.5,530.3L446.1,528.8L448.0,527.7L451.0,527.5L453.8,527.5L456.9,527.7L458.6,527.1L461.3,527.8L462.9,528.2L465.8,527.7L467.1,527.4L467.7,526.6L469.9,524.1L472.6,523.6L475.2,524.3L475.1,525.0L473.8,525.5L475.7,525.7L478.8,524.1L480.4,522.9L481.6,523.3L479.9,524.4L480.8,525.7L478.0,527.2L477.2,528.9L475.5,530.2L472.6,531.3L470.2,532.4L469.0,534.4L468.2,536.1L469.1,538.6L469.7,540.8L471.1,539.9L472.7,537.8L474.6,536.7L474.9,535.6L477.7,534.4L478.0,532.8L480.1,532.5L479.0,531.6L479.3,530.0L480.5,529.1L480.8,528.0L483.5,526.8L484.6,526.0L486.6,526.1L489.7,525.7L491.3,526.6L494.1,525.0L496.8,523.8L500.7,522.7L504.9,522.9L504.6,521.9L502.2,521.0L504.0,519.9L502.2,519.3L504.3,519.0L506.1,518.6L508.5,518.2L511.6,518.0L514.7,519.4L517.1,519.7L518.6,519.1L517.4,518.0L519.9,517.2L522.2,517.1L521.0,516.3L517.1,515.8L513.2,515.2L509.3,514.0L506.1,512.9L502.2,511.8L497.6,511.2L493.6,511.0L491.0,511.5L489.6,512.9L485.8,511.6L481.9,511.5L477.2,511.8L476.3,510.5L471.8,509.6L467.1,509.3L462.4,509.6L459.7,508.7L456.1,507.6L451.5,507.3L446.0,506.6L443.6,507.1L439.0,508.7L435.8,508.5L431.9,509.1L429.6,509.8L427.2,508.7L426.5,507.1L424.9,506.5L423.3,505.5L420.2,505.5L417.9,506.3L414.0,506.5L411.6,506.3M427.6,568.3L428.3,571.4L429.1,571.8L429.7,571.2L430.4,569.7L431.1,568.4L430.7,567.8L429.6,567.3L428.6,567.3L427.7,567.8ZM431.9,568.4L432.7,569.2L433.6,568.1L434.7,568.3L435.4,567.5L435.1,566.8L433.5,566.5L432.6,567.0L431.8,567.9ZM429.4,567.2L429.9,566.5L431.6,565.4L433.0,564.7L435.1,564.7L436.5,564.8L437.4,564.2L438.6,562.6L439.4,561.7L439.3,562.8L441.0,562.3L442.6,560.6L443.3,558.9L443.6,557.5L443.5,556.9L444.1,555.9L445.2,555.9L445.8,555.6L446.0,556.9L446.8,558.3L446.3,559.5L446.0,560.5L445.2,560.9L445.2,562.5L444.7,563.6L445.1,564.5L444.1,565.3L443.5,565.8L443.2,565.1L442.4,565.3L441.8,566.2L441.0,566.1L439.6,566.1L438.6,566.7L437.9,567.3L437.1,567.9L436.1,567.5L436.0,566.7L436.5,566.1L434.9,565.9L433.3,566.4L431.8,566.7L431.0,567.3L429.9,567.3ZM443.6,555.5L444.3,554.8L445.1,555.0L445.5,555.0L447.2,554.4L448.8,554.7L449.7,553.6L451.3,553.1L452.4,552.7L451.9,552.2L451.9,551.4L450.4,551.6L448.8,550.9L447.2,549.7L446.3,549.4L446.1,550.9L445.8,552.2L445.5,552.8L444.4,552.7L443.5,553.7L444.0,554.4ZM446.6,548.4L446.9,547.5L447.7,547.5L449.1,548.3L448.6,547.0L447.6,546.1L448.3,543.8L450.7,543.8L449.1,541.9L448.6,539.7L448.6,538.0L448.8,536.7L447.9,535.5L447.2,535.6L447.7,536.6L446.5,538.0L446.3,540.0L446.9,542.2L446.8,543.8L446.8,545.6L446.9,546.9ZM452.2,552.2L453.4,551.6M454.3,551.1L455.2,550.5M456.0,550.0L456.8,549.7M457.4,549.4L458.4,548.9M459.3,548.4L460.1,547.8M460.8,547.3L461.7,546.8M462.4,546.4L463.4,545.6M464.3,545.0L465.0,544.6M465.7,544.2L466.5,543.6M467.1,543.1L467.8,542.4M468.3,541.9L468.9,541.5M412.6,584.3L412.9,585.1L413.6,586.0L414.0,584.9L414.7,583.7L415.4,582.0L415.5,581.2L414.7,580.7L414.0,581.2L413.3,582.0L412.7,583.2ZM413.3,591.3L414.3,591.2L415.8,591.3L416.1,593.4L415.8,594.9L414.9,595.6L414.9,597.4L415.4,598.4L416.5,598.0L417.6,598.5L418.5,598.7L419.0,599.9L418.6,600.5L417.7,599.9L416.5,599.3L415.5,598.8L414.6,598.8L413.8,598.5L413.3,597.6L413.2,597.0L412.2,595.6L412.1,594.8L413.0,594.3L413.0,592.7ZM419.1,600.7L420.2,600.5L421.3,601.2L421.3,602.9L420.5,603.0L419.7,604.3L420.2,604.6L420.8,604.9L419.9,605.8L419.1,603.5L419.3,602.1ZM415.4,601.6L416.5,602.3L417.4,602.9L417.2,603.8L416.9,605.2L416.0,604.8L415.5,603.8L415.5,602.6ZM417.7,603.2L418.6,602.7L418.6,604.0L417.9,605.2L417.4,604.3ZM415.5,609.3L416.8,608.3L418.0,608.0L418.5,607.1L419.9,606.3L421.0,605.2L422.1,605.8L422.4,607.3L422.7,608.8L421.9,610.1L421.1,611.5L420.5,610.7L419.1,610.5L418.8,609.0L417.7,608.5L416.8,608.8ZM411.6,628.8L413.0,628.8L412.9,625.7L414.0,624.4L414.7,627.2L416.8,627.8L416.0,625.3L417.6,621.8L414.7,621.8L417.1,621.0L419.3,619.6L420.5,617.9L419.4,618.6L416.8,619.0L413.8,618.2L412.4,619.3L412.7,621.8L411.6,621.0L412.1,619.7L410.8,624.1L410.5,624.9L411.6,625.7ZM424.1,617.4L424.9,616.6L424.9,618.0L426.0,618.5L425.2,619.3L426.3,619.7L425.2,621.6L424.4,620.8L424.0,619.3ZM424.7,625.3L425.8,624.6L427.7,624.6L429.4,625.5L428.8,625.8L425.8,625.7ZM421.8,625.2L423.0,625.0L423.6,625.8L422.7,626.1L421.8,626.0ZM417.9,636.3L419.3,635.0L420.5,634.2L423.2,633.3L423.8,633.5L422.1,634.6L420.4,635.6L418.6,636.4ZM412.1,633.9L413.6,633.1L415.5,633.3L417.1,633.1L416.6,633.8L414.7,633.9L413.2,634.1ZM410.5,633.9L411.1,633.5L410.8,633.0L409.7,633.3ZM418.6,633.3L420.2,632.7L420.4,633.3ZM431.8,629.4L433.0,628.6L433.6,629.2L432.4,629.6ZM434.6,629.6L435.5,628.6L435.7,630.5L434.6,630.8ZM429.6,622.2L430.5,621.4L431.9,620.8L433.5,621.3L434.4,621.6L434.6,623.6L435.2,624.4L436.3,625.5L437.4,624.4L439.3,623.0L441.5,623.0L443.3,623.8L445.1,624.3L446.6,624.7L448.3,625.5L450.2,626.3L451.8,627.2L452.7,628.3L454.0,629.4L455.5,629.6L455.8,630.7L454.9,631.6L456.1,632.7L457.1,634.2L458.2,634.6L459.0,635.8L460.2,636.4L458.8,636.6L457.1,636.1L455.2,635.2L454.4,634.1L453.2,632.8L451.1,632.1L449.4,632.7L448.8,634.2L447.6,634.7L445.2,634.4L443.6,633.1L442.4,632.8L441.3,633.3L440.5,631.9L441.8,630.8L440.5,628.8L438.6,627.8L436.6,627.1L434.6,626.3L433.6,625.7L432.4,626.6L431.3,624.7L433.2,623.9L431.8,623.6L430.1,622.7ZM456.6,628.9L457.7,629.4L459.7,628.8L460.7,628.8L461.8,627.8L463.0,626.9L462.2,628.5L461.6,629.6L459.3,630.0L457.2,629.9ZM460.5,624.4L462.2,625.2L463.3,626.1L464.1,627.4L463.5,627.2L462.7,626.3L461.5,625.3ZM466.5,628.6L468.0,630.0L468.5,630.8L467.4,630.3L466.6,629.4ZM469.4,630.5L471.0,631.6L472.2,632.1L474.6,633.1L474.7,633.5L473.3,632.8L471.3,632.1L469.6,631.0ZM474.3,634.6L475.5,634.6L476.1,635.5L474.9,635.5ZM475.8,633.3L476.5,633.3L477.2,635.0L476.8,635.2ZM476.9,636.1L478.2,636.4L478.5,637.0L477.2,636.6ZM485.2,643.1L486.1,643.8L486.0,644.5L485.4,644.2ZM487.1,645.2L487.7,645.6L487.4,646.1ZM487.6,647.5L488.2,647.7L487.9,648.1ZM489.0,649.2L489.4,649.7L489.1,650.2ZM481.1,651.7L482.7,652.3L484.9,653.9L485.8,655.0L484.9,654.8L483.2,653.7L481.6,652.5ZM501.9,647.5L503.0,647.2L504.0,648.0L503.5,648.6L502.1,648.4ZM504.0,646.1L505.4,645.6L506.1,645.5L505.1,646.4L504.3,646.6ZM411.6,651.6L413.2,651.1L414.7,649.5L416.0,647.7L416.3,646.4L417.6,646.1L418.3,645.5L419.3,644.4L420.7,643.0L421.9,642.0L423.2,641.7L424.6,642.7L425.2,643.4L426.5,643.4L427.4,642.8L427.6,641.7L428.3,640.8L429.0,639.5L430.1,639.1L432.1,639.2L432.1,638.3L433.5,638.6L434.9,639.1L436.3,639.2L437.4,638.9L438.6,639.4L438.0,640.8L437.2,641.6L436.8,643.3L437.9,644.5L440.1,645.5L441.1,646.6L442.6,647.3L443.6,647.8L444.9,647.3L445.8,645.5L446.1,643.6L446.1,641.3L446.3,639.7L446.9,638.0L447.6,636.9L448.0,638.0L448.6,639.4L449.3,641.7L450.1,642.5L451.6,643.4L452.1,645.0L452.6,646.6L453.3,648.9L454.0,650.0L455.5,650.8L457.2,651.7L458.5,653.4L459.7,655.0L460.5,655.8L461.1,657.5L463.0,658.9L464.1,660.1L464.1,662.3L464.9,664.7L464.3,667.5L463.5,670.0L462.4,671.4L461.3,672.9L460.7,674.2L459.6,675.7L459.3,677.6L459.1,678.7L456.5,679.2L455.2,679.6L453.5,681.0L452.2,679.9L451.1,680.1L450.5,679.8L449.1,680.7L447.2,680.1L445.2,679.6L443.6,678.5L443.2,677.3L442.6,676.0L441.3,675.7L440.8,674.8L441.1,673.7L440.2,671.4L439.6,673.2L438.8,674.0L437.2,674.5L436.3,673.9L436.1,672.8L434.6,671.7L433.5,670.4L431.5,670.1L429.9,669.3L426.5,669.7L423.3,670.6L420.2,671.7L418.6,672.6L417.6,673.1L415.5,673.1L413.2,673.1L411.6,673.2M543.8,590.6L545.5,589.8L545.1,589.2L543.8,588.7L543.5,589.5ZM542.6,587.6L543.6,587.9L542.9,588.1ZM540.1,586.5L541.0,587.0L540.4,587.0ZM537.7,585.7L538.5,585.6L538.2,586.0ZM541.6,587.1L542.6,587.3L541.9,587.3ZM662.4,606.5L661.8,607.3L662.4,608.3L661.8,608.8L660.8,608.2L659.7,607.7L657.9,607.6L656.6,606.8L656.8,605.7L655.1,605.2L654.4,604.8L653.3,604.0L653.5,603.0L652.2,601.8L650.7,600.1L649.1,599.6L647.6,599.1L645.8,598.5L644.0,597.9L642.7,597.0L641.1,595.6L639.3,594.9L637.4,595.7L635.1,595.2L633.5,594.8L631.5,594.0L628.8,592.7L626.9,592.1L625.2,591.3L623.5,590.1L622.4,588.4L623.0,587.0L622.4,585.4L621.0,583.9L619.4,582.1L617.4,580.4L616.5,579.2L614.7,577.5L613.5,576.5L612.1,575.0L611.0,572.9L609.6,571.5L608.0,570.7L608.3,572.5L610.1,574.5L611.1,576.2L612.4,578.7L613.6,580.9L614.9,582.4L616.5,584.0L615.5,584.5L614.0,582.8L612.2,581.8L612.1,580.0L610.5,578.4L609.1,577.3L608.8,575.9L606.6,573.2L605.4,571.4L604.4,569.5L603.5,567.9L602.1,567.2L600.7,566.5L599.0,566.2L598.6,564.8L596.9,563.1L596.0,561.2L595.2,560.5L594.0,558.1L593.0,557.2L593.5,555.3L593.0,553.4L593.3,551.9L593.6,549.2L593.6,548.0L593.3,546.4L592.6,544.7L594.0,545.0L595.5,545.3L596.1,546.4L595.5,543.9L594.9,543.1L592.9,542.4L591.1,541.6L588.6,540.6L587.6,539.4L586.6,538.0L584.6,536.3L584.0,534.9L582.7,533.9L581.1,532.5L578.8,531.0L576.8,529.4L575.2,528.3L573.3,528.2L570.5,527.2L568.6,527.1L566.3,526.6L563.2,526.6L560.8,526.0L558.5,525.4L556.5,525.7L555.2,526.6L553.3,527.1L551.5,527.7L550.2,527.4L550.7,525.7L552.9,524.7L551.1,525.0L549.1,526.3L547.6,527.5L546.5,528.5L544.4,529.4L542.4,530.8L540.1,531.9L538.2,533.0L535.8,533.9L533.5,534.6L531.1,535.0L529.9,535.2L531.9,534.4L534.3,533.2L536.6,531.9L539.4,530.3L541.1,528.9L539.7,528.5L537.4,528.6L534.7,528.8L534.0,527.4L531.1,526.6L529.3,525.7L528.8,524.6L528.0,523.5L529.9,522.2L530.7,521.6L533.5,521.1L535.8,521.0L535.8,519.7L533.0,519.7L530.4,519.6L527.7,519.4L527.1,518.3L524.9,517.9L527.2,516.9L530.4,516.5L532.7,516.9L534.6,516.8L533.5,515.8L531.5,515.4L528.8,514.1L526.9,513.5L530.4,512.7L532.7,511.6L534.4,510.5L538.2,509.8L542.1,509.0L544.4,509.4L548.3,509.6L552.2,510.2L556.1,510.5L560.1,510.8L564.0,510.8L567.1,511.5L570.2,511.8L573.3,512.6L575.7,511.9L578.0,511.6L580.4,511.5L582.7,511.2L585.1,510.8L587.4,510.4L589.0,510.7L591.3,511.9L592.9,511.5L596.0,511.3L599.1,511.9L603.0,512.4L606.1,512.7L609.3,513.7L612.4,514.4L615.5,514.1L618.6,513.5L621.8,512.7L624.9,513.7L629.6,514.4L633.5,514.4L635.8,513.5L638.2,514.0L639.7,512.6L638.2,510.5L636.6,509.1L639.0,508.0L640.8,508.7L642.9,510.2L644.4,511.6L646.0,513.3L648.3,512.2L649.9,513.3L652.2,514.1L654.6,512.1L657.7,511.3L660.8,512.1L660.1,513.3L658.5,514.9L662.4,516.0M662.4,522.2L659.3,522.5L656.1,521.5L653.0,520.8L650.7,520.4L648.3,520.4L645.7,521.1L642.9,522.7L641.3,524.3L640.2,525.8L639.4,527.7L641.3,528.5L642.9,530.5L646.0,531.0L649.1,531.9L652.2,533.0L654.6,533.9L658.5,534.2L659.0,536.7L660.1,538.6L662.4,540.2M662.4,520.4L660.1,520.7L657.7,520.0L653.8,519.0L652.2,517.6L653.8,516.9L656.9,518.0L660.1,518.8L662.4,519.6ZM662.4,578.5L662.2,580.0L661.6,580.9L660.7,580.9L659.7,579.8L659.1,578.7L658.2,577.3L658.2,576.1L657.7,574.8L656.6,573.6L655.4,573.4L654.0,573.9L652.2,572.8L649.9,572.6L647.9,572.9L647.4,574.2L647.9,575.0L646.5,574.8L644.4,574.2L642.1,573.9L639.7,574.2L638.2,575.3L636.1,576.4L635.4,577.6L635.2,579.6L634.9,582.0L634.6,584.6L635.1,586.2L635.8,588.1L636.9,589.8L638.2,590.9L639.7,591.8L642.1,591.5L643.6,591.2L644.7,590.9L645.7,589.8L646.2,587.8L647.6,587.0L649.9,586.7L651.5,586.7L651.8,587.8L650.7,589.6L650.2,591.3L649.6,592.9L649.0,595.4L650.7,595.6L653.0,595.4L655.4,595.6L657.2,596.8L656.9,599.1L656.8,602.3L656.6,603.2L657.7,604.6L659.0,605.8L660.1,606.5L661.6,606.0L662.4,605.7M662.4,584.5L660.8,584.2L658.7,584.2L656.9,584.5L654.7,586.0L655.5,586.0L657.4,585.7L658.8,584.9L660.5,585.4L661.6,585.9L662.4,586.0M643.5,547.3L646.0,547.5L649.1,546.9L650.7,547.7L653.0,547.3L655.2,547.7L654.9,546.6L653.8,545.5L652.1,544.2L649.4,544.1L647.6,545.3L645.5,546.3ZM650.2,555.1L651.8,555.1L652.6,553.9L652.7,552.3L652.2,550.6L653.6,549.5L654.9,548.8L653.8,548.6L651.5,548.9L650.5,550.2L650.1,551.9L650.2,553.7ZM658.7,553.1L659.3,551.6L659.7,550.0L661.6,549.2L662.4,548.4L660.1,548.1L656.8,548.3L655.2,548.6L657.1,550.0L657.2,551.6ZM656.9,555.1L659.3,555.5L661.6,554.5L662.4,553.9L660.1,553.7L657.7,554.4ZM635.5,541.4L636.9,541.0L636.0,539.1L634.6,537.2L633.0,536.1L634.3,538.3L635.1,540.2ZM603.8,525.0L606.1,525.2L610.1,524.6L612.4,523.2L614.7,522.4L611.6,522.5L608.5,522.9L606.1,524.1ZM592.1,518.8L595.2,519.0L599.9,518.0L602.2,516.9L599.1,516.3L596.8,517.2L593.6,517.6ZM665.5,608.5L666.3,610.1L666.6,611.6L666.5,614.0L666.6,614.7L665.5,616.1L664.1,617.7L662.7,618.6L662.2,619.7L661.8,621.0L661.0,621.9L661.3,623.2L662.1,624.3L662.7,624.1L661.9,625.5L661.0,625.8L660.4,627.4L660.8,628.5L660.7,629.4L661.6,630.0L662.9,631.4L664.0,633.1M644.3,620.7L644.9,621.1L645.2,621.8L644.6,621.8L644.3,621.3ZM645.8,621.0L646.5,621.1L646.2,621.4ZM592.1,508.0L594.4,509.1L598.3,508.8L602.2,507.4L603.8,506.3L600.7,504.9L597.6,504.1L592.9,504.4L591.3,506.3ZM602.2,508.7L603.8,510.2L606.1,510.5L610.8,510.7L615.5,511.0L623.3,512.6L628.0,512.2L629.6,510.2L626.5,508.7L623.3,506.6L618.6,506.0L614.7,506.6L610.1,506.8L606.1,506.9L603.0,507.6ZM603.8,503.2L608.5,503.8L614.0,503.8L618.6,503.4L621.8,503.2L623.3,502.0L618.6,501.2L614.0,501.3L608.5,501.2L604.6,501.6ZM595.2,501.6L599.9,501.8L604.6,500.7L606.1,499.6L603.0,499.5L597.6,500.7ZM629.6,507.1L633.5,508.2L635.1,507.1L635.8,505.2L632.7,504.9L629.6,505.7ZM637.4,507.9L641.3,507.6L645.2,506.9L646.0,505.2L641.3,504.6L638.2,505.2ZM637.4,504.0L643.6,503.8L649.9,504.0L656.1,504.0L660.8,503.7L662.4,502.7L659.3,502.0L654.6,501.8L648.3,500.9L643.6,501.6L640.5,502.3L637.4,502.9ZM631.1,503.2L633.5,502.6L631.9,501.3L628.8,501.6L629.6,502.7ZM621.0,502.1L624.9,502.4L625.7,501.3L622.6,500.9ZM630.4,498.5L632.7,499.1L635.1,498.5L632.7,497.1L630.4,497.6ZM624.1,498.7L627.2,499.0L629.6,497.9L626.5,497.0L622.6,497.7ZM637.4,498.5L642.1,499.1L646.8,498.2L649.9,497.0L652.2,494.9L646.8,494.6L641.3,495.7L638.2,497.0ZM635.8,512.6L637.4,513.2L639.0,512.6L638.2,511.8L635.8,511.8ZM646.8,500.9L653.0,501.2L657.7,501.0L662.4,501.2L662.4,495.4L657.7,494.9L654.6,496.2L651.5,497.7L648.3,499.3ZM439.4,503.0L441.3,503.4L444.4,503.7L448.3,503.4L446.8,502.3L443.6,501.8L439.0,501.8ZM449.1,502.6L453.0,503.2L459.3,502.9L457.7,501.8L453.0,502.0ZM444.1,505.7L445.5,505.1L449.1,505.7L447.6,506.2ZM504.1,509.4L506.9,509.8L510.1,509.1L507.7,508.5L505.4,508.7ZM424.9,506.3L427.2,506.0L426.5,505.1ZM515.5,539.1L514.4,539.2M513.2,539.2L512.0,539.3M510.8,539.4L509.3,539.3M507.7,539.2L506.5,539.5M505.4,539.9L504.2,539.5M503.0,539.2L501.9,538.9M500.7,538.6L498.7,538.2M496.8,537.8L495.6,537.7M494.4,537.5L508.1,537.8M521.8,538.0L523.3,537.6M524.9,537.2L526.1,536.9M527.2,536.6L528.0,536.2M546.8,531.9L549.1,530.8L549.4,529.7L547.6,530.0L546.0,531.0ZM519.1,520.7L521.8,521.5L523.8,521.5L521.8,520.8ZM526.6,526.4L528.6,526.8L528.5,526.0L527.1,526.0ZM581.1,536.0L582.7,537.1L581.6,538.8L580.4,537.5L579.6,536.1ZM594.6,544.7L592.6,544.4L590.7,543.4L588.6,542.2L586.8,541.0L588.6,541.3L591.3,541.9L593.6,543.3ZM577.2,531.3L575.2,530.5L574.6,529.4L576.8,529.7ZM579.6,534.1L578.2,533.2L577.7,531.6L579.3,532.4Z" fill="none" stroke="#000" stroke-width="0.95" stroke-linejoin="round"/>
<path fill="#000" d="M501.40,495.78a1,.8 0 1,0 2,0a1,.8 0 1,0 -2,0M509.47,495.78a1,.8 0 1,0 2,0a1,.8 0 1,0 -2,0M517.53,495.78a1,.8 0 1,0 2,0a1,.8 0 1,0 -2,0M525.60,495.78a1,.8 0 1,0 2,0a1,.8 0 1,0 -2,0M533.66,495.78a1,.8 0 1,0 2,0a1,.8 0 1,0 -2,0M541.73,495.78a1,.8 0 1,0 2,0a1,.8 0 1,0 -2,0M549.79,495.78a1,.8 0 1,0 2,0a1,.8 0 1,0 -2,0M557.86,495.78a1,.8 0 1,0 2,0a1,.8 0 1,0 -2,0M565.92,495.78a1,.8 0 1,0 2,0a1,.8 0 1,0 -2,0M573.99,495.78a1,.8 0 1,0 2,0a1,.8 0 1,0 -2,0M582.05,495.78a1,.8 0 1,0 2,0a1,.8 0 1,0 -2,0M590.12,495.78a1,.8 0 1,0 2,0a1,.8 0 1,0 -2,0M598.18,495.78a1,.8 0 1,0 2,0a1,.8 0 1,0 -2,0M606.25,495.78a1,.8 0 1,0 2,0a1,.8 0 1,0 -2,0M614.31,495.78a1,.8 0 1,0 2,0a1,.8 0 1,0 -2,0M622.38,495.78a1,.8 0 1,0 2,0a1,.8 0 1,0 -2,0M630.44,495.78a1,.8 0 1,0 2,0a1,.8 0 1,0 -2,0M638.51,495.78a1,.8 0 1,0 2,0a1,.8 0 1,0 -2,0M646.57,495.78a1,.8 0 1,0 2,0a1,.8 0 1,0 -2,0M654.64,495.78a1,.8 0 1,0 2,0a1,.8 0 1,0 -2,0M513.50,499.81a1,.8 0 1,0 2,0a1,.8 0 1,0 -2,0M521.57,499.81a1,.8 0 1,0 2,0a1,.8 0 1,0 -2,0M529.63,499.81a1,.8 0 1,0 2,0a1,.8 0 1,0 -2,0M537.70,499.81a1,.8 0 1,0 2,0a1,.8 0 1,0 -2,0M545.76,499.81a1,.8 0 1,0 2,0a1,.8 0 1,0 -2,0M553.83,499.81a1,.8 0 1,0 2,0a1,.8 0 1,0 -2,0M561.89,499.81a1,.8 0 1,0 2,0a1,.8 0 1,0 -2,0M569.96,499.81a1,.8 0 1,0 2,0a1,.8 0 1,0 -2,0M578.02,499.81a1,.8 0 1,0 2,0a1,.8 0 1,0 -2,0M586.09,499.81a1,.8 0 1,0 2,0a1,.8 0 1,0 -2,0M594.15,499.81a1,.8 0 1,0 2,0a1,.8 0 1,0 -2,0M602.22,499.81a1,.8 0 1,0 2,0a1,.8 0 1,0 -2,0M610.28,499.81a1,.8 0 1,0 2,0a1,.8 0 1,0 -2,0M618.35,499.81a1,.8 0 1,0 2,0a1,.8 0 1,0 -2,0M626.41,499.81a1,.8 0 1,0 2,0a1,.8 0 1,0 -2,0M634.48,499.81a1,.8 0 1,0 2,0a1,.8 0 1,0 -2,0M642.54,499.81a1,.8 0 1,0 2,0a1,.8 0 1,0 -2,0M525.60,503.85a1,.8 0 1,0 2,0a1,.8 0 1,0 -2,0M533.66,503.85a1,.8 0 1,0 2,0a1,.8 0 1,0 -2,0M541.73,503.85a1,.8 0 1,0 2,0a1,.8 0 1,0 -2,0M549.79,503.85a1,.8 0 1,0 2,0a1,.8 0 1,0 -2,0M557.86,503.85a1,.8 0 1,0 2,0a1,.8 0 1,0 -2,0M565.92,503.85a1,.8 0 1,0 2,0a1,.8 0 1,0 -2,0M573.99,503.85a1,.8 0 1,0 2,0a1,.8 0 1,0 -2,0M582.05,503.85a1,.8 0 1,0 2,0a1,.8 0 1,0 -2,0M590.12,503.85a1,.8 0 1,0 2,0a1,.8 0 1,0 -2,0M598.18,503.85a1,.8 0 1,0 2,0a1,.8 0 1,0 -2,0M606.25,503.85a1,.8 0 1,0 2,0a1,.8 0 1,0 -2,0M614.31,503.85a1,.8 0 1,0 2,0a1,.8 0 1,0 -2,0M622.38,503.85a1,.8 0 1,0 2,0a1,.8 0 1,0 -2,0M630.44,503.85a1,.8 0 1,0 2,0a1,.8 0 1,0 -2,0M638.51,503.85a1,.8 0 1,0 2,0a1,.8 0 1,0 -2,0M578.02,507.88a1,.8 0 1,0 2,0a1,.8 0 1,0 -2,0M586.09,507.88a1,.8 0 1,0 2,0a1,.8 0 1,0 -2,0M594.15,507.88a1,.8 0 1,0 2,0a1,.8 0 1,0 -2,0M602.22,507.88a1,.8 0 1,0 2,0a1,.8 0 1,0 -2,0M610.28,507.88a1,.8 0 1,0 2,0a1,.8 0 1,0 -2,0M618.35,507.88a1,.8 0 1,0 2,0a1,.8 0 1,0 -2,0M626.41,507.88a1,.8 0 1,0 2,0a1,.8 0 1,0 -2,0M634.48,507.88a1,.8 0 1,0 2,0a1,.8 0 1,0 -2,0M598.18,511.91a1,.8 0 1,0 2,0a1,.8 0 1,0 -2,0M606.25,511.91a1,.8 0 1,0 2,0a1,.8 0 1,0 -2,0M614.31,511.91a1,.8 0 1,0 2,0a1,.8 0 1,0 -2,0M622.38,511.91a1,.8 0 1,0 2,0a1,.8 0 1,0 -2,0M630.44,511.91a1,.8 0 1,0 2,0a1,.8 0 1,0 -2,0M602.22,515.95a1,.8 0 1,0 2,0a1,.8 0 1,0 -2,0M610.28,515.95a1,.8 0 1,0 2,0a1,.8 0 1,0 -2,0M618.35,515.95a1,.8 0 1,0 2,0a1,.8 0 1,0 -2,0M626.41,515.95a1,.8 0 1,0 2,0a1,.8 0 1,0 -2,0M614.31,519.98a1,.8 0 1,0 2,0a1,.8 0 1,0 -2,0M622.38,519.98a1,.8 0 1,0 2,0a1,.8 0 1,0 -2,0M630.44,519.98a1,.8 0 1,0 2,0a1,.8 0 1,0 -2,0M537.70,524.01a1,.8 0 1,0 2,0a1,.8 0 1,0 -2,0M545.76,524.01a1,.8 0 1,0 2,0a1,.8 0 1,0 -2,0M501.40,528.05a1,.8 0 1,0 2,0a1,.8 0 1,0 -2,0M509.47,528.05a1,.8 0 1,0 2,0a1,.8 0 1,0 -2,0M517.53,528.05a1,.8 0 1,0 2,0a1,.8 0 1,0 -2,0M525.60,528.05a1,.8 0 1,0 2,0a1,.8 0 1,0 -2,0M533.66,528.05a1,.8 0 1,0 2,0a1,.8 0 1,0 -2,0M541.73,528.05a1,.8 0 1,0 2,0a1,.8 0 1,0 -2,0M549.79,528.05a1,.8 0 1,0 2,0a1,.8 0 1,0 -2,0M497.38,532.08a1,.8 0 1,0 2,0a1,.8 0 1,0 -2,0M505.44,532.08a1,.8 0 1,0 2,0a1,.8 0 1,0 -2,0M513.50,532.08a1,.8 0 1,0 2,0a1,.8 0 1,0 -2,0M521.57,532.08a1,.8 0 1,0 2,0a1,.8 0 1,0 -2,0M529.63,532.08a1,.8 0 1,0 2,0a1,.8 0 1,0 -2,0M537.70,532.08a1,.8 0 1,0 2,0a1,.8 0 1,0 -2,0M545.76,532.08a1,.8 0 1,0 2,0a1,.8 0 1,0 -2,0M553.83,532.08a1,.8 0 1,0 2,0a1,.8 0 1,0 -2,0M493.34,536.11a1,.8 0 1,0 2,0a1,.8 0 1,0 -2,0M501.40,536.11a1,.8 0 1,0 2,0a1,.8 0 1,0 -2,0M509.47,536.11a1,.8 0 1,0 2,0a1,.8 0 1,0 -2,0M517.53,536.11a1,.8 0 1,0 2,0a1,.8 0 1,0 -2,0M525.60,536.11a1,.8 0 1,0 2,0a1,.8 0 1,0 -2,0M533.66,536.11a1,.8 0 1,0 2,0a1,.8 0 1,0 -2,0M541.73,536.11a1,.8 0 1,0 2,0a1,.8 0 1,0 -2,0M549.79,536.11a1,.8 0 1,0 2,0a1,.8 0 1,0 -2,0M557.86,536.11a1,.8 0 1,0 2,0a1,.8 0 1,0 -2,0M497.38,540.14a1,.8 0 1,0 2,0a1,.8 0 1,0 -2,0M505.44,540.14a1,.8 0 1,0 2,0a1,.8 0 1,0 -2,0M513.50,540.14a1,.8 0 1,0 2,0a1,.8 0 1,0 -2,0M521.57,540.14a1,.8 0 1,0 2,0a1,.8 0 1,0 -2,0M529.63,540.14a1,.8 0 1,0 2,0a1,.8 0 1,0 -2,0M537.70,540.14a1,.8 0 1,0 2,0a1,.8 0 1,0 -2,0M545.76,540.14a1,.8 0 1,0 2,0a1,.8 0 1,0 -2,0M553.83,540.14a1,.8 0 1,0 2,0a1,.8 0 1,0 -2,0M501.40,544.18a1,.8 0 1,0 2,0a1,.8 0 1,0 -2,0M509.47,544.18a1,.8 0 1,0 2,0a1,.8 0 1,0 -2,0M517.53,544.18a1,.8 0 1,0 2,0a1,.8 0 1,0 -2,0M525.60,544.18a1,.8 0 1,0 2,0a1,.8 0 1,0 -2,0M533.66,544.18a1,.8 0 1,0 2,0a1,.8 0 1,0 -2,0M541.73,544.18a1,.8 0 1,0 2,0a1,.8 0 1,0 -2,0M549.79,544.18a1,.8 0 1,0 2,0a1,.8 0 1,0 -2,0M513.50,548.21a1,.8 0 1,0 2,0a1,.8 0 1,0 -2,0M521.57,548.21a1,.8 0 1,0 2,0a1,.8 0 1,0 -2,0M529.63,548.21a1,.8 0 1,0 2,0a1,.8 0 1,0 -2,0M537.70,548.21a1,.8 0 1,0 2,0a1,.8 0 1,0 -2,0M545.76,548.21a1,.8 0 1,0 2,0a1,.8 0 1,0 -2,0M553.83,548.21a1,.8 0 1,0 2,0a1,.8 0 1,0 -2,0M533.66,552.24a1,.8 0 1,0 2,0a1,.8 0 1,0 -2,0M541.73,552.24a1,.8 0 1,0 2,0a1,.8 0 1,0 -2,0M465.12,556.28a1,.8 0 1,0 2,0a1,.8 0 1,0 -2,0M473.18,556.28a1,.8 0 1,0 2,0a1,.8 0 1,0 -2,0M481.25,556.28a1,.8 0 1,0 2,0a1,.8 0 1,0 -2,0M489.31,556.28a1,.8 0 1,0 2,0a1,.8 0 1,0 -2,0M469.14,560.31a1,.8 0 1,0 2,0a1,.8 0 1,0 -2,0M477.21,560.31a1,.8 0 1,0 2,0a1,.8 0 1,0 -2,0M485.27,560.31a1,.8 0 1,0 2,0a1,.8 0 1,0 -2,0M493.34,560.31a1,.8 0 1,0 2,0a1,.8 0 1,0 -2,0M465.12,564.34a1,.8 0 1,0 2,0a1,.8 0 1,0 -2,0M473.18,564.34a1,.8 0 1,0 2,0a1,.8 0 1,0 -2,0M481.25,564.34a1,.8 0 1,0 2,0a1,.8 0 1,0 -2,0M489.31,564.34a1,.8 0 1,0 2,0a1,.8 0 1,0 -2,0M497.38,564.34a1,.8 0 1,0 2,0a1,.8 0 1,0 -2,0M469.14,568.38a1,.8 0 1,0 2,0a1,.8 0 1,0 -2,0M477.21,568.38a1,.8 0 1,0 2,0a1,.8 0 1,0 -2,0M485.27,568.38a1,.8 0 1,0 2,0a1,.8 0 1,0 -2,0M493.34,568.38a1,.8 0 1,0 2,0a1,.8 0 1,0 -2,0M501.40,568.38a1,.8 0 1,0 2,0a1,.8 0 1,0 -2,0M473.18,572.41a1,.8 0 1,0 2,0a1,.8 0 1,0 -2,0M481.25,572.41a1,.8 0 1,0 2,0a1,.8 0 1,0 -2,0M489.31,572.41a1,.8 0 1,0 2,0a1,.8 0 1,0 -2,0M497.38,572.41a1,.8 0 1,0 2,0a1,.8 0 1,0 -2,0M477.21,576.44a1,.8 0 1,0 2,0a1,.8 0 1,0 -2,0M485.27,576.44a1,.8 0 1,0 2,0a1,.8 0 1,0 -2,0M493.34,576.44a1,.8 0 1,0 2,0a1,.8 0 1,0 -2,0M501.40,576.44a1,.8 0 1,0 2,0a1,.8 0 1,0 -2,0M481.25,580.47a1,.8 0 1,0 2,0a1,.8 0 1,0 -2,0M489.31,580.47a1,.8 0 1,0 2,0a1,.8 0 1,0 -2,0M497.38,580.47a1,.8 0 1,0 2,0a1,.8 0 1,0 -2,0M493.34,584.51a1,.8 0 1,0 2,0a1,.8 0 1,0 -2,0M501.40,584.51a1,.8 0 1,0 2,0a1,.8 0 1,0 -2,0"/>
</g>
<rect x="412.4" y="495.4" width="250.0" height="156.0" fill="none" stroke="#8e8e8e" stroke-width="1.0"/>
<path d="M406.9,495.4H412.4M409.2,511.0H412.4M406.9,526.6H412.4M409.2,542.2H412.4M406.9,557.8H412.4M409.2,573.4H412.4M406.9,589.0H412.4M409.2,604.6H412.4M406.9,620.2H412.4M409.2,635.8H412.4M406.9,651.4H412.4M412.4,651.4V654.6M428.0,651.4V654.6M443.6,651.4V656.9M459.3,651.4V654.6M474.9,651.4V654.6M490.5,651.4V654.6M506.1,651.4V656.9M521.8,651.4V654.6M537.4,651.4V654.6M553.0,651.4V654.6M568.6,651.4V656.9M584.3,651.4V654.6M599.9,651.4V654.6M615.5,651.4V654.6M631.1,651.4V656.9M646.8,651.4V654.6M662.4,651.4V654.6" stroke="#8e8e8e" stroke-width="1.0" fill="none"/>
<text x="396.2" y="501.5" text-anchor="end" font-size="16.3" font-family="Liberation Sans, sans-serif">80<tspan font-size="11" dy="-6.9">o</tspan><tspan dy="6.9">N</tspan></text>
<text x="396.2" y="532.7" text-anchor="end" font-size="16.3" font-family="Liberation Sans, sans-serif">60<tspan font-size="11" dy="-6.9">o</tspan><tspan dy="6.9">N</tspan></text>
<text x="396.2" y="563.9" text-anchor="end" font-size="16.3" font-family="Liberation Sans, sans-serif">40<tspan font-size="11" dy="-6.9">o</tspan><tspan dy="6.9">N</tspan></text>
<text x="396.2" y="595.1" text-anchor="end" font-size="16.3" font-family="Liberation Sans, sans-serif">20<tspan font-size="11" dy="-6.9">o</tspan><tspan dy="6.9">N</tspan></text>
<text x="396.2" y="626.3" text-anchor="end" font-size="16.3" font-family="Liberation Sans, sans-serif">0<tspan font-size="11" dy="-6.9">o</tspan></text>
<text x="396.2" y="657.5" text-anchor="end" font-size="16.3" font-family="Liberation Sans, sans-serif">20<tspan font-size="11" dy="-6.9">o</tspan><tspan dy="6.9">S</tspan></text>
<text x="443.6" y="683.0" text-anchor="middle" font-size="16.3" font-family="Liberation Sans, sans-serif">140<tspan font-size="11" dy="-6.9">o</tspan><tspan dy="6.9">E</tspan></text>
<text x="506.1" y="683.0" text-anchor="middle" font-size="16.3" font-family="Liberation Sans, sans-serif">180<tspan font-size="11" dy="-6.9">o</tspan></text>
<text x="568.6" y="683.0" text-anchor="middle" font-size="16.3" font-family="Liberation Sans, sans-serif">140<tspan font-size="11" dy="-6.9">o</tspan><tspan dy="6.9">W</tspan></text>
<text x="631.1" y="683.0" text-anchor="middle" font-size="16.3" font-family="Liberation Sans, sans-serif">100<tspan font-size="11" dy="-6.9">o</tspan><tspan dy="6.9">W</tspan></text>
<text x="663.0" y="489.2" text-anchor="end" font-size="16.6" font-family="Liberation Sans, sans-serif">JFM(2)</text>
<text x="-1.4" y="23.9" font-size="36" font-family="Liberation Serif, serif" stroke="#000" stroke-width="0.45">a</text>
<text x="340.6" y="25.1" font-size="36" font-family="Liberation Serif, serif" stroke="#000" stroke-width="0.45">b</text>
<text x="-1.4" y="253.3" font-size="36" font-family="Liberation Serif, serif" stroke="#000" stroke-width="0.45">c</text>
<text x="341.0" y="254.8" font-size="36" font-family="Liberation Serif, serif" stroke="#000" stroke-width="0.45">d</text>
<text x="-1.4" y="480.8" font-size="36" font-family="Liberation Serif, serif" stroke="#000" stroke-width="0.45">e</text>
<text x="341.4" y="482.4" font-size="36" font-family="Liberation Serif, serif" stroke="#000" stroke-width="0.45">f</text>
<rect x="78.20" y="705.8" width="40.62" height="13.7" fill="#0a2f6b" stroke="#222" stroke-width="0.9"/>
<rect x="118.82" y="705.8" width="40.62" height="13.7" fill="#0b519d" stroke="#222" stroke-width="0.9"/>
<rect x="159.44" y="705.8" width="40.62" height="13.7" fill="#2874b9" stroke="#222" stroke-width="0.9"/>
<rect x="200.06" y="705.8" width="40.62" height="13.7" fill="#5ea1d0" stroke="#222" stroke-width="0.9"/>
<rect x="240.68" y="705.8" width="40.62" height="13.7" fill="#7bbfd8" stroke="#222" stroke-width="0.9"/>
<rect x="281.30" y="705.8" width="40.62" height="13.7" fill="#a7dbe5" stroke="#222" stroke-width="0.9"/>
<rect x="321.92" y="705.8" width="40.62" height="13.7" fill="#ffffff" stroke="#222" stroke-width="0.9"/>
<rect x="362.54" y="705.8" width="40.62" height="13.7" fill="#ffd82e" stroke="#222" stroke-width="0.9"/>
<rect x="403.16" y="705.8" width="40.62" height="13.7" fill="#ff8c00" stroke="#222" stroke-width="0.9"/>
<rect x="443.78" y="705.8" width="40.62" height="13.7" fill="#ff4d00" stroke="#222" stroke-width="0.9"/>
<rect x="484.40" y="705.8" width="40.62" height="13.7" fill="#ff0000" stroke="#222" stroke-width="0.9"/>
<rect x="525.02" y="705.8" width="40.62" height="13.7" fill="#cc0000" stroke="#222" stroke-width="0.9"/>
<rect x="565.64" y="705.8" width="40.62" height="13.7" fill="#990000" stroke="#222" stroke-width="0.9"/>
<text x="118.82" y="735.4" text-anchor="middle" font-size="15.6" font-family="Liberation Sans, sans-serif">-1.5</text>
<text x="159.44" y="735.4" text-anchor="middle" font-size="15.6" font-family="Liberation Sans, sans-serif">-1.25</text>
<text x="200.06" y="735.4" text-anchor="middle" font-size="15.6" font-family="Liberation Sans, sans-serif">-1</text>
<text x="240.68" y="735.4" text-anchor="middle" font-size="15.6" font-family="Liberation Sans, sans-serif">-0.75</text>
<text x="281.30" y="735.4" text-anchor="middle" font-size="15.6" font-family="Liberation Sans, sans-serif">-0.5</text>
<text x="321.92" y="735.4" text-anchor="middle" font-size="15.6" font-family="Liberation Sans, sans-serif">-0.25</text>
<text x="362.54" y="735.4" text-anchor="middle" font-size="15.6" font-family="Liberation Sans, sans-serif">0.25</text>
<text x="403.16" y="735.4" text-anchor="middle" font-size="15.6" font-family="Liberation Sans, sans-serif">0.5</text>
<text x="443.78" y="735.4" text-anchor="middle" font-size="15.6" font-family="Liberation Sans, sans-serif">0.75</text>
<text x="484.40" y="735.4" text-anchor="middle" font-size="15.6" font-family="Liberation Sans, sans-serif">1</text>
<text x="525.02" y="735.4" text-anchor="middle" font-size="15.6" font-family="Liberation Sans, sans-serif">1.25</text>
<text x="565.64" y="735.4" text-anchor="middle" font-size="15.6" font-family="Liberation Sans, sans-serif">1.5</text>
<text x="7.6" y="718.7" font-size="17.2" textLength="67.2" lengthAdjust="spacingAndGlyphs" font-family="Liberation Sans, sans-serif">SSTa (°C)</text>
<text x="611.0" y="719.9" font-size="17" textLength="75.5" lengthAdjust="spacingAndGlyphs" font-family="Liberation Sans, sans-serif">SLPa (s.d.)</text>
</svg></body></html>
